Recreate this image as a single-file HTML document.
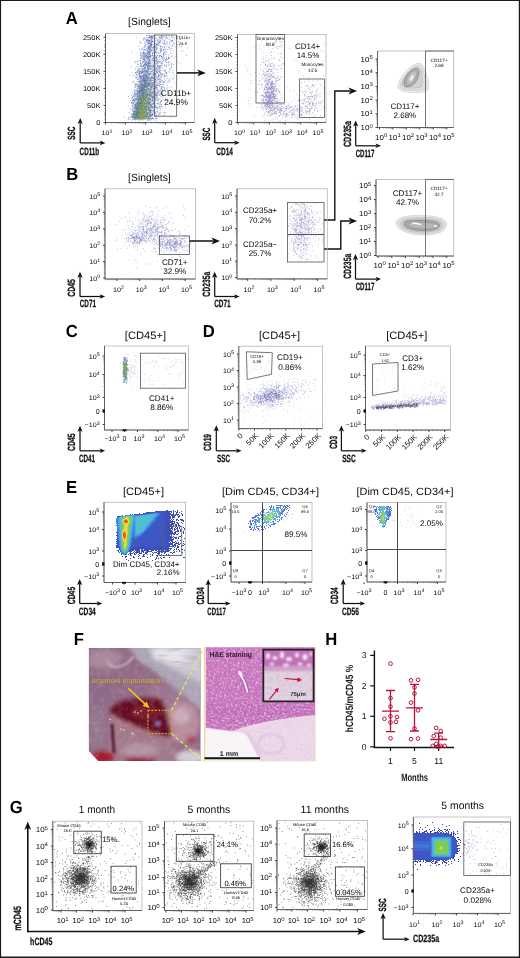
<!DOCTYPE html><html><head><meta charset="utf-8"><style>html,body{margin:0;padding:0;background:#fff}svg{display:block;will-change:transform}text{font-family:"Liberation Sans",sans-serif}</style></head><body>
<svg width="520" height="958" viewBox="0 0 520 958" text-rendering="geometricPrecision">
<defs>
<filter id="bs" x="-10%" y="-10%" width="120%" height="120%"><feGaussianBlur stdDeviation="0.35"/></filter>
<filter id="b1" x="-30%" y="-30%" width="160%" height="160%"><feGaussianBlur stdDeviation="1"/></filter>
<filter id="b2" x="-30%" y="-30%" width="160%" height="160%"><feGaussianBlur stdDeviation="2"/></filter>
<filter id="b3" x="-30%" y="-30%" width="160%" height="160%"><feGaussianBlur stdDeviation="3"/></filter>
<filter id="b5" x="-30%" y="-30%" width="160%" height="160%"><feGaussianBlur stdDeviation="5"/></filter>
<filter id="he" x="0" y="0" width="100%" height="100%"><feTurbulence type="fractalNoise" baseFrequency="0.45" numOctaves="2" seed="3"/><feColorMatrix type="matrix" values="0 0 0 0 0.92  0 0 0 0 0.66  0 0 0 0 0.9  2.4 0 0 0 -1.12"/></filter>
<filter id="hed" x="0" y="0" width="100%" height="100%"><feTurbulence type="fractalNoise" baseFrequency="0.5" numOctaves="2" seed="11"/><feColorMatrix type="matrix" values="0 0 0 0 0.56  0 0 0 0 0.22  0 0 0 0 0.6  0 3 0 0 -1.35"/></filter>
<filter id="he2" x="0" y="0" width="100%" height="100%"><feTurbulence type="fractalNoise" baseFrequency="0.5" numOctaves="2" seed="9"/><feColorMatrix type="matrix" values="0 0 0 0 0.75  0 0 0 0 0.5  0 0 0 0 0.75  0 3 0 0 -1.45"/></filter>
</defs>
<rect x="0" y="0" width="520" height="958" fill="#fff"/>
<text transform="translate(71.7,23.6) scale(0.95,1)" font-size="17.5" font-weight="bold" text-anchor="middle" fill="#000">A</text>
<text x="149.4" y="25.4" font-size="10.5" text-anchor="middle" fill="#0a0a0a" textLength="42.6" lengthAdjust="spacingAndGlyphs">[Singlets]</text>
<path d="M146 35.5h1m.5 0h1m.5 0h1m-.5 0h1m1 0h1m0 0h1m-.5 0h1m12 0h1m1.5 0h1m-21 .5h1m1 0h1m-.5 0h1m.5 0h1m.5 0h1m0 0h1m4 0h1m.5 0h1m-.5 0h1m.5 0h1m7 0h1m-23 .5h1m0 0h1m-.5 0h1m-.5 0h1m6.5 0h1m1 0h1m.5 0h1m2.5 0h1m4 0h1m.5 0h1m-24.5 .5h1m1.5 0h1m-.5 0h1m-.5 0h1m6 0h1m.5 0h1m1.5 0h1m0 0h1m-29 .5h1m9 0h1m1 0h1m-.5 0h1m0 0h1m-.5 0h1m-.5 0h1m-.5 0h1m-.5 0h1m5 0h1m2.5 0h1m3 0h1m0 0h1m1.5 0h1m1.5 0h1m-28 .5h1m2.5 0h1m-.5 0h1m.5 0h1m-.5 0h1m.5 0h1m2 0h1m3 0h1m.5 0h1m0 0h1m-.5 0h1m11.5 0h1m-32.5 .5h1m0 0h1m5 0h1m.5 0h1m0 0h1m2.5 0h1m3 0h1m-.5 0h1m4 0h1m.5 0h1m4.5 0h1m-30 .5h1m2 0h1m2.5 0h1m1.5 0h1m1 0h1m3 0h1m10 0h1m-25 .5h1m0 0h1m-.5 0h1m3 0h1m5 0h1m4 0h1m5.5 0h1m10 0h1m-.5 0h1m-38 .5h1m-.5 0h1m3.5 0h1m0 0h1m1 0h1m2 0h1m2.5 0h1m1 0h1m3 0h1m.5 0h1m6 0h1m1 0h1m-29 .5h1m-.5 0h1m-.5 0h1m-.5 0h1m-.5 0h1m0 0h1m-.5 0h1m0 0h1m0 0h1m1.5 0h1m0 0h1m1.5 0h1m1.5 0h1m9 0h1m0 0h1m0 0h1m-33.5 .5h1m5.5 0h1m-.5 0h1m0 0h1m0 0h1m-.5 0h1m0 0h1m1 0h1m4 0h1m1 0h1m.5 0h1m1.5 0h1m0 0h1m7 0h1m-28 .5h1m2.5 0h1m1.5 0h1m-.5 0h1m-.5 0h1m0 0h1m3.5 0h1m7.5 0h1m4 0h1m5.5 0h1m-33 .5h1m1 0h1m0 0h1m0 0h1m3.5 0h1m3 0h1m0 0h1m0 0h1m3 0h1m7 0h1m-33 .5h1m3 0h1m3 0h1m1.5 0h1m-.5 0h1m-.5 0h1m.5 0h1m2 0h1m2 0h1m.5 0h1m5 0h1m1.5 0h1m-29.5 .5h1m7 0h1m-.5 0h1m1 0h1m6.5 0h1m-.5 0h1m2 0h1m.5 0h1m2.5 0h1m5 0h1m-26.5 .5h1m-.5 0h1m-.5 0h1m-.5 0h1m-.5 0h1m-.5 0h1m4 0h1m.5 0h1m.5 0h1m4.5 0h1m.5 0h1m8 0h1m-35.5 .5h1m4 0h1m1 0h1m-.5 0h1m1.5 0h1m-.5 0h1m-.5 0h1m-.5 0h1m-.5 0h1m1.5 0h1m1.5 0h1m-.5 0h1m5.5 0h1m-.5 0h1m4 0h1m.5 0h1m4.5 0h1m-32 .5h1m-.5 0h1m3.5 0h1m0 0h1m-.5 0h1m3 0h1m-.5 0h1m0 0h1m7 0h1m11 0h1m-29.5 .5h1m1 0h1m-.5 0h1m-.5 0h1m.5 0h1m0 0h1m0 0h1m2.5 0h1m0 0h1m6.5 0h1m5.5 0h1m-30.5 .5h1m4 0h1m-.5 0h1m-.5 0h1m-.5 0h1m-.5 0h1m3.5 0h1m-.5 0h1m1 0h1m13 0h1m-28 .5h1m1.5 0h1m-.5 0h1m1 0h1m-.5 0h1m4 0h1m.5 0h1m10.5 0h1m1 0h1m-33.5 .5h1m5.5 0h1m2 0h1m-.5 0h1m.5 0h1m-.5 0h1m2 0h1m-.5 0h1m0 0h1m4.5 0h1m0 0h1m3.5 0h1m6 0h1m7.5 0h1m-36.5 .5h1m1 0h1m0 0h1m0 0h1m.5 0h1m.5 0h1m0 0h1m-.5 0h1m.5 0h1m3.5 0h1m1 0h1m.5 0h1m-.5 0h1m10 0h1m3.5 0h1m-38 .5h1m.5 0h1m2.5 0h1m0 0h1m-.5 0h1m0 0h1m0 0h1m.5 0h1m0 0h1m-.5 0h1m-.5 0h1m-.5 0h1m.5 0h1m6.5 0h1m3 0h1m0 0h1m-22 .5h1m-.5 0h1m0 0h1m1.5 0h1m-.5 0h1m0 0h1m-.5 0h1m1.5 0h1m2.5 0h1m26 0h1m-46 .5h1m4 0h1m0 0h1m.5 0h1m-.5 0h1m.5 0h1m4 0h1m2 0h1m1 0h1m2 0h1m5 0h1m0 0h1m-33.5 .5h1m3.5 0h1m1.5 0h1m.5 0h1m0 0h1m0 0h1m-.5 0h1m3 0h1m0 0h1m0 0h1m-.5 0h1m11.5 0h1m-29.5 .5h1m2 0h1m0 0h1m-.5 0h1m2.5 0h1m-.5 0h1m3 0h1m1 0h1m4 0h1m0 0h1m1 0h1m-.5 0h1m1 0h1m2 0h1m-28.5 .5h1m.5 0h1m2 0h1m.5 0h1m-.5 0h1m.5 0h1m0 0h1m-.5 0h1m-.5 0h1m4 0h1m3.5 0h1m3 0h1m1.5 0h1m-22.5 .5h1m2 0h1m-.5 0h1m.5 0h1m-.5 0h1m-.5 0h1m-.5 0h1m.5 0h1m0 0h1m4.5 0h1m.5 0h1m.5 0h1m9 0h1m-30.5 .5h1m3.5 0h1m1.5 0h1m6.5 0h1m1 0h1m0 0h1m8 0h1m10 0h1m1 0h1m-37.5 .5h1m-.5 0h1m0 0h1m-.5 0h1m0 0h1m4.5 0h1m4.5 0h1m3 0h1m-34 .5h1m7.5 0h1m1.5 0h1m0 0h1m3 0h1m-.5 0h1m.5 0h1m-.5 0h1m-.5 0h1m1.5 0h1m1 0h1m-.5 0h1m-.5 0h1m7.5 0h1m0 0h1m-27 .5h1m2 0h1m-.5 0h1m-.5 0h1m2 0h1m-.5 0h1m-.5 0h1m0 0h1m-.5 0h1m-.5 0h1m1.5 0h1m-.5 0h1m1 0h1m0 0h1m.5 0h1m2 0h1m2 0h1m-20.5 .5h1m-.5 0h1m0 0h1m1.5 0h1m0 0h1m-.5 0h1m.5 0h1m2 0h1m0 0h1m3 0h1m0 0h1m2.5 0h1m0 0h1m1 0h1m3 0h1m-35.5 .5h1m3.5 0h1m0 0h1m1 0h1m2 0h1m-.5 0h1m-.5 0h1m.5 0h1m-.5 0h1m2 0h1m-.5 0h1m2.5 0h1m1 0h1m4 0h1m7.5 0h1m-30.5 .5h1m-.5 0h1m0 0h1m-.5 0h1m-.5 0h1m3.5 0h1m4 0h1m-.5 0h1m-15 .5h1m1.5 0h1m-.5 0h1m.5 0h1m.5 0h1m0 0h1m-.5 0h1m-.5 0h1m-.5 0h1m0 0h1m1 0h1m10 0h1m.5 0h1m-.5 0h1m-21.5 .5h1m0 0h1m1 0h1m-.5 0h1m3.5 0h1m.5 0h1m4 0h1m.5 0h1m1.5 0h1m-.5 0h1m3.5 0h1m-29.5 .5h1m-.5 0h1m.5 0h1m0 0h1m0 0h1m0 0h1m0 0h1m-.5 0h1m-.5 0h1m2.5 0h1m.5 0h1m-.5 0h1m.5 0h1m.5 0h1m.5 0h1m-.5 0h1m2 0h1m25 0h1m-45.5 .5h1m3 0h1m-.5 0h1m-.5 0h1m1 0h1m-.5 0h1m-.5 0h1m-.5 0h1m0 0h1m0 0h1m1 0h1m2 0h1m.5 0h1m-.5 0h1m-.5 0h1m1 0h1m.5 0h1m7.5 0h1m-31.5 .5h1m1 0h1m0 0h1m0 0h1m-.5 0h1m.5 0h1m-.5 0h1m-.5 0h1m0 0h1m-.5 0h1m-.5 0h1m2 0h1m1.5 0h1m-.5 0h1m4 0h1m1 0h1m7 0h1m3.5 0h1m-36 .5h1m1.5 0h1m2 0h1m0 0h1m0 0h1m0 0h1m0 0h1m5 0h1m2.5 0h1m.5 0h1m-.5 0h1m0 0h1m2.5 0h1m1 0h1m-27.5 .5h1m0 0h1m.5 0h1m0 0h1m-.5 0h1m-.5 0h1m.5 0h1m0 0h1m.5 0h1m2 0h1m1.5 0h1m2 0h1m5 0h1m2.5 0h1m-.5 0h1m-29 .5h1m0 0h1m3.5 0h1m-.5 0h1m-.5 0h1m.5 0h1m0 0h1m1 0h1m0 0h1m-.5 0h1m-.5 0h1m.5 0h1m-.5 0h1m-.5 0h1m5 0h1m3 0h1m1 0h1m0 0h1m4 0h1m-35 .5h1m1.5 0h1m0 0h1m-.5 0h1m2 0h1m4.5 0h1m1.5 0h1m0 0h1m4.5 0h1m1.5 0h1m1 0h1m1.5 0h1m-27 .5h1m-.5 0h1m-.5 0h1m-.5 0h1m2.5 0h1m-.5 0h1m0 0h1m2 0h1m1 0h1m1.5 0h1m0 0h1m4.5 0h1m4 0h1m-26.5 .5h1m0 0h1m0 0h1m0 0h1m.5 0h1m0 0h1m-.5 0h1m2 0h1m1 0h1m1.5 0h1m2 0h1m5.5 0h1m0 0h1m-.5 0h1m-29.5 .5h1m5.5 0h1m3 0h1m-.5 0h1m0 0h1m0 0h1m0 0h1m0 0h1m7 0h1m.5 0h1m1 0h1m-.5 0h1m-26.5 .5h1m3 0h1m-.5 0h1m0 0h1m2 0h1m-.5 0h1m2.5 0h1m0 0h1m0 0h1m-.5 0h1m1 0h1m6.5 0h1m-27 .5h1m.5 0h1m1.5 0h1m1 0h1m2 0h1m.5 0h1m3 0h1m1.5 0h1m-.5 0h1m-.5 0h1m.5 0h1m4 0h1m1 0h1m0 0h1m-31.5 .5h1m.5 0h1m4 0h1m-.5 0h1m-.5 0h1m.5 0h1m.5 0h1m-.5 0h1m0 0h1m0 0h1m0 0h1m-.5 0h1m4.5 0h1m2.5 0h1m0 0h1m1 0h1m-28 .5h1m4 0h1m2 0h1m-.5 0h1m0 0h1m1 0h1m.5 0h1m.5 0h1m1.5 0h1m1.5 0h1m-.5 0h1m.5 0h1m-.5 0h1m0 0h1m0 0h1m.5 0h1m3 0h1m2 0h1m0 0h1m7.5 0h1m-32.5 .5h1m-.5 0h1m-.5 0h1m1 0h1m0 0h1m3 0h1m-.5 0h1m2 0h1m3 0h1m4 0h1m.5 0h1m1 0h1m-36 .5h1m4.5 0h1m1 0h1m1 0h1m0 0h1m1.5 0h1m-.5 0h1m-.5 0h1m-.5 0h1m0 0h1m-.5 0h1m2.5 0h1m3.5 0h1m8.5 0h1m10.5 0h1m-43.5 .5h1m2 0h1m.5 0h1m2 0h1m-.5 0h1m0 0h1m0 0h1m0 0h1m-.5 0h1m0 0h1m3 0h1m0 0h1m.5 0h1m-.5 0h1m3 0h1m0 0h1m-.5 0h1m8 0h1m-32 .5h1m1.5 0h1m1 0h1m-.5 0h1m2.5 0h1m.5 0h1m.5 0h1m.5 0h1m1.5 0h1m0 0h1m3.5 0h1m-25 .5h1m0 0h1m5 0h1m0 0h1m-.5 0h1m0 0h1m-.5 0h1m1.5 0h1m5 0h1m7.5 0h1m3.5 0h1m1.5 0h1m1 0h1m-33.5 .5h1m-.5 0h1m1.5 0h1m0 0h1m.5 0h1m-.5 0h1m0 0h1m-.5 0h1m-.5 0h1m1 0h1m.5 0h1m4 0h1m3 0h1m4 0h1m2.5 0h1m-30.5 .5h1m2 0h1m-.5 0h1m-.5 0h1m0 0h1m0 0h1m-.5 0h1m0 0h1m-.5 0h1m-.5 0h1m0 0h1m2.5 0h1m-.5 0h1m-.5 0h1m-.5 0h1m2 0h1m1 0h1m-.5 0h1m1 0h1m2.5 0h1m9.5 0h1m-36.5 .5h1m.5 0h1m-.5 0h1m2 0h1m.5 0h1m.5 0h1m-.5 0h1m-.5 0h1m0 0h1m0 0h1m0 0h1m-.5 0h1m4.5 0h1m-.5 0h1m-.5 0h1m3.5 0h1m1 0h1m1 0h1m-38.5 .5h1m5 0h1m1 0h1m1.5 0h1m-.5 0h1m.5 0h1m1 0h1m1 0h1m0 0h1m0 0h1m-.5 0h1m0 0h1m0 0h1m.5 0h1m1 0h1m1 0h1m0 0h1m1.5 0h1m4 0h1m4.5 0h1m-32.5 .5h1m1.5 0h1m1 0h1m0 0h1m1 0h1m1.5 0h1m6 0h1m1 0h1m0 0h1m10.5 0h1m-36.5 .5h1m7.5 0h1m-.5 0h1m-.5 0h1m.5 0h1m-.5 0h1m0 0h1m3.5 0h1m0 0h1m4 0h1m1 0h1m-18 .5h1m.5 0h1m1.5 0h1m.5 0h1m.5 0h1m-.5 0h1m0 0h1m.5 0h1m0 0h1m0 0h1m.5 0h1m0 0h1m.5 0h1m1.5 0h1m7 0h1m-31.5 .5h1m0 0h1m-.5 0h1m-.5 0h1m.5 0h1m-.5 0h1m-.5 0h1m0 0h1m1 0h1m-.5 0h1m-.5 0h1m1 0h1m.5 0h1m3.5 0h1m1.5 0h1m-24.5 .5h1m2 0h1m-.5 0h1m4 0h1m2 0h1m0 0h1m-.5 0h1m-.5 0h1m0 0h1m4.5 0h1m-.5 0h1m12.5 0h1m1 0h1m-30 .5h1m-.5 0h1m1 0h1m2 0h1m-.5 0h1m.5 0h1m0 0h1m1 0h1m0 0h1m1 0h1m.5 0h1m1 0h1m-22.5 .5h1m0 0h1m-.5 0h1m1.5 0h1m.5 0h1m0 0h1m0 0h1m-.5 0h1m1 0h1m-.5 0h1m1.5 0h1m1.5 0h1m-.5 0h1m1 0h1m-.5 0h1m1 0h1m0 0h1m0 0h1m2.5 0h1m0 0h1m4 0h1m-33 .5h1m3 0h1m1.5 0h1m.5 0h1m-.5 0h1m.5 0h1m4 0h1m2 0h1m3.5 0h1m3.5 0h1m7 0h1m-36 .5h1m.5 0h1m0 0h1m-.5 0h1m0 0h1m-.5 0h1m.5 0h1m-.5 0h1m.5 0h1m-.5 0h1m.5 0h1m1 0h1m1 0h1m0 0h1m2 0h1m.5 0h1m0 0h1m2.5 0h1m2 0h1m-28.5 .5h1m.5 0h1m.5 0h1m1.5 0h1m-.5 0h1m-.5 0h1m0 0h1m-.5 0h1m0 0h1m-.5 0h1m-.5 0h1m0 0h1m2 0h1m-.5 0h1m2 0h1m.5 0h1m1 0h1m0 0h1m4.5 0h1m-29.5 .5h1m.5 0h1m.5 0h1m-.5 0h1m-.5 0h1m0 0h1m-.5 0h1m-.5 0h1m-.5 0h1m1.5 0h1m-.5 0h1m.5 0h1m2 0h1m-.5 0h1m.5 0h1m3 0h1m-.5 0h1m1.5 0h1m-.5 0h1m7.5 0h1m.5 0h1m-35.5 .5h1m.5 0h1m-.5 0h1m.5 0h1m1.5 0h1m0 0h1m-.5 0h1m0 0h1m1.5 0h1m0 0h1m-.5 0h1m5 0h1m0 0h1m1 0h1m-.5 0h1m2 0h1m4.5 0h1m0 0h1m4.5 0h1m-41.5 .5h1m2 0h1m3.5 0h1m-.5 0h1m1.5 0h1m1 0h1m-.5 0h1m0 0h1m0 0h1m0 0h1m1 0h1m2.5 0h1m3 0h1m8 0h1m-31.5 .5h1m1.5 0h1m0 0h1m.5 0h1m-.5 0h1m1.5 0h1m0 0h1m2 0h1m0 0h1m-.5 0h1m4.5 0h1m-.5 0h1m-.5 0h1m2 0h1m.5 0h1m0 0h1m1.5 0h1m1 0h1m-.5 0h1m-26 .5h1m.5 0h1m1.5 0h1m1.5 0h1m-.5 0h1m.5 0h1m0 0h1m-.5 0h1m0 0h1m1 0h1m-.5 0h1m3 0h1m1 0h1m0 0h1m10.5 0h1m-38 .5h1m.5 0h1m.5 0h1m3 0h1m-.5 0h1m0 0h1m0 0h1m-.5 0h1m1.5 0h1m-.5 0h1m3 0h1m.5 0h1m-.5 0h1m-.5 0h1m4 0h1m.5 0h1m-28.5 .5h1m.5 0h1m2 0h1m0 0h1m2 0h1m-.5 0h1m0 0h1m0 0h1m-.5 0h1m-.5 0h1m-.5 0h1m-.5 0h1m-.5 0h1m0 0h1m.5 0h1m1 0h1m1 0h1m0 0h1m2 0h1m2 0h1m-.5 0h1m1 0h1m-.5 0h1m-36.5 .5h1m12.5 0h1m.5 0h1m-.5 0h1m.5 0h1m-.5 0h1m1 0h1m3.5 0h1m-.5 0h1m3.5 0h1m.5 0h1m3 0h1m1.5 0h1m-35.5 .5h1m1 0h1m4 0h1m-.5 0h1m.5 0h1m-.5 0h1m-.5 0h1m-.5 0h1m0 0h1m0 0h1m0 0h1m-.5 0h1m-.5 0h1m5 0h1m-.5 0h1m1.5 0h1m1 0h1m0 0h1m0 0h1m-.5 0h1m-21.5 .5h1m-.5 0h1m-.5 0h1m0 0h1m-.5 0h1m-.5 0h1m0 0h1m.5 0h1m-.5 0h1m-.5 0h1m0 0h1m-.5 0h1m.5 0h1m1 0h1m-.5 0h1m-.5 0h1m3 0h1m1.5 0h1m5 0h1m0 0h1m.5 0h1m6 0h1m-39 .5h1m0 0h1m1 0h1m-.5 0h1m-.5 0h1m2 0h1m-.5 0h1m-.5 0h1m-.5 0h1m.5 0h1m0 0h1m-.5 0h1m-.5 0h1m-.5 0h1m4.5 0h1m1.5 0h1m.5 0h1m1.5 0h1m0 0h1m-.5 0h1m1 0h1m-28 .5h1m2.5 0h1m1.5 0h1m0 0h1m0 0h1m.5 0h1m0 0h1m.5 0h1m1 0h1m-.5 0h1m0 0h1m-.5 0h1m-.5 0h1m1.5 0h1m1 0h1m-23.5 .5h1m0 0h1m2.5 0h1m0 0h1m-.5 0h1m-.5 0h1m0 0h1m-.5 0h1m-.5 0h1m-.5 0h1m0 0h1m2 0h1m0 0h1m-.5 0h1m0 0h1m-.5 0h1m.5 0h1m-.5 0h1m-.5 0h1m0 0h1m.5 0h1m13.5 0h1m-33 .5h1m0 0h1m0 0h1m-.5 0h1m.5 0h1m0 0h1m-.5 0h1m-.5 0h1m0 0h1m.5 0h1m-.5 0h1m2 0h1m-.5 0h1m.5 0h1m.5 0h1m4.5 0h1m6 0h1m5.5 0h1m-37 .5h1m2 0h1m2 0h1m0 0h1m-.5 0h1m-.5 0h1m-.5 0h1m-.5 0h1m-.5 0h1m0 0h1m-.5 0h1m.5 0h1m2.5 0h1m-.5 0h1m0 0h1m-.5 0h1m1 0h1m0 0h1m0 0h1m-.5 0h1m3.5 0h1m3.5 0h1m2.5 0h1m-36 .5h1m0 0h1m1.5 0h1m.5 0h1m-.5 0h1m-.5 0h1m.5 0h1m.5 0h1m-.5 0h1m2.5 0h1m3.5 0h1m0 0h1m1.5 0h1m-.5 0h1m1 0h1m-21 .5h1m-.5 0h1m.5 0h1m-.5 0h1m-.5 0h1m-.5 0h1m0 0h1m-.5 0h1m-.5 0h1m1.5 0h1m1 0h1m-.5 0h1m.5 0h1m1.5 0h1m4.5 0h1m8 0h1m-30 .5h1m0 0h1m0 0h1m-.5 0h1m-.5 0h1m-.5 0h1m-.5 0h1m-.5 0h1m-.5 0h1m-.5 0h1m-.5 0h1m-.5 0h1m-.5 0h1m0 0h1m-.5 0h1m0 0h1m0 0h1m0 0h1m-.5 0h1m.5 0h1m.5 0h1m.5 0h1m4 0h1m2 0h1m-32.5 .5h1m2 0h1m2 0h1m-.5 0h1m1.5 0h1m0 0h1m-.5 0h1m-.5 0h1m-.5 0h1m1 0h1m.5 0h1m0 0h1m0 0h1m3.5 0h1m2.5 0h1m0 0h1m.5 0h1m6 0h1m.5 0h1m-32.5 .5h1m-.5 0h1m0 0h1m.5 0h1m0 0h1m0 0h1m-.5 0h1m-.5 0h1m-.5 0h1m1 0h1m2 0h1m0 0h1m2 0h1m1.5 0h1m2 0h1m0 0h1m2 0h1m-.5 0h1m-31.5 .5h1m4 0h1m0 0h1m1.5 0h1m.5 0h1m-.5 0h1m0 0h1m-.5 0h1m-.5 0h1m-.5 0h1m.5 0h1m4.5 0h1m-.5 0h1m-.5 0h1m-.5 0h1m-.5 0h1m-.5 0h1m3.5 0h1m2.5 0h1m-.5 0h1m2 0h1m.5 0h1m-37.5 .5h1m6 0h1m0 0h1m-.5 0h1m0 0h1m2 0h1m-.5 0h1m0 0h1m.5 0h1m1.5 0h1m0 0h1m-.5 0h1m1 0h1m5 0h1m1.5 0h1m0 0h1m-26.5 .5h1m2 0h1m.5 0h1m.5 0h1m-.5 0h1m-.5 0h1m-.5 0h1m0 0h1m0 0h1m-.5 0h1m.5 0h1m-.5 0h1m0 0h1m0 0h1m-.5 0h1m1 0h1m0 0h1m.5 0h1m-.5 0h1m0 0h1m.5 0h1m13.5 0h1m-35.5 .5h1m-.5 0h1m0 0h1m-.5 0h1m1 0h1m-.5 0h1m.5 0h1m-.5 0h1m.5 0h1m-.5 0h1m0 0h1m3 0h1m0 0h1m4 0h1m-24.5 .5h1m0 0h1m1 0h1m2 0h1m-.5 0h1m0 0h1m-.5 0h1m.5 0h1m1.5 0h1m-.5 0h1m-.5 0h1m0 0h1m-.5 0h1m.5 0h1m.5 0h1m0 0h1m-.5 0h1m7.5 0h1m2 0h1m-32.5 .5h1m0 0h1m0 0h1m1.5 0h1m-.5 0h1m-.5 0h1m.5 0h1m.5 0h1m0 0h1m1.5 0h1m-.5 0h1m-.5 0h1m-.5 0h1m0 0h1m1.5 0h1m.5 0h1m.5 0h1m1.5 0h1m.5 0h1m.5 0h1m.5 0h1m.5 0h1m-29.5 .5h1m0 0h1m.5 0h1m.5 0h1m1 0h1m-.5 0h1m0 0h1m-.5 0h1m-.5 0h1m0 0h1m0 0h1m-.5 0h1m-.5 0h1m0 0h1m-.5 0h1m-.5 0h1m-.5 0h1m-.5 0h1m-.5 0h1m.5 0h1m-.5 0h1m-.5 0h1m.5 0h1m-.5 0h1m5.5 0h1m-24 .5h1m1 0h1m-.5 0h1m-.5 0h1m-.5 0h1m-.5 0h1m-.5 0h1m0 0h1m-.5 0h1m-.5 0h1m-.5 0h1m0 0h1m-.5 0h1m.5 0h1m-.5 0h1m.5 0h1m4.5 0h1m0 0h1m.5 0h1m-.5 0h1m0 0h1m7 0h1m-33 .5h1m1.5 0h1m0 0h1m0 0h1m-.5 0h1m0 0h1m-.5 0h1m-.5 0h1m0 0h1m0 0h1m-.5 0h1m-.5 0h1m-.5 0h1m-.5 0h1m1.5 0h1m1.5 0h1m0 0h1m1.5 0h1m1 0h1m1 0h1m-24 .5h1m.5 0h1m-.5 0h1m0 0h1m-.5 0h1m3.5 0h1m-.5 0h1m-.5 0h1m-.5 0h1m-.5 0h1m.5 0h1m-.5 0h1m-.5 0h1m.5 0h1m0 0h1m-.5 0h1m-.5 0h1m-.5 0h1m0 0h1m.5 0h1m0 0h1m4.5 0h1m0 0h1m.5 0h1m-30.5 .5h1m2.5 0h1m0 0h1m-.5 0h1m.5 0h1m-.5 0h1m-.5 0h1m0 0h1m-.5 0h1m0 0h1m0 0h1m0 0h1m0 0h1m2.5 0h1m-.5 0h1m2 0h1m-.5 0h1m-.5 0h1m.5 0h1m2 0h1m7 0h1m-33.5 .5h1m2.5 0h1m0 0h1m-.5 0h1m-.5 0h1m-.5 0h1m-.5 0h1m-.5 0h1m0 0h1m-.5 0h1m-.5 0h1m-.5 0h1m-.5 0h1m0 0h1m2.5 0h1m1 0h1m2.5 0h1m-.5 0h1m-.5 0h1m-.5 0h1m3.5 0h1m1 0h1m6.5 0h1m-35 .5h1m.5 0h1m0 0h1m1 0h1m0 0h1m-.5 0h1m-.5 0h1m-.5 0h1m-.5 0h1m-.5 0h1m1.5 0h1m0 0h1m1.5 0h1m2 0h1m1 0h1m3 0h1m1.5 0h1m1 0h1m1.5 0h1m-30.5 .5h1m1 0h1m-.5 0h1m0 0h1m-.5 0h1m-.5 0h1m-.5 0h1m-.5 0h1m-.5 0h1m3.5 0h1m-.5 0h1m-.5 0h1m.5 0h1m-.5 0h1m1.5 0h1m-.5 0h1m.5 0h1m-.5 0h1m4.5 0h1m-24.5 .5h1m-.5 0h1m-.5 0h1m-.5 0h1m-.5 0h1m-.5 0h1m-.5 0h1m.5 0h1m-.5 0h1m-.5 0h1m0 0h1m0 0h1m0 0h1m-.5 0h1m-.5 0h1m-.5 0h1m0 0h1m3.5 0h1m-.5 0h1m1.5 0h1m0 0h1m2.5 0h1m-28 .5h1m6 0h1m-.5 0h1m-.5 0h1m.5 0h1m-.5 0h1m-.5 0h1m-.5 0h1m-.5 0h1m2.5 0h1m0 0h1m-.5 0h1m0 0h1m1.5 0h1m-.5 0h1m-.5 0h1m5.5 0h1m2 0h1m2 0h1m-33.5 .5h1m.5 0h1m-.5 0h1m2.5 0h1m-.5 0h1m-.5 0h1m0 0h1m0 0h1m0 0h1m-.5 0h1m0 0h1m-.5 0h1m-.5 0h1m-.5 0h1m0 0h1m-.5 0h1m.5 0h1m3 0h1m1.5 0h1m-.5 0h1m-.5 0h1m1 0h1m1.5 0h1m-.5 0h1m17.5 0h1m-46.5 .5h1m0 0h1m1 0h1m0 0h1m.5 0h1m-.5 0h1m-.5 0h1m-.5 0h1m-.5 0h1m0 0h1m1 0h1m.5 0h1m4 0h1m0 0h1m0 0h1m-20.5 .5h1m1 0h1m-.5 0h1m.5 0h1m0 0h1m-.5 0h1m-.5 0h1m-.5 0h1m0 0h1m.5 0h1m-.5 0h1m2 0h1m0 0h1m-.5 0h1m0 0h1m-.5 0h1m3 0h1m3 0h1m0 0h1m-.5 0h1m-28.5 .5h1m.5 0h1m2 0h1m-.5 0h1m-.5 0h1m0 0h1m-.5 0h1m-.5 0h1m-.5 0h1m-.5 0h1m-.5 0h1m0 0h1m-.5 0h1m1 0h1m-.5 0h1m-.5 0h1m2.5 0h1m.5 0h1m1 0h1m.5 0h1m-.5 0h1m1 0h1m4 0h1m-26.5 .5h1m0 0h1m-.5 0h1m-.5 0h1m-.5 0h1m-.5 0h1m0 0h1m0 0h1m-.5 0h1m0 0h1m-.5 0h1m-.5 0h1m0 0h1m-.5 0h1m0 0h1m1 0h1m1 0h1m4 0h1m1.5 0h1m-.5 0h1m1.5 0h1m-27.5 .5h1m2 0h1m-.5 0h1m-.5 0h1m-.5 0h1m.5 0h1m-.5 0h1m.5 0h1m-.5 0h1m-.5 0h1m-.5 0h1m.5 0h1m0 0h1m0 0h1m-.5 0h1m-.5 0h1m.5 0h1m.5 0h1m0 0h1m-.5 0h1m-.5 0h1m1.5 0h1m0 0h1m10.5 0h1m-35 .5h1m1 0h1m-.5 0h1m0 0h1m1.5 0h1m0 0h1m-.5 0h1m0 0h1m-.5 0h1m.5 0h1m0 0h1m5 0h1m1.5 0h1m1 0h1m.5 0h1m.5 0h1m1 0h1m0 0h1m-31.5 .5h1m1 0h1m0 0h1m0 0h1m0 0h1m1 0h1m-.5 0h1m0 0h1m0 0h1m-.5 0h1m-.5 0h1m-.5 0h1m-.5 0h1m.5 0h1m1 0h1m.5 0h1m0 0h1m-.5 0h1m.5 0h1m2.5 0h1m0 0h1m3 0h1m-27 .5h1m1 0h1m.5 0h1m.5 0h1m-.5 0h1m-.5 0h1m-.5 0h1m0 0h1m0 0h1m0 0h1m2 0h1m-.5 0h1m2.5 0h1m1 0h1m-.5 0h1m2.5 0h1m0 0h1m10.5 0h1m-36.5 .5h1m0 0h1m0 0h1m.5 0h1m-.5 0h1m-.5 0h1m1.5 0h1m-.5 0h1m-.5 0h1m0 0h1m.5 0h1m0 0h1m-.5 0h1m-.5 0h1m-.5 0h1m-.5 0h1m-.5 0h1m-.5 0h1m0 0h1m-.5 0h1m0 0h1m0 0h1m1 0h1m-.5 0h1m-.5 0h1m-.5 0h1m3 0h1m1 0h1m0 0h1m-27.5 .5h1m.5 0h1m-.5 0h1m.5 0h1m-.5 0h1m.5 0h1m.5 0h1m-.5 0h1m-.5 0h1m-.5 0h1m.5 0h1m0 0h1m0 0h1m1 0h1m0 0h1m4.5 0h1m0 0h1m-.5 0h1m1.5 0h1m-30 .5h1m1.5 0h1m3 0h1m.5 0h1m-.5 0h1m.5 0h1m-.5 0h1m-.5 0h1m-.5 0h1m-.5 0h1m1 0h1m0 0h1m-.5 0h1m-.5 0h1m-.5 0h1m0 0h1m-.5 0h1m-.5 0h1m-.5 0h1m-.5 0h1m0 0h1m.5 0h1m.5 0h1m-.5 0h1m-.5 0h1m-.5 0h1m-.5 0h1m1.5 0h1m-26 .5h1m0 0h1m-.5 0h1m0 0h1m-.5 0h1m0 0h1m-.5 0h1m-.5 0h1m-.5 0h1m0 0h1m0 0h1m-.5 0h1m-.5 0h1m.5 0h1m.5 0h1m0 0h1m-.5 0h1m1 0h1m.5 0h1m0 0h1m0 0h1m2 0h1m-28.5 .5h1m4 0h1m.5 0h1m1.5 0h1m-.5 0h1m0 0h1m0 0h1m-.5 0h1m.5 0h1m0 0h1m0 0h1m-.5 0h1m-.5 0h1m.5 0h1m0 0h1m-.5 0h1m1 0h1m0 0h1m.5 0h1m0 0h1m2 0h1m4 0h1m-30 .5h1m0 0h1m2.5 0h1m0 0h1m.5 0h1m-.5 0h1m-.5 0h1m-.5 0h1m0 0h1m-.5 0h1m-.5 0h1m1.5 0h1m-.5 0h1m-.5 0h1m1.5 0h1m3 0h1m-.5 0h1m.5 0h1m0 0h1m3.5 0h1m1.5 0h1m-31.5 .5h1m4 0h1m-.5 0h1m0 0h1m0 0h1m-.5 0h1m.5 0h1m-.5 0h1m-.5 0h1m-.5 0h1m.5 0h1m.5 0h1m.5 0h1m-.5 0h1m-.5 0h1m-.5 0h1m2.5 0h1m0 0h1m-.5 0h1m1.5 0h1m-.5 0h1m-26 .5h1m1 0h1m1.5 0h1m0 0h1m1 0h1m0 0h1m-.5 0h1m-.5 0h1m-.5 0h1m-.5 0h1m-.5 0h1m1 0h1m-.5 0h1m1 0h1m0 0h1m1 0h1m1 0h1m.5 0h1m.5 0h1m8.5 0h1m-35 .5h1m1.5 0h1m2 0h1m1 0h1m-.5 0h1m0 0h1m-.5 0h1m1 0h1m-.5 0h1m-.5 0h1m-.5 0h1m2.5 0h1m-.5 0h1m-.5 0h1m-.5 0h1m-.5 0h1m0 0h1m.5 0h1m1 0h1m0 0h1m1.5 0h1m-24.5 .5h1m0 0h1m-.5 0h1m-.5 0h1m0 0h1m-.5 0h1m-.5 0h1m-.5 0h1m1 0h1m0 0h1m-.5 0h1m-.5 0h1m-.5 0h1m-.5 0h1m-.5 0h1m-.5 0h1m-.5 0h1m.5 0h1m4.5 0h1m1 0h1m1.5 0h1m1 0h1m2.5 0h1m-30 .5h1m1.5 0h1m1.5 0h1m-.5 0h1m0 0h1m0 0h1m-.5 0h1m-.5 0h1m-.5 0h1m.5 0h1m-.5 0h1m2 0h1m-.5 0h1m-.5 0h1m0 0h1m-.5 0h1m-.5 0h1m2.5 0h1m.5 0h1m1.5 0h1m1 0h1m5.5 0h1m-36 .5h1m.5 0h1m-.5 0h1m-.5 0h1m2 0h1m0 0h1m-.5 0h1m0 0h1m0 0h1m-.5 0h1m-.5 0h1m-.5 0h1m0 0h1m0 0h1m-.5 0h1m-.5 0h1m1.5 0h1m-.5 0h1m.5 0h1m0 0h1m-.5 0h1m0 0h1m-.5 0h1m0 0h1m1.5 0h1m1 0h1m5 0h1m1.5 0h1m-.5 0h1m-35.5 .5h1m0 0h1m-.5 0h1m0 0h1m0 0h1m.5 0h1m-.5 0h1m-.5 0h1m1 0h1m-.5 0h1m-.5 0h1m0 0h1m-.5 0h1m-.5 0h1m1 0h1m1.5 0h1m-.5 0h1m1.5 0h1m.5 0h1m-.5 0h1m2 0h1m0 0h1m3.5 0h1m2.5 0h1m1 0h1m-38 .5h1m2 0h1m.5 0h1m-.5 0h1m0 0h1m.5 0h1m-.5 0h1m-.5 0h1m1 0h1m-.5 0h1m0 0h1m0 0h1m2 0h1m0 0h1m3 0h1m0 0h1m-.5 0h1m-.5 0h1m0 0h1m-.5 0h1m-.5 0h1m2 0h1m2 0h1m0 0h1m-28.5 .5h1m4.5 0h1m0 0h1m-.5 0h1m-.5 0h1m1 0h1m1.5 0h1m0 0h1m-.5 0h1m1 0h1m-.5 0h1m8.5 0h1m.5 0h1m-31 .5h1m0 0h1m4 0h1m0 0h1m-.5 0h1m-.5 0h1m-.5 0h1m0 0h1m-.5 0h1m0 0h1m-.5 0h1m-.5 0h1m-.5 0h1m-.5 0h1m-.5 0h1m-.5 0h1m.5 0h1m.5 0h1m-.5 0h1m0 0h1m3.5 0h1m5 0h1m-30 .5h1m-.5 0h1m.5 0h1m0 0h1m1.5 0h1m-.5 0h1m.5 0h1m-.5 0h1m-.5 0h1m0 0h1m-.5 0h1m-.5 0h1m1 0h1m1 0h1m1 0h1m.5 0h1m-.5 0h1m-.5 0h1m-.5 0h1m1.5 0h1m-19.5 .5h1m0 0h1m.5 0h1m-.5 0h1m0 0h1m-.5 0h1m0 0h1m0 0h1m-.5 0h1m-.5 0h1m1 0h1m.5 0h1m-.5 0h1m0 0h1m-.5 0h1m0 0h1m.5 0h1m1 0h1m.5 0h1m-.5 0h1m2 0h1m1.5 0h1m-.5 0h1m-29.5 .5h1m0 0h1m-.5 0h1m2 0h1m-.5 0h1m0 0h1m-.5 0h1m-.5 0h1m0 0h1m-.5 0h1m.5 0h1m1.5 0h1m-.5 0h1m.5 0h1m-.5 0h1m-.5 0h1m-.5 0h1m-.5 0h1m0 0h1m.5 0h1m1.5 0h1m-.5 0h1m1 0h1m1 0h1m-27 .5h1m.5 0h1m1.5 0h1m0 0h1m0 0h1m-.5 0h1m-.5 0h1m0 0h1m-.5 0h1m-.5 0h1m0 0h1m-.5 0h1m-.5 0h1m-.5 0h1m-.5 0h1m0 0h1m0 0h1m-.5 0h1m-.5 0h1m0 0h1m0 0h1m2 0h1m-.5 0h1m-.5 0h1m0 0h1m2.5 0h1m.5 0h1m7 0h1m2 0h1m-36.5 .5h1m-.5 0h1m-.5 0h1m0 0h1m1 0h1m1 0h1m-.5 0h1m0 0h1m.5 0h1m-.5 0h1m1.5 0h1m-.5 0h1m.5 0h1m-.5 0h1m0 0h1m-.5 0h1m-.5 0h1m2 0h1m6 0h1m-.5 0h1m2.5 0h1m-32 .5h1m1.5 0h1m.5 0h1m0 0h1m-.5 0h1m-.5 0h1m0 0h1m0 0h1m0 0h1m-.5 0h1m.5 0h1m-.5 0h1m1.5 0h1m1.5 0h1m0 0h1m6.5 0h1m-27.5 .5h1m1.5 0h1m-.5 0h1m.5 0h1m-.5 0h1m0 0h1m-.5 0h1m-.5 0h1m-.5 0h1m-.5 0h1m-.5 0h1m-.5 0h1m-.5 0h1m-.5 0h1m-.5 0h1m1.5 0h1m-.5 0h1m2.5 0h1m-.5 0h1m-.5 0h1m-.5 0h1m3.5 0h1m-.5 0h1m3 0h1m-32.5 .5h1m2.5 0h1m1.5 0h1m.5 0h1m0 0h1m0 0h1m-.5 0h1m-.5 0h1m-.5 0h1m-.5 0h1m0 0h1m-.5 0h1m-.5 0h1m2 0h1m-.5 0h1m0 0h1m-.5 0h1m0 0h1m.5 0h1m.5 0h1m0 0h1m2.5 0h1m5 0h1m-29.5 .5h1m1.5 0h1m0 0h1m-.5 0h1m-.5 0h1m-.5 0h1m-.5 0h1m-.5 0h1m-.5 0h1m-.5 0h1m-.5 0h1m-.5 0h1m0 0h1m1 0h1m-.5 0h1m0 0h1m-.5 0h1m0 0h1m3.5 0h1m-.5 0h1m-.5 0h1m.5 0h1m0 0h1m3.5 0h1m.5 0h1m3.5 0h1m-32.5 .5h1m-.5 0h1m-.5 0h1m1 0h1m1 0h1m-.5 0h1m0 0h1m-.5 0h1m0 0h1m-.5 0h1m-.5 0h1m0 0h1m-.5 0h1m1 0h1m1 0h1m1 0h1m.5 0h1m0 0h1m-.5 0h1m1 0h1m4.5 0h1m-29 .5h1m1.5 0h1m-.5 0h1m0 0h1m-.5 0h1m0 0h1m1 0h1m-.5 0h1m-.5 0h1m1.5 0h1m-.5 0h1m-.5 0h1m-.5 0h1m1 0h1m-.5 0h1m-.5 0h1m-.5 0h1m0 0h1m-.5 0h1m-.5 0h1m-.5 0h1m-.5 0h1m.5 0h1m-.5 0h1m1 0h1m.5 0h1m0 0h1m-.5 0h1m-27 .5h1m0 0h1m.5 0h1m-.5 0h1m-.5 0h1m.5 0h1m-.5 0h1m0 0h1m-.5 0h1m-.5 0h1m-.5 0h1m4.5 0h1m1 0h1m-.5 0h1m0 0h1m.5 0h1m0 0h1m2 0h1m0 0h1m-.5 0h1m2 0h1m1.5 0h1m2 0h1m-36 .5h1m2.5 0h1m.5 0h1m-.5 0h1m-.5 0h1m-.5 0h1m-.5 0h1m-.5 0h1m-.5 0h1m-.5 0h1m-.5 0h1m-.5 0h1m-.5 0h1m.5 0h1m-.5 0h1m-.5 0h1m.5 0h1m0 0h1m-.5 0h1m-.5 0h1m1 0h1m-.5 0h1m2.5 0h1m-20.5 .5h1m.5 0h1m0 0h1m-.5 0h1m0 0h1m-.5 0h1m1 0h1m-.5 0h1m0 0h1m-.5 0h1m.5 0h1m1 0h1m1 0h1m.5 0h1m-.5 0h1m0 0h1m6.5 0h1m2 0h1m-31.5 .5h1m5.5 0h1m-.5 0h1m-.5 0h1m-.5 0h1m.5 0h1m-.5 0h1m-.5 0h1m-.5 0h1m-.5 0h1m1 0h1m0 0h1m.5 0h1m-.5 0h1m0 0h1m0 0h1m0 0h1m0 0h1m3 0h1m-23 .5h1m1 0h1m.5 0h1m-.5 0h1m0 0h1m.5 0h1m1 0h1m0 0h1m-.5 0h1m-.5 0h1m2 0h1m1.5 0h1m0 0h1m-.5 0h1m-.5 0h1m0 0h1m.5 0h1m-.5 0h1m-21.5 .5h1m.5 0h1m.5 0h1m0 0h1m.5 0h1m0 0h1m-.5 0h1m-.5 0h1m.5 0h1m0 0h1m0 0h1m0 0h1m-.5 0h1m3 0h1m-.5 0h1m-.5 0h1m-.5 0h1m-.5 0h1m7.5 0h1m-27 .5h1m0 0h1m0 0h1m.5 0h1m-.5 0h1m-.5 0h1m-.5 0h1m0 0h1m1.5 0h1m0 0h1m-.5 0h1m-.5 0h1m3 0h1m.5 0h1m0 0h1m.5 0h1m-.5 0h1m0 0h1m2 0h1m-25 .5h1m0 0h1m-.5 0h1m-.5 0h1m-.5 0h1m-.5 0h1m-.5 0h1m-.5 0h1m-.5 0h1m-.5 0h1m-.5 0h1m-.5 0h1m-.5 0h1m-.5 0h1m-.5 0h1m.5 0h1m-.5 0h1m.5 0h1m-.5 0h1m4 0h1m-.5 0h1m-.5 0h1m3.5 0h1m1.5 0h1m-24.5 .5h1m-.5 0h1m0 0h1m.5 0h1m0 0h1m-.5 0h1m-.5 0h1m-.5 0h1m0 0h1m-.5 0h1m0 0h1m.5 0h1m-.5 0h1m-.5 0h1m-.5 0h1m.5 0h1m-.5 0h1m2.5 0h1m.5 0h1m.5 0h1m3.5 0h1m-30 .5h1m3.5 0h1m1 0h1m-.5 0h1m-.5 0h1m-.5 0h1m-.5 0h1m-.5 0h1m0 0h1m0 0h1m-.5 0h1m.5 0h1m.5 0h1m-.5 0h1m-.5 0h1m-.5 0h1m.5 0h1m.5 0h1m-.5 0h1m-.5 0h1m.5 0h1m0 0h1m3.5 0h1m3 0h1m3 0h1m-.5 0h1m.5 0h1m-37 .5h1m3 0h1m-.5 0h1m0 0h1m-.5 0h1m-.5 0h1m-.5 0h1m-.5 0h1m-.5 0h1m-.5 0h1m-.5 0h1m0 0h1m-.5 0h1m-.5 0h1m-.5 0h1m-.5 0h1m0 0h1m-.5 0h1m-.5 0h1m-.5 0h1m-.5 0h1m0 0h1m0 0h1m-.5 0h1m2 0h1m1.5 0h1m0 0h1m.5 0h1m1.5 0h1m2 0h1m-29.5 .5h1m-.5 0h1m.5 0h1m.5 0h1m0 0h1m-.5 0h1m1 0h1m-.5 0h1m-.5 0h1m.5 0h1m-.5 0h1m3.5 0h1m0 0h1m0 0h1m0 0h1m-.5 0h1m1 0h1m1.5 0h1m3.5 0h1m-29 .5h1m.5 0h1m-.5 0h1m1.5 0h1m0 0h1m0 0h1m-.5 0h1m-.5 0h1m.5 0h1m0 0h1m.5 0h1m-.5 0h1m-.5 0h1m.5 0h1m1 0h1m-.5 0h1m1.5 0h1m1.5 0h1m1 0h1m-23 .5h1m-.5 0h1m0 0h1m-.5 0h1m-.5 0h1m-.5 0h1m-.5 0h1m0 0h1m1 0h1m0 0h1m-.5 0h1m-.5 0h1m.5 0h1m-.5 0h1m1 0h1m-.5 0h1m-.5 0h1m2.5 0h1m.5 0h1m-.5 0h1m-.5 0h1m-.5 0h1m5.5 0h1m-29 .5h1m2.5 0h1m-.5 0h1m-.5 0h1m-.5 0h1m-.5 0h1m-.5 0h1m-.5 0h1m-.5 0h1m0 0h1m-.5 0h1m-.5 0h1m1.5 0h1m-.5 0h1m-.5 0h1m.5 0h1m1 0h1m1.5 0h1m-.5 0h1m-.5 0h1m-.5 0h1m0 0h1m3 0h1m3.5 0h1m3 0h1m-32.5 .5h1m0 0h1m-.5 0h1m0 0h1m-.5 0h1m-.5 0h1m-.5 0h1m0 0h1m-.5 0h1m-.5 0h1m-.5 0h1m-.5 0h1m-.5 0h1m0 0h1m.5 0h1m2 0h1m3 0h1m-.5 0h1m0 0h1m-.5 0h1m1.5 0h1m2.5 0h1m4.5 0h1m-32.5 .5h1m-.5 0h1m-.5 0h1m0 0h1m.5 0h1m-.5 0h1m-.5 0h1m0 0h1m-.5 0h1m-.5 0h1m-.5 0h1m-.5 0h1m-.5 0h1m3.5 0h1m-.5 0h1m-.5 0h1m0 0h1m0 0h1m0 0h1m-.5 0h1m0 0h1m4 0h1m-25.5 .5h1m0 0h1m0 0h1m-.5 0h1m.5 0h1m-.5 0h1m-.5 0h1m0 0h1m-.5 0h1m-.5 0h1m.5 0h1m1 0h1m-.5 0h1m0 0h1m.5 0h1m0 0h1m.5 0h1m0 0h1m-.5 0h1m0 0h1m-.5 0h1m0 0h1m-21 .5h1m1 0h1m0 0h1m-.5 0h1m-.5 0h1m0 0h1m-.5 0h1m-.5 0h1m-.5 0h1m-.5 0h1m-.5 0h1m0 0h1m-.5 0h1m1 0h1m-.5 0h1m.5 0h1m1 0h1m1 0h1m-.5 0h1m-.5 0h1m0 0h1m1 0h1m-28.5 .5h1m6.5 0h1m0 0h1m0 0h1m.5 0h1m.5 0h1m-.5 0h1m-.5 0h1m0 0h1m.5 0h1m-.5 0h1m-.5 0h1m0 0h1m-.5 0h1m0 0h1m0 0h1m-.5 0h1m.5 0h1m0 0h1m2 0h1m.5 0h1m17.5 0h1m-43.5 .5h1m2.5 0h1m0 0h1m0 0h1m-.5 0h1m0 0h1m0 0h1m-.5 0h1m0 0h1m-.5 0h1m-.5 0h1m-.5 0h1m-.5 0h1m-.5 0h1m0 0h1m-.5 0h1m0 0h1m0 0h1m-.5 0h1m-.5 0h1m.5 0h1m2 0h1m2 0h1m2.5 0h1m0 0h1m-25 .5h1m.5 0h1m0 0h1m0 0h1m-.5 0h1m0 0h1m-.5 0h1m0 0h1m0 0h1m-.5 0h1m-.5 0h1m0 0h1m-.5 0h1m0 0h1m1 0h1m0 0h1m0 0h1m-.5 0h1m-.5 0h1m-.5 0h1m-.5 0h1m-.5 0h1m-.5 0h1m1 0h1m2 0h1m-.5 0h1m-29.5 .5h1m5 0h1m0 0h1m2 0h1m0 0h1m-.5 0h1m.5 0h1m-.5 0h1m-.5 0h1m-.5 0h1m0 0h1m-.5 0h1m.5 0h1m.5 0h1m0 0h1m0 0h1m.5 0h1m-.5 0h1m1.5 0h1m1.5 0h1m-28.5 .5h1m1 0h1m2 0h1m0 0h1m.5 0h1m0 0h1m1 0h1m5 0h1m2 0h1m2.5 0h1m-20 .5h1m2 0h1m2.5 0h1m1 0h1m6.5 0h1m0 0h1m4 0h1m-8 .5h1m2 0h1m-12 .5h1m2.5 0h1m13 0h1" stroke="#4656a6" stroke-width="0.9" stroke-opacity="0.47"/>
<path d="M151.5 41.5h1m-5 .5h1m4.5 8h1m-10 6.5h1m1 1.5h1m0 0h1m0 .5h1m-.5 0h1m3.5 2.5h1m-5.5 2h1m-2.5 .5h1m-4 1h1m1 0h1m-4 .5h1m7.5 1h1m4.5 0h1m-15 .5h1m11 .5h1m2.5 0h1m-12 .5h1m0 0h1m5 .5h1m-8.5 2.5h1m1 .5h1m2 0h1m2 .5h1m-15.5 .5h1m5.5 0h1m-.5 .5h1m5 0h1m-4.5 .5h1m-.5 0h1m-10.5 .5h1m10.5 0h1m-.5 0h1m-4 .5h1m-14 1h1m2 0h1m8 0h1m-11 .5h1m3 0h1m0 0h1m.5 0h1m-.5 .5h1m8.5 .5h1m-16.5 .5h1m-.5 .5h1m3.5 0h1m.5 0h1m.5 .5h1m2.5 0h1m-.5 0h1m-10.5 .5h1m4 0h1m8.5 0h1m-9.5 .5h1m2 0h1m-3.5 .5h1m4.5 0h1m-16.5 .5h1m2 0h1m4 0h1m1.5 0h1m-10 .5h1m3 0h1m.5 0h1m-5.5 .5h1m-3.5 .5h1m1 0h1m1 0h1m1 0h1m2.5 0h1m-4 .5h1m6.5 0h1m-9.5 .5h1m2.5 0h1m-.5 0h1m2.5 0h1m-18 .5h1m4.5 0h1m4 0h1m.5 0h1m0 0h1m-.5 0h1m0 .5h1m-7 .5h1m-.5 0h1m0 0h1m-.5 0h1m1.5 0h1m1.5 0h1m-7.5 .5h1m4 0h1m-.5 0h1m10.5 0h1m-17.5 .5h1m0 0h1m1 0h1m-.5 0h1m2.5 0h1m0 0h1m2.5 0h1m-.5 0h1m-20 .5h1m4.5 0h1m8 0h1m-8.5 .5h1m1 0h1m3.5 0h1m-11.5 .5h1m0 0h1m0 0h1m-.5 0h1m0 0h1m-.5 0h1m.5 0h1m1.5 0h1m4 0h1m0 0h1m-5 .5h1m-8.5 .5h1m2.5 0h1m3 0h1m1 0h1m-11 .5h1m2.5 0h1m-3.5 .5h1m-3 .5h1m0 0h1m0 0h1m6.5 0h1m0 0h1m-.5 0h1m.5 0h1m-15.5 .5h1m0 0h1m0 0h1m2.5 0h1m4.5 0h1m-10.5 .5h1m1 0h1m2 0h1m2.5 0h1m-13.5 .5h1m1 0h1m.5 0h1m0 0h1m1 0h1m-6 .5h1m-.5 0h1m-.5 0h1m-.5 0h1m0 0h1m3 0h1m-4.5 .5h1m-.5 0h1m1.5 0h1m-.5 0h1m2.5 0h1m0 0h1m-10.5 .5h1m3.5 0h1m4.5 0h1m.5 0h1m-.5 0h1m-10 .5h1m0 0h1m-.5 0h1m5 0h1m.5 0h1m-12 .5h1m.5 0h1m-.5 0h1m1 0h1m0 0h1m1.5 0h1m3 0h1m-15 .5h1m2 0h1m.5 0h1m0 0h1m.5 0h1m0 0h1m.5 0h1m.5 0h1m4 0h1m-.5 0h1m-13.5 .5h1m5.5 0h1m2 0h1m1 0h1m-13 .5h1m-.5 0h1m5 0h1m-.5 0h1m-8 .5h1m0 0h1m1 0h1m1.5 0h1m0 0h1m-14 .5h1m2.5 0h1m-.5 0h1m2 0h1m1.5 0h1m3.5 0h1m-16 .5h1m5 0h1m.5 0h1m7 0h1m-8.5 .5h1m-.5 0h1m-.5 0h1m0 0h1m5 0h1m2.5 0h1m-15.5 .5h1m2 0h1m-.5 0h1m1.5 0h1m3 0h1m.5 0h1m0 0h1m-.5 0h1m-12 .5h1m-.5 0h1m-.5 0h1m-.5 0h1m2 0h1m-10 .5h1m1.5 0h1m1 0h1m0 0h1m.5 0h1m0 0h1m0 0h1m4 0h1m0 0h1m-.5 0h1m-18.5 .5h1m2 0h1m0 0h1m0 0h1m0 0h1m-.5 0h1m.5 0h1m0 0h1m-.5 0h1m0 0h1m-.5 0h1m2.5 0h1m3.5 0h1m-19.5 .5h1m1.5 0h1m0 0h1m0 0h1m-.5 0h1m1 0h1m-.5 0h1m0 0h1m-.5 0h1m-.5 0h1m2 0h1m-.5 0h1m-.5 0h1m2.5 0h1m-19 .5h1m.5 0h1m3.5 0h1m-.5 0h1m.5 0h1m3.5 0h1m1.5 0h1m-12 .5h1m-.5 0h1m1 0h1m0 0h1m2.5 0h1m-7 .5h1m0 0h1m-.5 0h1m0 0h1m-.5 0h1m-.5 0h1m0 0h1m0 0h1m-.5 0h1m-9.5 .5h1m.5 0h1m1.5 0h1m-.5 0h1m0 0h1m.5 0h1m2 0h1m-8 .5h1m1.5 0h1m1.5 0h1m.5 0h1m0 0h1m-.5 0h1m4.5 0h1m-15.5 .5h1m0 0h1m-.5 0h1m0 0h1m-.5 0h1m2 0h1m0 0h1m.5 0h1m0 0h1m-13.5 .5h1m1.5 0h1m-.5 0h1m.5 0h1m2.5 0h1m3 0h1m5.5 0h1m-17 .5h1m.5 0h1m-.5 0h1m1 0h1m-.5 0h1m5 0h1m-.5 0h1m-12.5 .5h1m-.5 0h1m0 0h1m0 0h1m-.5 0h1m0 0h1m-.5 0h1m0 0h1m-.5 0h1m-.5 0h1m1 0h1m10.5 0h1m-24.5 .5h1m0 0h1m-.5 0h1m-.5 0h1m4.5 0h1m6 0h1m3 0h1m-18.5 .5h1m.5 0h1m1 0h1m3 0h1m0 0h1m-7.5 .5h1m.5 0h1m-.5 0h1m-.5 0h1m.5 0h1m-.5 0h1m0 0h1m-.5 0h1m-.5 0h1m1.5 0h1m-.5 0h1m2 0h1m1.5 0h1m.5 0h1m-20 .5h1m2 0h1m.5 0h1m-.5 0h1m0 0h1m0 0h1m3 0h1m-.5 0h1m.5 0h1m1 0h1m0 0h1m-17 .5h1m.5 0h1m0 0h1m1 0h1m-.5 0h1m-.5 0h1m-.5 0h1m.5 0h1m-.5 0h1m1 0h1m-12 .5h1m.5 0h1m-.5 0h1m0 0h1m1 0h1m-.5 0h1m-.5 0h1m2.5 0h1m-.5 0h1m-.5 0h1m-.5 0h1m0 0h1m0 0h1m-12.5 .5h1m.5 0h1m0 0h1m-.5 0h1m-.5 0h1m-.5 0h1m-.5 0h1m0 0h1m0 0h1m0 0h1m1 0h1m-.5 0h1m2 0h1m-13.5 .5h1m2.5 0h1m-.5 0h1m0 0h1m2 0h1m0 0h1m.5 0h1m-.5 0h1m6 0h1m-19 .5h1m0 0h1m.5 0h1m1.5 0h1m1.5 0h1m0 0h1m1 0h1m-.5 0h1m.5 0h1m-13.5 .5h1m1.5 0h1m1 0h1m-.5 0h1m0 0h1m-.5 0h1m0 0h1m0 0h1m-10 .5h1m-.5 0h1m0 0h1m0 0h1m-.5 0h1m0 0h1m.5 0h1m0 0h1m0 0h1m0 0h1m-.5 0h1m-14 .5h1m3 0h1m.5 0h1m0 0h1m0 0h1m1 0h1m0 0h1m-.5 0h1m0 0h1m1 0h1m0 0h1m2.5 0h1m-19 .5h1m4 0h1m-.5 0h1m-.5 0h1m-.5 0h1m1 0h1m-.5 0h1m-.5 0h1m0 0h1m-.5 0h1m-.5 0h1m-.5 0h1m2.5 0h1m4.5 0h1m-17.5 .5h1m1 0h1m0 0h1m1 0h1m-.5 0h1m0 0h1m7.5 0h1m-19 .5h1m2 0h1m1 0h1m-.5 0h1m1 0h1m-.5 0h1m-.5 0h1m-.5 0h1m1.5 0h1m-.5 0h1m-.5 0h1m.5 0h1m.5 0h1m0 0h1m-16.5 .5h1m0 0h1m1 0h1m-.5 0h1m.5 0h1m2 0h1m1 0h1m-.5 0h1m-.5 0h1m0 0h1m-14.5 .5h1m3 0h1m-.5 0h1m0 0h1m-.5 0h1m-.5 0h1m1.5 0h1m.5 0h1m-.5 0h1m0 0h1m-.5 0h1m3 0h1m-15.5 .5h1m0 0h1m2 0h1m2 0h1m-.5 0h1m-.5 0h1m3.5 0h1m-.5 0h1m-13.5 .5h1m-.5 0h1m-.5 0h1m1 0h1m-.5 0h1m0 0h1m1 0h1m-.5 0h1m.5 0h1m0 0h1m.5 0h1m1 0h1m-16.5 .5h1m-.5 0h1m-.5 0h1m.5 0h1m0 0h1m-.5 0h1m-.5 0h1m0 0h1m-.5 0h1m0 0h1m-.5 0h1m.5 0h1m-.5 0h1m5 0h1m-15.5 .5h1m.5 0h1m1.5 0h1m0 0h1m-.5 0h1m.5 0h1m0 0h1m0 0h1m-.5 0h1m2 0h1m0 0h1m-16.5 .5h1m0 0h1m1.5 0h1m.5 0h1m0 0h1m2 0h1m1 0h1m-.5 0h1m-.5 0h1m-.5 0h1m-.5 0h1m.5 0h1m0 0h1m0 0h1m-.5 0h1m2 0h1m-21.5 .5h1m3.5 0h1m0 0h1m-.5 0h1m.5 0h1m1 0h1m1 0h1m2 0h1m-.5 0h1m1 0h1m-16 .5h1m3.5 0h1m0 0h1m-.5 0h1m-.5 0h1m0 0h1m-.5 0h1m0 0h1m0 0h1m0 0h1m0 0h1m0 0h1m1 0h1m1 0h1m-.5 0h1m3.5 0h1m-24.5 .5h1m2 0h1m-.5 0h1m.5 0h1m.5 0h1m-.5 0h1m.5 0h1m.5 0h1m.5 0h1m2 0h1m-10.5 .5h1m1 0h1m-.5 0h1m.5 0h1m.5 0h1m.5 0h1m-.5 0h1m0 0h1m-.5 0h1m1.5 0h1m.5 0h1m-16.5 .5h1m0 0h1m.5 0h1m0 0h1m-.5 0h1m-.5 0h1m0 0h1m1 0h1m0 0h1m1.5 0h1m-18 .5h1m-.5 0h1m4 0h1m0 0h1m0 0h1m1.5 0h1m-.5 0h1m0 0h1m-.5 0h1m1 0h1m2.5 0h1m-12 .5h1m.5 0h1m-.5 0h1m0 0h1m-.5 0h1m-.5 0h1m0 0h1m1 0h1m-5.5 .5h1m0 0h1m-.5 0h1m.5 0h1m0 0h1m.5 0h1m3.5 0h1m3.5 0h1m-16.5 .5h1m1.5 0h1m-.5 0h1m0 0h1m1 0h1m0 0h1m7 0h1" stroke="#4a8088" stroke-width="0.9" stroke-opacity="0.5"/>
<path d="M150.5 60.5h1m-2 5h1m6 .5h1m-4 3h1m-9 4.5h1m-1 3h1m1 .5h1m.5 .5h1m-.5 .5h1m-1.5 .5h1m-4 2.5h1m-2 .5h1m-4 2h1m7 0h1m-5.5 .5h1m10 0h1m-16.5 .5h1m3.5 0h1m5.5 0h1m-5.5 1h1m1 0h1m1.5 0h1m-3 1.5h1m-6 .5h1m1 0h1m3.5 0h1m-3 .5h1m-9 .5h1m4 0h1m-5.5 .5h1m2 0h1m4 .5h1m-7.5 .5h1m1 0h1m0 0h1m-2 .5h1m3 0h1m-.5 0h1m-6 .5h1m.5 .5h1m4.5 0h1m.5 0h1m-11.5 1h1m-.5 0h1m-.5 0h1m-.5 0h1m5 .5h1m-7 .5h1m.5 0h1m4 0h1m-8.5 .5h1m.5 0h1m-.5 .5h1m-7.5 .5h1m1.5 0h1m-1 .5h1m1.5 0h1m.5 0h1m-6.5 .5h1m1.5 0h1m-.5 0h1m0 0h1m.5 0h1m0 0h1m-.5 0h1m3 0h1m-12.5 .5h1m4.5 0h1m-9.5 .5h1m3 0h1m.5 0h1m0 0h1m-3.5 .5h1m2 0h1m1 0h1m-.5 0h1m5.5 0h1m-11 .5h1m.5 0h1m-6 .5h1m2 0h1m-.5 0h1m0 0h1m4.5 0h1m-9.5 .5h1m1.5 0h1m0 0h1m1 0h1m-.5 0h1m0 0h1m-6.5 .5h1m.5 0h1m4 0h1m-12 .5h1m3 0h1m0 0h1m-.5 0h1m1 0h1m-.5 0h1m1 0h1m-11 .5h1m2 0h1m1 0h1m-.5 0h1m4.5 0h1m-9.5 .5h1m1 0h1m-.5 0h1m2.5 0h1m-5.5 .5h1m0 0h1m-.5 0h1m3 0h1m-9 .5h1m0 0h1m1 0h1m3.5 0h1m-11 .5h1m6 0h1m4.5 0h1m-7 .5h1m4.5 0h1m-7.5 .5h1m2 0h1m.5 0h1m-5.5 .5h1m-.5 0h1m-3 .5h1m.5 0h1m0 0h1m-6 .5h1m2 0h1m-.5 0h1m1 0h1m1 0h1m-8 .5h1m.5 0h1m4.5 0h1m-11 .5h1m4 0h1m1 0h1m-.5 0h1m1 0h1m0 0h1m-8 .5h1m.5 0h1m1.5 0h1m-.5 0h1m.5 0h1m1.5 0h1m0 0h1m2.5 0h1m-11 .5h1m1.5 0h1m-5 .5h1m2 0h1m0 0h1m2.5 0h1m7 0h1m-19 .5h1m0 0h1m1 0h1m-.5 0h1m.5 0h1m-.5 0h1m4.5 .5h1m-14 .5h1m-.5 0h1m2 0h1m-.5 0h1m.5 0h1m0 0h1m0 0h1m2 0h1m1 0h1m-7 .5h1m-.5 0h1m0 0h1m-.5 0h1m1 0h1m-6.5 .5h1m.5 0h1m0 0h1m-.5 0h1m-.5 0h1m2 0h1m-9.5 .5h1m-.5 0h1m1 0h1m0 0h1m.5 0h1m.5 0h1m0 0h1m-12 .5h1m2.5 0h1m.5 0h1m0 0h1m0 0h1m1.5 0h1m-.5 0h1m-.5 0h1m-9.5 .5h1m-.5 0h1m2 0h1m.5 0h1m2.5 0h1m-9.5 .5h1m.5 0h1m0 0h1m0 0h1m-.5 0h1m.5 0h1m-.5 0h1m-9 .5h1m2.5 0h1m-.5 0h1m1 0h1m1.5 0h1m.5 0h1m-.5 0h1m-8.5 .5h1m1.5 0h1m0 0h1m.5 0h1m0 0h1m0 0h1m2.5 0h1m-11.5 .5h1m0 0h1m.5 0h1m0 0h1m3.5 0h1m-.5 0h1m-13 .5h1m1.5 0h1m0 0h1m1.5 0h1m-.5 0h1m-.5 0h1m-.5 0h1m-.5 0h1m-.5 0h1m.5 0h1m0 0h1m-.5 0h1m1 0h1m-13.5 .5h1m-.5 0h1m1 0h1m-.5 0h1m-.5 0h1m-.5 0h1m-.5 0h1m-.5 0h1m0 0h1m-.5 0h1m1 0h1m-.5 0h1m.5 0h1m-8.5 .5h1m0 0h1m-.5 0h1m-.5 0h1m.5 0h1m-.5 0h1m.5 0h1m1.5 0h1m-10 .5h1m0 0h1m1 0h1m-.5 0h1m-.5 0h1m-.5 0h1m-.5 0h1m-.5 0h1m-8.5 .5h1m.5 0h1m2 0h1m0 0h1m1.5 0h1m-.5 0h1m.5 0h1m0 0h1m-11.5 .5h1m2 0h1m-.5 0h1m.5 0h1m1 0h1m-.5 0h1m4 0h1m-14.5 .5h1m-.5 0h1m.5 0h1m1.5 0h1m0 0h1m-.5 0h1m0 0h1m-.5 0h1m0 0h1m-.5 0h1m-12.5 .5h1m4.5 0h1m.5 0h1m1 0h1m-.5 0h1m-.5 0h1m1 0h1m-.5 0h1m-10.5 .5h1m1.5 0h1m-.5 0h1m0 0h1m-.5 0h1m0 0h1m-.5 0h1m5 0h1m-13 .5h1m.5 0h1m.5 0h1m0 0h1m-.5 0h1m-.5 0h1m0 0h1m-.5 0h1m0 0h1m3.5 0h1m-14 .5h1m3.5 0h1m0 0h1" stroke="#789c4c" stroke-width="0.9" stroke-opacity="0.55"/>
<path d="M142.5 88h1m0 0h1m1.5 1h1m.5 2.5h1m-4 2.5h1m-1 3h1m-4.5 .5h1m0 0h1m1.5 0h1m3.5 0h1m-2.5 .5h1m.5 .5h1m-8 .5h1m-1 .5h1m2 0h1m-3 .5h1m-4.5 .5h1m3.5 1h1m.5 0h1m-6.5 .5h1m-.5 0h1m4.5 0h1m-3.5 .5h1m2 0h1m-4.5 .5h1m.5 1h1m-3.5 .5h1m0 0h1m1.5 .5h1m.5 0h1m-8.5 .5h1m3 0h1m-.5 0h1m.5 0h1m-7.5 1h1m-.5 0h1m-.5 0h1m-2.5 .5h1m5 0h1m-4 .5h1m.5 0h1m2.5 0h1m-7 .5h1m.5 0h1m-.5 0h1m3 0h1m-8 1.5h1m2.5 0h1m-.5 0h1m1 0h1m-5 .5h1m0 0h1m-4.5 .5h1m2.5 0h1m1 0h1m1 0h1m-7.5 .5h1m3 0h1m-4 .5h1m-.5 0h1m2 0h1m-5 .5h1m1.5 0h1m4 0h1m-8 .5h1m0 .5h1m-.5 .5h1m-4.5 .5h1m0 0h1m1.5 0h1m-3.5 .5h1m2.5 0h1m0 0h1m-6 .5h1m-.5 0h1m.5 0h1m.5 0h1m1 0h1m-8 .5h1m0 0h1m-1 .5h1m.5 0h1m-2 .5h1m1 0h1m0 0h1m0 0h1m-8.5 .5h1m4 0h1m2.5 0h1m-8 .5h1m1 0h1m0 0h1m0 0h1m-.5 .5h1m-6.5 .5h1m1 0h1m-.5 0h1m-.5 0h1m0 0h1m2.5 0h1m0 0h1m-7 .5h1" stroke="#b8b040" stroke-width="0.9" stroke-opacity="0.55"/>
<rect x="105.5" y="33.6" width="89" height="88.9" fill="none" stroke="#b4b4b4" stroke-width="0.8"/>
<line x1="105.5" y1="33.6" x2="105.5" y2="122.5" stroke="#555" stroke-width="0.9" />
<line x1="105.5" y1="122.5" x2="194.5" y2="122.5" stroke="#555" stroke-width="0.9" />
<path d="M103.5 37.2h2M103.5 54.3h2M103.5 71.3h2M103.5 88.4h2M103.5 105.4h2M103.5 122.5h2M105.6 122.5v2M125.6 122.5v2M145.6 122.5v2M165.6 122.5v2M185.6 122.5v2" stroke="#333" stroke-width="0.9"/>
<path d="M104.3 45.7h1.2M104.3 62.8h1.2M104.3 79.8h1.2M104.3 96.9h1.2M104.3 114h1.2M104.3 40.6h1.2M104.3 44h1.2M104.3 47.4h1.2M104.3 50.8h1.2M104.3 57.7h1.2M104.3 61.1h1.2M104.3 64.5h1.2M104.3 67.9h1.2M104.3 74.7h1.2M104.3 78.1h1.2M104.3 81.6h1.2M104.3 85h1.2M104.3 91.8h1.2M104.3 95.2h1.2M104.3 98.6h1.2M104.3 102h1.2M104.3 108.9h1.2M104.3 112.3h1.2M104.3 115.7h1.2M104.3 119.1h1.2M111.6 122.5v1.2M115.1 122.5v1.2M117.6 122.5v1.2M119.6 122.5v1.2M121.2 122.5v1.2M122.5 122.5v1.2M123.7 122.5v1.2M124.7 122.5v1.2M131.6 122.5v1.2M135.1 122.5v1.2M137.6 122.5v1.2M139.6 122.5v1.2M141.2 122.5v1.2M142.5 122.5v1.2M143.7 122.5v1.2M144.7 122.5v1.2M151.6 122.5v1.2M155.1 122.5v1.2M157.6 122.5v1.2M159.6 122.5v1.2M161.2 122.5v1.2M162.5 122.5v1.2M163.7 122.5v1.2M164.7 122.5v1.2M171.6 122.5v1.2M175.1 122.5v1.2M177.6 122.5v1.2M179.6 122.5v1.2M181.2 122.5v1.2M182.5 122.5v1.2M183.7 122.5v1.2M184.7 122.5v1.2" stroke="#666" stroke-width="0.6"/>
<text transform="translate(100.6,39.7) scale(1.1,1)" font-size="6.9" text-anchor="end" fill="#0a0a0a">250K</text>
<text transform="translate(100.6,56.8) scale(1.1,1)" font-size="6.9" text-anchor="end" fill="#0a0a0a">200K</text>
<text transform="translate(100.6,73.8) scale(1.1,1)" font-size="6.9" text-anchor="end" fill="#0a0a0a">150K</text>
<text transform="translate(100.6,90.9) scale(1.1,1)" font-size="6.9" text-anchor="end" fill="#0a0a0a">100K</text>
<text transform="translate(100.6,107.9) scale(1.1,1)" font-size="6.9" text-anchor="end" fill="#0a0a0a">50K</text>
<text transform="translate(100.6,125) scale(1.1,1)" font-size="6.9" text-anchor="end" fill="#0a0a0a">0</text>
<text transform="translate(101.6,135.2) scale(1.08,1)" font-size="6.6" fill="#0a0a0a">10<tspan dy="-2.6" font-size="5.0">1</tspan></text>
<text transform="translate(121.6,135.2) scale(1.08,1)" font-size="6.6" fill="#0a0a0a">10<tspan dy="-2.6" font-size="5.0">2</tspan></text>
<text transform="translate(141.6,135.2) scale(1.08,1)" font-size="6.6" fill="#0a0a0a">10<tspan dy="-2.6" font-size="5.0">3</tspan></text>
<text transform="translate(161.6,135.2) scale(1.08,1)" font-size="6.6" fill="#0a0a0a">10<tspan dy="-2.6" font-size="5.0">4</tspan></text>
<text transform="translate(181.6,135.2) scale(1.08,1)" font-size="6.6" fill="#0a0a0a">10<tspan dy="-2.6" font-size="5.0">5</tspan></text>
<rect x="154.5" y="35" width="22.2" height="81.2" fill="none" stroke="#555" stroke-width="0.8"/>
<text x="183" y="39.3" font-size="4" text-anchor="middle" fill="#0a0a0a" >CD11b+</text>
<text x="183" y="45" font-size="4" text-anchor="middle" fill="#0a0a0a" >24.9</text>
<text x="176" y="95.5" font-size="8.4" text-anchor="middle" fill="#0a0a0a" >CD11b+</text>
<text x="176" y="104.9" font-size="8.4" text-anchor="middle" fill="#0a0a0a" >24.9%</text>
<line x1="177" y1="72.9" x2="199" y2="72.9" stroke="#111" stroke-width="1.5" />
<polygon points="205.8,72.9 197.3,69.5 199.4,72.9 197.3,76.3" fill="#111"/>
<line x1="80.2" y1="142.9" x2="80.2" y2="122.7" stroke="#111" stroke-width="1.25" />
<polygon points="80.2,117.9 77.6,123.9 80.2,122.6 82.8,123.9" fill="#111"/>
<line x1="80.2" y1="142.9" x2="101" y2="142.9" stroke="#111" stroke-width="1.25" />
<polygon points="105.4,142.9 99.9,140.6 101.1,142.9 99.9,145.2" fill="#111"/>
<text transform="translate(74.6,133.3) rotate(-90) scale(0.602,1)" font-size="10.5" font-weight="bold" text-anchor="middle" fill="#111" stroke="#111" stroke-width="0.25">SSC</text>
<text transform="translate(79.6,154.6) scale(0.6,1)" font-size="10.5" font-weight="bold" text-anchor="start" fill="#111" stroke="#111" stroke-width="0.25">CD11b</text>
<path d="M261 41h1m4 0h1m12.5 .5h1m1 0h1m-8 .5h1m0 0h1m-1.5 1h1m4 0h1m-12.5 1h1m27.5 0h1m-16.5 .5h1m42 0h1m-48.5 1h1m3 0h1m-23 .5h1m44.5 0h1m-26.5 .5h1m-25.5 .5h1m12.5 0h1m6.5 0h1m0 0h1m2 0h1m1 0h1m20.5 .5h1m-53.5 .5h1m20.5 .5h1m4 0h1m11 0h1m5 0h1m-36 .5h1m40.5 .5h1m18 1h1m-8 .5h1m-52 1h1m7 0h1m51.5 0h1m-53.5 .5h1m1.5 0h1m6 1h1m0 0h1m-13 .5h1m7.5 0h1m39 1h1m-53 .5h1m4.5 0h1m-9 1.5h1m16 0h1m44 0h1m-61 1h1m5 0h1m2 0h1m6.5 0h1m-9.5 .5h1m-12 .5h1m6 .5h1m8 0h1m-15.5 .5h1m3.5 0h1m10 0h1m13.5 0h1m-28 .5h1m-2 .5h1m56.5 0h1m-44.5 .5h1m-12.5 .5h1m-6.5 .5h1m-.5 0h1m-.5 0h1m6 1h1m1 0h1m9.5 0h1m-19 .5h1m3.5 0h1m-.5 0h1m11 0h1m-18 .5h1m7 0h1m-14 .5h1m6.5 0h1m6 0h1m5 0h1m-16.5 .5h1m3.5 0h1m0 0h1m6.5 0h1m-34 .5h1m19.5 0h1m.5 0h1m-.5 0h1m4 0h1m.5 0h1m3.5 0h1m-10 .5h1m0 0h1m0 0h1m-5.5 .5h1m5.5 0h1m37 0h1m-65 .5h1m64.5 .5h1m-50.5 .5h1m3.5 0h1m3.5 0h1m0 0h1m6 0h1m-.5 0h1m31 0h1m-43 .5h1m3.5 0h1m28 0h1m-45.5 .5h1m7 0h1m0 0h1m-.5 0h1m-.5 0h1m5 0h1m-30 .5h1m17.5 0h1m3 0h1m-8 .5h1m7.5 0h1m0 0h1m4.5 0h1m-12 .5h1m-.5 0h1m3 0h1m26.5 0h1m-36.5 .5h1m2.5 0h1m-.5 0h1m-.5 0h1m-.5 0h1m1 0h1m-.5 0h1m43.5 0h1m-70 .5h1m16.5 0h1m-10 .5h1m9.5 0h1m6.5 0h1m4 0h1m-11 .5h1m1 0h1m4 0h1m-16.5 .5h1m3 0h1m-.5 0h1m2 0h1m5 0h1m-4 .5h1m-20.5 .5h1m12.5 0h1m1.5 0h1m.5 0h1m.5 0h1m1 0h1m-10 .5h1m2 0h1m.5 0h1m3.5 0h1m1 0h1m3.5 0h1m-14.5 .5h1m0 0h1m4.5 0h1m-.5 0h1m-11 .5h1m2 0h1m2 0h1m0 0h1m4 0h1m29 0h1m19 0h1m-55.5 .5h1m-.5 0h1m0 0h1m1.5 0h1m3.5 0h1m-12.5 .5h1m1.5 0h1m1.5 0h1m.5 0h1m.5 0h1m5.5 0h1m0 0h1m26.5 0h1m-44 .5h1m5 0h1m0 0h1m.5 0h1m2.5 0h1m-15.5 .5h1m5 0h1m4.5 0h1m-10 .5h1m3.5 0h1m5 0h1m1 0h1m-17 .5h1m2.5 0h1m1 0h1m.5 0h1m5.5 0h1m-7.5 .5h1m0 0h1m8 0h1m-.5 0h1m-16 .5h1m-.5 0h1m1 0h1m-.5 0h1m-.5 0h1m6 0h1m2 0h1m29 0h1m-58.5 .5h1m8 0h1m5.5 0h1m1.5 0h1m6.5 0h1m.5 0h1m-.5 0h1m-20.5 .5h1m5 0h1m1 0h1m4 0h1m-.5 0h1m2 0h1m36.5 0h1m3 0h1m6.5 0h1m-61 .5h1m3 0h1m0 0h1m1 0h1m-.5 0h1m3.5 0h1m27 0h1m-40 .5h1m1.5 0h1m0 0h1m1 0h1m1 0h1m35.5 0h1m-40.5 .5h1m1 0h1m-.5 0h1m28 0h1m-36 .5h1m-.5 0h1m-.5 0h1m2.5 0h1m-.5 0h1m.5 0h1m2.5 0h1m-26 .5h1m14 0h1m0 0h1m1 0h1m1.5 0h1m0 0h1m.5 0h1m-17 .5h1m2.5 0h1m4.5 0h1m0 0h1m1 0h1m0 0h1m-.5 0h1m0 0h1m1 0h1m44 0h1m-61 .5h1m1.5 0h1m2 0h1m1.5 0h1m1.5 0h1m-.5 0h1m-.5 0h1m-.5 0h1m1 0h1m1 0h1m24 0h1m10.5 0h1m2 0h1m-49.5 .5h1m-.5 0h1m-.5 0h1m3 0h1m-.5 0h1m39 0h1m-52 .5h1m3 0h1m2 0h1m1.5 0h1m35 0h1m-.5 0h1m4.5 0h1m-.5 0h1m6.5 0h1m-57 .5h1m4 0h1m.5 0h1m1 0h1m1 0h1m2.5 0h1m26 0h1m4 0h1m-46 .5h1m3 0h1m.5 0h1m-.5 0h1m-.5 0h1m.5 0h1m1 0h1m31.5 0h1m4 0h1m-48 .5h1m-.5 0h1m.5 0h1m.5 0h1m1 0h1m-.5 0h1m-.5 0h1m.5 0h1m-.5 0h1m11 0h1m-23 .5h1m0 0h1m-.5 0h1m.5 0h1m0 0h1m1 0h1m-.5 0h1m1 0h1m-.5 0h1m26.5 0h1m8.5 0h1m-49 .5h1m3 0h1m1.5 0h1m-.5 0h1m0 0h1m-.5 0h1m0 0h1m34.5 0h1m14.5 0h1m-64.5 .5h1m3.5 0h1m2 0h1m0 0h1m1 0h1m.5 0h1m-.5 0h1m.5 0h1m0 0h1m1 0h1m31 0h1m-45 .5h1m.5 0h1m0 0h1m-.5 0h1m0 0h1m-.5 0h1m-.5 0h1m-.5 0h1m-.5 0h1m1.5 0h1m-.5 0h1m1 0h1m-.5 0h1m40 0h1m-68.5 .5h1m13.5 0h1m-.5 0h1m2 0h1m0 0h1m.5 0h1m-.5 0h1m1.5 0h1m0 0h1m1.5 0h1m.5 0h1m30.5 0h1m-44 .5h1m0 0h1m2.5 0h1m-.5 0h1m0 0h1m.5 0h1m25 0h1m-38 .5h1m.5 0h1m7 0h1m1 0h1m0 0h1m-.5 0h1m12.5 0h1m18 0h1m6.5 0h1m-50 .5h1m.5 0h1m1 0h1m0 0h1m.5 0h1m.5 0h1m2.5 0h1m15 0h1m8.5 0h1m1 0h1m5.5 0h1m-58 .5h1m11 0h1m2.5 0h1m-.5 0h1m0 0h1m-.5 0h1m2.5 0h1m1 0h1m0 0h1m-.5 0h1m21.5 0h1m2.5 0h1m5 0h1m3 0h1m-59 .5h1m5 0h1m.5 0h1m-.5 0h1m-.5 0h1m0 0h1m-.5 0h1m-.5 0h1m-.5 0h1m-.5 0h1m2 0h1m0 0h1m-.5 0h1m.5 0h1m3 0h1m-23.5 .5h1m7 0h1m-.5 0h1m-.5 0h1m1 0h1m.5 0h1m.5 0h1m-.5 0h1m-.5 0h1m37 0h1m0 0h1m5 0h1m6 0h1m-58.5 .5h1m.5 0h1m-.5 0h1m1.5 0h1m0 0h1m-.5 0h1m-.5 0h1m2.5 0h1m1.5 0h1m23 0h1m2 0h1m3.5 0h1m.5 0h1m-48 .5h1m0 0h1m.5 0h1m-.5 0h1m0 0h1m1 0h1m0 0h1m0 0h1m0 0h1m-11 .5h1m0 0h1m1 0h1m2 0h1m-.5 0h1m.5 0h1m0 0h1m3.5 0h1m26 0h1m14.5 0h1m-55 .5h1m2.5 0h1m-.5 0h1m-.5 0h1m.5 0h1m-.5 0h1m-.5 0h1m.5 0h1m-.5 0h1m-.5 0h1m20 0h1m7 0h1m6 0h1m5.5 0h1m-56.5 .5h1m3 0h1m-.5 0h1m1.5 0h1m0 0h1m-.5 0h1m1.5 0h1m-.5 0h1m.5 0h1m5.5 0h1m31.5 0h1m.5 0h1m-57 .5h1m1 0h1m-.5 0h1m-.5 0h1m1.5 0h1m0 0h1m-.5 0h1m.5 0h1m-.5 0h1m-.5 0h1m1 0h1m1 0h1m-.5 0h1m1.5 0h1m22.5 0h1m4.5 0h1m9 0h1m-55 .5h1m1 0h1m2 0h1m-.5 0h1m.5 0h1m-.5 0h1m-.5 0h1m-.5 0h1m.5 0h1m.5 0h1m-.5 0h1m30.5 0h1m6 0h1m1 0h1m3 0h1m-55 .5h1m-.5 0h1m-.5 0h1m.5 0h1m-.5 0h1m-.5 0h1m-.5 0h1m0 0h1m0 0h1m0 0h1m.5 0h1m-.5 0h1m0 0h1m-.5 0h1m0 0h1m.5 0h1m30 0h1m-.5 0h1m-.5 0h1m0 0h1m1 0h1m-.5 0h1m3 0h1m2.5 0h1m-57.5 .5h1m1 0h1m0 0h1m0 0h1m1 0h1m-.5 0h1m-.5 0h1m.5 0h1m-.5 0h1m.5 0h1m0 0h1m30.5 0h1m1.5 0h1m.5 0h1m.5 0h1m1 0h1m-67 .5h1m15.5 0h1m.5 0h1m0 0h1m-.5 0h1m-.5 0h1m0 0h1m0 0h1m-.5 0h1m0 0h1m-.5 0h1m.5 0h1m-.5 0h1m-.5 0h1m6.5 0h1m34 0h1m-66.5 .5h1m8 0h1m5.5 0h1m.5 0h1m-.5 0h1m-.5 0h1m0 0h1m1.5 0h1m1 0h1m-.5 0h1m23 0h1m7 0h1m6 0h1m-.5 0h1m-52.5 .5h1m4.5 0h1m-.5 0h1m0 0h1m0 0h1m-.5 0h1m.5 0h1m-.5 0h1m0 0h1m-.5 0h1m0 0h1m0 0h1m2.5 0h1m23 0h1m2.5 0h1m-44 .5h1m3.5 0h1m1.5 0h1m.5 0h1m3 0h1m28.5 0h1m1 0h1m0 0h1m.5 0h1m2 0h1m-52.5 .5h1m.5 0h1m-.5 0h1m0 0h1m0 0h1m-.5 0h1m.5 0h1m0 0h1m3.5 0h1m18 0h1m7 0h1m1 0h1m.5 0h1m3 0h1m4 0h1m-53.5 .5h1m-.5 0h1m0 0h1m1 0h1m-.5 0h1m1 0h1m.5 0h1m-.5 0h1m-.5 0h1m-.5 0h1m.5 0h1m25 0h1m1 0h1m-52.5 .5h1m12 0h1m4 0h1m.5 0h1m0 0h1m-.5 0h1m.5 0h1m-.5 0h1m-.5 0h1m-.5 0h1m.5 0h1m-.5 0h1m2 0h1m20 0h1m4 0h1m10 0h1m-53.5 .5h1m0 0h1m1.5 0h1m1 0h1m-.5 0h1m.5 0h1m2 0h1m1.5 0h1m.5 0h1m2 0h1m17 0h1m5.5 0h1m5.5 0h1m0 0h1m9.5 0h1m-59.5 .5h1m1 0h1m1.5 0h1m0 0h1m0 0h1m-.5 0h1m-.5 0h1m4 0h1m24 0h1m5.5 0h1m-.5 0h1m.5 0h1m10 0h1m-55 .5h1m-.5 0h1m-.5 0h1m-.5 0h1m-.5 0h1m2 0h1m0 0h1m3 0h1m1.5 0h1m11 0h1m11 0h1m1.5 0h1m6 0h1m4 0h1m1 0h1m-56.5 .5h1m1.5 0h1m-.5 0h1m-.5 0h1m2 0h1m.5 0h1m3.5 0h1m0 0h1m26.5 0h1m1.5 0h1m3 0h1m3.5 0h1m-54.5 .5h1m.5 0h1m1.5 0h1m0 0h1m2 0h1m-.5 0h1m5 0h1m3 0h1m23 0h1m2.5 0h1m3.5 0h1m5.5 0h1m0 0h1m-56 .5h1m2 0h1m1 0h1m.5 0h1m-.5 0h1m.5 0h1m1 0h1m24.5 0h1m-.5 0h1m0 0h1m5 0h1m0 0h1m1 0h1m-.5 0h1m1 0h1m2.5 0h1m-71 .5h1m13.5 0h1m.5 0h1m.5 0h1m.5 0h1m-.5 0h1m0 0h1m-.5 0h1m-.5 0h1m0 0h1m.5 0h1m2 0h1m3.5 0h1m2.5 0h1m4 0h1m20 0h1m-.5 0h1m4.5 0h1m0 0h1m-56 .5h1m3 0h1m0 0h1m-.5 0h1m-.5 0h1m-.5 0h1m-.5 0h1m2.5 0h1m7 0h1m.5 0h1m1.5 0h1m14.5 0h1m3.5 0h1m7.5 0h1m0 0h1m-49 .5h1m.5 0h1m2 0h1m0 0h1m1 0h1m.5 0h1m2.5 0h1m0 0h1m1.5 0h1m5.5 0h1m10 0h1m7.5 0h1m2 0h1m1 0h1m-51 .5h1m1 0h1m0 0h1m.5 0h1m0 0h1m1 0h1m.5 0h1m-.5 0h1m-.5 0h1m3 0h1m0 0h1m16.5 0h1m3.5 0h1m12.5 0h1m1 0h1m4 0h1m-70 .5h1m7 0h1m8.5 0h1m0 0h1m-.5 0h1m2.5 0h1m6.5 0h1m4 0h1m-.5 0h1m1 0h1m7.5 0h1m1.5 0h1m5 0h1m1 0h1m1 0h1m4 0h1m-51 .5h1m.5 0h1m-.5 0h1m.5 0h1m0 0h1m2.5 0h1m1.5 0h1m1.5 0h1m3 0h1m.5 0h1m3 0h1m2 0h1m4 0h1m-.5 0h1m8.5 0h1m0 0h1m-46 .5h1m3.5 0h1m.5 0h1m0 0h1m0 0h1m4 0h1m1.5 0h1m0 0h1m1 0h1m9.5 0h1m.5 0h1m7.5 0h1m.5 0h1m-.5 0h1m3.5 0h1m4 0h1m3.5 0h1m-60.5 .5h1m5 0h1m-.5 0h1m3.5 0h1m1 0h1m-.5 0h1m-.5 0h1m-.5 0h1m0 0h1m0 0h1m4.5 0h1m1 0h1m9 0h1m1 0h1m8.5 0h1m4 0h1m4.5 0h1m10 0h1m-59.5 .5h1m2 0h1m0 0h1m2 0h1m1.5 0h1m-.5 0h1m-.5 0h1m-.5 0h1m0 0h1m5 0h1m1 0h1m.5 0h1m-.5 0h1m2 0h1m3.5 0h1m1.5 0h1m1.5 0h1m11 0h1m2.5 0h1m-52 .5h1m7 0h1m1 0h1m-.5 0h1m6 0h1m-.5 0h1m3 0h1m-.5 0h1m1 0h1m0 0h1m2.5 0h1m3.5 0h1m2 0h1m2.5 0h1m2.5 0h1m.5 0h1m0 0h1m5 0h1m-55 .5h1m3 0h1m-.5 0h1m2.5 0h1m-.5 0h1m-.5 0h1m3 0h1m0 0h1m.5 0h1m-.5 0h1m.5 0h1m0 0h1m.5 0h1m1 0h1m2 0h1m6 0h1m2 0h1m0 0h1m1 0h1m1 0h1m6.5 0h1m0 0h1m0 0h1m-46 .5h1m.5 0h1m1.5 0h1m.5 0h1m5 0h1m0 0h1m.5 0h1m4.5 0h1m10.5 0h1m23 0h1m-59 .5h1m6 0h1m2 0h1m0 0h1m2.5 0h1m1.5 0h1m-.5 0h1m6.5 0h1m2 0h1m-.5 0h1m.5 0h1m0 0h1m2 0h1m3.5 0h1m2.5 0h1m8 0h1m-.5 0h1m-46.5 .5h1m-.5 0h1m1 0h1m0 0h1m4.5 0h1m1.5 0h1m-.5 0h1m-.5 0h1m2.5 0h1m4.5 0h1m0 0h1m3 0h1m2 0h1m0 0h1m1 0h1m6.5 0h1m-.5 0h1m6.5 0h1m-52 .5h1m3 0h1m.5 0h1m1 0h1m2 0h1m1.5 0h1m1.5 0h1m3.5 0h1m12.5 0h1m1 0h1m3 0h1m2 0h1m-43.5 .5h1m1 0h1m-.5 0h1m6 0h1m-.5 0h1m2.5 0h1m2.5 0h1m0 0h1m4.5 0h1m6 0h1m3 0h1m5 0h1m1 0h1m-.5 0h1m7 0h1m-50.5 .5h1m.5 0h1m2 0h1m.5 0h1m0 0h1m5 0h1m7.5 0h1m1.5 0h1m.5 0h1m.5 0h1m10.5 0h1m-.5 0h1m-.5 0h1m-43.5 .5h1m2 0h1m0 0h1m1 0h1m2.5 0h1m3 0h1m0 0h1m0 0h1m2.5 0h1m4.5 0h1m2.5 0h1m5.5 0h1m3.5 0h1m4.5 0h1m2 0h1m-38 .5h1m-.5 0h1m26 0h1m5.5 0h1m-41 .5h1m2.5 0h1m0 0h1m1 0h1m-.5 0h1m3.5 0h1m1.5 0h1m1.5 0h1m-.5 0h1m-.5 0h1m4.5 0h1m6.5 0h1m5 0h1m-40 .5h1m3.5 0h1m2.5 0h1m.5 0h1m6 0h1m7 0h1m2 0h1m2.5 0h1m7 0h1m4 0h1m1.5 0h1m-50 .5h1m5.5 0h1m0 0h1m-.5 0h1m.5 0h1m5.5 0h1m.5 0h1m2 0h1m.5 0h1m-.5 0h1m3.5 0h1m0 0h1m0 0h1m-.5 0h1m-.5 0h1m4 0h1m0 0h1m0 0h1m6 0h1m-41.5 .5h1m13 0h1m3.5 0h1m.5 0h1m11.5 0h1m-47.5 .5h1m13 0h1m1.5 0h1m7.5 0h1m-.5 0h1m3.5 0h1m2 0h1m.5 0h1m3 0h1m8 0h1m-.5 0h1m13 0h1m4 0h1m-52 .5h1m0 0h1m14 0h1m-24 .5h1m15 0h1m5.5 0h1m9 0h1m1.5 0h1m0 0h1m13.5 0h1m-30 .5h1m1.5 0h1m4.5 0h1m16 0h1m10 0h1m-45.5 .5h1m0 0h1m4.5 0h1m8 0h1m12.5 0h1m-9.5 .5h1m.5 .5h1m-25.5 .5h1m23.5 0h1m-22 .5h1m31.5 0h1m-38.5 .5h1m-8 .5h1m14 0h1m4.5 0h1" stroke="#6a60b0" stroke-width="0.9" stroke-opacity="0.42"/>
<rect x="237.5" y="34.5" width="88.5" height="87.9" fill="none" stroke="#b4b4b4" stroke-width="0.8"/>
<line x1="237.5" y1="34.5" x2="237.5" y2="122.4" stroke="#555" stroke-width="0.9" />
<line x1="237.5" y1="122.4" x2="326" y2="122.4" stroke="#555" stroke-width="0.9" />
<path d="M235.5 37.5h2M235.5 54.5h2M235.5 71.5h2M235.5 88.4h2M235.5 105.4h2M235.5 122.4h2M238 122.4v2M253.7 122.4v2M269.4 122.4v2M285.1 122.4v2M300.8 122.4v2M316.5 122.4v2" stroke="#333" stroke-width="0.9"/>
<path d="M236.3 40.9h1.2M236.3 44.3h1.2M236.3 47.7h1.2M236.3 51.1h1.2M236.3 57.9h1.2M236.3 61.3h1.2M236.3 64.7h1.2M236.3 68.1h1.2M236.3 74.9h1.2M236.3 78.3h1.2M236.3 81.7h1.2M236.3 85.1h1.2M236.3 91.8h1.2M236.3 95.2h1.2M236.3 98.6h1.2M236.3 102h1.2M236.3 108.8h1.2M236.3 112.2h1.2M236.3 115.6h1.2M236.3 119h1.2M242.7 122.4v1.2M245.5 122.4v1.2M247.5 122.4v1.2M249 122.4v1.2M250.2 122.4v1.2M251.3 122.4v1.2M252.2 122.4v1.2M253 122.4v1.2M258.4 122.4v1.2M261.2 122.4v1.2M263.2 122.4v1.2M264.7 122.4v1.2M265.9 122.4v1.2M267 122.4v1.2M267.9 122.4v1.2M268.7 122.4v1.2M274.1 122.4v1.2M276.9 122.4v1.2M278.9 122.4v1.2M280.4 122.4v1.2M281.6 122.4v1.2M282.7 122.4v1.2M283.6 122.4v1.2M284.4 122.4v1.2M289.8 122.4v1.2M292.6 122.4v1.2M294.6 122.4v1.2M296.1 122.4v1.2M297.3 122.4v1.2M298.4 122.4v1.2M299.3 122.4v1.2M300.1 122.4v1.2M305.5 122.4v1.2M308.3 122.4v1.2M310.3 122.4v1.2M311.8 122.4v1.2M313 122.4v1.2M314.1 122.4v1.2M315 122.4v1.2M315.8 122.4v1.2" stroke="#666" stroke-width="0.6"/>
<text transform="translate(232.6,40) scale(1.1,1)" font-size="6.9" text-anchor="end" fill="#0a0a0a">250K</text>
<text transform="translate(232.6,57) scale(1.1,1)" font-size="6.9" text-anchor="end" fill="#0a0a0a">200K</text>
<text transform="translate(232.6,74) scale(1.1,1)" font-size="6.9" text-anchor="end" fill="#0a0a0a">150K</text>
<text transform="translate(232.6,90.9) scale(1.1,1)" font-size="6.9" text-anchor="end" fill="#0a0a0a">100K</text>
<text transform="translate(232.6,107.9) scale(1.1,1)" font-size="6.9" text-anchor="end" fill="#0a0a0a">50K</text>
<text transform="translate(232.6,124.9) scale(1.1,1)" font-size="6.9" text-anchor="end" fill="#0a0a0a">0</text>
<text transform="translate(234,135.2) scale(1.08,1)" font-size="6.6" fill="#0a0a0a">10<tspan dy="-2.6" font-size="5.0">0</tspan></text>
<text transform="translate(249.7,135.2) scale(1.08,1)" font-size="6.6" fill="#0a0a0a">10<tspan dy="-2.6" font-size="5.0">1</tspan></text>
<text transform="translate(265.4,135.2) scale(1.08,1)" font-size="6.6" fill="#0a0a0a">10<tspan dy="-2.6" font-size="5.0">2</tspan></text>
<text transform="translate(281.1,135.2) scale(1.08,1)" font-size="6.6" fill="#0a0a0a">10<tspan dy="-2.6" font-size="5.0">3</tspan></text>
<text transform="translate(296.8,135.2) scale(1.08,1)" font-size="6.6" fill="#0a0a0a">10<tspan dy="-2.6" font-size="5.0">4</tspan></text>
<text transform="translate(312.5,135.2) scale(1.08,1)" font-size="6.6" fill="#0a0a0a">10<tspan dy="-2.6" font-size="5.0">5</tspan></text>
<rect x="256" y="34.5" width="28.5" height="68.5" fill="none" stroke="#555" stroke-width="0.8"/>
<rect x="299.5" y="79" width="25" height="38.5" fill="none" stroke="#555" stroke-width="0.8"/>
<text x="270.2" y="40.3" font-size="4.6" text-anchor="middle" fill="#0a0a0a" >Granulocytes</text>
<text x="270.2" y="45.8" font-size="4.6" text-anchor="middle" fill="#0a0a0a" >50.8</text>
<text x="312.5" y="66.3" font-size="4.6" text-anchor="middle" fill="#0a0a0a" >Monocytes</text>
<text x="312.5" y="71.8" font-size="4.6" text-anchor="middle" fill="#0a0a0a" >14.5</text>
<text x="307.5" y="48.8" font-size="8" text-anchor="middle" fill="#0a0a0a" >CD14+</text>
<text x="308" y="57.6" font-size="8" text-anchor="middle" fill="#0a0a0a" >14.5%</text>
<line x1="214.7" y1="142.7" x2="214.7" y2="122.5" stroke="#111" stroke-width="1.25" />
<polygon points="214.7,117.7 212.1,123.7 214.7,122.4 217.3,123.7" fill="#111"/>
<line x1="214.7" y1="142.7" x2="235.3" y2="142.7" stroke="#111" stroke-width="1.25" />
<polygon points="239.7,142.7 234.2,140.4 235.4,142.7 234.2,145" fill="#111"/>
<text transform="translate(209.9,134.2) rotate(-90) scale(0.593,1)" font-size="10.5" font-weight="bold" text-anchor="middle" fill="#111" stroke="#111" stroke-width="0.25">SSC</text>
<text transform="translate(216.3,154.7) scale(0.622,1)" font-size="10.5" font-weight="bold" text-anchor="start" fill="#111" stroke="#111" stroke-width="0.25">CD14</text>
<path d="M324 220H334.8V91H350" fill="none" stroke="#111" stroke-width="1.4"/>
<polygon points="357,91 348.5,87.6 350.6,91 348.5,94.4" fill="#111"/>
<path d="M324 249H340.8V221H350" fill="none" stroke="#111" stroke-width="1.4"/>
<polygon points="357,221 348.5,217.6 350.6,221 348.5,224.4" fill="#111"/>
<g filter="url(#bs)">
<path d="M398,88 C397,82 404,72 412,66 C417,62 422,62 424,68 C427,75 430,84 428,90 C426,93.5 402,94 398,88Z" fill="#ececec" stroke="#c4c4c4" stroke-width="0.6"/>
<path d="M400,87 C400,81 406,73 412.5,67.5 C417,64 421,64.5 422.5,69 C425,76 427,83 425.5,88.5 C422,91 403,91.5 400,87Z" fill="#e0e0e0" stroke="#b8b8b8" stroke-width="0.5"/>
<path d="M402,85.5 C402,80 407,73 413,69 C417,66.5 420.5,67 421,71 C422.5,77 423,83 421.5,86.5 C418,88.5 404.5,89 402,85.5Z" fill="#d2d2d2" stroke="#aaa" stroke-width="0.5"/>
<path d="M404,84 C404,78 408,71.5 414,68.8 C417.5,67 419.5,69.5 419,74 C418,80 414,85.5 409,86.5 C406,87 404,86.5 404,84Z" fill="#b0b0b0" stroke="#808080" stroke-width="0.7"/>
<path d="M406.5,82.5 C406.5,78 409.5,73 413.5,71 C416,70 417,72 416.5,75 C415.5,80 412.5,84 409.5,84.5 C407.5,84.8 406.5,84 406.5,82.5Z" fill="#c0c0c0" stroke="#8c8c8c" stroke-width="0.5"/>
<ellipse cx="411.8" cy="77.8" rx="1.2" ry="3.2" transform="rotate(28 411.8 77.8)" fill="#f6f6f6"/>
</g>
<rect x="377.5" y="51" width="76.2" height="76.5" fill="none" stroke="#b4b4b4" stroke-width="0.8"/>
<line x1="377.5" y1="51" x2="377.5" y2="127.5" stroke="#555" stroke-width="0.9" />
<line x1="377.5" y1="127.5" x2="453.8" y2="127.5" stroke="#555" stroke-width="0.9" />
<path d="M375.5 59h2M375.5 72.7h2M375.5 86.4h2M375.5 100.1h2M375.5 113.8h2M375.5 127.5h2M379.5 127.5v2M392.9 127.5v2M406.4 127.5v2M419.9 127.5v2M433.3 127.5v2M446.8 127.5v2" stroke="#333" stroke-width="0.9"/>
<path d="M376.3 68.6h1.2M376.3 66.2h1.2M376.3 64.5h1.2M376.3 63.1h1.2M376.3 62h1.2M376.3 61.1h1.2M376.3 60.3h1.2M376.3 59.6h1.2M376.3 82.3h1.2M376.3 79.9h1.2M376.3 78.2h1.2M376.3 76.8h1.2M376.3 75.7h1.2M376.3 74.8h1.2M376.3 74h1.2M376.3 73.3h1.2M376.3 96h1.2M376.3 93.6h1.2M376.3 91.9h1.2M376.3 90.5h1.2M376.3 89.4h1.2M376.3 88.5h1.2M376.3 87.7h1.2M376.3 87h1.2M376.3 109.7h1.2M376.3 107.3h1.2M376.3 105.6h1.2M376.3 104.2h1.2M376.3 103.1h1.2M376.3 102.2h1.2M376.3 101.4h1.2M376.3 100.7h1.2M376.3 123.4h1.2M376.3 121h1.2M376.3 119.3h1.2M376.3 117.9h1.2M376.3 116.8h1.2M376.3 115.9h1.2M376.3 115.1h1.2M376.3 114.4h1.2M383.5 127.5v1.2M385.9 127.5v1.2M387.6 127.5v1.2M388.9 127.5v1.2M390 127.5v1.2M390.9 127.5v1.2M391.6 127.5v1.2M392.3 127.5v1.2M397 127.5v1.2M399.4 127.5v1.2M401 127.5v1.2M402.4 127.5v1.2M403.4 127.5v1.2M404.3 127.5v1.2M405.1 127.5v1.2M405.8 127.5v1.2M410.4 127.5v1.2M412.8 127.5v1.2M414.5 127.5v1.2M415.8 127.5v1.2M416.9 127.5v1.2M417.8 127.5v1.2M418.5 127.5v1.2M419.2 127.5v1.2M423.9 127.5v1.2M426.3 127.5v1.2M427.9 127.5v1.2M429.3 127.5v1.2M430.3 127.5v1.2M431.2 127.5v1.2M432 127.5v1.2M432.7 127.5v1.2M437.3 127.5v1.2M439.7 127.5v1.2M441.4 127.5v1.2M442.7 127.5v1.2M443.8 127.5v1.2M444.7 127.5v1.2M445.4 127.5v1.2M446.1 127.5v1.2" stroke="#666" stroke-width="0.6"/>
<text transform="translate(360.6,61.6) scale(1.08,1)" font-size="7.3" fill="#0a0a0a">10<tspan dy="-2.6" font-size="5.5">5</tspan></text>
<text transform="translate(375.1,139.5) scale(1.08,1)" font-size="7.3" fill="#0a0a0a">10<tspan dy="-2.6" font-size="5.5">0</tspan></text>
<text transform="translate(360.6,75.3) scale(1.08,1)" font-size="7.3" fill="#0a0a0a">10<tspan dy="-2.6" font-size="5.5">4</tspan></text>
<text transform="translate(388.6,139.5) scale(1.08,1)" font-size="7.3" fill="#0a0a0a">10<tspan dy="-2.6" font-size="5.5">1</tspan></text>
<text transform="translate(360.6,89) scale(1.08,1)" font-size="7.3" fill="#0a0a0a">10<tspan dy="-2.6" font-size="5.5">3</tspan></text>
<text transform="translate(402,139.5) scale(1.08,1)" font-size="7.3" fill="#0a0a0a">10<tspan dy="-2.6" font-size="5.5">2</tspan></text>
<text transform="translate(360.6,102.7) scale(1.08,1)" font-size="7.3" fill="#0a0a0a">10<tspan dy="-2.6" font-size="5.5">2</tspan></text>
<text transform="translate(415.5,139.5) scale(1.08,1)" font-size="7.3" fill="#0a0a0a">10<tspan dy="-2.6" font-size="5.5">3</tspan></text>
<text transform="translate(360.6,116.4) scale(1.08,1)" font-size="7.3" fill="#0a0a0a">10<tspan dy="-2.6" font-size="5.5">1</tspan></text>
<text transform="translate(428.9,139.5) scale(1.08,1)" font-size="7.3" fill="#0a0a0a">10<tspan dy="-2.6" font-size="5.5">4</tspan></text>
<text transform="translate(360.6,130.1) scale(1.08,1)" font-size="7.3" fill="#0a0a0a">10<tspan dy="-2.6" font-size="5.5">0</tspan></text>
<text transform="translate(442.4,139.5) scale(1.08,1)" font-size="7.3" fill="#0a0a0a">10<tspan dy="-2.6" font-size="5.5">5</tspan></text>
<line x1="425.5" y1="51" x2="425.5" y2="127.5" stroke="#555" stroke-width="0.8" />
<line x1="425.5" y1="51" x2="453.8" y2="51" stroke="#555" stroke-width="0.8" />
<text x="439" y="61.5" font-size="4.7" text-anchor="middle" fill="#0a0a0a" >CD117+</text>
<text x="439" y="67" font-size="4.7" text-anchor="middle" fill="#0a0a0a" >2.68</text>
<text x="404.9" y="108.5" font-size="8" text-anchor="middle" fill="#0a0a0a" >CD117+</text>
<text x="404.9" y="117.7" font-size="8" text-anchor="middle" fill="#0a0a0a" >2.68%</text>
<line x1="355.7" y1="145.8" x2="355.7" y2="125.4" stroke="#111" stroke-width="1.25" />
<polygon points="355.7,120.6 353.1,126.6 355.7,125.3 358.3,126.6" fill="#111"/>
<line x1="355.7" y1="145.8" x2="376.6" y2="145.8" stroke="#111" stroke-width="1.25" />
<polygon points="381,145.8 375.5,143.5 376.7,145.8 375.5,148.1" fill="#111"/>
<text transform="translate(350.9,134) rotate(-90) scale(0.675,1)" font-size="10.5" font-weight="bold" text-anchor="middle" fill="#111" stroke="#111" stroke-width="0.25">CD235a</text>
<text transform="translate(355.7,157) scale(0.582,1)" font-size="10.5" font-weight="bold" text-anchor="start" fill="#111" stroke="#111" stroke-width="0.25">CD117</text>
<g filter="url(#bs)">
<path d="M396,223 C396,218 404,215.5 418,215.5 C432,215.5 446,217 446.5,224 C447,232 436,235 424,235 C410,235 396,230 396,223Z" fill="#ebebeb" stroke="#c4c4c4" stroke-width="0.6"/>
<path d="M398.5,223.3 C398.5,219 406,217.2 418,217.2 C431,217.2 444,218.5 444.3,224.2 C444.6,231 435,233.5 424,233.5 C411,233.5 398.5,229 398.5,223.3Z" fill="#dedede" stroke="#b4b4b4" stroke-width="0.5"/>
<path d="M401,223.6 C401,220 408,218.8 418,218.8 C430,218.8 442,220 442,224.5 C442,230 434,232 424,232 C412,232 401,228.5 401,223.6Z" fill="#cdcdcd" stroke="#a2a2a2" stroke-width="0.5"/>
<path d="M404,224 C404,221 410,220.3 418,220.3 C428,220.3 439.5,221.2 439.5,225 C439.5,229 432,230.5 424,230.5 C414,230.5 404,228 404,224Z" fill="#acacac" stroke="#7c7c7c" stroke-width="0.7"/>
<path d="M408,224.2 C408,222.5 413,221.8 419,222 C427,222.2 436,223 436,225.5 C436,228 430,228.8 423,228.8 C415,228.8 408,226.8 408,224.2Z" fill="#b8b8b8" stroke="#8a8a8a" stroke-width="0.5"/>
<path d="M412,223.4 C415,223.1 418,223.7 421,224.7" fill="none" stroke="#f6f6f6" stroke-width="1.5"/>
<ellipse cx="435.3" cy="225.9" rx="1.5" ry="1.2" fill="#f2f2f2"/>
</g>
<rect x="376" y="179.5" width="77.8" height="76.5" fill="none" stroke="#b4b4b4" stroke-width="0.8"/>
<line x1="376" y1="179.5" x2="376" y2="256" stroke="#555" stroke-width="0.9" />
<line x1="376" y1="256" x2="453.8" y2="256" stroke="#555" stroke-width="0.9" />
<path d="M374 185.5h2M374 199.5h2M374 213.5h2M374 227.5h2M374 241.5h2M374 255.5h2M378 256v2M391.8 256v2M405.5 256v2M419.2 256v2M433 256v2M446.8 256v2" stroke="#333" stroke-width="0.9"/>
<path d="M374.8 195.3h1.2M374.8 192.8h1.2M374.8 191.1h1.2M374.8 189.7h1.2M374.8 188.6h1.2M374.8 187.7h1.2M374.8 186.9h1.2M374.8 186.1h1.2M374.8 209.3h1.2M374.8 206.8h1.2M374.8 205.1h1.2M374.8 203.7h1.2M374.8 202.6h1.2M374.8 201.7h1.2M374.8 200.9h1.2M374.8 200.1h1.2M374.8 223.3h1.2M374.8 220.8h1.2M374.8 219.1h1.2M374.8 217.7h1.2M374.8 216.6h1.2M374.8 215.7h1.2M374.8 214.9h1.2M374.8 214.1h1.2M374.8 237.3h1.2M374.8 234.8h1.2M374.8 233.1h1.2M374.8 231.7h1.2M374.8 230.6h1.2M374.8 229.7h1.2M374.8 228.9h1.2M374.8 228.1h1.2M374.8 251.3h1.2M374.8 248.8h1.2M374.8 247.1h1.2M374.8 245.7h1.2M374.8 244.6h1.2M374.8 243.7h1.2M374.8 242.9h1.2M374.8 242.1h1.2M382.1 256v1.2M384.6 256v1.2M386.3 256v1.2M387.6 256v1.2M388.7 256v1.2M389.6 256v1.2M390.4 256v1.2M391.1 256v1.2M395.9 256v1.2M398.3 256v1.2M400 256v1.2M401.4 256v1.2M402.4 256v1.2M403.4 256v1.2M404.2 256v1.2M404.9 256v1.2M409.6 256v1.2M412.1 256v1.2M413.8 256v1.2M415.1 256v1.2M416.2 256v1.2M417.1 256v1.2M417.9 256v1.2M418.6 256v1.2M423.4 256v1.2M425.8 256v1.2M427.5 256v1.2M428.9 256v1.2M429.9 256v1.2M430.9 256v1.2M431.7 256v1.2M432.4 256v1.2M437.1 256v1.2M439.6 256v1.2M441.3 256v1.2M442.6 256v1.2M443.7 256v1.2M444.6 256v1.2M445.4 256v1.2M446.1 256v1.2" stroke="#666" stroke-width="0.6"/>
<text transform="translate(359.1,188.1) scale(1.08,1)" font-size="7.3" fill="#0a0a0a">10<tspan dy="-2.6" font-size="5.5">5</tspan></text>
<text transform="translate(373.6,268) scale(1.08,1)" font-size="7.3" fill="#0a0a0a">10<tspan dy="-2.6" font-size="5.5">0</tspan></text>
<text transform="translate(359.1,202.1) scale(1.08,1)" font-size="7.3" fill="#0a0a0a">10<tspan dy="-2.6" font-size="5.5">4</tspan></text>
<text transform="translate(387.4,268) scale(1.08,1)" font-size="7.3" fill="#0a0a0a">10<tspan dy="-2.6" font-size="5.5">1</tspan></text>
<text transform="translate(359.1,216.1) scale(1.08,1)" font-size="7.3" fill="#0a0a0a">10<tspan dy="-2.6" font-size="5.5">3</tspan></text>
<text transform="translate(401.1,268) scale(1.08,1)" font-size="7.3" fill="#0a0a0a">10<tspan dy="-2.6" font-size="5.5">2</tspan></text>
<text transform="translate(359.1,230.1) scale(1.08,1)" font-size="7.3" fill="#0a0a0a">10<tspan dy="-2.6" font-size="5.5">2</tspan></text>
<text transform="translate(414.9,268) scale(1.08,1)" font-size="7.3" fill="#0a0a0a">10<tspan dy="-2.6" font-size="5.5">3</tspan></text>
<text transform="translate(359.1,244.1) scale(1.08,1)" font-size="7.3" fill="#0a0a0a">10<tspan dy="-2.6" font-size="5.5">1</tspan></text>
<text transform="translate(428.6,268) scale(1.08,1)" font-size="7.3" fill="#0a0a0a">10<tspan dy="-2.6" font-size="5.5">4</tspan></text>
<text transform="translate(359.1,258.1) scale(1.08,1)" font-size="7.3" fill="#0a0a0a">10<tspan dy="-2.6" font-size="5.5">0</tspan></text>
<text transform="translate(442.4,268) scale(1.08,1)" font-size="7.3" fill="#0a0a0a">10<tspan dy="-2.6" font-size="5.5">5</tspan></text>
<line x1="425.5" y1="179.5" x2="425.5" y2="256" stroke="#555" stroke-width="0.8" />
<line x1="425.5" y1="179.5" x2="453.8" y2="179.5" stroke="#555" stroke-width="0.8" />
<text x="439" y="190" font-size="4.7" text-anchor="middle" fill="#0a0a0a" >CD117+</text>
<text x="439" y="195.5" font-size="4.7" text-anchor="middle" fill="#0a0a0a" >42.7</text>
<text x="407.5" y="196" font-size="8.2" text-anchor="middle" fill="#0a0a0a" >CD117+</text>
<text x="407.5" y="205" font-size="8.2" text-anchor="middle" fill="#0a0a0a" >42.7%</text>
<line x1="355.5" y1="279.1" x2="355.5" y2="258.9" stroke="#111" stroke-width="1.25" />
<polygon points="355.5,254.1 352.9,260.1 355.5,258.8 358.1,260.1" fill="#111"/>
<line x1="355.5" y1="279.1" x2="376.6" y2="279.1" stroke="#111" stroke-width="1.25" />
<polygon points="381,279.1 375.5,276.8 376.7,279.1 375.5,281.4" fill="#111"/>
<text transform="translate(350.7,266.3) rotate(-90) scale(0.652,1)" font-size="10.5" font-weight="bold" text-anchor="middle" fill="#111" stroke="#111" stroke-width="0.25">CD235a</text>
<text transform="translate(355.7,290.2) scale(0.582,1)" font-size="10.5" font-weight="bold" text-anchor="start" fill="#111" stroke="#111" stroke-width="0.25">CD117</text>
<text transform="translate(72.25,179.6) scale(0.95,1)" font-size="17.5" font-weight="bold" text-anchor="middle" fill="#000">B</text>
<text x="149.4" y="180.5" font-size="10.5" text-anchor="middle" fill="#0a0a0a" textLength="42.6" lengthAdjust="spacingAndGlyphs">[Singlets]</text>
<path d="M145.5 206h1m20 .5h1m15.5 0h1m-27.5 .5h1m-8 .5h1m5 .5h1m7 0h1m20 1h1m-47.5 1.5h1m19 0h1m-8 1h1m0 0h1m-14.5 .5h1m10.5 0h1m1.5 .5h1m17 0h1m-43.5 .5h1m7.5 0h1m5 0h1m-1.5 .5h1m6 0h1m18 0h1m-30.5 .5h1m13 .5h1m-9 .5h1m11.5 0h1m-6.5 .5h1m12 0h1m17.5 0h1m-47.5 .5h1m5.5 0h1m.5 0h1m1.5 0h1m1 0h1m-.5 .5h1m-25.5 .5h1m18 0h1m5.5 0h1m4 0h1m2 0h1m-28.5 .5h1m17 0h1m12.5 0h1m0 0h1m6 0h1m13 0h1m-64 .5h1m12.5 0h1m10 0h1m-4 .5h1m8.5 0h1m-13 .5h1m2.5 0h1m2 0h1m-.5 0h1m1 0h1m.5 0h1m-9.5 .5h1m7 0h1m2 0h1m1.5 0h1m-.5 0h1m5.5 0h1m0 0h1m-27 .5h1m9 0h1m2.5 0h1m9 0h1m3 0h1m-37.5 .5h1m12.5 0h1m1.5 0h1m.5 0h1m.5 0h1m4 0h1m6.5 0h1m-26 .5h1m6 0h1m1 0h1m1 0h1m1 0h1m5.5 0h1m2 0h1m5 0h1m-46 .5h1m7 0h1m1.5 0h1m15 0h1m.5 0h1m1.5 0h1m6 0h1m-25.5 .5h1m6 0h1m1 0h1m2.5 0h1m4 0h1m3 0h1m1 0h1m11.5 0h1m-.5 0h1m-21.5 .5h1m1 0h1m0 0h1m8 0h1m0 0h1m10.5 0h1m-33 .5h1m9 0h1m2.5 0h1m.5 0h1m3 0h1m2.5 0h1m4.5 0h1m3 0h1m-41 .5h1m9 0h1m3 0h1m-.5 0h1m0 0h1m.5 0h1m0 0h1m15.5 0h1m-29 .5h1m-.5 0h1m1.5 0h1m2.5 0h1m1 0h1m6 0h1m1 0h1m-.5 0h1m2 0h1m-46 .5h1m16.5 0h1m13.5 0h1m7 0h1m2 0h1m5.5 0h1m.5 0h1m-25.5 .5h1m1 0h1m2.5 0h1m1.5 0h1m2.5 0h1m0 0h1m6 0h1m-34.5 .5h1m17 0h1m4 0h1m3 0h1m6.5 0h1m-26 .5h1m0 0h1m6 0h1m0 0h1m5 0h1m0 0h1m-.5 0h1m7.5 0h1m0 0h1m23 0h1m-56 .5h1m6.5 0h1m2.5 0h1m8.5 0h1m.5 0h1m-.5 0h1m1.5 0h1m1.5 0h1m-.5 0h1m1 0h1m2 0h1m-34.5 .5h1m6 0h1m2 0h1m0 0h1m-.5 0h1m.5 0h1m.5 0h1m1 0h1m3.5 0h1m-.5 0h1m1.5 0h1m1.5 0h1m-.5 0h1m2 0h1m-27.5 .5h1m3 0h1m0 0h1m1 0h1m7 0h1m3.5 0h1m1.5 0h1m1.5 0h1m2.5 0h1m2 0h1m-39 .5h1m18.5 0h1m4 0h1m3 0h1m4 0h1m0 0h1m-20.5 .5h1m3 0h1m1.5 0h1m-.5 0h1m0 0h1m0 0h1m4 0h1m-.5 0h1m0 0h1m3 0h1m-38.5 .5h1m6.5 0h1m5 0h1m1.5 0h1m.5 0h1m-.5 0h1m2 0h1m2.5 0h1m0 0h1m1 0h1m0 0h1m1 0h1m8.5 0h1m0 0h1m0 0h1m7 0h1m-46 .5h1m11 0h1m0 0h1m-.5 0h1m1.5 0h1m1 0h1m-.5 0h1m-.5 0h1m1 0h1m3 0h1m0 0h1m-.5 0h1m-.5 0h1m-.5 0h1m6.5 0h1m1 0h1m16.5 0h1m-63 .5h1m11.5 0h1m0 0h1m1 0h1m-.5 0h1m0 0h1m2.5 0h1m2 0h1m0 0h1m3 0h1m2.5 0h1m13.5 0h1m-36 .5h1m12 0h1m1.5 0h1m0 0h1m3.5 0h1m7.5 0h1m-.5 0h1m6 0h1m.5 0h1m-38.5 .5h1m7 0h1m.5 0h1m3.5 0h1m-.5 0h1m1.5 0h1m0 0h1m1.5 0h1m0 0h1m3.5 0h1m-.5 0h1m5.5 0h1m9.5 0h1m-48 .5h1m7 0h1m1.5 0h1m2 0h1m0 0h1m-.5 0h1m4 0h1m4 0h1m1 0h1m8.5 0h1m9.5 0h1m-50 .5h1m8 0h1m1.5 0h1m1 0h1m-.5 0h1m0 0h1m.5 0h1m.5 0h1m2.5 0h1m2.5 0h1m-.5 0h1m0 0h1m-.5 0h1m0 0h1m-.5 0h1m1.5 0h1m0 0h1m-29 .5h1m2.5 0h1m3 0h1m2.5 0h1m-.5 0h1m0 0h1m.5 0h1m3 0h1m0 0h1m0 0h1m4 0h1m0 0h1m.5 0h1m2 0h1m3.5 0h1m-44.5 .5h1m2.5 0h1m3 0h1m4 0h1m0 0h1m2.5 0h1m1 0h1m1.5 0h1m2 0h1m1.5 0h1m7.5 0h1m-.5 0h1m3.5 0h1m12.5 0h1m0 0h1m-48 .5h1m1 0h1m0 0h1m4.5 0h1m-.5 0h1m3 0h1m0 0h1m1 0h1m4.5 0h1m2 0h1m6 0h1m-40 .5h1m4.5 0h1m.5 0h1m1 0h1m2 0h1m4 0h1m2.5 0h1m-.5 0h1m2.5 0h1m0 0h1m1.5 0h1m3 0h1m6 0h1m0 0h1m-37.5 .5h1m7 0h1m1.5 0h1m1 0h1m-.5 0h1m0 0h1m.5 0h1m3 0h1m1.5 0h1m4.5 0h1m4 0h1m0 0h1m6.5 0h1m8.5 0h1m-53.5 .5h1m2 0h1m.5 0h1m-.5 0h1m-.5 0h1m2.5 0h1m.5 0h1m4 0h1m4.5 0h1m6.5 0h1m.5 0h1m6 0h1m.5 0h1m18.5 0h1m3.5 0h1m-68.5 .5h1m8.5 0h1m3 0h1m7.5 0h1m1 0h1m3 0h1m.5 0h1m-.5 0h1m1.5 0h1m-.5 0h1m3 0h1m.5 0h1m9 0h1m.5 0h1m0 0h1m9.5 0h1m-54.5 .5h1m-.5 0h1m3.5 0h1m0 0h1m-.5 0h1m1 0h1m0 0h1m.5 0h1m0 0h1m1 0h1m3.5 0h1m1 0h1m0 0h1m4.5 0h1m0 0h1m2 0h1m10.5 0h1m11.5 0h1m1 0h1m.5 0h1m-58 .5h1m0 0h1m2 0h1m-.5 0h1m-.5 0h1m3.5 0h1m2 0h1m.5 0h1m2.5 0h1m-.5 0h1m0 0h1m2.5 0h1m-.5 0h1m3 0h1m.5 0h1m0 0h1m8 0h1m.5 0h1m13 0h1m-53.5 .5h1m-.5 0h1m-.5 0h1m3.5 0h1m-.5 0h1m2 0h1m-.5 0h1m-.5 0h1m1.5 0h1m4.5 0h1m6.5 0h1m4 0h1m10 0h1m-48 .5h1m-.5 0h1m3.5 0h1m-.5 0h1m-.5 0h1m-.5 0h1m-.5 0h1m.5 0h1m-.5 0h1m0 0h1m0 0h1m1 0h1m1 0h1m2 0h1m16.5 0h1m.5 0h1m1 0h1m1 0h1m3.5 0h1m1.5 0h1m7.5 0h1m-59.5 .5h1m2.5 0h1m1 0h1m-.5 0h1m-.5 0h1m0 0h1m-.5 0h1m1 0h1m-.5 0h1m0 0h1m-.5 0h1m-.5 0h1m-.5 0h1m-.5 0h1m.5 0h1m4.5 0h1m1 0h1m0 0h1m3 0h1m3 0h1m.5 0h1m2 0h1m4 0h1m6 0h1m2 0h1m1.5 0h1m8 0h1m-.5 0h1m-65.5 .5h1m1.5 0h1m2.5 0h1m1 0h1m1 0h1m0 0h1m1.5 0h1m.5 0h1m0 0h1m.5 0h1m0 0h1m1 0h1m2.5 0h1m2 0h1m1 0h1m11 0h1m7 0h1m0 0h1m0 0h1m3 0h1m1 0h1m-.5 0h1m-.5 0h1m-.5 0h1m.5 0h1m1 0h1m-70.5 .5h1m8.5 0h1m1 0h1m.5 0h1m3 0h1m.5 0h1m4.5 0h1m0 0h1m0 0h1m0 0h1m1.5 0h1m1 0h1m4.5 0h1m-.5 0h1m0 0h1m3 0h1m0 0h1m0 0h1m-.5 0h1m0 0h1m-.5 0h1m6 0h1m1.5 0h1m4 0h1m1.5 0h1m.5 0h1m-48.5 .5h1m1 0h1m-.5 0h1m2 0h1m-.5 0h1m-.5 0h1m0 0h1m10 0h1m0 0h1m4 0h1m1.5 0h1m1.5 0h1m2 0h1m1.5 0h1m-.5 0h1m3.5 0h1m0 0h1m0 0h1m5.5 0h1m-55 .5h1m4 0h1m0 0h1m3 0h1m1 0h1m2.5 0h1m2 0h1m6.5 0h1m3.5 0h1m6.5 0h1m-.5 0h1m1 0h1m-.5 0h1m0 0h1m.5 0h1m16.5 0h1m-75.5 .5h1m18 0h1m-.5 0h1m-.5 0h1m4 0h1m-.5 0h1m0 0h1m.5 0h1m.5 0h1m1 0h1m1.5 0h1m5.5 0h1m7.5 0h1m3.5 0h1m3 0h1m2 0h1m0 0h1m1.5 0h1m5 0h1m6 0h1m-66 .5h1m-.5 0h1m2 0h1m2.5 0h1m-.5 0h1m1 0h1m-.5 0h1m1 0h1m-.5 0h1m0 0h1m-.5 0h1m-.5 0h1m2 0h1m-.5 0h1m4 0h1m1 0h1m-.5 0h1m5 0h1m1.5 0h1m1.5 0h1m2.5 0h1m-.5 0h1m-.5 0h1m0 0h1m0 0h1m.5 0h1m4 0h1m0 0h1m1.5 0h1m-.5 0h1m3 0h1m-57.5 .5h1m1 0h1m8.5 0h1m7 0h1m5.5 0h1m3 0h1m1 0h1m.5 0h1m0 0h1m0 0h1m6.5 0h1m-.5 0h1m1 0h1m0 0h1m-.5 0h1m-.5 0h1m-.5 0h1m4 0h1m11.5 0h1m-69.5 .5h1m6.5 0h1m0 0h1m-.5 0h1m1.5 0h1m0 0h1m.5 0h1m-.5 0h1m1.5 0h1m10.5 0h1m8 0h1m0 0h1m2 0h1m0 0h1m-.5 0h1m1 0h1m2.5 0h1m0 0h1m1.5 0h1m1.5 0h1m0 0h1m-.5 0h1m2 0h1m-.5 0h1m4 0h1m-58 .5h1m2.5 0h1m.5 0h1m.5 0h1m5 0h1m-.5 0h1m9.5 0h1m2.5 0h1m1.5 0h1m3.5 0h1m-.5 0h1m-.5 0h1m.5 0h1m-.5 0h1m-.5 0h1m2.5 0h1m0 0h1m-.5 0h1m-.5 0h1m-.5 0h1m-.5 0h1m3 0h1m-50 .5h1m.5 0h1m1 0h1m1 0h1m1 0h1m18.5 0h1m1 0h1m5.5 0h1m1 0h1m1 0h1m.5 0h1m3 0h1m3 0h1m4.5 0h1m3.5 0h1m-59 .5h1m2.5 0h1m.5 0h1m.5 0h1m11.5 0h1m3 0h1m3 0h1m1.5 0h1m1.5 0h1m-.5 0h1m0 0h1m-.5 0h1m1 0h1m-.5 0h1m1.5 0h1m1.5 0h1m0 0h1m-.5 0h1m-.5 0h1m-.5 0h1m1 0h1m-.5 0h1m-.5 0h1m-.5 0h1m-.5 0h1m-48 .5h1m0 0h1m6 0h1m13 0h1m1 0h1m0 0h1m.5 0h1m0 0h1m-.5 0h1m-.5 0h1m2 0h1m-.5 0h1m0 0h1m1.5 0h1m-.5 0h1m-.5 0h1m2.5 0h1m-.5 0h1m-.5 0h1m-.5 0h1m.5 0h1m.5 0h1m.5 0h1m8.5 0h1m0 0h1m-31 .5h1m5.5 0h1m1 0h1m.5 0h1m1 0h1m.5 0h1m-.5 0h1m-.5 0h1m-.5 0h1m1 0h1m.5 0h1m1 0h1m-49.5 .5h1m5.5 0h1m14.5 0h1m2 0h1m4 0h1m-.5 0h1m0 0h1m0 0h1m-.5 0h1m.5 0h1m-.5 0h1m1 0h1m-.5 0h1m1 0h1m1 0h1m2 0h1m1 0h1m0 0h1m-.5 0h1m0 0h1m1 0h1m1.5 0h1m1 0h1m-59.5 .5h1m30 0h1m3 0h1m1 0h1m1 0h1m.5 0h1m-.5 0h1m0 0h1m-.5 0h1m-.5 0h1m.5 0h1m1.5 0h1m-.5 0h1m2.5 0h1m-.5 0h1m6.5 0h1m-65 .5h1m10 0h1m1 0h1m22.5 0h1m.5 0h1m.5 0h1m1.5 0h1m8 0h1m0 0h1m2 0h1m.5 0h1m2.5 0h1m-.5 0h1m1 0h1m.5 0h1m-56 .5h1m26 0h1m9.5 0h1m-.5 0h1m0 0h1m0 0h1m-.5 0h1m0 0h1m6.5 0h1m0 0h1m2 0h1m2 0h1m-27.5 .5h1m0 0h1m.5 0h1m-.5 0h1m-.5 0h1m3 0h1m2 0h1m1.5 0h1m-.5 0h1m1 0h1m3.5 0h1m-21.5 .5h1m4 0h1m1 0h1m-.5 0h1m-.5 0h1m1.5 0h1m0 0h1m-.5 0h1m0 0h1m1.5 0h1m2.5 0h1m2.5 0h1m3 0h1m-63 .5h1m7 0h1m17.5 0h1m4.5 0h1m8 0h1m4.5 0h1m0 0h1m4.5 0h1m1.5 0h1m-62.5 .5h1m21.5 0h1m10.5 0h1m-.5 0h1m5 0h1m2 0h1m1 0h1m0 0h1m2 0h1m-.5 0h1m-.5 0h1m2.5 0h1m0 0h1m12 0h1m2 0h1m-75.5 .5h1m40 0h1m5.5 0h1m2.5 0h1m9 0h1m-26 .5h1m16 0h1m.5 0h1m1.5 0h1m-.5 0h1m1 0h1m4 0h1m4 0h1m-50.5 .5h1m28 0h1m.5 0h1m1.5 0h1m0 0h1m3.5 0h1m-5 .5h1m1.5 0h1m0 0h1m-.5 0h1m-.5 0h1m6.5 0h1m-33 .5h1m8.5 0h1m11 0h1m1.5 0h1m10.5 0h1m-44 .5h1m11 0h1m2.5 0h1m9 0h1m5 0h1m12 0h1m-34.5 .5h1m7 0h1m.5 .5h1m14 0h1m-40.5 1.5h1m17 0h1m10 0h1m-13.5 .5h1m26.5 0h1m-6 1.5h1m0 1h1m-9 .5h1m-37.5 1.5h1m-7 .5h1m3.5 1h1m37 .5h1m-16 .5h1m-21.5 .5h1m9.5 2h1m2 0h1m15.5 2h1m-31 2h1" stroke="#6464b8" stroke-width="0.9" stroke-opacity="0.42"/>
<rect x="105" y="188.8" width="90.5" height="90.2" fill="none" stroke="#b4b4b4" stroke-width="0.8"/>
<line x1="105" y1="188.8" x2="105" y2="279" stroke="#555" stroke-width="0.9" />
<line x1="105" y1="279" x2="195.5" y2="279" stroke="#555" stroke-width="0.9" />
<path d="M103 196h2M103 212.4h2M103 228.8h2M103 245.2h2M103 261.6h2M103 278h2M117 279v2M139.7 279v2M162.4 279v2M185.1 279v2" stroke="#333" stroke-width="0.9"/>
<path d="M103.8 207.5h1.2M103.8 204.6h1.2M103.8 202.5h1.2M103.8 200.9h1.2M103.8 199.6h1.2M103.8 198.5h1.2M103.8 197.6h1.2M103.8 196.8h1.2M103.8 223.9h1.2M103.8 221h1.2M103.8 218.9h1.2M103.8 217.3h1.2M103.8 216h1.2M103.8 214.9h1.2M103.8 214h1.2M103.8 213.2h1.2M103.8 240.3h1.2M103.8 237.4h1.2M103.8 235.3h1.2M103.8 233.7h1.2M103.8 232.4h1.2M103.8 231.3h1.2M103.8 230.4h1.2M103.8 229.6h1.2M103.8 256.7h1.2M103.8 253.8h1.2M103.8 251.7h1.2M103.8 250.1h1.2M103.8 248.8h1.2M103.8 247.7h1.2M103.8 246.8h1.2M103.8 246h1.2M103.8 273.1h1.2M103.8 270.2h1.2M103.8 268.1h1.2M103.8 266.5h1.2M103.8 265.2h1.2M103.8 264.1h1.2M103.8 263.2h1.2M103.8 262.4h1.2M105.1 279v1.2M108 279v1.2M110.2 279v1.2M112 279v1.2M113.5 279v1.2M114.8 279v1.2M116 279v1.2M123.8 279v1.2M127.8 279v1.2M130.7 279v1.2M132.9 279v1.2M134.7 279v1.2M136.2 279v1.2M137.5 279v1.2M138.7 279v1.2M146.5 279v1.2M150.5 279v1.2M153.4 279v1.2M155.6 279v1.2M157.4 279v1.2M158.9 279v1.2M160.2 279v1.2M161.4 279v1.2M169.2 279v1.2M173.2 279v1.2M176.1 279v1.2M178.3 279v1.2M180.1 279v1.2M181.6 279v1.2M182.9 279v1.2M184.1 279v1.2" stroke="#666" stroke-width="0.6"/>
<text transform="translate(89.3,198.6) scale(1.08,1)" font-size="6.6" fill="#0a0a0a">10<tspan dy="-2.6" font-size="5.0">5</tspan></text>
<text transform="translate(89.3,215) scale(1.08,1)" font-size="6.6" fill="#0a0a0a">10<tspan dy="-2.6" font-size="5.0">4</tspan></text>
<text transform="translate(89.3,231.4) scale(1.08,1)" font-size="6.6" fill="#0a0a0a">10<tspan dy="-2.6" font-size="5.0">3</tspan></text>
<text transform="translate(89.3,247.8) scale(1.08,1)" font-size="6.6" fill="#0a0a0a">10<tspan dy="-2.6" font-size="5.0">2</tspan></text>
<text transform="translate(89.3,264.2) scale(1.08,1)" font-size="6.6" fill="#0a0a0a">10<tspan dy="-2.6" font-size="5.0">1</tspan></text>
<text transform="translate(89.3,280.6) scale(1.08,1)" font-size="6.6" fill="#0a0a0a">10<tspan dy="-2.6" font-size="5.0">0</tspan></text>
<text transform="translate(113,291.5) scale(1.08,1)" font-size="6.6" fill="#0a0a0a">10<tspan dy="-2.6" font-size="5.0">2</tspan></text>
<text transform="translate(135.7,291.5) scale(1.08,1)" font-size="6.6" fill="#0a0a0a">10<tspan dy="-2.6" font-size="5.0">3</tspan></text>
<text transform="translate(158.4,291.5) scale(1.08,1)" font-size="6.6" fill="#0a0a0a">10<tspan dy="-2.6" font-size="5.0">4</tspan></text>
<text transform="translate(181.1,291.5) scale(1.08,1)" font-size="6.6" fill="#0a0a0a">10<tspan dy="-2.6" font-size="5.0">5</tspan></text>
<rect x="159.5" y="236" width="30" height="18.5" fill="none" stroke="#555" stroke-width="0.8"/>
<text x="174.8" y="264.5" font-size="8.2" text-anchor="middle" fill="#0a0a0a" >CD71+</text>
<text x="174.8" y="273.6" font-size="8.2" text-anchor="middle" fill="#0a0a0a" >32.9%</text>
<line x1="189.5" y1="241" x2="213.2" y2="241" stroke="#111" stroke-width="1.5" />
<polygon points="220,241 211.5,237.6 213.6,241 211.5,244.4" fill="#111"/>
<line x1="80" y1="296.5" x2="80" y2="276.5" stroke="#111" stroke-width="1.25" />
<polygon points="80,271.7 77.4,277.7 80,276.4 82.6,277.7" fill="#111"/>
<line x1="80" y1="296.5" x2="100.8" y2="296.5" stroke="#111" stroke-width="1.25" />
<polygon points="105.2,296.5 99.7,294.2 100.9,296.5 99.7,298.8" fill="#111"/>
<text transform="translate(75.4,287.9) rotate(-90) scale(0.659,1)" font-size="10.5" font-weight="bold" text-anchor="middle" fill="#111" stroke="#111" stroke-width="0.25">CD45</text>
<text transform="translate(79.7,306.5) scale(0.607,1)" font-size="10.5" font-weight="bold" text-anchor="start" fill="#111" stroke="#111" stroke-width="0.25">CD71</text>
<path d="M303 203h1m-2 .5h1m12 0h1m-23.5 .5h1m1.5 0h1m-.5 0h1m-.5 0h1m0 0h1m2.5 0h1m1.5 0h1m0 0h1m-6.5 .5h1m1.5 0h1m2.5 0h1m-1 .5h1m1 0h1m-9.5 .5h1m4.5 0h1m-5.5 .5h1m.5 0h1m8.5 0h1m.5 0h1m-21.5 .5h1m15 0h1m-4.5 .5h1m0 0h1m-14.5 .5h1m9.5 0h1m-3 .5h1m5.5 0h1m-5 .5h1m2 0h1m3 0h1m-20.5 .5h1m2.5 0h1m2.5 .5h1m7 0h1m3 0h1m-15.5 .5h1m2.5 0h1m2 0h1m2 0h1m-.5 0h1m.5 0h1m4.5 0h1m-19 .5h1m11 0h1m-13.5 .5h1m1 0h1m5.5 0h1m9 0h1m-20 .5h1m1.5 0h1m8.5 0h1m-.5 0h1m1 0h1m12.5 0h1m-29.5 .5h1m1 0h1m1 0h1m4 0h1m-.5 0h1m1 0h1m1 0h1m7 0h1m2.5 0h1m-25 .5h1m13 0h1m0 0h1m2.5 0h1m-8 .5h1m12.5 0h1m-23 .5h1m4 0h1m5.5 0h1m0 0h1m3 0h1m-14.5 .5h1m-.5 0h1m.5 0h1m2.5 0h1m2 0h1m1 0h1m-.5 0h1m-14 .5h1m3.5 0h1m1 0h1m1 0h1m1.5 0h1m6 0h1m-21.5 .5h1m3.5 0h1m-10 .5h1m3.5 0h1m1.5 0h1m0 0h1m1 0h1m4 0h1m3.5 0h1m-9 .5h1m0 0h1m1 0h1m1.5 0h1m-18.5 .5h1m14 0h1m.5 0h1m-7.5 .5h1m4.5 0h1m-.5 0h1m6 0h1m0 0h1m-21 .5h1m1.5 0h1m2 0h1m1 0h1m-.5 0h1m2.5 0h1m2 0h1m0 0h1m2.5 0h1m6.5 0h1m-22 .5h1m3 0h1m1 0h1m-13 .5h1m0 0h1m6.5 0h1m2.5 0h1m0 0h1m13 0h1m-26.5 .5h1m1 0h1m-.5 0h1m2.5 0h1m0 0h1m.5 0h1m4 0h1m.5 0h1m1.5 0h1m-23.5 .5h1m5.5 0h1m2.5 0h1m.5 0h1m0 0h1m2 0h1m2.5 0h1m5 0h1m-25.5 .5h1m9 0h1m-.5 0h1m-.5 0h1m1 0h1m0 0h1m6 0h1m-3 .5h1m1 0h1m7.5 0h1m-27 .5h1m.5 0h1m-.5 0h1m-.5 0h1m2.5 0h1m.5 0h1m-.5 0h1m3 0h1m0 0h1m.5 0h1m.5 0h1m1.5 0h1m2 0h1m.5 0h1m-26 .5h1m4.5 0h1m4 0h1m1.5 0h1m2 0h1m4.5 0h1m-16.5 .5h1m8.5 0h1m1 0h1m.5 0h1m-10 .5h1m-.5 0h1m0 0h1m-.5 0h1m4.5 0h1m2.5 0h1m4 0h1m.5 0h1m-23.5 .5h1m0 0h1m1.5 0h1m.5 0h1m1.5 0h1m3.5 0h1m3.5 0h1m-24 .5h1m3 0h1m4.5 0h1m3.5 0h1m1.5 0h1m4 0h1m-21.5 .5h1m0 0h1m1.5 0h1m-.5 0h1m1.5 0h1m.5 0h1m0 0h1m0 0h1m-.5 0h1m1.5 0h1m0 0h1m2.5 0h1m4 0h1m0 0h1m6.5 0h1m-27 .5h1m7 0h1m1 0h1m-.5 0h1m2.5 0h1m3 0h1m-21 .5h1m5 0h1m1 0h1m6 0h1m2.5 0h1m2.5 0h1m-24.5 .5h1m.5 0h1m2.5 0h1m1.5 0h1m0 0h1m2 0h1m2.5 0h1m-20 .5h1m.5 0h1m5.5 0h1m-.5 0h1m.5 0h1m0 0h1m1.5 0h1m3 0h1m1 0h1m-20 .5h1m3.5 0h1m1 0h1m1 0h1m.5 0h1m.5 0h1m3.5 0h1m7 0h1m-12 .5h1m1.5 0h1m.5 0h1m0 0h1m2.5 0h1m-19 .5h1m3.5 0h1m3 0h1m-.5 0h1m6 0h1m4 0h1m-22 .5h1m7 0h1m-.5 0h1m0 0h1m1 0h1m2.5 0h1m2 0h1m-17 .5h1m1.5 0h1m5 0h1m.5 0h1m.5 0h1m1.5 0h1m0 0h1m-.5 0h1m.5 0h1m1.5 0h1m-23 .5h1m2 0h1m-.5 0h1m-.5 0h1m21 0h1m-25 .5h1m.5 0h1m1 0h1m1 0h1m5 0h1m-.5 0h1m0 0h1m.5 0h1m4.5 0h1m5.5 0h1m-28 .5h1m2 0h1m3 0h1m.5 0h1m4 0h1m1 0h1m0 0h1m.5 0h1m-17.5 .5h1m.5 0h1m8 0h1m2 0h1m4.5 0h1m-20 .5h1m.5 0h1m1 0h1m2 0h1m6 0h1m-14 .5h1m3 0h1m3.5 0h1m6.5 0h1m-22 .5h1m4 0h1m3.5 0h1m.5 0h1m5 0h1m0 0h1m9 0h1m-22.5 .5h1m-.5 0h1m0 0h1m.5 0h1m-.5 0h1m0 0h1m0 0h1m1.5 0h1m1 0h1m1.5 0h1m5.5 0h1m-23.5 .5h1m.5 0h1m4.5 0h1m7 0h1m2 0h1m1 0h1m-18 .5h1m1 0h1m1.5 0h1m1 0h1m1 0h1m0 0h1m-17 .5h1m0 0h1m18 0h1m11 0h1m-25 .5h1m0 0h1m0 0h1m-.5 .5h1m-.5 0h1m-.5 0h1m8 0h1m.5 0h1m2 0h1m2 0h1m2.5 0h1m-28.5 .5h1m3.5 0h1m-.5 0h1m2.5 0h1m0 0h1m0 0h1m-16.5 .5h1m6 0h1m2 0h1m.5 0h1m0 0h1m5 0h1m7 0h1m-27 .5h1m5.5 0h1m5 0h1m.5 0h1m-8 .5h1m.5 0h1m2.5 0h1m-8 .5h1m9.5 0h1m2.5 0h1m4 0h1m-18 .5h1m.5 0h1m2 0h1m-.5 0h1m1.5 0h1m-.5 0h1m3.5 0h1m-17.5 .5h1m4.5 0h1m1 0h1m6 0h1m-.5 0h1m10.5 0h1m-25 .5h1m4 0h1m1 0h1m1 0h1m0 0h1m.5 0h1m3 0h1m-13.5 .5h1m.5 0h1m21.5 0h1m-31.5 .5h1m3 0h1m1 0h1m1.5 0h1m4 0h1m1 0h1m10.5 0h1m-28 .5h1m11 0h1m-10.5 .5h1m1 0h1m4 0h1m-.5 0h1m2 0h1m10 0h1m6 0h1m-28.5 .5h1m-3 .5h1m0 0h1m3 0h1m.5 0h1m-11 .5h1m6 0h1m3.5 0h1m3 0h1m3.5 0h1m-19 .5h1m1.5 0h1m.5 0h1m4 0h1m-.5 0h1m-.5 0h1m.5 0h1m0 0h1m0 0h1m-11.5 .5h1m2.5 0h1m-5.5 1h1m3 0h1m-.5 0h1m-.5 0h1m0 0h1m2.5 0h1m-.5 0h1m1 0h1m0 0h1m.5 0h1m0 0h1m8 0h1m-20 .5h1m6 0h1m-.5 0h1m-14 .5h1m3.5 0h1m4.5 0h1m.5 0h1m-.5 0h1m-9 .5h1m5 0h1m8 0h1m-19.5 1h1m3 0h1m2.5 0h1m4.5 0h1m-.5 0h1m-12.5 .5h1m4 0h1m-9 .5h1m0 0h1m3.5 0h1m6 0h1m-9 .5h1m-5 .5h1m2.5 0h1m5.5 0h1m-.5 0h1m0 0h1m-11.5 .5h1m2.5 0h1m4.5 0h1m2 0h1m-.5 0h1m-17.5 .5h1m9.5 0h1m-9 .5h1m6 0h1m-.5 0h1m11.5 0h1m-20.5 .5h1m.5 0h1m-.5 .5h1m8.5 0h1m-11 .5h1m5.5 0h1m1 0h1m-16 1h1m5.5 0h1m6 0h1m-6.5 .5h1m8 .5h1m0 0h1m-10.5 .5h1m2.5 0h1m1.5 .5h1m-10 .5h1m8 0h1m-5.5 .5h1m0 0h1m11 0h1m3 0h1m-16 .5h1m-11.5 .5h1m10.5 0h1m15 .5h1m-19.5 .5h1m2.5 0h1m1.5 0h1m-4.5 .5h1m5.5 .5h1m-2.5 .5h1m-.5 0h1m12 .5h1" stroke="#6a66b0" stroke-width="0.9" stroke-opacity="0.42"/>
<rect x="237" y="188.8" width="90.3" height="90.1" fill="none" stroke="#b4b4b4" stroke-width="0.8"/>
<line x1="237" y1="188.8" x2="237" y2="278.9" stroke="#555" stroke-width="0.9" />
<line x1="237" y1="278.9" x2="327.3" y2="278.9" stroke="#555" stroke-width="0.9" />
<path d="M235 196h2M235 212.3h2M235 228.6h2M235 244.9h2M235 261.2h2M235 277.5h2M247.6 278.9v2M270.9 278.9v2M294.2 278.9v2M317.5 278.9v2" stroke="#333" stroke-width="0.9"/>
<path d="M235.8 207.4h1.2M235.8 204.5h1.2M235.8 202.5h1.2M235.8 200.9h1.2M235.8 199.6h1.2M235.8 198.5h1.2M235.8 197.6h1.2M235.8 196.7h1.2M235.8 223.7h1.2M235.8 220.8h1.2M235.8 218.8h1.2M235.8 217.2h1.2M235.8 215.9h1.2M235.8 214.8h1.2M235.8 213.9h1.2M235.8 213h1.2M235.8 240h1.2M235.8 237.1h1.2M235.8 235.1h1.2M235.8 233.5h1.2M235.8 232.2h1.2M235.8 231.1h1.2M235.8 230.2h1.2M235.8 229.3h1.2M235.8 256.3h1.2M235.8 253.4h1.2M235.8 251.4h1.2M235.8 249.8h1.2M235.8 248.5h1.2M235.8 247.4h1.2M235.8 246.5h1.2M235.8 245.6h1.2M235.8 272.6h1.2M235.8 269.7h1.2M235.8 267.7h1.2M235.8 266.1h1.2M235.8 264.8h1.2M235.8 263.7h1.2M235.8 262.8h1.2M235.8 261.9h1.2M238.3 278.9v1.2M240.6 278.9v1.2M242.4 278.9v1.2M244 278.9v1.2M245.3 278.9v1.2M246.5 278.9v1.2M254.6 278.9v1.2M258.7 278.9v1.2M261.6 278.9v1.2M263.9 278.9v1.2M265.7 278.9v1.2M267.3 278.9v1.2M268.6 278.9v1.2M269.8 278.9v1.2M277.9 278.9v1.2M282 278.9v1.2M284.9 278.9v1.2M287.2 278.9v1.2M289 278.9v1.2M290.6 278.9v1.2M291.9 278.9v1.2M293.1 278.9v1.2M301.2 278.9v1.2M305.3 278.9v1.2M308.2 278.9v1.2M310.5 278.9v1.2M312.3 278.9v1.2M313.9 278.9v1.2M315.2 278.9v1.2M316.4 278.9v1.2" stroke="#666" stroke-width="0.6"/>
<text transform="translate(221.3,198.6) scale(1.08,1)" font-size="6.6" fill="#0a0a0a">10<tspan dy="-2.6" font-size="5.0">5</tspan></text>
<text transform="translate(221.3,214.9) scale(1.08,1)" font-size="6.6" fill="#0a0a0a">10<tspan dy="-2.6" font-size="5.0">4</tspan></text>
<text transform="translate(221.3,231.2) scale(1.08,1)" font-size="6.6" fill="#0a0a0a">10<tspan dy="-2.6" font-size="5.0">3</tspan></text>
<text transform="translate(221.3,247.5) scale(1.08,1)" font-size="6.6" fill="#0a0a0a">10<tspan dy="-2.6" font-size="5.0">2</tspan></text>
<text transform="translate(221.3,263.8) scale(1.08,1)" font-size="6.6" fill="#0a0a0a">10<tspan dy="-2.6" font-size="5.0">1</tspan></text>
<text transform="translate(221.3,280.1) scale(1.08,1)" font-size="6.6" fill="#0a0a0a">10<tspan dy="-2.6" font-size="5.0">0</tspan></text>
<text transform="translate(243.6,291.5) scale(1.08,1)" font-size="6.6" fill="#0a0a0a">10<tspan dy="-2.6" font-size="5.0">2</tspan></text>
<text transform="translate(266.9,291.5) scale(1.08,1)" font-size="6.6" fill="#0a0a0a">10<tspan dy="-2.6" font-size="5.0">3</tspan></text>
<text transform="translate(290.2,291.5) scale(1.08,1)" font-size="6.6" fill="#0a0a0a">10<tspan dy="-2.6" font-size="5.0">4</tspan></text>
<text transform="translate(313.5,291.5) scale(1.08,1)" font-size="6.6" fill="#0a0a0a">10<tspan dy="-2.6" font-size="5.0">5</tspan></text>
<rect x="287.5" y="202.5" width="36.5" height="59.5" fill="none" stroke="#555" stroke-width="0.8"/>
<line x1="287.5" y1="234.5" x2="324" y2="234.5" stroke="#555" stroke-width="1.2" />
<text x="260" y="212.9" font-size="8" text-anchor="middle" fill="#0a0a0a" >CD235a+</text>
<text x="260" y="222.6" font-size="8" text-anchor="middle" fill="#0a0a0a" >70.2%</text>
<text x="260" y="246.8" font-size="8" text-anchor="middle" fill="#0a0a0a" >CD235a&#8722;</text>
<text x="260" y="256.1" font-size="8" text-anchor="middle" fill="#0a0a0a" >25.7%</text>
<line x1="214.7" y1="296.5" x2="214.7" y2="276.5" stroke="#111" stroke-width="1.25" />
<polygon points="214.7,271.7 212.1,277.7 214.7,276.4 217.3,277.7" fill="#111"/>
<line x1="214.7" y1="296.5" x2="235.3" y2="296.5" stroke="#111" stroke-width="1.25" />
<polygon points="239.7,296.5 234.2,294.2 235.4,296.5 234.2,298.8" fill="#111"/>
<text transform="translate(210.4,284.2) rotate(-90) scale(0.649,1)" font-size="10.5" font-weight="bold" text-anchor="middle" fill="#111" stroke="#111" stroke-width="0.25">CD235a</text>
<text transform="translate(214.2,306.5) scale(0.611,1)" font-size="10.5" font-weight="bold" text-anchor="start" fill="#111" stroke="#111" stroke-width="0.25">CD71</text>
<text transform="translate(71.8,337.3) scale(0.95,1)" font-size="17.5" font-weight="bold" text-anchor="middle" fill="#000">C</text>
<text x="145.4" y="338.8" font-size="10.8" text-anchor="middle" fill="#0a0a0a" textLength="41.2" lengthAdjust="spacingAndGlyphs">[CD45+]</text>
<path d="M124 357.5h1m0 0h1m-1 .5h1m.5 0h1m-4.5 1h1m0 0h1m.5 0h1m0 0h1m-3.5 .5h1m-.5 0h1m-2 .5h1m-.5 0h1m-.5 0h1m-.5 0h1m.5 0h1m-3 .5h1m0 0h1m.5 0h1m-2.5 .5h1m-3 .5h1m1 0h1m.5 0h1m-5.5 .5h1m2 0h1m-3 .5h1m1 0h1m-3 .5h1m0 0h1m0 0h1m-.5 0h1m-4 .5h1m-.5 0h1m0 0h1m-.5 0h1m0 0h1m-4.5 .5h1m-.5 0h1m.5 0h1m-.5 0h1m0 0h1m0 0h1m-4.5 .5h1m-.5 0h1m0 0h1m0 0h1m-.5 0h1m-4 .5h1m-.5 0h1m-.5 0h1m-.5 0h1m0 0h1m0 0h1m-5 .5h1m0 0h1m0 0h1m-.5 0h1m-.5 0h1m-3.5 .5h1m-.5 0h1m-.5 0h1m-.5 0h1m-.5 0h1m-2 .5h1m-.5 0h1m-3.5 .5h1m0 0h1m-.5 0h1m0 0h1m.5 0h1m-4.5 .5h1m-.5 0h1m-.5 0h1m-.5 0h1m0 0h1m-.5 0h1m-4 .5h1m0 0h1m-.5 0h1m-.5 0h1m-.5 0h1m-.5 0h1m-.5 0h1m-3.5 .5h1m-.5 0h1m-.5 0h1m-.5 0h1m0 0h1m-4 .5h1m-.5 0h1m-.5 0h1m-.5 0h1m.5 0h1m-4.5 .5h1m-.5 0h1m-.5 0h1m-.5 0h1m0 0h1m.5 0h1m0 0h1m-5.5 .5h1m-.5 0h1m0 0h1m-.5 0h1m-.5 0h1m-3.5 .5h1m0 0h1m-.5 0h1m1.5 0h1m-6 .5h1m-.5 0h1m-.5 0h1m-.5 0h1m-.5 0h1m-.5 0h1m-.5 0h1m1 0h1m-4.5 .5h1m-.5 0h1m-3 .5h1m0 0h1m-.5 0h1m.5 0h1m0 0h1m-4.5 .5h1m-.5 0h1m-.5 0h1m-.5 0h1m-.5 0h1m-.5 0h1m-4 .5h1m-.5 0h1m-.5 0h1m-.5 0h1m-.5 0h1m-.5 0h1m-2 .5h1m-.5 0h1m.5 0h1m-4.5 .5h1m0 0h1m0 0h1m1 0h1m0 0h1m-5 .5h1m-.5 0h1m-.5 0h1m-.5 0h1m-1.5 .5h1m-.5 0h1m0 0h1m-3.5 .5h1m-.5 0h1m-.5 0h1m.5 0h1m-4 .5h1m0 0h1m.5 0h1m-3 .5h1m.5 0h1m-3.5 .5h1m0 0h1m-.5 0h1m-.5 0h1m0 0h1m-.5 0h1m-.5 0h1m-3 .5h1m-.5 0h1m-1 .5h1m0 0h1m-.5 0h1m-2 .5h1m-.5 0h1m-3 .5h1m0 0h1m-.5 0h1m-2.5 .5h1m.5 0h1m-3 .5h1m1.5 0h1m0 0h1m-4 .5h1m-1.5 .5h1m-.5 .5h1m-1.5 .5h1m-.5 0h1m1 0h1m-4 .5h1m1.5 0h1" stroke="#3c6890" stroke-width="0.9" stroke-opacity="0.55"/>
<path d="M123 357.5h1m0 .5h1m-1 .5h1m-1 1h1m-.5 .5h1m-1 1h1m-2.5 .5h1m1.5 .5h1m-4 .5h1m1 0h1m-1.5 .5h1m.5 0h1m-3 .5h1m0 0h1m0 0h1m-3.5 .5h1m0 0h1m-.5 0h1m-2.5 .5h1m0 0h1m1 0h1m-2 .5h1m-2 .5h1m0 0h1m0 0h1m-3.5 .5h1m-.5 0h1m0 0h1m-2.5 .5h1m-.5 0h1m-.5 0h1m-1.5 .5h1m.5 0h1m-3 .5h1m.5 0h1m-.5 0h1m-3 .5h1m-.5 0h1m1.5 0h1m-2 .5h1m-.5 0h1m-3.5 .5h1m-.5 0h1m-.5 0h1m-.5 0h1m-1 .5h1m-.5 0h1m-3.5 .5h1m1 0h1m-1 .5h1m-.5 0h1m0 0h1m-.5 0h1m-5 .5h1m0 0h1m-.5 0h1m-.5 0h1m-2 .5h1m-.5 0h1m0 0h1m-.5 0h1m-4 .5h1m0 0h1m-.5 0h1m-.5 0h1m-.5 0h1m-.5 0h1m-3 .5h1m-.5 0h1m.5 0h1m-2.5 .5h1m.5 0h1m-2.5 .5h1m-.5 0h1m-2.5 .5h1m-.5 0h1m-.5 0h1m-2 .5h1m.5 0h1m.5 0h1m-3 .5h1m-2.5 .5h1m1 .5h1m0 0h1m-3 .5h1m0 .5h1m-1 1h1m-3 1h1m1 1h1m0 2h1" stroke="#5a9a70" stroke-width="0.9" stroke-opacity="0.6"/>
<path d="M124.5 358.5h1m-.5 4h1m-1.5 .5h1m0 0h1m-2.5 .5h1m-.5 0h1m-1 .5h1m-1 .5h1m0 0h1m-3.5 .5h1m0 0h1m0 .5h1m-1.5 .5h1m0 0h1m-2 .5h1m-.5 0h1m-2 .5h1m-.5 0h1m-.5 0h1m-3 .5h1m0 0h1m-1 .5h1m-.5 0h1m0 0h1m-2.5 1h1m-1 .5h1m0 0h1m-2 1h1m-.5 0h1m-.5 0h1m0 0h1m-2 .5h1m-2 .5h1m-.5 .5h1m-.5 0h1m-.5 0h1m-2 .5h1m-1 .5h1m-.5 0h1m-.5 0h1m-4 .5h1m1 0h1m-1.5 2h1m-.5 0h1" stroke="#b0b840" stroke-width="0.9" stroke-opacity="0.6"/>
<path d="M133.5 353h1m-7.5 1h1m0 1h1m5 .5h1m-.5 .5h1m13 .5h1m9 0h1m-17 1h1m19.5 1h1m1 0h1m2 .5h1m-39.5 .5h1m4 0h1m7 0h1m32 0h1m2 0h1m-44.5 1.5h1m16 0h1m.5 0h1m-24.5 .5h1m14.5 0h1m25.5 0h1m2.5 0h1m-40 .5h1m17.5 0h1m1 0h1m23 0h1m-57 .5h1m8 0h1m10.5 0h1m4 0h1m24 0h1m5 0h1m-46 .5h1m18 0h1m13 0h1m-47 .5h1m24 0h1m-18 .5h1m-6.5 .5h1m1.5 0h1m-.5 0h1m13.5 0h1m29.5 0h1m7 .5h1m-51 .5h1m1.5 0h1m18.5 0h1m17 0h1m-40 .5h1m24 0h1m6.5 0h1m-32.5 .5h1m38 0h1m-44 .5h1m0 0h1m38 0h1m-46.5 .5h1m5 0h1m1.5 0h1m19 0h1m16 0h1m-43.5 .5h1m2 0h1m3 0h1m29.5 0h1m0 1h1m15 0h1m-56 .5h1m2.5 0h1m-1.5 .5h1m31 0h1m4.5 0h1m-16 .5h1m-30 .5h1m2 0h1m2.5 0h1m-.5 0h1m2.5 0h1m.5 0h1m-8 .5h1m12.5 0h1m-11.5 .5h1m50 0h1m-58.5 .5h1m-.5 .5h1m2 0h1m2 0h1m-.5 0h1m.5 0h1m36.5 0h1m8.5 0h1m2 0h1m-60.5 .5h1m9 0h1m0 0h1m1.5 0h1m-5.5 .5h1m34.5 0h1m.5 0h1m8.5 0h1m-36 .5h1m32 0h1m.5 0h1m-50.5 .5h1m-1.5 .5h1m21 0h1m-21.5 1h1m5.5 0h1m-8 .5h1m2 0h1m5.5 0h1m-10.5 .5h1m5 0h1m21.5 0h1m-33 .5h1m-1.5 .5h1m21 0h1m29.5 0h1m-38 1.5h1m2 0h1m6 0h1m6 0h1m-6.5 .5h1m-24 .5h1m17.5 .5h1m-5.5 .5h1m25.5 0h1m11.5 .5h1m-55.5 .5h1m-3.5 .5h1m24.5 .5h1m-2.5 .5h1m1.5 0h1m9.5 0h1m13.5 0h1m-47 3.5h1" stroke="#8090c8" stroke-width="0.9" stroke-opacity="0.35"/>
<rect x="104.5" y="346" width="84" height="84" fill="none" stroke="#b4b4b4" stroke-width="0.8"/>
<line x1="104.5" y1="346" x2="104.5" y2="430" stroke="#555" stroke-width="0.9" />
<line x1="104.5" y1="430" x2="188.5" y2="430" stroke="#555" stroke-width="0.9" />
<path d="M102.5 356h2M102.5 374.5h2M102.5 397.5h2M102.5 411h2M102.5 424.5h2M112 430v2M124.5 430v2M137.5 430v2M158 430v2M178 430v2" stroke="#333" stroke-width="0.9"/>
<path d="M103.3 390.6h1.2M103.3 386.5h1.2M103.3 383.7h1.2M103.3 381.4h1.2M103.3 379.6h1.2M103.3 378.1h1.2M103.3 376.7h1.2M103.3 375.6h1.2M103.3 368.9h1.2M103.3 365.7h1.2M103.3 363.4h1.2M103.3 361.6h1.2M103.3 360.1h1.2M103.3 358.9h1.2M103.3 357.8h1.2M103.3 356.8h1.2M143.7 430v1.2M147.3 430v1.2M149.8 430v1.2M151.8 430v1.2M153.5 430v1.2M154.8 430v1.2M156 430v1.2M157.1 430v1.2M164 430v1.2M167.5 430v1.2M170 430v1.2M172 430v1.2M173.6 430v1.2M174.9 430v1.2M176.1 430v1.2M177.1 430v1.2" stroke="#666" stroke-width="0.6"/>
<text transform="translate(88.8,358.6) scale(1.08,1)" font-size="6.6" fill="#0a0a0a">10<tspan dy="-2.6" font-size="5.0">5</tspan></text>
<text transform="translate(88.8,377.1) scale(1.08,1)" font-size="6.6" fill="#0a0a0a">10<tspan dy="-2.6" font-size="5.0">4</tspan></text>
<text transform="translate(88.8,400.1) scale(1.08,1)" font-size="6.6" fill="#0a0a0a">10<tspan dy="-2.6" font-size="5.0">3</tspan></text>
<text x="99.7" y="413.6" font-size="7" text-anchor="end" fill="#0a0a0a" >0</text>
<rect x="102.6" y="409.3" width="2.3" height="3.4" fill="#111"/>
<rect x="122.5" y="429.3" width="4" height="1.9" fill="#111"/>
<text transform="translate(84.6,427.1) scale(1.08,1)" font-size="6.6" fill="#0a0a0a">&#8722;10<tspan dy="-2.6" font-size="5.0">3</tspan></text>
<text transform="translate(104.4,441) scale(1.08,1)" font-size="6.6" fill="#0a0a0a">&#8722;10<tspan dy="-2.6" font-size="5.0">3</tspan></text>
<text x="124.5" y="441" font-size="7" text-anchor="middle" fill="#0a0a0a" >0</text>
<text transform="translate(133.5,441) scale(1.08,1)" font-size="6.6" fill="#0a0a0a">10<tspan dy="-2.6" font-size="5.0">3</tspan></text>
<text transform="translate(154,441) scale(1.08,1)" font-size="6.6" fill="#0a0a0a">10<tspan dy="-2.6" font-size="5.0">4</tspan></text>
<text transform="translate(174,441) scale(1.08,1)" font-size="6.6" fill="#0a0a0a">10<tspan dy="-2.6" font-size="5.0">5</tspan></text>
<rect x="140.5" y="353.2" width="45" height="35" fill="none" stroke="#555" stroke-width="0.8"/>
<text x="161.7" y="400.7" font-size="8.1" text-anchor="middle" fill="#0a0a0a" >CD41+</text>
<text x="161.7" y="409.8" font-size="8.1" text-anchor="middle" fill="#0a0a0a" >8.86%</text>
<line x1="80" y1="450.8" x2="80" y2="430.6" stroke="#111" stroke-width="1.25" />
<polygon points="80,425.8 77.4,431.8 80,430.5 82.6,431.8" fill="#111"/>
<line x1="80" y1="450.8" x2="100.8" y2="450.8" stroke="#111" stroke-width="1.25" />
<polygon points="105.2,450.8 99.7,448.5 100.9,450.8 99.7,453.1" fill="#111"/>
<text transform="translate(75.2,442.2) rotate(-90) scale(0.652,1)" font-size="10.5" font-weight="bold" text-anchor="middle" fill="#111" stroke="#111" stroke-width="0.25">CD45</text>
<text transform="translate(79,461.8) scale(0.6,1)" font-size="10.5" font-weight="bold" text-anchor="start" fill="#111" stroke="#111" stroke-width="0.25">CD41</text>
<text transform="translate(208.7,337.3) scale(0.95,1)" font-size="17.5" font-weight="bold" text-anchor="middle" fill="#000">D</text>
<text x="279.6" y="338.5" font-size="10.8" text-anchor="middle" fill="#0a0a0a" textLength="41.2" lengthAdjust="spacingAndGlyphs">[CD45+]</text>
<path d="M308.5 376h1m-16 3h1m3 0h1m-9.5 .5h1m24 0h1m.5 0h1m-11 .5h1m-4 .5h1m-11.5 .5h1m-27 .5h1m2.5 0h1m5.5 .5h1m11 0h1m5.5 0h1m9.5 0h1m-27.5 .5h1m5 0h1m7 0h1m4 0h1m7.5 0h1m-31 .5h1m10 0h1m21.5 0h1m-9 .5h1m10.5 0h1m-52 .5h1m4 0h1m4 0h1m14.5 0h1m9 0h1m2.5 0h1m-42.5 .5h1m3 0h1m11.5 0h1m7 0h1m8.5 0h1m8.5 0h1m3.5 0h1m-40 .5h1m1 0h1m6.5 0h1m9.5 0h1m-18.5 .5h1m4 0h1m1 0h1m0 0h1m-.5 0h1m2.5 0h1m3.5 0h1m2.5 0h1m2.5 0h1m5 0h1m-38 .5h1m5.5 0h1m5 0h1m3.5 0h1m2.5 0h1m4 0h1m1.5 0h1m5.5 0h1m-36.5 .5h1m3 0h1m6.5 0h1m3 0h1m-.5 0h1m7.5 0h1m0 0h1m6.5 0h1m4.5 0h1m-55 .5h1m23.5 0h1m1 0h1m3 0h1m12.5 0h1m0 0h1m8.5 0h1m-35 .5h1m3 0h1m1.5 0h1m1 0h1m-.5 0h1m0 0h1m-.5 0h1m4.5 0h1m0 0h1m0 0h1m.5 0h1m8 0h1m-35.5 .5h1m.5 0h1m2.5 0h1m9 0h1m.5 0h1m5 0h1m7 0h1m.5 0h1m3.5 0h1m-49 .5h1m8.5 0h1m3 0h1m.5 0h1m0 0h1m3.5 0h1m0 0h1m3 0h1m6 0h1m.5 0h1m0 0h1m2.5 0h1m6.5 0h1m11 0h1m-53 .5h1m7 0h1m4 0h1m.5 0h1m2 0h1m1.5 0h1m12 0h1m5 0h1m-35 .5h1m2.5 0h1m2.5 0h1m2 0h1m-.5 0h1m0 0h1m-.5 0h1m1.5 0h1m6 0h1m.5 0h1m2 0h1m4 0h1m2 0h1m18 0h1m-53.5 .5h1m2.5 0h1m1 0h1m.5 0h1m2 0h1m0 0h1m-.5 0h1m-.5 0h1m3.5 0h1m3 0h1m-.5 0h1m1 0h1m15.5 0h1m0 0h1m.5 0h1m-58.5 .5h1m1.5 0h1m2 0h1m13.5 0h1m2 0h1m0 0h1m2 0h1m-.5 0h1m3 0h1m0 0h1m-.5 0h1m1 0h1m2.5 0h1m0 0h1m1 0h1m1 0h1m4 0h1m0 0h1m-.5 0h1m-37.5 .5h1m5.5 0h1m0 0h1m.5 0h1m2 0h1m-.5 0h1m1.5 0h1m-.5 0h1m1 0h1m1 0h1m3.5 0h1m6.5 0h1m7 0h1m0 0h1m2.5 0h1m-39 .5h1m0 0h1m-.5 0h1m1 0h1m.5 0h1m2.5 0h1m0 0h1m0 0h1m1.5 0h1m1 0h1m1 0h1m4 0h1m2 0h1m4 0h1m0 0h1m7.5 0h1m4 0h1m-.5 0h1m-51 .5h1m5 0h1m1 0h1m7 0h1m.5 0h1m5 0h1m1 0h1m5 0h1m1.5 0h1m-47.5 .5h1m.5 0h1m2 0h1m.5 0h1m9.5 0h1m-.5 0h1m.5 0h1m2.5 0h1m0 0h1m4 0h1m.5 0h1m1 0h1m4 0h1m.5 0h1m-.5 0h1m.5 0h1m3.5 0h1m-.5 0h1m3 0h1m6 0h1m-57 .5h1m9 0h1m3.5 0h1m1 0h1m5 0h1m.5 0h1m-.5 0h1m1.5 0h1m-.5 0h1m-.5 0h1m1.5 0h1m5.5 0h1m-43.5 .5h1m10 0h1m-.5 0h1m2 0h1m2.5 0h1m1 0h1m3 0h1m-.5 0h1m2 0h1m1 0h1m0 0h1m-.5 0h1m.5 0h1m-.5 0h1m-.5 0h1m3.5 0h1m.5 0h1m0 0h1m-.5 0h1m5 0h1m-.5 0h1m.5 0h1m-.5 0h1m.5 0h1m-.5 0h1m2 0h1m-52 .5h1m2 0h1m-.5 0h1m4 0h1m6.5 0h1m3 0h1m.5 0h1m-.5 0h1m1 0h1m-.5 0h1m0 0h1m1.5 0h1m1 0h1m0 0h1m-.5 0h1m2.5 0h1m4 0h1m1.5 0h1m12.5 0h1m.5 0h1m-54 .5h1m14 0h1m2.5 0h1m1 0h1m3.5 0h1m1.5 0h1m0 0h1m4.5 0h1m.5 0h1m5.5 0h1m-.5 0h1m-52.5 .5h1m.5 0h1m4.5 0h1m6 0h1m-.5 0h1m-.5 0h1m-.5 0h1m0 0h1m-.5 0h1m.5 0h1m-.5 0h1m2 0h1m-.5 0h1m.5 0h1m1 0h1m0 0h1m-.5 0h1m-.5 0h1m2.5 0h1m1 0h1m.5 0h1m-.5 0h1m1.5 0h1m0 0h1m-.5 0h1m11.5 0h1m-52 .5h1m7.5 0h1m3.5 0h1m0 0h1m0 0h1m2 0h1m1 0h1m1 0h1m-.5 0h1m2 0h1m2 0h1m3 0h1m2 0h1m-.5 0h1m1.5 0h1m3.5 0h1m2.5 0h1m.5 0h1m-51.5 .5h1m16.5 0h1m-.5 0h1m4 0h1m2 0h1m-.5 0h1m0 0h1m7.5 0h1m4.5 0h1m-.5 0h1m6 0h1m-45.5 .5h1m2 0h1m5.5 0h1m-.5 0h1m.5 0h1m0 0h1m.5 0h1m1.5 0h1m.5 0h1m1 0h1m2 0h1m.5 0h1m-.5 0h1m2 0h1m-.5 0h1m1.5 0h1m0 0h1m0 0h1m6.5 0h1m5 0h1m-46 .5h1m3 0h1m2 0h1m0 0h1m2.5 0h1m.5 0h1m4 0h1m0 0h1m.5 0h1m11 0h1m2 0h1m.5 0h1m20 0h1m3 0h1m-64.5 .5h1m7.5 0h1m-.5 0h1m1.5 0h1m-.5 0h1m3 0h1m1 0h1m0 0h1m5 0h1m2 0h1m1.5 0h1m.5 0h1m.5 0h1m.5 0h1m5.5 0h1m.5 0h1m-.5 0h1m0 0h1m7.5 0h1m-45 .5h1m0 0h1m.5 0h1m2 0h1m1.5 0h1m2.5 0h1m.5 0h1m0 0h1m1 0h1m2.5 0h1m7 0h1m1 0h1m1 0h1m2 0h1m3 0h1m6.5 0h1m-57 .5h1m2 0h1m6 0h1m1.5 0h1m3 0h1m.5 0h1m0 0h1m-.5 0h1m-.5 0h1m2.5 0h1m2 0h1m0 0h1m5 0h1m1 0h1m.5 0h1m0 0h1m2.5 0h1m14.5 0h1m-61.5 .5h1m2.5 0h1m2 0h1m0 0h1m1 0h1m2.5 0h1m3.5 0h1m0 0h1m0 0h1m-.5 0h1m1.5 0h1m3.5 0h1m2.5 0h1m2.5 0h1m7.5 0h1m-.5 0h1m-30.5 .5h1m-.5 0h1m2 0h1m8 0h1m-.5 0h1m.5 0h1m-.5 0h1m-.5 0h1m5.5 0h1m0 0h1m1 0h1m2 0h1m13.5 0h1m-53.5 .5h1m1 0h1m6.5 0h1m3 0h1m1.5 0h1m3.5 0h1m6 0h1m1.5 0h1m-33 .5h1m7 0h1m.5 0h1m3 0h1m.5 0h1m3 0h1m0 0h1m1.5 0h1m5 0h1m1 0h1m1.5 0h1m-.5 0h1m13.5 0h1m-44.5 .5h1m3 0h1m5 0h1m0 0h1m.5 0h1m.5 0h1m1.5 0h1m0 0h1m.5 0h1m3.5 0h1m1.5 0h1m9 0h1m-37 .5h1m-.5 0h1m5 0h1m0 0h1m5.5 0h1m4 0h1m.5 0h1m0 0h1m12 0h1m-30.5 .5h1m3.5 0h1m3 0h1m-.5 0h1m7.5 0h1m2.5 0h1m4 0h1m-.5 0h1m4 0h1m4 0h1m.5 0h1m-51 .5h1m1 0h1m2.5 0h1m7.5 0h1m2 0h1m1 0h1m0 0h1m0 0h1m4.5 0h1m-.5 0h1m4.5 0h1m0 0h1m.5 0h1m.5 0h1m2 0h1m9 0h1m-39.5 .5h1m0 0h1m-.5 0h1m1.5 0h1m3 0h1m1.5 0h1m8 0h1m13 0h1m-31.5 .5h1m3.5 0h1m2 0h1m-.5 0h1m4.5 0h1m12.5 0h1m-41 .5h1m13.5 0h1m2 0h1m6.5 0h1m4 0h1m9 0h1m-20.5 .5h1m4 0h1m2 0h1m3 0h1m3 0h1m0 0h1m2.5 0h1m-35 .5h1m3.5 0h1m1 0h1m4 0h1m8 0h1m1 0h1m1 0h1m3.5 0h1m-29.5 .5h1m0 0h1m4 0h1m1.5 0h1m3.5 0h1m10.5 0h1m16 0h1m-46.5 .5h1m7 0h1m6 0h1m7.5 0h1m1.5 0h1m22.5 0h1m-23 .5h1m.5 0h1m-.5 0h1m6 0h1m-38 .5h1m0 0h1m24.5 0h1m4 0h1m-18 .5h1m-15 .5h1m5 0h1m15 0h1m2 0h1m5.5 .5h1m-3.5 .5h1m25 0h1m-32 1h1m-27.5 .5h1m21.5 0h1m-18.5 .5h1m15 0h1m24 0h1m-40 .5h1m-6 .5h1m18.5 4.5h1" stroke="#7070c0" stroke-width="0.9" stroke-opacity="0.38"/>
<path d="M276 387h1m-1.5 1.5h1m-10 1h1m1 0h1m8.5 0h1m6 .5h1m4.5 0h1m-17 .5h1m-18 .5h1m6 0h1m9.5 0h1m4 0h1m-21.5 .5h1m9 0h1m0 0h1m1.5 0h1m-13 .5h1m1 0h1m7 0h1m.5 0h1m0 0h1m4.5 0h1m.5 0h1m-.5 0h1m0 0h1m1.5 0h1m-15 .5h1m-.5 0h1m-.5 0h1m6 0h1m2.5 0h1m-15.5 .5h1m0 0h1m-.5 0h1m1 0h1m0 0h1m1.5 0h1m-.5 0h1m2.5 0h1m3 0h1m-20.5 .5h1m0 0h1m3.5 0h1m-.5 0h1m4.5 0h1m-.5 0h1m.5 0h1m-23.5 .5h1m10 0h1m3.5 0h1m2.5 0h1m-.5 0h1m-.5 0h1m1 0h1m-.5 0h1m6 0h1m2.5 0h1m-24 .5h1m-.5 0h1m2 0h1m.5 0h1m1.5 0h1m1.5 0h1m3 0h1m0 0h1m11 0h1m-28 .5h1m0 0h1m0 0h1m2 0h1m5 0h1m0 0h1m.5 0h1m-.5 0h1m-19 .5h1m1.5 0h1m.5 0h1m2 0h1m0 0h1m-.5 0h1m1.5 0h1m-.5 0h1m1.5 0h1m-.5 0h1m0 0h1m-.5 0h1m0 0h1m1 0h1m-.5 0h1m-26 .5h1m4.5 0h1m.5 0h1m1.5 0h1m1.5 0h1m0 0h1m5.5 0h1m.5 0h1m-.5 0h1m2.5 0h1m1.5 0h1m3.5 0h1m-27.5 .5h1m3 0h1m2 0h1m.5 0h1m.5 0h1m.5 0h1m-.5 0h1m1.5 0h1m3 0h1m-.5 0h1m.5 0h1m-21 .5h1m1 0h1m.5 0h1m-.5 0h1m-.5 0h1m.5 0h1m1.5 0h1m0 0h1m2.5 0h1m.5 0h1m0 0h1m0 0h1m0 0h1m-.5 0h1m0 0h1m-33 .5h1m-.5 0h1m9 0h1m6.5 0h1m-.5 0h1m1.5 0h1m-.5 0h1m0 0h1m0 0h1m.5 0h1m0 0h1m1 0h1m0 0h1m.5 0h1m4 0h1m-.5 0h1m4 0h1m-30 .5h1m.5 0h1m0 0h1m1 0h1m.5 0h1m1.5 0h1m-.5 0h1m2.5 0h1m2 0h1m0 0h1m.5 0h1m-.5 0h1m10.5 0h1m1.5 0h1m-35 .5h1m6.5 0h1m7 0h1m1.5 0h1m-.5 0h1m4.5 0h1m2.5 0h1m-28.5 .5h1m1 0h1m4 0h1m-.5 0h1m3 0h1m0 0h1m7 0h1m.5 0h1m-27.5 .5h1m0 0h1m4.5 0h1m.5 0h1m4.5 0h1m-.5 0h1m1.5 0h1m0 0h1m1.5 0h1m3 0h1m.5 0h1m1.5 0h1m-21 .5h1m3 0h1m-.5 0h1m-.5 0h1m1.5 0h1m3 0h1m-8.5 .5h1m-.5 0h1m2.5 0h1m0 0h1m6.5 0h1m-12 .5h1m1 0h1m1 0h1m.5 0h1m-.5 0h1m-15.5 .5h1m.5 0h1m0 0h1m.5 0h1m-.5 0h1m7.5 0h1m-.5 0h1m-15 .5h1m10.5 0h1m-15.5 .5h1m5.5 0h1m.5 0h1m10 0h1m-16.5 .5h1m1.5 0h1m5.5 .5h1m12.5 0h1m-32.5 .5h1m12.5 0h1m0 0h1m9.5 0h1m-4 .5h1m-.5 .5h1m-10.5 .5h1m-6.5 .5h1" stroke="#5a58a8" stroke-width="0.9" stroke-opacity="0.42"/>
<path d="M254.5 352h1m11 0h1m-21 .5h1m10.5 1h1m-9.5 1h1m6.5 .5h1m3.5 1h1m-3.5 .5h1m-4.5 1h1m2.5 1.5h1m-.5 .5h1m-2 1h1m10 0h1m-9.5 .5h1m6 0h1m-1 1.5h1m-14 1h1m-9 1h1m6 1h1m10.5 .5h1m-6.5 1h1m-5.5 2.5h1m7.5 1h1m3.5 0h1m-19.5 1.5h1m9.5 1.5h1m1 0h1m-14.5 1h1m18.5 0h1" stroke="#8888cc" stroke-width="0.9" stroke-opacity="0.3"/>
<path d="M256.5 352.5h1m32.5 2h1m1 1h1m-41 1.5h1m33.5 .5h1m16.5 1h1m-14 3.5h1m-31 5.5h1m2.5 1h1m16 0h1m-29 .5h1m6 0h1m-9.5 1h1m7 1h1m31.5 .5h1m-20.5 1.5h1m4 2h1m-24.5 1.5h1m24.5 0h1m-31.5 3.5h1m33 1h1m12.5 0h1m-52.5 2h1m2.5 1.5h1m15 1.5h1m8 .5h1m39.5 0h1m-71 2h1m74.5 2h1m-16.5 2h1m-34 2.5h1m-16.5 1h1m-10.5 1h1m-3.5 1h1m34.5 0h1m16 2h1m-4 3.5h1m-18.5 1h1m21 .5h1m-30 1h1m-3 .5h1m3.5 1.5h1m11 1.5h1m-1.5 .5h1m4 2.5h1m-35 .5h1m56 1h1m7.5 0h1m-52 .5h1m-26 2.5h1m55 2.5h1m-35.5 1h1m-.5 1h1m27 0h1m3.5 0h1m-49.5 .5h1m11.5 1h1m41 0h1m-11 1h1m19 0h1" stroke="#9090cc" stroke-width="0.9" stroke-opacity="0.3"/>
<rect x="238.8" y="346.2" width="83.8" height="82.4" fill="none" stroke="#b4b4b4" stroke-width="0.8"/>
<line x1="238.8" y1="346.2" x2="238.8" y2="428.6" stroke="#555" stroke-width="0.9" />
<line x1="238.8" y1="428.6" x2="322.5" y2="428.6" stroke="#555" stroke-width="0.9" />
<path d="M236.8 354h2M236.8 370.5h2M236.8 387h2M236.8 403.5h2M236.8 420h2M238.9 428.6v2M254.5 428.6v2M270.1 428.6v2M285.8 428.6v2M301.4 428.6v2M317 428.6v2" stroke="#333" stroke-width="0.9"/>
<path d="M237.6 365.5h1.2M237.6 362.6h1.2M237.6 360.6h1.2M237.6 359h1.2M237.6 357.7h1.2M237.6 356.6h1.2M237.6 355.6h1.2M237.6 354.8h1.2M237.6 382h1.2M237.6 379.1h1.2M237.6 377.1h1.2M237.6 375.5h1.2M237.6 374.2h1.2M237.6 373.1h1.2M237.6 372.1h1.2M237.6 371.3h1.2M237.6 398.5h1.2M237.6 395.6h1.2M237.6 393.6h1.2M237.6 392h1.2M237.6 390.7h1.2M237.6 389.6h1.2M237.6 388.6h1.2M237.6 387.8h1.2M237.6 415h1.2M237.6 412.1h1.2M237.6 410.1h1.2M237.6 408.5h1.2M237.6 407.2h1.2M237.6 406.1h1.2M237.6 405.1h1.2M237.6 404.3h1.2M237.6 428.6h1.2M237.6 426.6h1.2M237.6 425h1.2M237.6 423.7h1.2M237.6 422.6h1.2M237.6 421.6h1.2M237.6 420.8h1.2M242.8 428.6v1.2M246.7 428.6v1.2M250.6 428.6v1.2M258.4 428.6v1.2M262.3 428.6v1.2M266.2 428.6v1.2M274 428.6v1.2M277.9 428.6v1.2M281.8 428.6v1.2M289.6 428.6v1.2M293.5 428.6v1.2M297.4 428.6v1.2M305.2 428.6v1.2M309.1 428.6v1.2M313 428.6v1.2" stroke="#666" stroke-width="0.6"/>
<text transform="translate(223,356.6) scale(1.08,1)" font-size="6.6" fill="#0a0a0a">10<tspan dy="-2.6" font-size="5.0">5</tspan></text>
<text transform="translate(223,373.1) scale(1.08,1)" font-size="6.6" fill="#0a0a0a">10<tspan dy="-2.6" font-size="5.0">4</tspan></text>
<text transform="translate(223,389.6) scale(1.08,1)" font-size="6.6" fill="#0a0a0a">10<tspan dy="-2.6" font-size="5.0">3</tspan></text>
<text transform="translate(223,406.1) scale(1.08,1)" font-size="6.6" fill="#0a0a0a">10<tspan dy="-2.6" font-size="5.0">2</tspan></text>
<text transform="translate(223,422.6) scale(1.08,1)" font-size="6.6" fill="#0a0a0a">10<tspan dy="-2.6" font-size="5.0">1</tspan></text>
<text transform="translate(243.2,436.2) rotate(-45)" font-size="7.7" text-anchor="end" fill="#0a0a0a">0</text>
<text transform="translate(258.8,436.2) rotate(-45)" font-size="7.7" text-anchor="end" fill="#0a0a0a">50K</text>
<text transform="translate(274.4,436.2) rotate(-45)" font-size="7.7" text-anchor="end" fill="#0a0a0a">100K</text>
<text transform="translate(290.1,436.2) rotate(-45)" font-size="7.7" text-anchor="end" fill="#0a0a0a">150K</text>
<text transform="translate(305.7,436.2) rotate(-45)" font-size="7.7" text-anchor="end" fill="#0a0a0a">200K</text>
<text transform="translate(321.3,436.2) rotate(-45)" font-size="7.7" text-anchor="end" fill="#0a0a0a">250K</text>
<polygon points="246.4,351.8 272.3,352.7 271.5,374.3 247.2,379.5" fill="none" stroke="#555" stroke-width="0.8"/>
<text x="257" y="357.5" font-size="4.3" text-anchor="middle" fill="#0a0a0a" >CD19+</text>
<text x="257" y="362.8" font-size="4.3" text-anchor="middle" fill="#0a0a0a" >0.86</text>
<text x="289.9" y="360.2" font-size="8.2" text-anchor="middle" fill="#0a0a0a" >CD19+</text>
<text x="289.9" y="369.7" font-size="8.2" text-anchor="middle" fill="#0a0a0a" >0.86%</text>
<line x1="216.3" y1="450.8" x2="216.3" y2="430.1" stroke="#111" stroke-width="1.25" />
<polygon points="216.3,425.3 213.7,431.3 216.3,430 218.9,431.3" fill="#111"/>
<line x1="216.3" y1="450.8" x2="237.2" y2="450.8" stroke="#111" stroke-width="1.25" />
<polygon points="241.6,450.8 236.1,448.5 237.3,450.8 236.1,453.1" fill="#111"/>
<text transform="translate(211.3,442.4) rotate(-90) scale(0.626,1)" font-size="10.5" font-weight="bold" text-anchor="middle" fill="#111" stroke="#111" stroke-width="0.25">CD19</text>
<text transform="translate(217.1,462.3) scale(0.602,1)" font-size="10.5" font-weight="bold" text-anchor="start" fill="#111" stroke="#111" stroke-width="0.25">SSC</text>
<text x="406.8" y="338.5" font-size="10.8" text-anchor="middle" fill="#0a0a0a" textLength="41.2" lengthAdjust="spacingAndGlyphs">[CD45+]</text>
<path d="M441 391h1m2 1.5h1m-14 .5h1m11.5 0h1m-31 2h1m2 0h1m17.5 0h1m6 0h1m1 0h1m-37.5 .5h1m21.5 0h1m8.5 0h1m-10.5 .5h1m2.5 0h1m-.5 0h1m2.5 0h1m0 0h1m3.5 0h1m1.5 0h1m-25 .5h1m3 0h1m2.5 0h1m-.5 0h1m14.5 0h1m-18.5 .5h1m3 0h1m5.5 0h1m2 0h1m3.5 0h1m-41.5 .5h1m5 0h1m10 0h1m1.5 0h1m1.5 0h1m.5 0h1m.5 0h1m1 0h1m1 0h1m5 0h1m-33 .5h1m1 0h1m8.5 0h1m7.5 0h1m3.5 0h1m-.5 0h1m8.5 0h1m-.5 0h1m-28 .5h1m4 0h1m3 0h1m2.5 0h1m1 0h1m5 0h1m-40 .5h1m13.5 0h1m2 0h1m8.5 0h1m1 0h1m2 0h1m3 0h1m5 0h1m-.5 0h1m1.5 0h1m-.5 0h1m-32 .5h1m1.5 0h1m4 0h1m2.5 0h1m.5 0h1m2 0h1m-.5 0h1m0 0h1m2.5 0h1m1 0h1m-.5 0h1m-.5 0h1m.5 0h1m1 0h1m-34 .5h1m2 0h1m1 0h1m.5 0h1m4.5 0h1m0 0h1m0 0h1m1 0h1m-.5 0h1m1 0h1m4 0h1m2 0h1m1 0h1m1.5 0h1m1.5 0h1m-.5 0h1m-.5 0h1m0 0h1m1 0h1m-.5 0h1m-.5 0h1m-52.5 .5h1m12.5 0h1m0 0h1m3 0h1m.5 0h1m0 0h1m1 0h1m0 0h1m3.5 0h1m1.5 0h1m4 0h1m.5 0h1m-.5 0h1m0 0h1m1 0h1m-.5 0h1m3.5 0h1m1 0h1m0 0h1m0 0h1m0 0h1m-50 .5h1m-.5 0h1m-.5 0h1m5 0h1m1.5 0h1m2.5 0h1m3.5 0h1m2.5 0h1m1 0h1m.5 0h1m1 0h1m.5 0h1m0 0h1m7.5 0h1m1 0h1m0 0h1m-.5 0h1m1.5 0h1m-59.5 .5h1m2.5 0h1m14 0h1m1 0h1m-.5 0h1m2 0h1m-.5 0h1m2 0h1m0 0h1m.5 0h1m.5 0h1m-.5 0h1m0 0h1m-.5 0h1m-.5 0h1m6 0h1m0 0h1m0 0h1m-.5 0h1m6.5 0h1m1 0h1m.5 0h1m0 0h1m3.5 0h1m0 0h1m3 0h1m-57 .5h1m2 0h1m6.5 0h1m-.5 0h1m1 0h1m4 0h1m.5 0h1m1 0h1m3.5 0h1m2 0h1m5 0h1m2 0h1m1.5 0h1m1.5 0h1m-.5 0h1m2 0h1m0 0h1m0 0h1m.5 0h1m0 0h1m0 0h1m1.5 0h1m-63.5 .5h1m3 0h1m9.5 0h1m-.5 0h1m-.5 0h1m3.5 0h1m1.5 0h1m1 0h1m2.5 0h1m0 0h1m0 0h1m3 0h1m1 0h1m-.5 0h1m-.5 0h1m.5 0h1m0 0h1m1 0h1m0 0h1m1 0h1m0 0h1m-.5 0h1m.5 0h1m5.5 0h1m1.5 0h1m-.5 0h1m-.5 0h1m-.5 0h1m2.5 0h1m-.5 0h1m-60.5 .5h1m.5 0h1m18.5 0h1m2 0h1m0 0h1m0 0h1m0 0h1m1 0h1m1.5 0h1m1.5 0h1m0 0h1m0 0h1m-.5 0h1m0 0h1m1 0h1m.5 0h1m-.5 0h1m.5 0h1m-.5 0h1m-.5 0h1m0 0h1m3.5 0h1m.5 0h1m0 0h1m1.5 0h1m-.5 0h1m-.5 0h1m0 0h1m-.5 0h1m0 0h1m-64 .5h1m11.5 0h1m1.5 0h1m3 0h1m0 0h1m1 0h1m1 0h1m-.5 0h1m-.5 0h1m0 0h1m0 0h1m0 0h1m1.5 0h1m0 0h1m3 0h1m0 0h1m-.5 0h1m1 0h1m1 0h1m1 0h1m0 0h1m2 0h1m-.5 0h1m.5 0h1m0 0h1m-.5 0h1m.5 0h1m1 0h1m0 0h1m0 0h1m1 0h1m2.5 0h1m.5 0h1m-60.5 .5h1m.5 0h1m2.5 0h1m0 0h1m0 0h1m1 0h1m0 0h1m.5 0h1m.5 0h1m2 0h1m.5 0h1m3.5 0h1m-.5 0h1m-.5 0h1m.5 0h1m2 0h1m4.5 0h1m1 0h1m1 0h1m0 0h1m1 0h1m0 0h1m-.5 0h1m1 0h1m1 0h1m3 0h1m3.5 0h1m0 0h1m4 0h1m-.5 0h1m.5 0h1m-.5 0h1m-.5 0h1m-70.5 .5h1m-.5 0h1m5 0h1m-.5 0h1m1 0h1m0 0h1m-.5 0h1m0 0h1m1.5 0h1m-.5 0h1m3 0h1m4.5 0h1m0 0h1m3 0h1m-.5 0h1m-.5 0h1m-.5 0h1m2 0h1m0 0h1m1 0h1m-.5 0h1m-.5 0h1m-.5 0h1m1 0h1m1 0h1m.5 0h1m3 0h1m1.5 0h1m-.5 0h1m.5 0h1m-.5 0h1m-.5 0h1m2.5 0h1m.5 0h1m.5 0h1m.5 0h1m-60.5 .5h1m1 0h1m1.5 0h1m1 0h1m1 0h1m3 0h1m0 0h1m1 0h1m1 0h1m3 0h1m0 0h1m-.5 0h1m-.5 0h1m3 0h1m0 0h1m0 0h1m-.5 0h1m0 0h1m1 0h1m.5 0h1m-.5 0h1m-.5 0h1m.5 0h1m.5 0h1m.5 0h1m8.5 0h1m1.5 0h1m4.5 0h1m0 0h1m-61 .5h1m2.5 0h1m1.5 0h1m-.5 0h1m0 0h1m-.5 0h1m.5 0h1m.5 0h1m-.5 0h1m1 0h1m1 0h1m-.5 0h1m0 0h1m-.5 0h1m0 0h1m-.5 0h1m-.5 0h1m1.5 0h1m0 0h1m-.5 0h1m.5 0h1m-.5 0h1m-.5 0h1m0 0h1m-.5 0h1m3.5 0h1m0 0h1m1.5 0h1m0 0h1m2.5 0h1m0 0h1m-.5 0h1m4 0h1m9 0h1m-61.5 .5h1m.5 0h1m1.5 0h1m1 0h1m.5 0h1m-.5 0h1m1 0h1m1.5 0h1m-.5 0h1m-.5 0h1m.5 0h1m.5 0h1m-.5 0h1m-.5 0h1m2 0h1m.5 0h1m0 0h1m-.5 0h1m3.5 0h1m1 0h1m-.5 0h1m-.5 0h1m0 0h1m0 0h1m-.5 0h1m-.5 0h1m2 0h1m-.5 0h1m0 0h1m2.5 0h1m1 0h1m1 0h1m-47 .5h1m.5 0h1m-.5 0h1m-.5 0h1m.5 0h1m0 0h1m.5 0h1m-.5 0h1m.5 0h1m2 0h1m2 0h1m-.5 0h1m1 0h1m2.5 0h1m-.5 0h1m-.5 0h1m-.5 0h1m0 0h1m0 0h1m1 0h1m0 0h1m1 0h1m-.5 0h1m3.5 0h1m1 0h1m1.5 0h1m-.5 0h1m4 0h1m.5 0h1m4.5 0h1m-51.5 .5h1m1.5 0h1m-.5 0h1m.5 0h1m-.5 0h1m0 0h1m.5 0h1m.5 0h1m-.5 0h1m-.5 0h1m1 0h1m0 0h1m-.5 0h1m3.5 0h1m0 0h1m-.5 0h1m5 0h1m.5 0h1m1 0h1m-31 .5h1m-.5 0h1m0 0h1m0 0h1m.5 0h1m0 0h1m-.5 0h1m-.5 0h1m-.5 0h1m1.5 0h1m-.5 0h1m-.5 0h1m0 0h1m-.5 0h1m0 0h1m-.5 0h1m-.5 0h1m-.5 0h1m1.5 0h1m0 0h1m-.5 0h1m6 0h1m3.5 0h1m2 0h1m5 0h1m-39.5 .5h1m0 0h1m0 0h1m0 0h1m1 0h1m0 0h1m1 0h1m-.5 0h1m1.5 0h1m.5 0h1m-.5 0h1m3.5 0h1m.5 0h1m0 0h1m21.5 0h1m-42.5 .5h1m-.5 0h1m-.5 0h1m-.5 0h1m1.5 0h1m0 0h1m-.5 0h1m1.5 0h1m2 0h1m4.5 0h1m.5 0h1m1.5 0h1m-20 .5h1m-.5 0h1m3 0h1m14.5 0h1m-22 .5h1m4 0h1" stroke="#7a78c4" stroke-width="0.9" stroke-opacity="0.38"/>
<path d="M408 403h1m4.5 0h1m1.5 0h1m-16.5 .5h1m-.5 0h1m11 0h1m-.5 0h1m1.5 0h1m-21 .5h1m5.5 0h1m4.5 0h1m2 0h1m2 0h1m.5 0h1m-.5 0h1m-.5 0h1m-.5 0h1m-18.5 .5h1m0 0h1m1.5 0h1m2 0h1m.5 0h1m-.5 0h1m-.5 0h1m-.5 0h1m2.5 0h1m-.5 0h1m-.5 0h1m-.5 0h1m1 0h1m1 0h1m-36.5 .5h1m2.5 0h1m4.5 0h1m4.5 0h1m-.5 0h1m-.5 0h1m1 0h1m1 0h1m-.5 0h1m0 0h1m-.5 0h1m.5 0h1m0 0h1m0 0h1m2.5 0h1m0 0h1m-.5 0h1m2 0h1m-.5 0h1m-39.5 .5h1m4.5 0h1m4.5 0h1m.5 0h1m-.5 0h1m-.5 0h1m-.5 0h1m.5 0h1m2 0h1m0 0h1m1 0h1m0 0h1m0 0h1m0 0h1m1 0h1m0 0h1m-.5 0h1m2.5 0h1m-.5 0h1m-.5 0h1m.5 0h1m1.5 0h1m.5 0h1m-38 .5h1m3 0h1m1.5 0h1m1 0h1m-.5 0h1m-.5 0h1m1 0h1m1 0h1m-.5 0h1m.5 0h1m-.5 0h1m-.5 0h1m1 0h1m-.5 0h1m0 0h1m-.5 0h1m0 0h1m-.5 0h1m-.5 0h1m0 0h1m-.5 0h1m-.5 0h1m0 0h1m.5 0h1m-.5 0h1m-.5 0h1m-.5 0h1m-.5 0h1m-.5 0h1m-.5 0h1m-.5 0h1m0 0h1m-.5 0h1m.5 0h1m.5 0h1m0 0h1m.5 0h1m-.5 0h1m0 0h1m-42 .5h1m0 0h1m2 0h1m1 0h1m0 0h1m.5 0h1m0 0h1m-.5 0h1m.5 0h1m-.5 0h1m-.5 0h1m-.5 0h1m-.5 0h1m.5 0h1m-.5 0h1m0 0h1m.5 0h1m-.5 0h1m.5 0h1m-.5 0h1m-.5 0h1m0 0h1m-.5 0h1m0 0h1m4.5 0h1m0 0h1m.5 0h1m1.5 0h1m-.5 0h1m-.5 0h1m-.5 0h1m-.5 0h1m0 0h1m1 0h1m-40.5 .5h1m0 0h1m0 0h1m0 0h1m-.5 0h1m-.5 0h1m0 0h1m-.5 0h1m0 0h1m0 0h1m0 0h1m-.5 0h1m-.5 0h1m-.5 0h1m0 0h1m1 0h1m0 0h1m-.5 0h1m0 0h1m-.5 0h1m-.5 0h1m3.5 0h1m.5 0h1m0 0h1m1 0h1m2.5 0h1m3.5 0h1m-.5 0h1m-.5 0h1m2.5 0h1m.5 0h1m-40.5 .5h1m-.5 0h1m-.5 0h1m.5 0h1m1 0h1m0 0h1m-.5 0h1m0 0h1m.5 0h1m-.5 0h1m-.5 0h1m-.5 0h1m-.5 0h1m-.5 0h1m1 0h1m0 0h1m-.5 0h1m2 0h1m2.5 0h1m-.5 0h1m0 0h1m2.5 0h1m11.5 0h1m-39 .5h1m-.5 0h1m0 0h1m-.5 0h1m-.5 0h1m0 0h1m-.5 0h1m1.5 0h1m-.5 0h1m0 0h1m-.5 0h1m.5 0h1m-.5 0h1m1 0h1m-.5 0h1m-.5 0h1m0 0h1m-.5 0h1m1.5 0h1m4.5 0h1m1.5 0h1m-.5 0h1m-27.5 .5h1m-.5 0h1m-.5 0h1m2.5 0h1m2 0h1m-.5 0h1m-.5 0h1m4 0h1m-.5 0h1m.5 0h1m5 0h1m.5 0h1m-23.5 .5h1m.5 0h1m1.5 0h1m1.5 0h1m-.5 0h1m-3.5 .5h1" stroke="#3a3a50" stroke-width="0.9" stroke-opacity="0.45"/>
<path d="M398 364h1m-5.5 3h1m-20.5 .5h1m17.5 2.5h1m-1.5 1.5h1m-9.5 .5h1m-11 1.5h1m6.5 0h1m2.5 2.5h1m.5 2.5h1m-9.5 .5h1m-1 .5h1m6.5 1h1m-9 1h1m15 1h1m-10 .5h1m10 3h1m1.5 0h1m-9.5 .5h1m-16 2h1m1.5 0h1m16.5 0h1m-2.5 2.5h1m-16.5 1h1m19.5 1.5h1" stroke="#9090c8" stroke-width="0.9" stroke-opacity="0.3"/>
<path d="M447 381h1m-45 1h1m26.5 0h1m4 1h1m1.5 0h1m-14.5 .5h1m11 .5h1m-23.5 .5h1m12.5 0h1m7.5 .5h1m-33.5 .5h1m17.5 0h1m8 0h1m2 1h1m5.5 0h1m2.5 0h1m-2.5 .5h1m.5 .5h1m-19.5 .5h1m-24.5 .5h1m.5 .5h1m19 0h1m16.5 0h1m.5 0h1m-3.5 .5h1m0 2h1m-11.5 1.5h1m-28.5 .5h1m8 1h1m-8 1h1m10.5 1h1m-15 .5h1m21.5 .5h1m-9.5 .5h1m28 0h1m-31 2h1m-4 .5h1m33 .5h1m-3.5 1h1m-20 1.5h1" stroke="#9090c8" stroke-width="0.9" stroke-opacity="0.3"/>
<rect x="365.5" y="346" width="85" height="84" fill="none" stroke="#b4b4b4" stroke-width="0.8"/>
<line x1="365.5" y1="346" x2="365.5" y2="430" stroke="#555" stroke-width="0.9" />
<line x1="365.5" y1="430" x2="450.5" y2="430" stroke="#555" stroke-width="0.9" />
<path d="M363.5 355h2M363.5 375.5h2M363.5 397.5h2M363.5 411h2M363.5 424.5h2M365.7 430v2M381.5 430v2M397.3 430v2M413.1 430v2M428.9 430v2M444.7 430v2" stroke="#333" stroke-width="0.9"/>
<path d="M364.3 390.9h1.2M364.3 387h1.2M364.3 384.3h1.2M364.3 382.1h1.2M364.3 380.4h1.2M364.3 378.9h1.2M364.3 377.6h1.2M364.3 376.5h1.2M364.3 369.3h1.2M364.3 365.7h1.2M364.3 363.2h1.2M364.3 361.2h1.2M364.3 359.5h1.2M364.3 358.2h1.2M364.3 357h1.2M364.3 355.9h1.2M369.6 430v1.2M373.6 430v1.2M377.6 430v1.2M385.4 430v1.2M389.4 430v1.2M393.3 430v1.2M401.2 430v1.2M405.2 430v1.2M409.1 430v1.2M417.1 430v1.2M421 430v1.2M424.9 430v1.2M432.9 430v1.2M436.8 430v1.2M440.8 430v1.2" stroke="#666" stroke-width="0.6"/>
<text transform="translate(349.8,357.6) scale(1.08,1)" font-size="6.6" fill="#0a0a0a">10<tspan dy="-2.6" font-size="5.0">5</tspan></text>
<text transform="translate(349.8,378.1) scale(1.08,1)" font-size="6.6" fill="#0a0a0a">10<tspan dy="-2.6" font-size="5.0">4</tspan></text>
<text transform="translate(349.8,400.1) scale(1.08,1)" font-size="6.6" fill="#0a0a0a">10<tspan dy="-2.6" font-size="5.0">3</tspan></text>
<text x="360.7" y="413.6" font-size="7" text-anchor="end" fill="#0a0a0a" >0</text>
<rect x="363.6" y="409.3" width="2.3" height="3.4" fill="#111"/>
<text transform="translate(345.6,427.1) scale(1.08,1)" font-size="6.6" fill="#0a0a0a">&#8722;10<tspan dy="-2.6" font-size="5.0">3</tspan></text>
<text transform="translate(370,437.5) rotate(-45)" font-size="7.7" text-anchor="end" fill="#0a0a0a">0</text>
<text transform="translate(385.8,437.5) rotate(-45)" font-size="7.7" text-anchor="end" fill="#0a0a0a">50K</text>
<text transform="translate(401.6,437.5) rotate(-45)" font-size="7.7" text-anchor="end" fill="#0a0a0a">100K</text>
<text transform="translate(417.4,437.5) rotate(-45)" font-size="7.7" text-anchor="end" fill="#0a0a0a">150K</text>
<text transform="translate(433.2,437.5) rotate(-45)" font-size="7.7" text-anchor="end" fill="#0a0a0a">200K</text>
<text transform="translate(449,437.5) rotate(-45)" font-size="7.7" text-anchor="end" fill="#0a0a0a">250K</text>
<polygon points="372.5,364 398,362.5 398,391 372.5,395.5" fill="none" stroke="#555" stroke-width="0.8"/>
<text x="385" y="356" font-size="4" text-anchor="middle" fill="#0a0a0a" >CD3+</text>
<text x="385" y="361.5" font-size="4" text-anchor="middle" fill="#0a0a0a" >1.62</text>
<text x="412.7" y="360.5" font-size="8.1" text-anchor="middle" fill="#0a0a0a" >CD3+</text>
<text x="412.7" y="370" font-size="8.1" text-anchor="middle" fill="#0a0a0a" >1.62%</text>
<line x1="341.4" y1="450.8" x2="341.4" y2="430.4" stroke="#111" stroke-width="1.25" />
<polygon points="341.4,425.6 338.8,431.6 341.4,430.3 344,431.6" fill="#111"/>
<line x1="341.4" y1="450.8" x2="362.3" y2="450.8" stroke="#111" stroke-width="1.25" />
<polygon points="366.7,450.8 361.2,448.5 362.4,450.8 361.2,453.1" fill="#111"/>
<text transform="translate(336.9,442.4) rotate(-90) scale(0.614,1)" font-size="10.5" font-weight="bold" text-anchor="middle" fill="#111" stroke="#111" stroke-width="0.25">CD3</text>
<text transform="translate(342.2,462.3) scale(0.625,1)" font-size="10.5" font-weight="bold" text-anchor="start" fill="#111" stroke="#111" stroke-width="0.25">SSC</text>
<text transform="translate(71.5,492.8) scale(0.95,1)" font-size="17.5" font-weight="bold" text-anchor="middle" fill="#000">E</text>
<text x="143.5" y="494.8" font-size="10.8" text-anchor="middle" fill="#0a0a0a" textLength="41.2" lengthAdjust="spacingAndGlyphs">[CD45+]</text>
<path d="M173 510.5h1m3 0h1m3 1h1m-1 2h1m0 1h1m-1 1h1m-2 4h1m0 0h1m-2 1h1m0 0h1m0 0h1m-1 1h1m-3 1h1m0 1h1m0 4h1m0 1h1m-1 1h1m-2 2h1m-1 1h1m-1 1h1m-3 2h1m2 3h1m-2 3h1m-1 2h1m0 1h1m-3 1h1m0 0h1m-3 1h1m-1 3h1m0 0h1m-4 1h1m4 0h1m-6 1h1m-61 1h1m62 0h1m-7 3h1m3 0h1m-59 1h1m2 0h1m0 0h1m6 0h1m4 0h1m3 0h1m0 0h1m0 0h1m5 0h1m6 0h1m-33 1h1m7 0h1m0 0h1m12 0h1m8 0h1m3 0h1m2 0h1m0 0h1m4 0h1m13 0h1m0 0h1m-55 1h1m7 0h1m1 0h1m15 0h1m1 0h1m2 0h1m-36 1h1m28 0h1m-28 1h1m23 0h1" stroke="#28309c" stroke-width="1.0" stroke-opacity="0.92"/>
<path d="M166 510.5h1m0 0h1m-13 1h1m0 0h1m18 0h1m1 0h1m-32 1h1m0 0h1m0 0h1m27 0h1m0 0h1m1 0h1m-41 1h1m36 0h1m-47 1h1m1 0h1m42 0h1m0 0h1m0 0h1m0 0h1m-57 1h1m51 0h1m0 0h1m1 0h1m1 0h1m-63 1h1m56 0h1m3 0h1m0 0h1m-6 1h1m3 0h1m-3 2h1m0 0h1m2 0h1m-5 1h1m1 0h1m-5 1h1m-1 1h1m1 0h1m0 0h1m-4 1h1m2 0h1m0 0h1m-4 1h1m0 0h1m1 0h1m-63 1h1m58 0h1m0 0h1m1 0h1m0 0h1m-4 1h1m3 0h1m-6 1h1m1 0h1m1 0h1m-6 1h1m1 0h1m0 0h1m1 0h1m-6 1h1m0 0h1m1 0h1m2 0h1m-7 1h1m2 0h1m0 0h1m1 0h1m-6 1h1m0 0h1m0 0h1m0 0h1m1 0h1m-65 1h1m57 0h1m0 0h1m-2 1h1m0 0h1m2 0h1m-5 1h1m1 0h1m0 0h1m-62 1h1m62 1h1m0 0h1m-7 1h1m0 0h1m0 0h1m1 0h1m-4 1h1m0 0h1m1 0h1m-63 1h1m60 1h1m2 0h1m-65 1h1m58 0h1m-2 1h1m1 0h1m1 0h1m-63 1h1m58 0h1m0 0h1m0 0h1m0 0h1m1 0h1m-7 1h1m0 0h1m2 0h1m0 0h1m-64 1h1m57 0h1m0 0h1m1 0h1m-62 1h1m58 0h1m1 0h1m0 0h1m-63 1h1m57 0h1m2 0h1m0 0h1m-60 1h1m56 0h1m-58 1h1m54 0h1m1 0h1m1 0h1m-62 1h1m0 0h1m54 0h1m-56 1h1m1 0h1m47 0h1m5 0h1m1 0h1m-47 1h1m2 0h1m1 0h1m0 0h1m0 0h1m0 0h1m0 0h1m1 0h1m1 0h1m1 0h1m0 0h1m0 0h1m4 0h1m1 0h1m0 0h1m0 0h1m1 0h1m0 0h1m1 0h1m0 0h1m1 0h1m0 0h1m4 0h1m0 0h1m1 0h1m0 0h1m-54 1h1m7 0h1m0 0h1m0 0h1m0 0h1m1 0h1m1 0h1m2 0h1m0 0h1m0 0h1m3 0h1m0 0h1m6 0h1m3 0h1m0 0h1m0 0h1m4 0h1m7 0h1m-52 1h1m4 0h1m1 0h1m1 0h1m3 0h1m0 0h1m2 0h1m4 0h1m0 0h1m2 0h1m2 0h1m1 0h1m5 0h1m2 0h1m4 0h1m1 0h1m-39 1h1m0 0h1m7 0h1m3 0h1m8 0h1m3 0h1m0 0h1m2 0h1m2 0h1m4 0h1m0 0h1" stroke="#2938a8" stroke-width="1.0" stroke-opacity="0.92"/>
<path d="M157 511.5h1m0 0h1m6 0h1m0 0h1m0 0h1m0 0h1m0 0h1m0 0h1m0 0h1m1 0h1m-25 1h1m0 0h1m14 0h1m0 0h1m0 0h1m0 0h1m0 0h1m1 0h1m1 0h1m-9 1h1m0 0h1m0 0h1m0 0h1m0 0h1m0 0h1m2 0h1m-40 1h1m0 0h1m29 0h1m0 0h1m0 0h1m0 0h1m0 0h1m0 0h1m0 0h1m0 0h1m0 0h1m-9 1h1m0 0h1m0 0h1m0 0h1m0 0h1m1 0h1m0 0h1m0 0h1m-56 1h1m0 0h1m45 0h1m0 0h1m0 0h1m0 0h1m0 0h1m0 0h1m1 0h1m0 0h1m-9 1h1m0 0h1m0 0h1m0 0h1m0 0h1m0 0h1m1 0h1m0 0h1m-9 1h1m0 0h1m0 0h1m0 0h1m0 0h1m0 0h1m1 0h1m-8 1h1m0 0h1m0 0h1m0 0h1m0 0h1m1 0h1m1 0h1m-9 1h1m0 0h1m0 0h1m0 0h1m0 0h1m0 0h1m1 0h1m-8 1h1m0 0h1m0 0h1m0 0h1m0 0h1m0 0h1m0 0h1m0 0h1m0 0h1m-9 1h1m0 0h1m0 0h1m0 0h1m0 0h1m0 0h1m0 0h1m0 0h1m-8 1h1m0 0h1m0 0h1m0 0h1m0 0h1m1 0h1m0 0h1m0 0h1m-9 1h1m0 0h1m0 0h1m0 0h1m0 0h1m0 0h1m0 0h1m0 0h1m0 0h1m-9 1h1m0 0h1m0 0h1m0 0h1m0 0h1m0 0h1m0 0h1m1 0h1m-9 1h1m0 0h1m0 0h1m0 0h1m0 0h1m0 0h1m0 0h1m0 0h1m0 0h1m-9 1h1m0 0h1m0 0h1m0 0h1m0 0h1m1 0h1m0 0h1m-8 1h1m0 0h1m0 0h1m0 0h1m0 0h1m0 0h1m0 0h1m0 0h1m-8 1h1m0 0h1m0 0h1m0 0h1m0 0h1m0 0h1m1 0h1m-8 1h1m0 0h1m0 0h1m0 0h1m0 0h1m0 0h1m0 0h1m-7 1h1m0 0h1m0 0h1m0 0h1m0 0h1m0 0h1m0 0h1m0 0h1m-8 1h1m0 0h1m0 0h1m0 0h1m0 0h1m0 0h1m0 0h1m0 0h1m-8 1h1m0 0h1m0 0h1m0 0h1m0 0h1m0 0h1m0 0h1m0 0h1m0 0h1m-9 1h1m0 0h1m0 0h1m0 0h1m0 0h1m0 0h1m0 0h1m1 0h1m-9 1h1m0 0h1m0 0h1m0 0h1m0 0h1m1 0h1m-7 1h1m0 0h1m0 0h1m0 0h1m0 0h1m0 0h1m0 0h1m1 0h1m-9 1h1m0 0h1m0 0h1m0 0h1m0 0h1m0 0h1m0 0h1m0 0h1m-8 1h1m0 0h1m0 0h1m0 0h1m0 0h1m0 0h1m0 0h1m1 0h1m-9 1h1m0 0h1m0 0h1m0 0h1m0 0h1m0 0h1m0 0h1m0 0h1m0 0h1m-9 1h1m0 0h1m0 0h1m0 0h1m0 0h1m0 0h1m0 0h1m0 0h1m-8 1h1m0 0h1m0 0h1m0 0h1m0 0h1m1 0h1m0 0h1m-8 1h1m0 0h1m0 0h1m0 0h1m1 0h1m1 0h1m0 0h1m-9 1h1m0 0h1m0 0h1m0 0h1m0 0h1m0 0h1m0 0h1m0 0h1m-8 1h1m0 0h1m0 0h1m0 0h1m0 0h1m0 0h1m0 0h1m0 0h1m-8 1h1m0 0h1m0 0h1m0 0h1m0 0h1m2 0h1m0 0h1m-9 1h1m0 0h1m0 0h1m0 0h1m0 0h1m0 0h1m0 0h1m0 0h1m0 0h1m-57 1h1m0 0h1m0 0h1m10 0h1m0 0h1m0 0h1m0 0h1m0 0h1m0 0h1m0 0h1m0 0h1m0 0h1m0 0h1m0 0h1m0 0h1m0 0h1m0 0h1m0 0h1m0 0h1m0 0h1m0 0h1m0 0h1m0 0h1m0 0h1m0 0h1m0 0h1m0 0h1m0 0h1m0 0h1m0 0h1m0 0h1m0 0h1m0 0h1m0 0h1m0 0h1m0 0h1m0 0h1m0 0h1m0 0h1m0 0h1m0 0h1m0 0h1m-39 1h1m0 0h1m0 0h1m0 0h1m0 0h1m0 0h1m0 0h1m0 0h1m0 0h1m0 0h1m0 0h1m0 0h1m0 0h1m0 0h1m0 0h1m0 0h1m0 0h1m0 0h1m0 0h1m0 0h1m0 0h1m0 0h1m0 0h1m0 0h1m0 0h1m0 0h1m0 0h1m0 0h1m0 0h1m0 0h1m0 0h1m0 0h1m0 0h1m0 0h1m0 0h1m0 0h1m0 0h1m0 0h1m0 0h1m0 0h1m0 0h1m0 0h1m-42 1h1m0 0h1m0 0h1m0 0h1m0 0h1m0 0h1m0 0h1m0 0h1m0 0h1m0 0h1m1 0h1m0 0h1m1 0h1m0 0h1m0 0h1m0 0h1m0 0h1m0 0h1m0 0h1m0 0h1m0 0h1m0 0h1m0 0h1m0 0h1m0 0h1m0 0h1m0 0h1m0 0h1m0 0h1m0 0h1m0 0h1m0 0h1m0 0h1m0 0h1m0 0h1m0 0h1m0 0h1m1 0h1m-42 1h1m0 0h1m0 0h1m0 0h1m0 0h1m1 0h1m0 0h1m0 0h1m0 0h1m0 0h1m1 0h1m0 0h1m0 0h1m0 0h1m0 0h1m0 0h1m0 0h1m0 0h1m2 0h1m0 0h1m0 0h1m1 0h1m0 0h1m1 0h1m0 0h1m1 0h1m0 0h1m0 0h1m1 0h1m0 0h1m0 0h1m0 0h1m0 0h1m-41 1h1m0 0h1m0 0h1m2 0h1m1 0h1m0 0h1m0 0h1m0 0h1m1 0h1m0 0h1m0 0h1m2 0h1m0 0h1m0 0h1m0 0h1m0 0h1m0 0h1m5 0h1m0 0h1m0 0h1m0 0h1m0 0h1m0 0h1m0 0h1m0 0h1m0 0h1m0 0h1m0 0h1" stroke="#2b40b4" stroke-width="1.0" stroke-opacity="0.92"/>
<path d="M159 511.5h1m0 0h1m0 0h1m0 0h1m0 0h1m0 0h1m-14 1h1m0 0h1m0 0h1m7 0h1m0 0h1m0 0h1m0 0h1m-22 1h1m0 0h1m0 0h1m0 0h1m14 0h1m0 0h1m0 0h1m0 0h1m-29 1h1m0 0h1m0 0h1m21 0h1m0 0h1m0 0h1m0 0h1m0 0h1m-5 1h1m0 0h1m0 0h1m0 0h1m0 0h1m-6 1h1m0 0h1m0 0h1m0 0h1m0 0h1m0 0h1m-7 1h1m0 0h1m0 0h1m0 0h1m0 0h1m0 0h1m0 0h1m-8 1h1m0 0h1m0 0h1m0 0h1m0 0h1m0 0h1m0 0h1m0 0h1m-9 1h1m0 0h1m0 0h1m0 0h1m0 0h1m0 0h1m0 0h1m0 0h1m0 0h1m-9 1h1m0 0h1m0 0h1m0 0h1m0 0h1m0 0h1m0 0h1m0 0h1m0 0h1m-10 1h1m0 0h1m0 0h1m0 0h1m0 0h1m0 0h1m0 0h1m0 0h1m0 0h1m0 0h1m-11 1h1m0 0h1m0 0h1m0 0h1m0 0h1m0 0h1m0 0h1m0 0h1m0 0h1m0 0h1m0 0h1m-12 1h1m0 0h1m0 0h1m0 0h1m0 0h1m0 0h1m0 0h1m0 0h1m0 0h1m0 0h1m0 0h1m0 0h1m-13 1h1m0 0h1m0 0h1m0 0h1m0 0h1m0 0h1m0 0h1m0 0h1m0 0h1m0 0h1m0 0h1m0 0h1m0 0h1m-13 1h1m0 0h1m0 0h1m0 0h1m0 0h1m0 0h1m0 0h1m0 0h1m0 0h1m0 0h1m0 0h1m0 0h1m0 0h1m-14 1h1m0 0h1m0 0h1m0 0h1m0 0h1m0 0h1m0 0h1m0 0h1m0 0h1m0 0h1m0 0h1m0 0h1m0 0h1m0 0h1m-15 1h1m0 0h1m0 0h1m0 0h1m0 0h1m0 0h1m0 0h1m0 0h1m0 0h1m0 0h1m0 0h1m0 0h1m0 0h1m0 0h1m0 0h1m-16 1h1m0 0h1m0 0h1m0 0h1m0 0h1m0 0h1m0 0h1m0 0h1m0 0h1m0 0h1m0 0h1m0 0h1m0 0h1m0 0h1m0 0h1m0 0h1m-17 1h1m0 0h1m0 0h1m0 0h1m0 0h1m0 0h1m0 0h1m0 0h1m0 0h1m0 0h1m0 0h1m0 0h1m0 0h1m0 0h1m0 0h1m0 0h1m0 0h1m-18 1h1m0 0h1m0 0h1m0 0h1m0 0h1m0 0h1m0 0h1m0 0h1m0 0h1m0 0h1m0 0h1m0 0h1m0 0h1m0 0h1m0 0h1m0 0h1m0 0h1m0 0h1m-19 1h1m0 0h1m0 0h1m0 0h1m0 0h1m0 0h1m0 0h1m0 0h1m0 0h1m0 0h1m0 0h1m0 0h1m0 0h1m0 0h1m0 0h1m0 0h1m0 0h1m0 0h1m0 0h1m-48 1h1m27 0h1m0 0h1m0 0h1m0 0h1m0 0h1m0 0h1m0 0h1m0 0h1m0 0h1m0 0h1m0 0h1m0 0h1m0 0h1m0 0h1m0 0h1m0 0h1m0 0h1m0 0h1m0 0h1m0 0h1m-48 1h1m26 0h1m0 0h1m0 0h1m0 0h1m0 0h1m0 0h1m0 0h1m0 0h1m0 0h1m0 0h1m0 0h1m0 0h1m0 0h1m0 0h1m0 0h1m0 0h1m0 0h1m0 0h1m0 0h1m0 0h1m0 0h1m-48 1h1m25 0h1m0 0h1m0 0h1m0 0h1m0 0h1m0 0h1m0 0h1m0 0h1m0 0h1m0 0h1m0 0h1m0 0h1m0 0h1m0 0h1m0 0h1m0 0h1m0 0h1m0 0h1m0 0h1m0 0h1m0 0h1m0 0h1m-48 1h1m24 0h1m0 0h1m0 0h1m0 0h1m0 0h1m0 0h1m0 0h1m0 0h1m0 0h1m0 0h1m0 0h1m0 0h1m0 0h1m0 0h1m0 0h1m0 0h1m0 0h1m0 0h1m0 0h1m0 0h1m0 0h1m0 0h1m0 0h1m-48 1h1m23 0h1m0 0h1m0 0h1m0 0h1m0 0h1m0 0h1m0 0h1m0 0h1m0 0h1m0 0h1m0 0h1m0 0h1m0 0h1m0 0h1m0 0h1m0 0h1m0 0h1m0 0h1m0 0h1m0 0h1m0 0h1m0 0h1m0 0h1m0 0h1m-48 1h1m22 0h1m0 0h1m0 0h1m0 0h1m0 0h1m0 0h1m0 0h1m0 0h1m0 0h1m0 0h1m0 0h1m0 0h1m0 0h1m0 0h1m0 0h1m0 0h1m0 0h1m0 0h1m0 0h1m0 0h1m0 0h1m0 0h1m0 0h1m0 0h1m0 0h1m-48 1h1m14 0h1m5 0h1m0 0h1m0 0h1m0 0h1m0 0h1m0 0h1m0 0h1m0 0h1m0 0h1m0 0h1m0 0h1m0 0h1m0 0h1m0 0h1m0 0h1m0 0h1m0 0h1m0 0h1m0 0h1m0 0h1m0 0h1m0 0h1m0 0h1m0 0h1m0 0h1m0 0h1m0 0h1m-48 1h1m14 0h1m0 0h1m2 0h1m0 0h1m0 0h1m0 0h1m0 0h1m0 0h1m0 0h1m0 0h1m0 0h1m0 0h1m0 0h1m0 0h1m0 0h1m0 0h1m0 0h1m0 0h1m0 0h1m0 0h1m0 0h1m0 0h1m0 0h1m0 0h1m0 0h1m0 0h1m0 0h1m0 0h1m0 0h1m0 0h1m0 0h1m-48 1h1m0 0h1m13 0h1m0 0h1m0 0h1m0 0h1m0 0h1m0 0h1m0 0h1m0 0h1m0 0h1m0 0h1m0 0h1m0 0h1m0 0h1m0 0h1m0 0h1m0 0h1m0 0h1m0 0h1m0 0h1m0 0h1m0 0h1m0 0h1m0 0h1m0 0h1m0 0h1m0 0h1m0 0h1m0 0h1m0 0h1m0 0h1m0 0h1m0 0h1m0 0h1m-48 1h1m0 0h1m13 0h1m0 0h1m0 0h1m0 0h1m0 0h1m0 0h1m0 0h1m0 0h1m0 0h1m0 0h1m0 0h1m0 0h1m0 0h1m0 0h1m0 0h1m0 0h1m0 0h1m0 0h1m0 0h1m0 0h1m0 0h1m0 0h1m0 0h1m0 0h1m0 0h1m0 0h1m0 0h1m0 0h1m0 0h1m0 0h1m0 0h1m0 0h1m0 0h1m-48 1h1m0 0h1m13 0h1m0 0h1m0 0h1m0 0h1m0 0h1m0 0h1m0 0h1m0 0h1m0 0h1m0 0h1m0 0h1m0 0h1m0 0h1m0 0h1m0 0h1m0 0h1m0 0h1m0 0h1m0 0h1m0 0h1m0 0h1m0 0h1m0 0h1m0 0h1m0 0h1m0 0h1m0 0h1m0 0h1m0 0h1m0 0h1m0 0h1m0 0h1m0 0h1m-48 1h1m0 0h1m12 0h1m0 0h1m0 0h1m0 0h1m0 0h1m0 0h1m0 0h1m0 0h1m0 0h1m0 0h1m0 0h1m0 0h1m0 0h1m0 0h1m0 0h1m0 0h1m0 0h1m0 0h1m0 0h1m0 0h1m0 0h1m0 0h1m0 0h1m0 0h1m0 0h1m0 0h1m0 0h1m0 0h1m0 0h1m0 0h1m0 0h1m0 0h1m0 0h1m0 0h1m-48 1h1m0 0h1m12 0h1m0 0h1m0 0h1m0 0h1m0 0h1m0 0h1m0 0h1m0 0h1m0 0h1m0 0h1m0 0h1m0 0h1m0 0h1m0 0h1m0 0h1m0 0h1m0 0h1m0 0h1m0 0h1m0 0h1m0 0h1m0 0h1m0 0h1m0 0h1m0 0h1m0 0h1m0 0h1m0 0h1m0 0h1m0 0h1m0 0h1m0 0h1m0 0h1m0 0h1m-48 1h1m0 0h1m12 0h1m0 0h1m0 0h1m0 0h1m0 0h1m0 0h1m0 0h1m0 0h1m0 0h1m0 0h1m0 0h1m0 0h1m0 0h1m0 0h1m0 0h1m0 0h1m0 0h1m0 0h1m0 0h1m0 0h1m0 0h1m0 0h1m0 0h1m0 0h1m0 0h1m0 0h1m0 0h1m0 0h1m0 0h1m0 0h1m0 0h1m0 0h1m0 0h1m0 0h1m-48 1h1m0 0h1m12 0h1m0 0h1m0 0h1m0 0h1m0 0h1m0 0h1m0 0h1m0 0h1m0 0h1m0 0h1m0 0h1m0 0h1m0 0h1m0 0h1m0 0h1m0 0h1m0 0h1m0 0h1m0 0h1m0 0h1m0 0h1m0 0h1m0 0h1m0 0h1m0 0h1m0 0h1m0 0h1m0 0h1m0 0h1m0 0h1m0 0h1m0 0h1m0 0h1m0 0h1" stroke="#2c4ac0" stroke-width="1.0" stroke-opacity="0.92"/>
<path d="M154 512.5h1m0 0h1m0 0h1m0 0h1m0 0h1m0 0h1m0 0h1m-14 1h1m0 0h1m0 0h1m10 0h1m-22 1h1m0 0h1m0 0h1m17 0h1m-1 1h1m-2 1h1m-2 1h1m-2 1h1m-2 1h1m-1 1h1m-2 1h1m-2 1h1m-2 1h1m-2 1h1m-1 1h1m-2 1h1m-2 1h1m-2 1h1m-2 1h1m-2 1h1m-2 1h1m-2 1h1m-2 1h1m-2 1h1m-2 1h1m-9 1h1m5 0h1m0 0h1m-8 1h1m4 0h1m0 0h1m-7 1h1m0 0h1m1 0h1m0 0h1m-4 1h1m0 0h1" stroke="#2e5aca" stroke-width="1.0" stroke-opacity="0.92"/>
<path d="M150 513.5h1m0 0h1m7 0h1m-18 1h1m0 0h1m0 0h1m13 1h1m-2 1h1m-2 1h1m-2 1h1m-2 2h1m-2 1h1m-2 1h1m-2 1h1m-2 2h1m-2 1h1m-2 1h1m-2 1h1m-2 1h1m-2 1h1m-2 1h1m-2 1h1m-2 1h1m-10 1h1m7 0h1m-9 1h1m6 0h1m-3 1h1m-5 1h1m0 0h1m0 0h1m0 0h1m-3 1h1" stroke="#306ad4" stroke-width="1.0" stroke-opacity="0.92"/>
<path d="M152 513.5h1m0 0h1m0 0h1m2 0h1m0 0h1m-14 1h1m0 0h1m11 0h1m-34 1h1m0 0h1m7 0h1m0 0h1m0 0h1m0 0h1m0 0h1m18 0h1m-38 1h1m35 0h1m-40 1h1m0 0h1m36 0h1m-40 1h1m0 0h1m36 0h1m-39 1h1m0 0h1m36 0h1m-39 1h1m0 0h1m35 0h1m-38 1h1m0 0h1m34 0h1m-37 1h1m0 0h1m16 0h1m16 0h1m-36 1h1m0 0h1m16 0h1m15 0h1m-34 1h1m16 0h1m15 0h1m-34 1h1m16 0h1m14 0h1m-33 1h1m16 0h1m13 0h1m-32 1h1m15 0h1m0 0h1m12 0h1m-31 1h1m0 0h1m14 0h1m0 0h1m11 0h1m-30 1h1m0 0h1m14 0h1m0 0h1m-18 1h1m0 0h1m14 0h1m0 0h1m-18 1h1m0 0h1m14 0h1m0 0h1m-17 1h1m13 0h1m0 0h1m0 0h1m7 0h1m-25 1h1m13 0h1m0 0h1m0 0h1m6 0h1m-24 1h1m13 0h1m1 0h1m5 0h1m-23 1h1m13 0h1m1 0h1m3 0h1m0 0h1m-22 1h1m13 0h1m1 0h1m0 0h1m0 0h1m0 0h1m-20 1h1m12 0h1m0 0h1m-15 1h1m12 0h1m-14 1h1m0 0h1m11 0h1m-13 1h1m11 0h1m-13 1h1m11 0h1m-13 1h1m10 0h1m0 0h1m-13 1h1m10 0h1m-12 1h1m10 0h1m-12 1h1m10 0h1m-12 1h1m10 0h1m-2 1h1m-10 1h1m8 0h1m-10 1h1m8 0h1m-10 1h1m7 0h1m-8 1h1m6 0h1m-8 1h1m5 0h1m-6 1h1m3 0h1m-4 1h1m0 0h1m0 0h1" stroke="#327cdc" stroke-width="1.0" stroke-opacity="0.92"/>
<path d="M155 513.5h1m0 0h1m-10 1h1m0 0h1m0 0h1m7 0h1m-31 1h1m0 0h1m0 0h1m0 0h1m0 0h1m0 0h1m0 0h1m5 0h1m0 0h1m0 0h1m14 0h1m-36 1h1m0 0h1m11 0h1m0 0h1m19 0h1m-37 1h1m14 0h1m19 0h1m-37 1h1m15 0h1m18 0h1m-36 1h1m15 0h1m18 0h1m-36 1h1m15 0h1m17 0h1m-35 1h1m14 0h1m0 0h1m16 0h1m-34 1h1m14 0h1m16 0h1m-33 1h1m14 0h1m15 0h1m-32 1h1m14 0h1m15 0h1m-32 1h1m14 0h1m14 0h1m-31 1h1m13 0h1m0 0h1m13 0h1m-30 1h1m0 0h1m12 0h1m13 0h1m-28 1h1m12 0h1m12 0h1m-27 1h1m12 0h1m12 0h1m-27 1h1m12 0h1m11 0h1m-26 1h1m12 0h1m10 0h1m-25 1h1m11 0h1m9 0h1m-23 1h1m11 0h1m8 0h1m-22 1h1m11 0h1m3 0h1m3 0h1m-21 1h1m11 0h1m3 0h1m0 0h1m0 0h1m-19 1h1m11 0h1m-13 1h1m-1 1h1m10 0h1m-1 1h1m-11 1h1m9 0h1m-11 1h1m9 0h1m-11 1h1m-1 1h1m8 0h1m-10 1h1m8 0h1m-10 1h1m8 0h1m-10 1h1m8 0h1m-10 1h1m7 1h1m-8 1h1m6 0h1m-8 1h1m0 1h1m4 0h1m-6 1h1m3 0h1m-4 1h1m0 0h1m0 0h1" stroke="#3692e0" stroke-width="1.0" stroke-opacity="0.92"/>
<path d="M150 514.5h1m0 0h1m0 0h1m0 0h1m1 0h1m0 0h1m-15 1h1m0 0h1m0 0h1m0 0h1m8 0h1m0 0h1m-33 1h1m9 0h1m2 0h1m0 0h1m0 0h1m15 0h1m-35 1h1m12 0h1m1 0h1m17 0h1m-35 1h1m13 0h1m1 0h1m16 0h1m-34 1h1m13 0h1m1 0h1m15 0h1m0 0h1m-34 1h1m13 0h1m1 0h1m14 0h1m0 0h1m-33 1h1m12 0h1m2 0h1m14 0h1m-32 1h1m12 0h1m2 0h1m13 0h1m-31 1h1m12 0h1m2 0h1m12 0h1m-30 1h1m12 0h1m2 0h1m11 0h1m0 0h1m-30 1h1m12 0h1m2 0h1m10 0h1m0 0h1m-29 1h1m15 0h1m10 0h1m-16 1h1m3 0h1m9 0h1m-15 1h1m3 0h1m8 0h1m-25 1h1m10 0h1m3 0h1m7 0h1m0 0h1m-25 1h1m10 0h1m3 0h1m6 0h1m0 0h1m-24 1h1m10 0h1m3 0h1m5 0h1m0 0h1m-23 1h1m14 0h1m3 0h1m0 0h1m-21 1h1m14 0h1m0 0h1m0 0h1m0 0h1m0 0h1m-20 1h1m9 0h1m5 0h1m0 0h1m0 0h1m-19 1h1m9 0h1m-11 1h1m9 0h1m-11 1h1m9 0h1m-11 1h1m-1 1h1m8 1h1m-1 1h1m-1 1h1m-9 4h1m6 0h1m-8 1h1m6 0h1m-8 1h1m5 1h1m-6 1h1m4 0h1m-2 1h1m-4 1h1m0 0h1m0 0h1" stroke="#3aa8e4" stroke-width="1.0" stroke-opacity="0.92"/>
<path d="M154 514.5h1m-9 1h1m0 0h1m0 0h1m0 0h1m0 0h1m0 0h1m0 0h1m0 0h1m-30 1h1m7 0h1m6 0h1m0 0h1m0 0h1m0 0h1m0 0h1m0 0h1m0 0h1m0 0h1m0 0h1m0 0h1m0 0h1m0 0h1m0 0h1m0 0h1m0 0h1m-33 1h1m10 0h1m3 0h1m0 0h1m0 0h1m0 0h1m0 0h1m0 0h1m0 0h1m0 0h1m0 0h1m0 0h1m0 0h1m0 0h1m0 0h1m0 0h1m0 0h1m0 0h1m0 0h1m-33 1h1m11 0h1m3 0h1m0 0h1m0 0h1m0 0h1m0 0h1m0 0h1m0 0h1m0 0h1m0 0h1m0 0h1m0 0h1m0 0h1m0 0h1m0 0h1m0 0h1m0 0h1m-32 1h1m11 0h1m3 0h1m0 0h1m0 0h1m0 0h1m0 0h1m0 0h1m0 0h1m0 0h1m0 0h1m0 0h1m0 0h1m0 0h1m0 0h1m0 0h1m0 0h1m-31 1h1m11 0h1m3 0h1m0 0h1m0 0h1m0 0h1m0 0h1m0 0h1m0 0h1m0 0h1m0 0h1m0 0h1m0 0h1m0 0h1m0 0h1m0 0h1m-30 1h1m15 0h1m0 0h1m0 0h1m0 0h1m0 0h1m0 0h1m0 0h1m0 0h1m0 0h1m0 0h1m0 0h1m0 0h1m0 0h1m0 0h1m-30 1h1m10 0h1m4 0h1m0 0h1m0 0h1m0 0h1m0 0h1m0 0h1m0 0h1m0 0h1m0 0h1m0 0h1m0 0h1m0 0h1m0 0h1m-29 1h1m10 0h1m4 0h1m0 0h1m0 0h1m0 0h1m0 0h1m0 0h1m0 0h1m0 0h1m0 0h1m0 0h1m0 0h1m0 0h1m-28 1h1m10 0h1m4 0h1m0 0h1m0 0h1m0 0h1m0 0h1m0 0h1m0 0h1m0 0h1m0 0h1m0 0h1m0 0h1m-27 1h1m10 0h1m4 0h1m0 0h1m0 0h1m0 0h1m0 0h1m0 0h1m0 0h1m0 0h1m0 0h1m0 0h1m-26 1h1m10 0h1m4 0h1m0 0h1m0 0h1m0 0h1m0 0h1m0 0h1m0 0h1m0 0h1m0 0h1m0 0h1m-26 1h1m15 0h1m0 0h1m0 0h1m0 0h1m0 0h1m0 0h1m0 0h1m0 0h1m0 0h1m-25 1h1m15 0h1m0 0h1m0 0h1m0 0h1m0 0h1m0 0h1m0 0h1m0 0h1m-14 1h1m5 0h1m0 0h1m0 0h1m0 0h1m0 0h1m0 0h1m0 0h1m-13 1h1m5 0h1m0 0h1m0 0h1m0 0h1m0 0h1m0 0h1m-12 1h1m5 0h1m0 0h1m0 0h1m0 0h1m0 0h1m-11 1h1m5 0h1m0 0h1m0 0h1m-9 1h1m-2 3h1m-9 1h1m7 0h1m-9 1h1m7 0h1m-9 1h1m7 0h1m-9 1h1m-1 1h1m-1 1h1m-1 1h1m6 0h1m-8 1h1m6 0h1m-8 1h1m6 0h1m-2 3h1m-6 1h1m3 1h1m-4 1h1m1 0h1" stroke="#42b8cc" stroke-width="1.0" stroke-opacity="0.92"/>
<path d="M125 516.5h1m5 0h1m-1 1h1m-1 1h1m-1 1h1m-1 1h1m-11 1h1m9 0h1m-11 1h1m-1 1h1m-1 1h1m-1 1h1m8 0h1m-10 1h1m8 0h1m-10 1h1m8 0h1m-10 1h1m8 0h1m-10 1h1m-1 1h1m-1 1h1m-1 1h1m7 0h1m-9 1h1m7 0h1m-9 1h1m7 0h1m-9 1h1m7 0h1m-9 1h1m6 4h1m-1 1h1m-1 1h1m-2 5h1m-6 1h1m0 2h1m0 1h1" stroke="#50c199" stroke-width="1.0" stroke-opacity="0.92"/>
<path d="M126 516.5h1m0 0h1m0 0h1m0 0h1m0 0h1m-9 1h1m-2 1h1m-1 1h1m8 0h1m-10 1h1m8 0h1m-1 1h1m-1 1h1m-1 1h1m-1 1h1m-2 4h1m-1 1h1m-1 1h1m-1 1h1m-2 5h1m-1 1h1m-1 1h1m-1 1h1m-7 1h1m-1 1h1m-1 1h1m-1 1h1m-1 1h1m4 0h1m-6 1h1m4 0h1m-6 1h1m4 0h1m-6 1h1m0 2h1m2 0h1m-3 1h1m0 0h1" stroke="#5ec86f" stroke-width="1.0" stroke-opacity="0.92"/>
<path d="M123 517.5h1m6 0h1m-9 1h1m7 0h1m-9 1h1m-1 4h1m6 0h1m-8 1h1m6 0h1m-8 1h1m6 0h1m-8 1h1m6 0h1m-8 1h1m6 0h1m-8 1h1m-1 1h1m5 2h1m-1 1h1m-1 1h1m-1 1h1m-1 1h1m-2 6h1m-1 1h1m-1 1h1m-5 5h1m2 0h1m-3 1h1m0 0h1" stroke="#6bc855" stroke-width="1.0" stroke-opacity="0.92"/>
<path d="M124 517.5h1m4 0h1m-7 1h1m5 0h1m-1 1h1m-7 5h1m-1 1h1m4 0h1m-6 1h1m4 0h1m-6 1h1m4 0h1m-6 1h1m4 0h1m-1 1h1m-1 1h1m-2 5h1m-1 1h1m-1 1h1m-1 1h1m-1 1h1m-1 1h1m-5 2h1m-1 1h1m-1 1h1m-1 1h1m-1 1h1m2 0h1m-4 1h1m2 0h1m-2 1h1" stroke="#78c83c" stroke-width="1.0" stroke-opacity="0.92"/>
<path d="M125 517.5h1m2 0h1m-5 1h1m3 0h1m-1 1h1m-7 1h1m6 0h1m-8 1h1m6 0h1m-8 1h1m6 0h1m-7 1h1m4 0h1m-1 1h1m-2 3h1m-1 1h1m-5 1h1m3 0h1m-6 1h1m4 0h1m-6 1h1m4 0h1m-1 1h1m-1 1h1m-1 1h1m-6 5h1m3 0h1m-4 1h1m2 0h1m-4 1h1m2 0h1m-1 1h1m-1 1h1m-1 1h1m-1 1h1m-2 2h1m-2 1h1" stroke="#b5d536" stroke-width="1.0" stroke-opacity="0.92"/>
<path d="M126 517.5h1m0 0h1m-3 1h1m0 0h1m0 0h1m-5 1h1m0 0h1m2 0h1m-5 1h1m4 0h1m-1 1h1m-6 1h1m4 0h1m-5 1h1m0 0h1m0 0h1m0 0h1m-4 1h1m0 0h1m0 0h1m0 0h1m-4 1h1m0 0h1m0 0h1m0 0h1m-4 1h1m0 0h1m0 0h1m0 0h1m-4 1h1m0 0h1m0 0h1m-3 1h1m0 0h1m0 0h1m-3 1h1m0 0h1m0 0h1m-4 1h1m0 0h1m0 0h1m0 0h1m-4 1h1m1 0h1m0 0h1m-5 1h1m3 0h1m-5 1h1m3 0h1m-5 1h1m3 0h1m-5 1h1m3 0h1m-5 1h1m3 0h1m-5 1h1m3 0h1m-5 1h1m3 0h1m-4 1h1m1 0h1m-2 1h1m0 0h1m-2 1h1m0 0h1m-2 1h1m0 0h1m-2 1h1m0 0h1m-2 1h1m0 0h1m-2 1h1m0 0h1m-2 1h1m0 0h1m-2 1h1" stroke="#e7d530" stroke-width="1.0" stroke-opacity="0.92"/>
<path d="M125 519.5h1m0 0h1m0 1h1m-5 1h1m0 1h1m2 0h1m-4 9h1m-2 1h1m1 0h1m-1 1h1m-3 4h1m1 0h1m-3 1h1m0 0h1m0 0h1m-2 1h1" stroke="#ee9a29" stroke-width="1.0" stroke-opacity="0.92"/>
<path d="M124 520.5h1m0 0h1m0 0h1m-3 1h1m0 0h1m0 0h1m0 0h1m-3 1h1m0 0h1m-3 10h1m-2 1h1m0 0h1m-2 1h1m0 0h1m0 0h1m-3 1h1m0 0h1m0 0h1m-3 1h1m0 0h1m0 0h1m-2 1h1" stroke="#e6491e" stroke-width="1.0" stroke-opacity="0.92"/>
<rect x="104" y="502.3" width="81.6" height="80.2" fill="none" stroke="#b4b4b4" stroke-width="0.8"/>
<line x1="104" y1="502.3" x2="104" y2="582.5" stroke="#555" stroke-width="0.9" />
<line x1="104" y1="582.5" x2="185.6" y2="582.5" stroke="#555" stroke-width="0.9" />
<path d="M102 512h2M102 529.5h2M102 551h2M102 564h2M102 576h2M112.5 582.5v2M124 582.5v2M135 582.5v2M157.5 582.5v2M176 582.5v2" stroke="#333" stroke-width="0.9"/>
<path d="M102.8 544.5h1.2M102.8 540.7h1.2M102.8 538.1h1.2M102.8 536h1.2M102.8 534.3h1.2M102.8 532.8h1.2M102.8 531.6h1.2M102.8 530.5h1.2M102.8 524.2h1.2M102.8 521.2h1.2M102.8 519h1.2M102.8 517.3h1.2M102.8 515.9h1.2M102.8 514.7h1.2M102.8 513.7h1.2M102.8 512.8h1.2M141.8 582.5v1.2M145.7 582.5v1.2M148.5 582.5v1.2M150.7 582.5v1.2M152.5 582.5v1.2M154 582.5v1.2M155.3 582.5v1.2M156.5 582.5v1.2M163.1 582.5v1.2M166.3 582.5v1.2M168.6 582.5v1.2M170.4 582.5v1.2M171.9 582.5v1.2M173.1 582.5v1.2M174.2 582.5v1.2M175.2 582.5v1.2" stroke="#666" stroke-width="0.6"/>
<text transform="translate(88.3,514.6) scale(1.08,1)" font-size="6.6" fill="#0a0a0a">10<tspan dy="-2.6" font-size="5.0">5</tspan></text>
<text transform="translate(88.3,532.1) scale(1.08,1)" font-size="6.6" fill="#0a0a0a">10<tspan dy="-2.6" font-size="5.0">4</tspan></text>
<text transform="translate(88.3,553.6) scale(1.08,1)" font-size="6.6" fill="#0a0a0a">10<tspan dy="-2.6" font-size="5.0">3</tspan></text>
<text x="99.2" y="566.6" font-size="7" text-anchor="end" fill="#0a0a0a" >0</text>
<rect x="102.1" y="562.3" width="2.3" height="3.4" fill="#111"/>
<rect x="122" y="581.8" width="4" height="1.9" fill="#111"/>
<text transform="translate(84.1,578.6) scale(1.08,1)" font-size="6.6" fill="#0a0a0a">&#8722;10<tspan dy="-2.6" font-size="5.0">3</tspan></text>
<text transform="translate(104.9,594.5) scale(1.08,1)" font-size="6.6" fill="#0a0a0a">&#8722;10<tspan dy="-2.6" font-size="5.0">3</tspan></text>
<text x="124" y="594.5" font-size="7" text-anchor="middle" fill="#0a0a0a" >0</text>
<text transform="translate(131,594.5) scale(1.08,1)" font-size="6.6" fill="#0a0a0a">10<tspan dy="-2.6" font-size="5.0">3</tspan></text>
<text transform="translate(153.5,594.5) scale(1.08,1)" font-size="6.6" fill="#0a0a0a">10<tspan dy="-2.6" font-size="5.0">4</tspan></text>
<text transform="translate(172,594.5) scale(1.08,1)" font-size="6.6" fill="#0a0a0a">10<tspan dy="-2.6" font-size="5.0">5</tspan></text>
<polygon points="165,526.2 181.7,526.2 181.7,555.5 159,555.5" fill="none" stroke="#555" stroke-width="0.8"/>
<text x="179.5" y="566.5" font-size="8" text-anchor="end" fill="#0a0a0a" >Dim CD45, CD34+</text>
<text x="179.5" y="575.3" font-size="8" text-anchor="end" fill="#0a0a0a" >2.16%</text>
<line x1="79.7" y1="603.5" x2="79.7" y2="583.9" stroke="#111" stroke-width="1.25" />
<polygon points="79.7,579.1 77.1,585.1 79.7,583.8 82.3,585.1" fill="#111"/>
<line x1="79.7" y1="603.5" x2="97.9" y2="603.5" stroke="#111" stroke-width="1.25" />
<polygon points="102.3,603.5 96.8,601.2 98,603.5 96.8,605.8" fill="#111"/>
<text transform="translate(75.2,595.5) rotate(-90) scale(0.644,1)" font-size="10.5" font-weight="bold" text-anchor="middle" fill="#111" stroke="#111" stroke-width="0.25">CD45</text>
<text transform="translate(78.8,614.7) scale(0.633,1)" font-size="10.5" font-weight="bold" text-anchor="start" fill="#111" stroke="#111" stroke-width="0.25">CD34</text>
<text x="270.5" y="495" font-size="10.5" text-anchor="middle" fill="#0a0a0a" textLength="97" lengthAdjust="spacingAndGlyphs">[Dim CD45, CD34+]</text>
<path d="M271 505.5h1m14 0h1m0 0h1m1 0h1m-21 1h1m17 0h1m0 0h1m0 1h1m-27 2h1m24 1h1m-2 2h1m-31 1h1m28 1h1m-32 1h1m-2 1h1m30 0h1m-34 1h1m0 0h1m-2 1h1m0 0h1m-4 2h1m1 0h1m-4 1h1m0 0h1m-1 1h1m-3 1h1m1 0h1m0 0h1m-2 1h1m0 0h1m22 0h1m-24 1h1m-3 1h1m0 0h1m19 0h1m-22 1h1m0 0h1m1 0h1m15 0h1m-18 1h1m2 0h1m10 0h1m-16 1h1m0 0h1m1 0h1m1 0h1m2 0h1m2 0h1m0 0h1m0 0h1m-11 1h1m5 0h1" stroke="#2c4ac0" stroke-width="1.0" stroke-opacity="0.8"/>
<path d="M276 505.5h1m0 0h1m0 0h1m0 0h1m0 0h1m0 0h1m0 0h1m1 0h1m-14 1h1m1 0h1m6 0h1m2 0h1m0 0h1m0 0h1m-16 1h1m0 0h1m1 0h1m9 0h1m1 0h1m0 0h1m-17 1h1m13 0h1m0 0h1m1 0h1m-24 1h1m1 0h1m17 0h1m1 0h1m-24 1h1m20 0h1m-24 1h1m0 0h1m0 0h1m-4 1h1m1 0h1m0 0h1m-4 1h1m-3 1h1m1 0h1m21 0h1m-27 1h1m0 0h1m0 0h1m0 0h1m24 0h1m-30 1h1m0 0h1m-3 1h1m0 0h1m1 0h1m23 0h1m0 0h1m-2 1h1m-28 1h1m0 0h1m21 0h1m1 0h1m1 0h1m-29 1h1m25 0h1m-28 1h1m1 0h1m22 0h1m0 0h1m-6 1h1m-21 1h1m19 0h1m0 0h1m0 0h1m-5 1h1m0 0h1m0 0h1m-20 1h1m11 0h1m2 0h1m0 0h1m-17 1h1m1 0h1m5 0h1m1 0h1m-11 1h1m1 0h1m4 0h1m2 0h1m-8 1h1m0 0h1" stroke="#2e5aca" stroke-width="1.0" stroke-opacity="0.8"/>
<path d="M276 507.5h1m0 0h1m0 0h1m0 0h1m0 0h1m-8 1h1m6 0h1m1 0h1m-14 1h1m0 0h1m0 0h1m9 0h1m1 0h1m-2 1h1m0 0h1m-2 1h1m0 0h1m-2 1h1m-21 1h1m18 0h1m0 0h1m-22 1h1m18 1h1m-2 1h1m-22 1h1m20 0h1m-24 2h1m-2 1h1m0 0h1m18 0h1m-21 1h1m17 0h1m-20 1h1m0 0h1m0 0h1m-2 1h1m-1 1h1m0 0h1m11 0h1m-9 1h1m1 0h1m-6 1h1m0 0h1m0 0h1m1 0h1" stroke="#306ad4" stroke-width="1.0" stroke-opacity="0.8"/>
<path d="M276 508.5h1m0 0h1m0 0h1m-7 1h1m0 0h1m0 0h1m1 0h1m1 0h1m-9 1h1m10 0h1m-14 1h1m12 0h1m-16 1h1m13 0h1m0 0h1m-2 1h1m-18 1h1m15 0h1m0 0h1m-20 1h1m0 0h1m15 1h1m-2 1h1m-20 1h1m0 0h1m-2 1h1m15 0h1m0 0h1m-19 1h1m0 0h1m-2 1h1m0 0h1m13 0h1m-15 1h1m11 0h1m-5 1h1m-5 1h1" stroke="#327cdc" stroke-width="1.0" stroke-opacity="0.8"/>
<path d="M272 510.5h1m1 0h1m1 0h1m0 0h1m0 0h1m-1 1h1m0 0h1m-13 1h1m11 0h1m-15 1h1m13 0h1m-16 1h1m13 0h1m-16 1h1m-2 1h1m14 0h1m-17 1h1m14 0h1m-17 1h1m14 0h1m-17 1h1m13 0h1m-15 1h1m-1 1h1m-1 1h1m7 0h1m0 0h1m-7 1h1m0 0h1" stroke="#3692e0" stroke-width="1.0" stroke-opacity="0.8"/>
<path d="M272 511.5h1m3 0h1m0 0h1m-10 1h1m0 0h1m7 0h1m0 0h1m-1 1h1m-15 2h1m-2 1h1m12 0h1m-15 1h1m11 1h1m-14 1h1m8 1h1m-3 1h1m0 0h1m-8 1h1m0 0h1m0 0h1m0 0h1m0 0h1" stroke="#3aa8e4" stroke-width="1.0" stroke-opacity="0.8"/>
<path d="M273 511.5h1m0 0h1m0 0h1m0 2h1m-1 1h1m-12 1h1m10 0h1m-2 1h1m-13 1h1m-2 1h1m10 0h1m-12 1h1m8 0h1m-10 1h1m-1 1h1m1 0h1m0 0h1m0 0h1m0 0h1" stroke="#42b8cc" stroke-width="1.0" stroke-opacity="0.8"/>
<path d="M271 512.5h1m0 0h1m2 0h1m-1 1h1m-9 1h1m7 1h1m-2 1h1m-11 1h1m8 0h1m-11 1h1m8 0h1m-10 1h1m6 0h1m-7 1h1m0 0h1m1 0h1m0 0h1" stroke="#50c199" stroke-width="1.0" stroke-opacity="0.8"/>
<path d="M270 513.5h1m0 0h1m0 0h1m0 0h1m0 0h1m-7 1h1m5 0h1m-8 1h1m6 0h1m-10 1h1m7 0h1m-2 1h1m-9 1h1m-1 1h1m0 0h1m2 0h1m0 0h1" stroke="#5ec86f" stroke-width="1.0" stroke-opacity="0.8"/>
<path d="M269 514.5h1m0 0h1m1 0h1m0 0h1m-6 1h1m4 0h1m-8 1h1m5 0h1m-8 1h1m5 0h1m-7 1h1m3 0h1m0 0h1m-5 1h1m0 0h1" stroke="#6bc855" stroke-width="1.0" stroke-opacity="0.8"/>
<path d="M269 515.5h1m0 0h1m0 0h1m0 0h1m-6 1h1m-2 1h1m0 0h1m2 0h1m-5 1h1m0 0h1m0 0h1" stroke="#78c83c" stroke-width="1.0" stroke-opacity="0.8"/>
<path d="M268 516.5h1m0 0h1m0 0h1m-3 1h1m0 0h1" stroke="#b5d536" stroke-width="1.0" stroke-opacity="0.8"/>
<path d="M298.5 503h1m-31 .5h1m22.5 .5h1m-5 1h1m-10.5 .5h1m2.5 0h1m-13 1.5h1m9 0h1m-9 2h1m9 .5h1m1 .5h1m-14.5 .5h1m3 1h1m-6 .5h1m8.5 0h1m-16 .5h1m10 0h1m5 0h1m-20 .5h1m0 0h1m5 0h1m15 .5h1m.5 0h1m5.5 .5h1m-27.5 .5h1m20 0h1m2.5 0h1m-22.5 .5h1m8.5 .5h1m8 0h1m-23.5 .5h1m8 0h1m-14.5 .5h1m5.5 .5h1m-5.5 .5h1m14 .5h1m12 0h1m-12 .5h1m6 .5h1m-23.5 1h1m6 0h1m10 0h1m-28.5 1h1m17.5 0h1m3.5 1h1m-15 .5h1m6 0h1m.5 0h1m11.5 .5h1m-25 .5h1m-3 1h1m-10 .5h1m3.5 .5h1m6 0h1m4.5 .5h1m-4.5 .5h1m-7.5 3.5h1m-23.5 1.5h1m31 .5h1m-23.5 .5h1" stroke="#8080c8" stroke-width="0.9" stroke-opacity="0.4"/>
<rect x="231" y="502.5" width="81" height="79.5" fill="none" stroke="#b4b4b4" stroke-width="0.8"/>
<line x1="231" y1="502.5" x2="231" y2="582" stroke="#555" stroke-width="0.9" />
<line x1="231" y1="582" x2="312" y2="582" stroke="#555" stroke-width="0.9" />
<path d="M229 510h2M229 529h2M229 551h2M229 563h2M229 576h2M239 582v2M250 582v2M262.5 582v2M286 582v2M305 582v2" stroke="#333" stroke-width="0.9"/>
<path d="M229.8 544.4h1.2M229.8 540.5h1.2M229.8 537.8h1.2M229.8 535.6h1.2M229.8 533.9h1.2M229.8 532.4h1.2M229.8 531.1h1.2M229.8 530h1.2M229.8 523.3h1.2M229.8 519.9h1.2M229.8 517.6h1.2M229.8 515.7h1.2M229.8 514.2h1.2M229.8 512.9h1.2M229.8 511.8h1.2M229.8 510.9h1.2M269.6 582v1.2M273.7 582v1.2M276.6 582v1.2M278.9 582v1.2M280.8 582v1.2M282.4 582v1.2M283.7 582v1.2M284.9 582v1.2M291.7 582v1.2M295.1 582v1.2M297.4 582v1.2M299.3 582v1.2M300.8 582v1.2M302.1 582v1.2M303.2 582v1.2M304.1 582v1.2" stroke="#666" stroke-width="0.6"/>
<line x1="262.5" y1="502.5" x2="262.5" y2="582" stroke="#333" stroke-width="0.9" />
<line x1="231" y1="550.5" x2="312" y2="550.5" stroke="#333" stroke-width="0.9" />
<text transform="translate(215.3,512.6) scale(1.08,1)" font-size="6.6" fill="#0a0a0a">10<tspan dy="-2.6" font-size="5.0">5</tspan></text>
<text transform="translate(215.3,531.6) scale(1.08,1)" font-size="6.6" fill="#0a0a0a">10<tspan dy="-2.6" font-size="5.0">4</tspan></text>
<text transform="translate(215.3,553.6) scale(1.08,1)" font-size="6.6" fill="#0a0a0a">10<tspan dy="-2.6" font-size="5.0">3</tspan></text>
<text x="226.2" y="565.6" font-size="7" text-anchor="end" fill="#0a0a0a" >0</text>
<rect x="229.1" y="561.3" width="2.3" height="3.4" fill="#111"/>
<rect x="248" y="581.3" width="4" height="1.9" fill="#111"/>
<text transform="translate(211.1,578.6) scale(1.08,1)" font-size="6.6" fill="#0a0a0a">&#8722;10<tspan dy="-2.6" font-size="5.0">3</tspan></text>
<text transform="translate(231.4,594.5) scale(1.08,1)" font-size="6.6" fill="#0a0a0a">&#8722;10<tspan dy="-2.6" font-size="5.0">3</tspan></text>
<text x="250" y="594.5" font-size="7" text-anchor="middle" fill="#0a0a0a" >0</text>
<text transform="translate(258.5,594.5) scale(1.08,1)" font-size="6.6" fill="#0a0a0a">10<tspan dy="-2.6" font-size="5.0">3</tspan></text>
<text transform="translate(282,594.5) scale(1.08,1)" font-size="6.6" fill="#0a0a0a">10<tspan dy="-2.6" font-size="5.0">4</tspan></text>
<text transform="translate(301,594.5) scale(1.08,1)" font-size="6.6" fill="#0a0a0a">10<tspan dy="-2.6" font-size="5.0">5</tspan></text>
<text x="235.5" y="507.5" font-size="4" text-anchor="middle" fill="#0a0a0a" >Q5</text>
<text x="235.5" y="513" font-size="4" text-anchor="middle" fill="#0a0a0a" >10.5</text>
<text x="305" y="507.5" font-size="4" text-anchor="middle" fill="#0a0a0a" >Q6</text>
<text x="305" y="513" font-size="4" text-anchor="middle" fill="#0a0a0a" >89.5</text>
<text x="235.5" y="572" font-size="4" text-anchor="middle" fill="#0a0a0a" >Q8</text>
<text x="235.5" y="577.5" font-size="4" text-anchor="middle" fill="#0a0a0a" >0</text>
<text x="305" y="572" font-size="4" text-anchor="middle" fill="#0a0a0a" >Q7</text>
<text x="305" y="577.5" font-size="4" text-anchor="middle" fill="#0a0a0a" >0</text>
<text x="307.5" y="536.5" font-size="8.1" text-anchor="end" fill="#0a0a0a" >89.5%</text>
<line x1="208.2" y1="603.5" x2="208.2" y2="584" stroke="#111" stroke-width="1.25" />
<polygon points="208.2,579.2 205.6,585.2 208.2,583.9 210.8,585.2" fill="#111"/>
<line x1="208.2" y1="603.5" x2="226.2" y2="603.5" stroke="#111" stroke-width="1.25" />
<polygon points="230.6,603.5 225.1,601.2 226.3,603.5 225.1,605.8" fill="#111"/>
<text transform="translate(204.4,595.9) rotate(-90) scale(0.637,1)" font-size="10.5" font-weight="bold" text-anchor="middle" fill="#111" stroke="#111" stroke-width="0.25">CD34</text>
<text transform="translate(207.3,615) scale(0.576,1)" font-size="10.5" font-weight="bold" text-anchor="start" fill="#111" stroke="#111" stroke-width="0.25">CD117</text>
<text x="405" y="495" font-size="10.5" text-anchor="middle" fill="#0a0a0a" textLength="97" lengthAdjust="spacingAndGlyphs">[Dim CD45, CD34+]</text>
<path d="M374 506.5h1m0 0h1m14 0h1m-1 1h1m0 1h1m-18 1h1m0 0h1m14 0h1m-16 1h1m15 0h1m-17 1h1m14 0h1m-1 1h1m-16 1h1m13 0h1m0 0h1m-16 1h1m13 0h1m0 0h1m-2 1h1m0 0h1m-15 1h1m12 0h1m-13 1h1m10 0h1m-1 1h1m-12 1h1m10 0h1m-5 7h1" stroke="#2e5aca" stroke-width="1.0" stroke-opacity="0.85"/>
<path d="M376 507.5h1m12 0h1m-14 1h1m12 0h1m-14 1h1m12 0h1m-14 1h1m12 0h1m-14 1h1m11 0h1m0 0h1m-13 1h1m10 0h1m0 0h1m-13 1h1m10 0h1m-1 1h1m-12 1h1m10 0h1m-1 1h1m-11 1h1m-1 1h1m8 0h1m-1 1h1m-2 2h1m-8 1h1m5 2h1" stroke="#306ad4" stroke-width="1.0" stroke-opacity="0.85"/>
<path d="M377 506.5h1m9 0h1m0 0h1m-11 1h1m8 0h1m0 0h1m-2 1h1m-10 1h1m8 0h1m0 0h1m-2 1h1m-1 1h1m-1 1h1m-1 1h1m-10 1h1m8 0h1m-1 1h1m-10 1h1m8 0h1m-2 3h1m-8 1h1m6 0h1m-2 3h1m-2 2h1m-3 1h1" stroke="#327cdc" stroke-width="1.0" stroke-opacity="0.85"/>
<path d="M379 506.5h1m6 0h1m-8 1h1m6 0h1m-8 1h1m6 0h1m-8 1h1m6 0h1m-8 1h1m6 0h1m-1 1h1m-8 1h1m6 0h1m-8 1h1m6 0h1m-8 1h1m6 0h1m-1 1h1m-8 1h1m-1 1h1m6 0h1m-8 1h1m6 0h1m-7 4h1m4 0h1" stroke="#3692e0" stroke-width="1.0" stroke-opacity="0.85"/>
<path d="M380 506.5h1m-1 1h1m4 0h1m-6 1h1m4 0h1m-6 1h1m-1 1h1m-1 1h1m4 0h1m-1 1h1m-1 8h1m-6 1h1m4 0h1m-5 2h1m0 2h1m0 2h1" stroke="#3aa8e4" stroke-width="1.0" stroke-opacity="0.85"/>
<path d="M381 506.5h1m0 0h1m0 0h1m0 0h1m-4 1h1m2 0h1m-4 1h1m2 0h1m-4 1h1m2 0h1m-4 1h1m-2 2h1m4 1h1m-1 1h1m-1 3h1m-1 1h1m-6 2h1m0 2h1m2 0h1m-1 1h1m-2 3h1" stroke="#42b8cc" stroke-width="1.0" stroke-opacity="0.85"/>
<path d="M382 507.5h1m0 0h1m-2 1h1m0 0h1m-2 1h1m0 0h1m-2 1h1m0 0h1m-3 2h1m2 0h1m-1 1h1m-5 2h1m-1 1h1m-1 1h1m-1 1h1m0 3h1m2 0h1m-3 2h1m0 2h1" stroke="#50c199" stroke-width="1.0" stroke-opacity="0.85"/>
<path d="M382 511.5h1m0 0h1m-2 1h1m0 0h1m-3 1h1m-1 1h1m2 0h1m-1 1h1m-1 1h1m-1 1h1m-1 1h1m-1 1h1m-4 1h1m2 0h1m-3 2h1m0 1h1m-1 1h1" stroke="#5ec86f" stroke-width="1.0" stroke-opacity="0.85"/>
<path d="M382 513.5h1m0 0h1m-3 2h1m-1 1h1m-1 2h1m-1 1h1m0 2h1m0 1h1" stroke="#6bc855" stroke-width="1.0" stroke-opacity="0.85"/>
<path d="M382 514.5h1m0 0h1m-1 1h1m-3 2h1m0 3h1m0 0h1m-1 1h1" stroke="#78c83c" stroke-width="1.0" stroke-opacity="0.85"/>
<path d="M382 515.5h1m-1 1h1m0 0h1m-2 1h1m0 0h1m-2 1h1m0 0h1m-2 1h1m0 0h1" stroke="#b5d536" stroke-width="1.0" stroke-opacity="0.85"/>
<path d="M386.5 507.5h1m-6.5 .5h1m-9.5 .5h1m9 0h1m1 0h1m2.5 0h1m-3.5 .5h1m-3 .5h1m6.5 .5h1m-13.5 .5h1m-.5 0h1m2 0h1m4.5 0h1m-12 .5h1m2.5 0h1m7 .5h1m-13 1h1m-.5 0h1m8 0h1m0 .5h1m-8.5 1h1m2 0h1m2.5 0h1m0 0h1m-9.5 .5h1m-8 .5h1m7.5 0h1m5 .5h1m-5.5 .5h1m1 0h1m2.5 0h1m-4.5 .5h1m.5 0h1m5.5 0h1m1.5 0h1m-11.5 .5h1m5 0h1m6.5 .5h1m-18 .5h1m1 0h1m-1 .5h1m1 0h1m0 0h1m-11 .5h1m4.5 0h1m6 0h1m4.5 0h1m-15.5 .5h1m1 0h1m0 0h1m3.5 .5h1m7.5 0h1m-11 .5h1m9.5 0h1m-11.5 .5h1m6.5 0h1m0 0h1m.5 0h1m2 0h1m-26 1h1m27 0h1m-18.5 .5h1m-4.5 .5h1m8 0h1m-5.5 1h1m-8 .5h1m2.5 0h1m-2.5 2h1" stroke="#a090d0" stroke-width="0.9" stroke-opacity="0.4"/>
<path d="M405.5 505.5h1m-.5 .5h1m2 0h1m-1 1.5h1m11.5 0h1m-17.5 .5h1m2.5 0h1m1.5 1.5h1m-7.5 1h1m-1 1h1m-6.5 .5h1m11.5 .5h1m6 0h1m-10.5 2h1m-9 .5h1m5 0h1m4 0h1m-3.5 1h1m1 0h1m-.5 1h1m8.5 1h1m-12.5 1h1m-4 1.5h1m0 0h1m3 0h1m2.5 .5h1m-5 1h1m.5 1h1m-12.5 .5h1m13 1.5h1m-15 .5h1m-3 1h1m23.5 0h1m-20 .5h1m0 .5h1" stroke="#a0a0d8" stroke-width="0.9" stroke-opacity="0.35"/>
<rect x="367" y="502.5" width="79" height="79.5" fill="none" stroke="#b4b4b4" stroke-width="0.8"/>
<line x1="367" y1="502.5" x2="367" y2="582" stroke="#555" stroke-width="0.9" />
<line x1="367" y1="582" x2="446" y2="582" stroke="#555" stroke-width="0.9" />
<path d="M365 509.5h2M365 529.5h2M365 550.5h2M365 563h2M365 576h2M364 582v2M385.5 582v2M397.5 582v2M417.5 582v2M437.5 582v2" stroke="#333" stroke-width="0.9"/>
<path d="M365.8 544.2h1.2M365.8 540.5h1.2M365.8 537.9h1.2M365.8 535.8h1.2M365.8 534.2h1.2M365.8 532.8h1.2M365.8 531.5h1.2M365.8 530.5h1.2M365.8 523.5h1.2M365.8 520h1.2M365.8 517.5h1.2M365.8 515.5h1.2M365.8 513.9h1.2M365.8 512.6h1.2M365.8 511.4h1.2M365.8 510.4h1.2M403.5 582v1.2M407 582v1.2M409.5 582v1.2M411.5 582v1.2M413.1 582v1.2M414.4 582v1.2M415.6 582v1.2M416.6 582v1.2M423.5 582v1.2M427 582v1.2M429.5 582v1.2M431.5 582v1.2M433.1 582v1.2M434.4 582v1.2M435.6 582v1.2M436.6 582v1.2" stroke="#666" stroke-width="0.6"/>
<line x1="397.5" y1="502.5" x2="397.5" y2="582" stroke="#333" stroke-width="0.9" />
<line x1="367" y1="549.5" x2="446" y2="549.5" stroke="#333" stroke-width="0.9" />
<text transform="translate(351.3,512.1) scale(1.08,1)" font-size="6.6" fill="#0a0a0a">10<tspan dy="-2.6" font-size="5.0">5</tspan></text>
<text transform="translate(351.3,532.1) scale(1.08,1)" font-size="6.6" fill="#0a0a0a">10<tspan dy="-2.6" font-size="5.0">4</tspan></text>
<text transform="translate(351.3,553.1) scale(1.08,1)" font-size="6.6" fill="#0a0a0a">10<tspan dy="-2.6" font-size="5.0">3</tspan></text>
<text x="362.2" y="565.6" font-size="7" text-anchor="end" fill="#0a0a0a" >0</text>
<rect x="365.1" y="561.3" width="2.3" height="3.4" fill="#111"/>
<rect x="383.5" y="581.3" width="4" height="1.9" fill="#111"/>
<text transform="translate(347.1,578.6) scale(1.08,1)" font-size="6.6" fill="#0a0a0a">&#8722;10<tspan dy="-2.6" font-size="5.0">3</tspan></text>
<text transform="translate(356.4,594.5) scale(1.08,1)" font-size="6.6" fill="#0a0a0a">&#8722;10<tspan dy="-2.6" font-size="5.0">3</tspan></text>
<text x="385.5" y="594.5" font-size="7" text-anchor="middle" fill="#0a0a0a" >0</text>
<text transform="translate(393.5,594.5) scale(1.08,1)" font-size="6.6" fill="#0a0a0a">10<tspan dy="-2.6" font-size="5.0">3</tspan></text>
<text transform="translate(413.5,594.5) scale(1.08,1)" font-size="6.6" fill="#0a0a0a">10<tspan dy="-2.6" font-size="5.0">4</tspan></text>
<text transform="translate(433.5,594.5) scale(1.08,1)" font-size="6.6" fill="#0a0a0a">10<tspan dy="-2.6" font-size="5.0">5</tspan></text>
<text x="371.5" y="507.5" font-size="4" text-anchor="middle" fill="#0a0a0a" >Q1</text>
<text x="371.5" y="513" font-size="4" text-anchor="middle" fill="#0a0a0a" >98.0</text>
<text x="439" y="507.5" font-size="4" text-anchor="middle" fill="#0a0a0a" >Q2</text>
<text x="439" y="513" font-size="4" text-anchor="middle" fill="#0a0a0a" >2.05</text>
<text x="371.5" y="572" font-size="4" text-anchor="middle" fill="#0a0a0a" >Q4</text>
<text x="371.5" y="577.5" font-size="4" text-anchor="middle" fill="#0a0a0a" >0</text>
<text x="439" y="572" font-size="4" text-anchor="middle" fill="#0a0a0a" >Q3</text>
<text x="439" y="577.5" font-size="4" text-anchor="middle" fill="#0a0a0a" >0</text>
<text x="443" y="525.5" font-size="8.1" text-anchor="end" fill="#0a0a0a" >2.05%</text>
<line x1="343.2" y1="603.5" x2="343.2" y2="583.9" stroke="#111" stroke-width="1.25" />
<polygon points="343.2,579.1 340.6,585.1 343.2,583.8 345.8,585.1" fill="#111"/>
<line x1="343.2" y1="603.5" x2="360.9" y2="603.5" stroke="#111" stroke-width="1.25" />
<polygon points="365.3,603.5 359.8,601.2 361,603.5 359.8,605.8" fill="#111"/>
<text transform="translate(337.9,595.7) rotate(-90) scale(0.626,1)" font-size="10.5" font-weight="bold" text-anchor="middle" fill="#111" stroke="#111" stroke-width="0.25">CD34</text>
<text transform="translate(342,614.7) scale(0.633,1)" font-size="10.5" font-weight="bold" text-anchor="start" fill="#111" stroke="#111" stroke-width="0.25">CD56</text>
<text transform="translate(78.9,644.6) scale(0.95,1)" font-size="17.5" font-weight="bold" text-anchor="middle" fill="#000">F</text>
<defs><clipPath id="cphoto"><rect x="88.9" y="648" width="111.6" height="113"/></clipPath><clipPath id="che"><rect x="205.5" y="647.3" width="109.8" height="113.7"/></clipPath><filter id="fur" x="0" y="0" width="100%" height="100%"><feTurbulence type="fractalNoise" baseFrequency="0.06 0.4" numOctaves="2" seed="4"/><feColorMatrix type="matrix" values="0 0 0 0 0.45  0 0 0 0 0.42  0 0 0 0 0.52  3 0 0 0 -1.3"/><feComposite operator="in" in2="SourceGraphic"/></filter><filter id="ph" x="0" y="0" width="100%" height="100%"><feTurbulence type="fractalNoise" baseFrequency="0.18" numOctaves="3" seed="21"/><feColorMatrix type="matrix" values="0 0 0 0 0.85  0 0 0 0 0.75  0 0 0 0 0.85  2.4 0 0 0 -1.1"/></filter><filter id="pn" x="0" y="0" width="100%" height="100%"><feTurbulence type="fractalNoise" baseFrequency="0.3" numOctaves="2" seed="2"/><feColorMatrix type="matrix" values="0 0 0 0 0.5  0 0 0 0 0.35  0 0 0 0 0.45  0 0 0 -1.2 0.7"/></filter></defs>
<g clip-path="url(#cphoto)">
<rect x="88" y="647" width="114" height="116" fill="#936b86"/>
<g filter="url(#b3)">
<ellipse cx="104" cy="659" rx="17" ry="10" fill="#a88a9e"/>
<ellipse cx="100" cy="690" rx="12" ry="16" fill="#8e6a8a"/>
<ellipse cx="97" cy="728" rx="9" ry="22" fill="#93788e"/>
<ellipse cx="172" cy="694" rx="26" ry="12" fill="#9c7690"/>
</g>
<g filter="url(#b2)">
<polygon points="128,646 203,646 203,712 190,700 170,684 150,668 138,660" fill="#aca4b4"/>
<polygon points="146,646 203,646 203,684 188,676 168,666 154,656" fill="#cfccd4"/>
<ellipse cx="172" cy="655" rx="20" ry="8" fill="#e6e4e8"/>
<ellipse cx="182" cy="722" rx="18" ry="21" fill="#b88c9c"/>
<ellipse cx="181" cy="716" rx="9" ry="8" fill="#ccaab8"/>
<path d="M110,720 C130,730 155,741 174,744 L178,763 L108,763 Z" fill="#a27a8c"/>
<ellipse cx="140" cy="750" rx="18" ry="7" fill="#b493a2"/>
<path d="M109,714 C111,706 118,701 130,699.5 C145,698 156,697.5 161,700 C166,708 170,722 172,737 C160,738 145,733 132,726 C122,721 114,718 109,714Z" fill="#640e24"/>
<ellipse cx="145" cy="712" rx="14" ry="7" fill="#7c1a2e"/>
<path d="M109,716 C125,724 150,737 172,740" fill="none" stroke="#b27a8a" stroke-width="4"/>
<ellipse cx="104" cy="757" rx="12" ry="6" fill="#a61c30"/>
<ellipse cx="140" cy="761" rx="16" ry="4" fill="#8c1c30"/>
<ellipse cx="190" cy="757" rx="14" ry="7" fill="#d2ced6"/>
<ellipse cx="191" cy="739" rx="4" ry="3" fill="#b42436"/>
</g>
<polygon points="128,646 203,646 203,712 190,700 170,684 150,668 138,660" fill="#fff" filter="url(#fur)" opacity="0.55"/>
<rect x="88" y="647" width="114" height="116" filter="url(#ph)" opacity="0.16"/>
<g filter="url(#b1)">
<path d="M108,663 Q112,669 122,666 Q129,663 133,657" fill="none" stroke="#cdbccd" stroke-width="1.6"/>
<path d="M112,724 L114,753" stroke="#4a0c1c" stroke-width="2.6"/>
<ellipse cx="157.8" cy="723.6" rx="3.6" ry="3.2" fill="#80609c"/>
</g>
<circle cx="110" cy="719.5" r="0.8" fill="#f0e0ea"/>
<circle cx="121" cy="729" r="0.8" fill="#f0e0ea"/>
<circle cx="124" cy="730" r="0.8" fill="#f0e0ea"/>
<circle cx="132" cy="733" r="0.8" fill="#f0e0ea"/>
<circle cx="133" cy="734" r="0.8" fill="#f0e0ea"/>
<circle cx="135" cy="712" r="0.8" fill="#f0e0ea"/>
<circle cx="138" cy="713" r="0.8" fill="#f0e0ea"/>
<circle cx="141" cy="711" r="0.8" fill="#f0e0ea"/>
<circle cx="148" cy="716" r="0.8" fill="#f0e0ea"/>
<polygon points="88,750 99,762 88,762" fill="#fff"/>
</g>
<text x="91.2" y="683" font-size="7.4" fill="#e8cc50" stroke="#6a4a30" stroke-width="0.25" stroke-opacity="0.5" textLength="71.8" lengthAdjust="spacingAndGlyphs">organoid implantation</text>
<line x1="128.3" y1="688.3" x2="146" y2="704.8" stroke="#f0c020" stroke-width="1.6"/>
<polygon points="149.6,708.2 142.6,705.8 146.8,701.4" fill="#f0c020"/>
<rect x="148" y="710.4" width="23.5" height="23.1" fill="none" stroke="#e0a020" stroke-width="1.1" stroke-dasharray="2,1.4"/>
<line x1="171.5" y1="710.4" x2="204" y2="648" stroke="#ece860" stroke-width="1.2" stroke-dasharray="3.6,2.2"/>
<line x1="171.5" y1="733.5" x2="203.5" y2="761" stroke="#ece860" stroke-width="1.2" stroke-dasharray="3.6,2.2"/>
<g clip-path="url(#che)">
<rect x="203" y="647" width="114" height="116" fill="#c872b8"/><rect x="203" y="705" width="114" height="25" fill="#b05aa8" opacity="0.35" filter="url(#b3)"/>
<rect x="203" y="647" width="114" height="116" filter="url(#he)"/>
<rect x="203" y="647" width="114" height="116" filter="url(#hed)"/>
<path d="M203,727 Q220,730 232,731 Q245,726 265,722 Q290,717 317,715 L317,763 L203,763Z" fill="#ecdaea"/>
<path d="M203,727 Q220,730 232,731 Q245,726 265,722 Q290,717 317,715 L317,763 L203,763Z" fill="#fff" filter="url(#he2)" opacity="0.6"/>
<path d="M203,728 Q222,731 233,732 Q246,731 250,740 Q254,752 262,763 L203,763Z" fill="#f8f4f8"/>
<path d="M246,731 Q252,742 262,760" fill="none" stroke="#d8b8d4" stroke-width="1.2" filter="url(#b1)"/>
<ellipse cx="271" cy="744" rx="13" ry="10" fill="none" stroke="#d8b4d2" stroke-width="1.2" filter="url(#b1)"/>
<path d="M239,671 Q241,677 244,681 Q246,686 247.5,692" fill="none" stroke="#a858a4" stroke-width="3.6" filter="url(#bs)"/>
<path d="M239,671 Q241,677 244,681 Q246,686 247.5,692" fill="none" stroke="#f6eef6" stroke-width="2" filter="url(#bs)"/><ellipse cx="240.5" cy="674" rx="1.8" ry="3" transform="rotate(-25 240.5 674)" fill="#f8f2f8"/>
</g>
<rect x="203.2" y="647.3" width="2.3" height="114.5" fill="#fbfaf0"/><rect x="204" y="647.3" width="1" height="114.5" fill="#e6e28c"/><path d="M205.5 761.4H315.6V647.3" fill="none" stroke="#f4f2cc" stroke-width="0.9"/>
<rect x="262.5" y="648.8" width="51.9" height="53.4" fill="#e2d2e2"/>
<rect x="262.5" y="648.8" width="51.9" height="19" fill="#c070b8"/><rect x="262.5" y="666" width="51.9" height="5" fill="#d0a0cc" filter="url(#b1)"/>
<g filter="url(#b1)">
<ellipse cx="268" cy="656" rx="2" ry="3" fill="#f6eef6"/>
<ellipse cx="275" cy="658" rx="2.5" ry="2" fill="#f6eef6"/>
<ellipse cx="282" cy="655" rx="2" ry="3.5" fill="#f6eef6"/>
<ellipse cx="289" cy="659" rx="3" ry="2" fill="#f6eef6"/>
<ellipse cx="297" cy="655" rx="2" ry="2.5" fill="#f6eef6"/>
<ellipse cx="305" cy="657" rx="2.5" ry="3" fill="#f6eef6"/>
<ellipse cx="311" cy="654" rx="1.5" ry="2" fill="#f6eef6"/>
<ellipse cx="272" cy="664" rx="2" ry="1.5" fill="#f6eef6"/>
<ellipse cx="286" cy="665" rx="3" ry="1.5" fill="#f6eef6"/>
<ellipse cx="300" cy="664" rx="2.5" ry="1.5" fill="#f6eef6"/>
<ellipse cx="309" cy="665" rx="2" ry="1.5" fill="#f6eef6"/>
</g>
<rect x="262.5" y="669" width="51.9" height="33" filter="url(#pn)" opacity="0.6"/>
<rect x="263.3" y="649.6" width="50.3" height="51.8" fill="none" stroke="#2a1a2a" stroke-width="1.8"/>
<line x1="284.4" y1="678.5" x2="298.5" y2="679.7" stroke="#c8143c" stroke-width="1.2"/>
<polygon points="302,680 297.5,677.3 297.3,682.3" fill="#c8143c"/>
<line x1="269.4" y1="699.4" x2="276.5" y2="690.6" stroke="#c8143c" stroke-width="1.2"/>
<polygon points="278.8,687.8 274.3,689.6 277.9,692.5" fill="#c8143c"/>
<text x="298" y="695.7" font-size="6" font-weight="bold" text-anchor="middle" fill="#333">75&#956;m</text>
<text x="209.5" y="657.3" font-size="7.4" font-weight="bold" fill="#2a1a2c" textLength="42.5" lengthAdjust="spacingAndGlyphs">H&amp;E staining</text>
<line x1="204.6" y1="758.2" x2="260" y2="758.2" stroke="#111" stroke-width="2"/>
<text x="229" y="755.8" font-size="7" font-weight="bold" text-anchor="middle" fill="#222">1 mm</text>
<text transform="translate(331.2,644.6) scale(0.95,1)" font-size="17.5" font-weight="bold" text-anchor="middle" fill="#000">H</text>
<path d="M374.4 650.6V747.5H454" fill="none" stroke="#111" stroke-width="1.4"/>
<line x1="370.2" y1="746.8" x2="374.4" y2="746.8" stroke="#111" stroke-width="1.2" />
<text x="366.5" y="749.8" font-size="8.6" text-anchor="end" fill="#111" >0</text>
<line x1="370.2" y1="716.3" x2="374.4" y2="716.3" stroke="#111" stroke-width="1.2" />
<text x="366.5" y="719.3" font-size="8.6" text-anchor="end" fill="#111" >1</text>
<line x1="370.2" y1="685.9" x2="374.4" y2="685.9" stroke="#111" stroke-width="1.2" />
<text x="366.5" y="688.9" font-size="8.6" text-anchor="end" fill="#111" >2</text>
<line x1="370.2" y1="655.4" x2="374.4" y2="655.4" stroke="#111" stroke-width="1.2" />
<text x="366.5" y="658.4" font-size="8.6" text-anchor="end" fill="#111" >3</text>
<line x1="390.5" y1="747.5" x2="390.5" y2="751" stroke="#111" stroke-width="1.2" />
<text x="390.5" y="764.2" font-size="8.6" text-anchor="middle" fill="#111" >1</text>
<line x1="414.5" y1="747.5" x2="414.5" y2="751" stroke="#111" stroke-width="1.2" />
<text x="414.5" y="764.2" font-size="8.6" text-anchor="middle" fill="#111" >5</text>
<line x1="438.7" y1="747.5" x2="438.7" y2="751" stroke="#111" stroke-width="1.2" />
<text x="438.7" y="764.2" font-size="8.6" text-anchor="middle" fill="#111" >11</text>
<text transform="translate(401.2,781.3) scale(0.718,1)" font-size="10.5" font-weight="bold" text-anchor="start" fill="#1a1a1a" stroke="#1a1a1a" stroke-width="0">Months</text>
<text transform="translate(353.2,698.5) rotate(-90) scale(0.797,1)" font-size="10.5" font-weight="bold" text-anchor="middle" fill="#1a1a1a" stroke="#1a1a1a" stroke-width="0">hCD45/mCD45 %</text>
<path d="M382.0 711.2h17M390.5 690.5V731.6M386.0 690.5h9M386.0 731.6h9" stroke="#b8143c" stroke-width="1.3" fill="none"/>
<circle cx="390.5" cy="663.7" r="1.85" fill="none" stroke="#b8143c" stroke-width="1"/>
<circle cx="390.5" cy="698.1" r="1.85" fill="none" stroke="#b8143c" stroke-width="1"/>
<circle cx="390.5" cy="706.6" r="1.85" fill="none" stroke="#b8143c" stroke-width="1"/>
<circle cx="384.5" cy="718.8" r="1.85" fill="none" stroke="#b8143c" stroke-width="1"/>
<circle cx="390.5" cy="716.3" r="1.85" fill="none" stroke="#b8143c" stroke-width="1"/>
<circle cx="397" cy="717" r="1.85" fill="none" stroke="#b8143c" stroke-width="1"/>
<circle cx="390.5" cy="722.4" r="1.85" fill="none" stroke="#b8143c" stroke-width="1"/>
<circle cx="396" cy="721.8" r="1.85" fill="none" stroke="#b8143c" stroke-width="1"/>
<circle cx="390.5" cy="738.3" r="1.85" fill="none" stroke="#b8143c" stroke-width="1"/>
<path d="M406.0 707.8h17M414.5 684.4V731M410.0 684.4h9M410.0 731h9" stroke="#b8143c" stroke-width="1.3" fill="none"/>
<circle cx="411" cy="680.4" r="1.85" fill="none" stroke="#b8143c" stroke-width="1"/>
<circle cx="418" cy="679.8" r="1.85" fill="none" stroke="#b8143c" stroke-width="1"/>
<circle cx="414.5" cy="687.4" r="1.85" fill="none" stroke="#b8143c" stroke-width="1"/>
<circle cx="414.5" cy="693.5" r="1.85" fill="none" stroke="#b8143c" stroke-width="1"/>
<circle cx="411" cy="702.6" r="1.85" fill="none" stroke="#b8143c" stroke-width="1"/>
<circle cx="418" cy="710.3" r="1.85" fill="none" stroke="#b8143c" stroke-width="1"/>
<circle cx="414.5" cy="728.5" r="1.85" fill="none" stroke="#b8143c" stroke-width="1"/>
<circle cx="411" cy="739.2" r="1.85" fill="none" stroke="#b8143c" stroke-width="1"/>
<circle cx="418" cy="738.6" r="1.85" fill="none" stroke="#b8143c" stroke-width="1"/>
<path d="M430.2 739.5h17M438.7 733.1V746.2M434.2 733.1h9M434.2 746.2h9" stroke="#b8143c" stroke-width="1.3" fill="none"/>
<circle cx="436.2" cy="727.9" r="1.85" fill="none" stroke="#b8143c" stroke-width="1"/>
<circle cx="440.7" cy="731" r="1.85" fill="none" stroke="#b8143c" stroke-width="1"/>
<circle cx="433.7" cy="736.1" r="1.85" fill="none" stroke="#b8143c" stroke-width="1"/>
<circle cx="440.7" cy="737.7" r="1.85" fill="none" stroke="#b8143c" stroke-width="1"/>
<circle cx="436.2" cy="743.8" r="1.85" fill="none" stroke="#b8143c" stroke-width="1"/>
<circle cx="432.7" cy="745.9" r="1.85" fill="none" stroke="#b8143c" stroke-width="1"/>
<circle cx="440.7" cy="745.9" r="1.85" fill="none" stroke="#b8143c" stroke-width="1"/>
<circle cx="444.7" cy="745.9" r="1.85" fill="none" stroke="#b8143c" stroke-width="1"/>
<circle cx="437.7" cy="746.8" r="1.85" fill="none" stroke="#b8143c" stroke-width="1"/>
<text transform="translate(16.25,812.6) scale(0.95,1)" font-size="17.5" font-weight="bold" text-anchor="middle" fill="#000">G</text>
<path d="M27.8 932.2V826" fill="none" stroke="#111" stroke-width="1.6"/>
<polygon points="27.8,821.4 24.4,830 27.8,827.8 31.2,830" fill="#111"/>
<path d="M27 931.5H360" fill="none" stroke="#111" stroke-width="1.6"/>
<polygon points="365.8,931.5 357.2,928.1 359.4,931.5 357.2,934.9" fill="#111"/>
<text transform="translate(20.9,918.4) rotate(-90) scale(0.685,1)" font-size="10.5" font-weight="bold" text-anchor="middle" fill="#111" stroke="#111" stroke-width="0.25">mCD45</text>
<text transform="translate(30.1,945.2) scale(0.668,1)" font-size="10.5" font-weight="bold" text-anchor="start" fill="#111" stroke="#111" stroke-width="0.25">hCD45</text>
<text x="96.9" y="813.3" font-size="10.5" text-anchor="middle" fill="#0a0a0a" textLength="36.3" lengthAdjust="spacingAndGlyphs">1 month</text>
<path d="M54.5 822.5h1m21 0h1m10.5 0h1m-24.5 .5h1m74 0h1m-53 .5h1m22.5 0h1m9 0h1m-28.5 .5h1m12 0h1m-34 .5h1m-11 1.5h1m26 0h1m16.5 .5h1m-10.5 .5h1m-25.5 1h1m45.5 0h1m14 0h1m-57.5 .5h1m39 .5h1m4 0h1m-68.5 .5h1m66.5 0h1m8 .5h1m-68.5 .5h1m2.5 .5h1m51.5 0h1m2.5 .5h1m-35 .5h1m-14.5 1h1m7 0h1m.5 0h1m36 0h1m-36.5 .5h1m-12.5 .5h1m7 0h1m6 0h1m-10 .5h1m2.5 0h1m8.5 0h1m39 0h1m-45.5 .5h1m-22.5 .5h1m23 0h1m35.5 0h1m-51.5 .5h1m9.5 0h1m8 0h1m-12 .5h1m.5 0h1m5.5 0h1m7 0h1m2 0h1m-50 .5h1m26.5 0h1m2.5 0h1m6 0h1m2.5 0h1m31.5 0h1m-72 .5h1m18.5 0h1m6 0h1m-.5 0h1m0 0h1m3 0h1m-13.5 .5h1m2 0h1m1 0h1m1 0h1m0 0h1m2.5 0h1m0 0h1m18 0h1m-30 .5h1m0 0h1m-.5 0h1m.5 0h1m-.5 0h1m0 0h1m-.5 0h1m3 0h1m-9.5 .5h1m1.5 0h1m.5 0h1m-.5 0h1m-.5 0h1m.5 0h1m1 0h1m-29 .5h1m15 0h1m4.5 0h1m-.5 0h1m-.5 0h1m0 0h1m1 0h1m0 0h1m.5 0h1m2 0h1m-37.5 .5h1m18.5 0h1m1 0h1m0 0h1m3 0h1m-.5 0h1m0 0h1m1.5 0h1m-.5 0h1m0 0h1m.5 0h1m3 0h1m13.5 0h1m22.5 0h1m-52 .5h1m-.5 0h1m0 0h1m3 0h1m-.5 0h1m-.5 0h1m1 0h1m-11 .5h1m.5 0h1m0 0h1m.5 0h1m1 0h1m-.5 0h1m-.5 0h1m2.5 0h1m.5 0h1m2.5 0h1m-27 .5h1m2 0h1m-.5 0h1m2.5 0h1m4 0h1m0 0h1m.5 0h1m0 0h1m-.5 0h1m-.5 0h1m-.5 0h1m0 0h1m-.5 0h1m0 0h1m-.5 0h1m-.5 0h1m2 0h1m.5 0h1m19.5 0h1m.5 0h1m-38 .5h1m-.5 0h1m0 0h1m1 0h1m.5 0h1m-.5 0h1m-.5 0h1m-.5 0h1m-.5 0h1m-.5 0h1m0 0h1m-.5 0h1m-.5 0h1m-.5 0h1m0 0h1m5 0h1m-22 .5h1m6 0h1m.5 0h1m-.5 0h1m.5 0h1m1 0h1m-.5 0h1m0 0h1m-.5 0h1m-.5 0h1m0 0h1m0 0h1m-19.5 .5h1m2 0h1m2.5 0h1m.5 0h1m-.5 0h1m0 0h1m-.5 0h1m-.5 0h1m-.5 0h1m-.5 0h1m0 0h1m0 0h1m-.5 0h1m0 0h1m-.5 0h1m-.5 0h1m0 0h1m1 0h1m43 0h1m-63 .5h1m6 0h1m0 0h1m-.5 0h1m-.5 0h1m0 0h1m-.5 0h1m-.5 0h1m-.5 0h1m-.5 0h1m-.5 0h1m-.5 0h1m0 0h1m-.5 0h1m-.5 0h1m-.5 0h1m0 0h1m1.5 0h1m-14 .5h1m-.5 0h1m0 0h1m-.5 0h1m-.5 0h1m-.5 0h1m-.5 0h1m0 0h1m-.5 0h1m-.5 0h1m-.5 0h1m-.5 0h1m-.5 0h1m-.5 0h1m0 0h1m0 0h1m-.5 0h1m0 0h1m-.5 0h1m.5 0h1m42 0h1m-65 .5h1m3 0h1m.5 0h1m.5 0h1m3 0h1m-.5 0h1m-.5 0h1m-.5 0h1m-.5 0h1m-.5 0h1m-.5 0h1m-.5 0h1m-.5 0h1m-.5 0h1m-.5 0h1m-.5 0h1m0 0h1m2.5 0h1m.5 0h1m-23.5 .5h1m2.5 0h1m-.5 0h1m2 0h1m.5 0h1m-.5 0h1m.5 0h1m-.5 0h1m1 0h1m-.5 0h1m-.5 0h1m-.5 0h1m-.5 0h1m-.5 0h1m-.5 0h1m.5 0h1m-.5 0h1m-.5 0h1m-17.5 .5h1m0 0h1m-.5 0h1m.5 0h1m-.5 0h1m2 0h1m2 0h1m-.5 0h1m-.5 0h1m-.5 0h1m0 0h1m-.5 0h1m-.5 0h1m-.5 0h1m-.5 0h1m-.5 0h1m-.5 0h1m.5 0h1m-.5 0h1m1 0h1m24.5 0h1m5 0h1m-47 .5h1m1.5 0h1m0 0h1m-.5 0h1m-.5 0h1m-.5 0h1m-.5 0h1m-.5 0h1m-.5 0h1m-.5 0h1m-.5 0h1m-.5 0h1m-.5 0h1m0 0h1m-.5 0h1m0 0h1m-.5 0h1m-.5 0h1m.5 0h1m41 0h1m-57.5 .5h1m-.5 0h1m1.5 0h1m3 0h1m0 0h1m-.5 0h1m-.5 0h1m0 0h1m0 0h1m0 0h1m1 0h1m-11.5 .5h1m1 0h1m-.5 0h1m-.5 0h1m0 0h1m-.5 0h1m-.5 0h1m-.5 0h1m-.5 0h1m1.5 0h1m-.5 0h1m0 0h1m.5 0h1m6 0h1m11 0h1m-34.5 .5h1m-.5 0h1m0 0h1m-.5 0h1m1.5 0h1m-.5 0h1m0 0h1m0 0h1m-.5 0h1m-.5 0h1m-.5 0h1m0 0h1m0 0h1m2.5 0h1m-.5 0h1m3.5 0h1m-30.5 .5h1m13 0h1m-.5 0h1m-.5 0h1m-.5 0h1m0 0h1m-.5 0h1m-.5 0h1m-.5 0h1m0 0h1m-.5 0h1m-.5 0h1m.5 0h1m0 0h1m6.5 0h1m-22.5 .5h1m1.5 0h1m3.5 0h1m.5 0h1m-.5 0h1m1 0h1m-.5 0h1m-.5 0h1m0 0h1m-.5 0h1m2 0h1m-.5 0h1m34.5 0h1m-66.5 .5h1m15 0h1m.5 0h1m0 0h1m.5 0h1m0 0h1m-.5 0h1m-.5 0h1m0 0h1m.5 0h1m-.5 0h1m0 0h1m-.5 0h1m1.5 0h1m13.5 0h1m-56.5 .5h1m21.5 0h1m1 0h1m-.5 0h1m2.5 0h1m3.5 0h1m0 0h1m0 0h1m0 0h1m5 0h1m-23.5 .5h1m10 0h1m0 0h1m.5 0h1m1 0h1m.5 0h1m0 0h1m-17 .5h1m1.5 0h1m1 0h1m3.5 0h1m1.5 0h1m-.5 0h1m1.5 0h1m21 0h1m-34.5 .5h1m2 0h1m0 0h1m-.5 0h1m1.5 0h1m0 0h1m1 0h1m0 0h1m0 0h1m-.5 0h1m-.5 0h1m24.5 0h1m-61 .5h1m22 0h1m0 0h1m1.5 0h1m2.5 0h1m0 0h1m1 0h1m1 0h1m-.5 0h1m1 0h1m14.5 0h1m-45 .5h1m21.5 0h1m1.5 0h1m7.5 0h1m-25.5 .5h1m2.5 0h1m7.5 0h1m1.5 0h1m1 0h1m-.5 0h1m2.5 0h1m-34.5 1h1m21 0h1m6 0h1m23.5 0h1m18.5 0h1m-80 .5h1m33.5 0h1m33 0h1m9 .5h1m-35.5 .5h1m-34 1h1m0 0h1m1.5 0h1m5 0h1m14 0h1m1 0h1m-7 .5h1m-.5 0h1m2.5 0h1m0 0h1m2.5 0h1m-40.5 .5h1m28 0h1m1.5 0h1m-.5 0h1m-.5 0h1m1.5 0h1m46 0h1m-66 .5h1m13 0h1m-.5 0h1m43.5 0h1m-55.5 .5h1m7.5 0h1m1 0h1m-.5 0h1m-11.5 .5h1m4.5 0h1m5 0h1m19 0h1m-44.5 .5h1m14.5 0h1m-.5 0h1m-12 .5h1m-.5 0h1m13.5 0h1m.5 0h1m44.5 0h1m-72.5 .5h1m6 0h1m14.5 0h1m-.5 0h1m43.5 0h1m-47.5 .5h1m8.5 0h1m-23 .5h1m7 0h1m6.5 0h1m.5 0h1m38 0h1m-41.5 .5h1m.5 0h1m-.5 0h1m.5 0h1m14 0h1m-50.5 .5h1m9 0h1m4 0h1m1.5 0h1m-9 .5h1m7 0h1m-.5 0h1m1 0h1m2.5 0h1m7 0h1m-17 .5h1m2 0h1m8 0h1m-.5 0h1m3 0h1m3 0h1m-33 .5h1m12 0h1m1.5 0h1m0 0h1m5.5 0h1m0 0h1m1 0h1m3 0h1m15.5 0h1m6 0h1m11.5 0h1m-64 .5h1m15 0h1m4 0h1m-.5 0h1m2.5 0h1m12 0h1m-34.5 .5h1m9 .5h1m-.5 0h1m3 0h1m.5 0h1m8 0h1m-21 .5h1m-.5 0h1m0 0h1m4 0h1m1 0h1m-26 .5h1m14.5 0h1m4 0h1m.5 0h1m-.5 0h1m2 0h1m6.5 0h1m0 0h1m0 0h1m-26.5 .5h1m0 0h1m7.5 0h1m-.5 0h1m3.5 0h1m8 0h1m3 0h1m-24.5 .5h1m3.5 0h1m2 0h1m2 0h1m0 0h1m3 0h1m-.5 0h1m-.5 0h1m1.5 0h1m6.5 0h1m-.5 0h1m-26 .5h1m1 0h1m-.5 0h1m-.5 0h1m2 0h1m2.5 0h1m0 0h1m0 0h1m0 0h1m3 0h1m23 0h1m18 0h1m-60 .5h1m2 0h1m0 0h1m2.5 0h1m.5 0h1m1.5 0h1m0 0h1m2.5 0h1m-25 .5h1m3 0h1m2 0h1m.5 0h1m0 0h1m-.5 0h1m1 0h1m.5 0h1m0 0h1m0 0h1m.5 0h1m.5 0h1m0 0h1m0 0h1m-.5 0h1m0 0h1m-.5 0h1m1 0h1m4 0h1m-30.5 .5h1m10 0h1m.5 0h1m0 0h1m-.5 0h1m-.5 0h1m0 0h1m-.5 0h1m-.5 0h1m-.5 0h1m.5 0h1m0 0h1m-.5 0h1m-.5 0h1m-.5 0h1m-.5 0h1m0 0h1m0 0h1m1 0h1m4 0h1m0 0h1m32 0h1m-55.5 .5h1m1 0h1m0 0h1m-.5 0h1m-.5 0h1m1 0h1m.5 0h1m0 0h1m2 0h1m-.5 0h1m-.5 0h1m1 0h1m1 0h1m-25 .5h1m6.5 0h1m1.5 0h1m.5 0h1m1.5 0h1m-.5 0h1m0 0h1m-.5 0h1m-.5 0h1m-.5 0h1m-.5 0h1m-.5 0h1m-.5 0h1m-.5 0h1m-.5 0h1m1.5 0h1m-19.5 .5h1m-.5 0h1m-.5 0h1m1 0h1m0 0h1m2 0h1m-.5 0h1m0 0h1m0 0h1m3 0h1m-.5 0h1m0 0h1m1 0h1m0 0h1m2.5 0h1m.5 0h1m4.5 0h1m-.5 0h1m5.5 0h1m7.5 0h1m-51 .5h1m3 0h1m.5 0h1m2 0h1m-.5 0h1m-.5 0h1m-.5 0h1m0 0h1m.5 0h1m-.5 0h1m0 0h1m-.5 0h1m0 0h1m0 0h1m0 0h1m0 0h1m.5 0h1m.5 0h1m1.5 0h1m40.5 0h1m-70.5 .5h1m8.5 0h1m4 0h1m.5 0h1m-.5 0h1m.5 0h1m-.5 0h1m0 0h1m0 0h1m-.5 0h1m1 0h1m1 0h1m1 0h1m-.5 0h1m1 0h1m-.5 0h1m20.5 0h1m9 0h1m-55 .5h1m-.5 0h1m0 0h1m1 0h1m0 0h1m2 0h1m0 0h1m-.5 0h1m0 0h1m-.5 0h1m0 0h1m1.5 0h1m-.5 0h1m0 0h1m-.5 0h1m-.5 0h1m0 0h1m-.5 0h1m-.5 0h1m-.5 0h1m.5 0h1m-.5 0h1m0 0h1m0 0h1m.5 0h1m6 0h1m-44 .5h1m2 0h1m4.5 0h1m.5 0h1m3 0h1m.5 0h1m2.5 0h1m0 0h1m-.5 0h1m0 0h1m0 0h1m0 0h1m0 0h1m.5 0h1m.5 0h1m-.5 0h1m1 0h1m0 0h1m0 0h1m.5 0h1m.5 0h1m22.5 0h1m15 0h1m-75 .5h1m11.5 0h1m0 0h1m1 0h1m2 0h1m0 0h1m.5 0h1m0 0h1m1 0h1m-.5 0h1m-.5 0h1m-.5 0h1m.5 0h1m2.5 0h1m-.5 0h1m-.5 0h1m0 0h1m-.5 0h1m30.5 0h1m-57.5 .5h1m.5 0h1m0 0h1m-.5 0h1m3.5 0h1m1 0h1m-.5 0h1m-.5 0h1m1 0h1m-.5 0h1m0 0h1m-.5 0h1m-.5 0h1m-.5 0h1m-.5 0h1m-.5 0h1m0 0h1m0 0h1m-.5 0h1m-.5 0h1m-.5 0h1m-.5 0h1m-.5 0h1m1 0h1m0 0h1m3 0h1m1 0h1m2.5 0h1m-32 .5h1m-.5 0h1m1.5 0h1m0 0h1m.5 0h1m-.5 0h1m-.5 0h1m-.5 0h1m0 0h1m0 0h1m2 0h1m0 0h1m-.5 0h1m-.5 0h1m0 0h1m-.5 0h1m-.5 0h1m-.5 0h1m-.5 0h1m-.5 0h1m0 0h1m0 0h1m-.5 0h1m.5 0h1m-25.5 .5h1m5.5 0h1m1.5 0h1m1 0h1m-.5 0h1m-.5 0h1m-.5 0h1m0 0h1m.5 0h1m0 0h1m-.5 0h1m-.5 0h1m-.5 0h1m0 0h1m.5 0h1m-.5 0h1m-.5 0h1m-.5 0h1m-.5 0h1m0 0h1m0 0h1m6.5 0h1m-33.5 .5h1m.5 0h1m.5 0h1m0 0h1m0 0h1m2.5 0h1m2 0h1m0 0h1m-.5 0h1m-.5 0h1m-.5 0h1m-.5 0h1m-.5 0h1m.5 0h1m-.5 0h1m-.5 0h1m-.5 0h1m-.5 0h1m-.5 0h1m-.5 0h1m0 0h1m-.5 0h1m-.5 0h1m0 0h1m.5 0h1m.5 0h1m3 0h1m3.5 0h1m11 0h1m-51 .5h1m5.5 0h1m1.5 0h1m3.5 0h1m-.5 0h1m2 0h1m-.5 0h1m-.5 0h1m0 0h1m-.5 0h1m-.5 0h1m0 0h1m-.5 0h1m-.5 0h1m0 0h1m-.5 0h1m-.5 0h1m0 0h1m-.5 0h1m-.5 0h1m-.5 0h1m-.5 0h1m-.5 0h1m-.5 0h1m.5 0h1m1 0h1m7.5 0h1m2 0h1m23 0h1m-64.5 .5h1m2 0h1m-.5 0h1m3.5 0h1m0 0h1m-.5 0h1m-.5 0h1m0 0h1m0 0h1m0 0h1m-.5 0h1m-.5 0h1m0 0h1m-.5 0h1m-.5 0h1m-.5 0h1m-.5 0h1m-.5 0h1m-.5 0h1m-.5 0h1m-.5 0h1m-.5 0h1m0 0h1m-.5 0h1m-.5 0h1m-.5 0h1m-.5 0h1m-.5 0h1m-.5 0h1m1.5 0h1m.5 0h1m1 0h1m0 0h1m0 0h1m-34 .5h1m3.5 0h1m4.5 0h1m-.5 0h1m1 0h1m0 0h1m.5 0h1m-.5 0h1m-.5 0h1m-.5 0h1m0 0h1m-.5 0h1m-.5 0h1m-.5 0h1m-.5 0h1m-.5 0h1m-.5 0h1m-.5 0h1m-.5 0h1m-.5 0h1m0 0h1m0 0h1m.5 0h1m-.5 0h1m0 0h1m-.5 0h1m-.5 0h1m-.5 0h1m.5 0h1m1 0h1m-24.5 .5h1m-.5 0h1m3 0h1m-.5 0h1m0 0h1m0 0h1m0 0h1m-.5 0h1m-.5 0h1m-.5 0h1m-.5 0h1m-.5 0h1m-.5 0h1m-.5 0h1m-.5 0h1m-.5 0h1m-.5 0h1m-.5 0h1m-.5 0h1m-.5 0h1m-.5 0h1m-.5 0h1m-.5 0h1m-.5 0h1m-.5 0h1m-.5 0h1m-.5 0h1m-.5 0h1m1.5 0h1m0 0h1m2.5 0h1m-.5 0h1m16 0h1m1.5 0h1m-50 .5h1m.5 0h1m4 0h1m-.5 0h1m0 0h1m-.5 0h1m-.5 0h1m0 0h1m0 0h1m-.5 0h1m0 0h1m.5 0h1m-.5 0h1m0 0h1m-.5 0h1m-.5 0h1m-.5 0h1m-.5 0h1m-.5 0h1m-.5 0h1m-.5 0h1m-.5 0h1m.5 0h1m-.5 0h1m0 0h1m2.5 0h1m29 0h1m-60 .5h1m-.5 0h1m0 0h1m1.5 0h1m.5 0h1m-.5 0h1m2 0h1m-.5 0h1m-.5 0h1m-.5 0h1m0 0h1m-.5 0h1m0 0h1m1 0h1m-.5 0h1m-.5 0h1m-.5 0h1m-.5 0h1m-.5 0h1m-.5 0h1m0 0h1m-.5 0h1m-.5 0h1m-.5 0h1m-.5 0h1m-.5 0h1m-.5 0h1m-.5 0h1m0 0h1m.5 0h1m-.5 0h1m-.5 0h1m-.5 0h1m.5 0h1m1.5 0h1m4.5 0h1m-32.5 .5h1m.5 0h1m0 0h1m.5 0h1m-.5 0h1m-.5 0h1m1 0h1m0 0h1m0 0h1m-.5 0h1m0 0h1m-.5 0h1m-.5 0h1m0 0h1m-.5 0h1m-.5 0h1m-.5 0h1m-.5 0h1m-.5 0h1m-.5 0h1m-.5 0h1m0 0h1m0 0h1m1.5 0h1m-.5 0h1m1.5 0h1m.5 0h1m2.5 0h1m-.5 0h1m28 0h1m-63.5 .5h1m2 0h1m0 0h1m1 0h1m1.5 0h1m-.5 0h1m-.5 0h1m-.5 0h1m-.5 0h1m-.5 0h1m1 0h1m-.5 0h1m-.5 0h1m-.5 0h1m-.5 0h1m-.5 0h1m0 0h1m-.5 0h1m-.5 0h1m-.5 0h1m-.5 0h1m-.5 0h1m-.5 0h1m1.5 0h1m-.5 0h1m0 0h1m-.5 0h1m0 0h1m0 0h1m-.5 0h1m.5 0h1m1 0h1m5.5 0h1m-41 .5h1m3.5 0h1m3 0h1m2.5 0h1m.5 0h1m-.5 0h1m-.5 0h1m-.5 0h1m1.5 0h1m0 0h1m-.5 0h1m-.5 0h1m-.5 0h1m-.5 0h1m-.5 0h1m-.5 0h1m0 0h1m-.5 0h1m-.5 0h1m-.5 0h1m-.5 0h1m-.5 0h1m-.5 0h1m-.5 0h1m-.5 0h1m-.5 0h1m-.5 0h1m-.5 0h1m2 0h1m-.5 0h1m1 0h1m1.5 0h1m-28.5 .5h1m2 0h1m1 0h1m.5 0h1m-.5 0h1m0 0h1m-.5 0h1m-.5 0h1m-.5 0h1m0 0h1m-.5 0h1m-.5 0h1m-.5 0h1m-.5 0h1m-.5 0h1m-.5 0h1m0 0h1m-.5 0h1m-.5 0h1m-.5 0h1m-.5 0h1m0 0h1m-.5 0h1m-.5 0h1m-.5 0h1m.5 0h1m-.5 0h1m1 0h1m0 0h1m2 0h1m23 0h1m-52 .5h1m-.5 0h1m0 0h1m3 0h1m.5 0h1m-.5 0h1m-.5 0h1m0 0h1m-.5 0h1m-.5 0h1m-.5 0h1m-.5 0h1m-.5 0h1m-.5 0h1m.5 0h1m-.5 0h1m-.5 0h1m-.5 0h1m-.5 0h1m0 0h1m.5 0h1m-.5 0h1m-.5 0h1m-.5 0h1m-.5 0h1m-.5 0h1m3.5 0h1m1 0h1m-34.5 .5h1m-.5 0h1m1.5 0h1m2.5 0h1m-.5 0h1m3 0h1m0 0h1m0 0h1m.5 0h1m-.5 0h1m0 0h1m-.5 0h1m-.5 0h1m-.5 0h1m0 0h1m0 0h1m-.5 0h1m-.5 0h1m0 0h1m-.5 0h1m-.5 0h1m-.5 0h1m-.5 0h1m0 0h1m-.5 0h1m0 0h1m-.5 0h1m1 0h1m2 0h1m-.5 0h1m-.5 0h1m.5 0h1m0 0h1m30.5 0h1m10.5 0h1m-77 .5h1m1 0h1m-.5 0h1m2 0h1m2.5 0h1m.5 0h1m0 0h1m-.5 0h1m0 0h1m-.5 0h1m-.5 0h1m1.5 0h1m-.5 0h1m-.5 0h1m-.5 0h1m-.5 0h1m-.5 0h1m-.5 0h1m-.5 0h1m-.5 0h1m-.5 0h1m-.5 0h1m-.5 0h1m.5 0h1m.5 0h1m4 0h1m2 0h1m-42 .5h1m4.5 0h1m0 0h1m3.5 0h1m0 0h1m-.5 0h1m2 0h1m-.5 0h1m2 0h1m-.5 0h1m0 0h1m-.5 0h1m0 0h1m0 0h1m0 0h1m-.5 0h1m-.5 0h1m.5 0h1m-.5 0h1m-.5 0h1m0 0h1m-.5 0h1m-.5 0h1m-.5 0h1m.5 0h1m-.5 0h1m0 0h1m-.5 0h1m-.5 0h1m-.5 0h1m-.5 0h1m.5 0h1m39 0h1m-71 .5h1m1 0h1m3 0h1m2 0h1m1.5 0h1m0 0h1m0 0h1m-.5 0h1m-.5 0h1m-.5 0h1m0 0h1m-.5 0h1m-.5 0h1m0 0h1m-.5 0h1m-.5 0h1m-.5 0h1m0 0h1m-.5 0h1m0 0h1m0 0h1m0 0h1m-.5 0h1m-.5 0h1m.5 0h1m4.5 0h1m6.5 0h1m-39 .5h1m4 0h1m-.5 0h1m1.5 0h1m-.5 0h1m-.5 0h1m-.5 0h1m0 0h1m1 0h1m-.5 0h1m0 0h1m-.5 0h1m-.5 0h1m-.5 0h1m-.5 0h1m-.5 0h1m-.5 0h1m-.5 0h1m-.5 0h1m.5 0h1m-.5 0h1m-.5 0h1m-.5 0h1m-.5 0h1m0 0h1m0 0h1m0 0h1m.5 0h1m4.5 0h1m8 0h1m-40.5 .5h1m7.5 0h1m-.5 0h1m-.5 0h1m1 0h1m-.5 0h1m0 0h1m-.5 0h1m.5 0h1m0 0h1m0 0h1m-.5 0h1m-.5 0h1m1 0h1m-.5 0h1m.5 0h1m0 0h1m0 0h1m0 0h1m1.5 0h1m0 0h1m-.5 0h1m1.5 0h1m-30 .5h1m1 0h1m1.5 0h1m-.5 0h1m-.5 0h1m0 0h1m2.5 0h1m0 0h1m-.5 0h1m-.5 0h1m0 0h1m-.5 0h1m0 0h1m-.5 0h1m-.5 0h1m-.5 0h1m0 0h1m.5 0h1m0 0h1m1 0h1m12 0h1m36.5 0h1m-78.5 .5h1m4 0h1m-.5 0h1m0 0h1m5 0h1m-.5 0h1m-.5 0h1m0 0h1m-.5 0h1m-.5 0h1m0 0h1m0 0h1m0 0h1m-.5 0h1m0 0h1m-.5 0h1m2 0h1m1.5 0h1m-.5 0h1m-.5 0h1m4.5 0h1m-32.5 .5h1m8.5 0h1m.5 0h1m1.5 0h1m-.5 0h1m0 0h1m1 0h1m1 0h1m1 0h1m-.5 0h1m1.5 0h1m0 0h1m3.5 0h1m8 0h1m-41 .5h1m8 0h1m.5 0h1m.5 0h1m.5 0h1m-.5 0h1m4.5 0h1m1 0h1m1 0h1m.5 0h1m-.5 0h1m1.5 0h1m3.5 0h1m-26 .5h1m.5 0h1m-.5 0h1m2.5 0h1m-.5 0h1m-.5 0h1m0 0h1m2.5 0h1m-.5 0h1m1.5 0h1m-.5 0h1m0 0h1m0 0h1m1.5 0h1m0 0h1m1.5 0h1m4 0h1m-29.5 .5h1m.5 0h1m1.5 0h1m1.5 0h1m-.5 0h1m0 0h1m-.5 0h1m1 0h1m3 0h1m-.5 0h1m.5 0h1m0 0h1m0 0h1m1.5 0h1m2 0h1m0 0h1m14.5 0h1m-43.5 .5h1m1 0h1m3.5 0h1m-.5 0h1m1.5 0h1m-.5 0h1m0 0h1m.5 0h1m-.5 0h1m1.5 0h1m.5 0h1m-.5 0h1m.5 0h1m0 0h1m2 0h1m.5 0h1m.5 0h1m4.5 0h1m.5 0h1m4.5 0h1m-42.5 .5h1m4 0h1m0 0h1m1 0h1m-.5 0h1m3 0h1m0 0h1m5 0h1m.5 0h1m-.5 0h1m4.5 0h1m-18.5 .5h1m6.5 0h1m.5 0h1m0 0h1m2 0h1m.5 0h1m0 0h1m1 0h1m2.5 0h1m4.5 0h1m5 0h1m20 0h1m-62.5 .5h1m2 0h1m1.5 0h1m.5 0h1m5 0h1m-.5 0h1m-.5 0h1m-.5 0h1m1 0h1m4 0h1m1 0h1m7.5 0h1m19 0h1m17 0h1m-72.5 .5h1m5 0h1m3 0h1m.5 0h1m-.5 0h1m2 0h1m7 0h1m-.5 0h1m.5 0h1m0 0h1m-15 .5h1m0 0h1m-.5 0h1m-.5 0h1m0 0h1m1 0h1m-.5 0h1m5 0h1m-.5 0h1m4.5 0h1m6.5 0h1m-38.5 .5h1m10 0h1m4 0h1m1 0h1m0 0h1m1.5 0h1m-.5 0h1m-.5 0h1m5.5 0h1m-27 .5h1m2.5 0h1m4.5 0h1m3 0h1m.5 0h1m4.5 0h1m0 0h1m5 0h1m.5 0h1m2 0h1m4.5 0h1m-40 .5h1m1 0h1m5.5 0h1m-.5 0h1m2 0h1m-.5 0h1m.5 0h1m0 0h1m1 0h1m7 0h1m4 0h1m1 0h1m15 0h1m3 0h1m-48 .5h1m7.5 0h1m1.5 0h1m0 0h1m-.5 0h1m-.5 0h1m0 0h1m0 0h1m-.5 0h1m1 0h1m5 0h1m10 0h1m6 0h1m-45.5 .5h1m3 0h1m.5 0h1m-.5 0h1m2 0h1m3 0h1m3.5 0h1m.5 0h1m.5 0h1m1 0h1m6 0h1m13 0h1m-50.5 .5h1m6 0h1m1 0h1m4.5 0h1m0 0h1m0 0h1m-.5 0h1m5.5 0h1m0 0h1m1 0h1m5 0h1m30.5 0h1m2 0h1m-67.5 .5h1m7.5 0h1m4.5 0h1m5.5 0h1m2 0h1m-14 .5h1m3.5 0h1m1 0h1m0 0h1m1.5 0h1m-.5 0h1m9 0h1m24 0h1m1.5 0h1m-43.5 .5h1m4 0h1m2 0h1m-.5 0h1m0 0h1m43.5 0h1m-63.5 .5h1m3 0h1m31.5 0h1m-40.5 .5h1m22 0h1m6.5 0h1m-20.5 .5h1m4 0h1m8 0h1m2 0h1m-.5 0h1m30 0h1m-44 .5h1m12 0h1m28 0h1m-36.5 .5h1m-3 .5h1m3.5 0h1m2.5 0h1m10.5 0h1m25.5 0h1m-65.5 .5h1m5.5 0h1m14 0h1m3.5 0h1m3 0h1m-27.5 .5h1m6 0h1m47 0h1m-44.5 .5h1m30.5 0h1m-38.5 .5h1m0 0h1m49 0h1m-12 .5h1m-50.5 .5h1m0 0h1m17 0h1m1 0h1m-17 .5h1m11 .5h1m19.5 0h1m-2 .5h1m-46.5 .5h1m41 0h1m25.5 0h1m11.5 0h1m-56 .5h1m3 0h1m-6.5 .5h1m-16.5 2h1m.5 0h1m7.5 .5h1m-20 1h1m49.5 0h1m19 .5h1m4.5 .5h1m-64.5 .5h1m59.5 0h1m-62.5 .5h1m23 .5h1m38 0h1m-70.5 .5h1m60.5 0h1m-36 .5h1" stroke="#161616" stroke-width="0.9" stroke-opacity="0.48"/>
<g filter="url(#b1)"><ellipse cx="80.5" cy="877.5" rx="3.375" ry="3.6" fill="#222" opacity="0.45"/><ellipse cx="89" cy="844.5" rx="2.25" ry="2.0" fill="#000" opacity="0.7"/></g>
<rect x="52.8" y="821.2" width="89.2" height="89.2" fill="none" stroke="#b4b4b4" stroke-width="0.8"/>
<line x1="52.8" y1="821.2" x2="52.8" y2="910.5" stroke="#555" stroke-width="0.9" />
<line x1="52.8" y1="910.5" x2="142" y2="910.5" stroke="#555" stroke-width="0.9" />
<path d="M50.8 829.5h2M50.8 846h2M50.8 862.5h2M50.8 879h2M50.8 894.5h2M50.8 910h2M61 910.5v2M76.5 910.5v2M92.5 910.5v2M108.8 910.5v2M125 910.5v2" stroke="#333" stroke-width="0.9"/>
<path d="M51.6 841h1.2M51.6 838.1h1.2M51.6 836.1h1.2M51.6 834.5h1.2M51.6 833.2h1.2M51.6 832.1h1.2M51.6 831.1h1.2M51.6 830.3h1.2M51.6 857.5h1.2M51.6 854.6h1.2M51.6 852.6h1.2M51.6 851h1.2M51.6 849.7h1.2M51.6 848.6h1.2M51.6 847.6h1.2M51.6 846.8h1.2M51.6 874h1.2M51.6 871.1h1.2M51.6 869.1h1.2M51.6 867.5h1.2M51.6 866.2h1.2M51.6 865.1h1.2M51.6 864.1h1.2M51.6 863.3h1.2M51.6 889.8h1.2M51.6 887.1h1.2M51.6 885.2h1.2M51.6 883.7h1.2M51.6 882.4h1.2M51.6 881.4h1.2M51.6 880.5h1.2M51.6 879.7h1.2M51.6 905.3h1.2M51.6 902.6h1.2M51.6 900.7h1.2M51.6 899.2h1.2M51.6 897.9h1.2M51.6 896.9h1.2M51.6 896h1.2M51.6 895.2h1.2M52.9 910.5v1.2M54.8 910.5v1.2M56.3 910.5v1.2M57.6 910.5v1.2M58.6 910.5v1.2M59.5 910.5v1.2M60.3 910.5v1.2M65.7 910.5v1.2M68.4 910.5v1.2M70.3 910.5v1.2M71.8 910.5v1.2M73.1 910.5v1.2M74.1 910.5v1.2M75 910.5v1.2M75.8 910.5v1.2M81.3 910.5v1.2M84.1 910.5v1.2M86.1 910.5v1.2M87.7 910.5v1.2M89 910.5v1.2M90 910.5v1.2M90.9 910.5v1.2M91.8 910.5v1.2M97.4 910.5v1.2M100.3 910.5v1.2M102.3 910.5v1.2M103.9 910.5v1.2M105.1 910.5v1.2M106.2 910.5v1.2M107.2 910.5v1.2M108 910.5v1.2M113.6 910.5v1.2M116.5 910.5v1.2M118.5 910.5v1.2M120.1 910.5v1.2M121.4 910.5v1.2M122.5 910.5v1.2M123.4 910.5v1.2M124.3 910.5v1.2" stroke="#666" stroke-width="0.6"/>
<text transform="translate(35.7,832.1) scale(1.08,1)" font-size="7.4" fill="#0a0a0a">10<tspan dy="-2.6" font-size="5.6">5</tspan></text>
<text transform="translate(35.7,848.6) scale(1.08,1)" font-size="7.4" fill="#0a0a0a">10<tspan dy="-2.6" font-size="5.6">4</tspan></text>
<text transform="translate(35.7,865.1) scale(1.08,1)" font-size="7.4" fill="#0a0a0a">10<tspan dy="-2.6" font-size="5.6">3</tspan></text>
<text transform="translate(35.7,881.6) scale(1.08,1)" font-size="7.4" fill="#0a0a0a">10<tspan dy="-2.6" font-size="5.6">2</tspan></text>
<text transform="translate(35.7,897.1) scale(1.08,1)" font-size="7.4" fill="#0a0a0a">10<tspan dy="-2.6" font-size="5.6">1</tspan></text>
<text transform="translate(35.7,912.6) scale(1.08,1)" font-size="7.4" fill="#0a0a0a">10<tspan dy="-2.6" font-size="5.6">0</tspan></text>
<text transform="translate(56.7,923.3) scale(1.08,1)" font-size="7.2" fill="#0a0a0a">10<tspan dy="-2.6" font-size="5.5">1</tspan></text>
<text transform="translate(72.2,923.3) scale(1.08,1)" font-size="7.2" fill="#0a0a0a">10<tspan dy="-2.6" font-size="5.5">2</tspan></text>
<text transform="translate(88.2,923.3) scale(1.08,1)" font-size="7.2" fill="#0a0a0a">10<tspan dy="-2.6" font-size="5.5">3</tspan></text>
<text transform="translate(104.4,923.3) scale(1.08,1)" font-size="7.2" fill="#0a0a0a">10<tspan dy="-2.6" font-size="5.5">4</tspan></text>
<text transform="translate(120.7,923.3) scale(1.08,1)" font-size="7.2" fill="#0a0a0a">10<tspan dy="-2.6" font-size="5.5">5</tspan></text>
<rect x="73.8" y="831.2" width="27.5" height="22.5" fill="none" stroke="#444" stroke-width="0.9"/>
<rect x="111" y="866.2" width="25.2" height="26.8" fill="none" stroke="#444" stroke-width="0.9"/>
<text x="69" y="826.8" font-size="4" text-anchor="middle" fill="#0a0a0a" >Mouse CD45</text>
<text x="67.5" y="832.3" font-size="4" text-anchor="middle" fill="#0a0a0a" >15.0</text>
<text x="102.2" y="842" font-size="7.5" text-anchor="start" fill="#0a0a0a" >15%</text>
<text x="112.6" y="890.5" font-size="7.6" text-anchor="start" fill="#0a0a0a" >0.24%</text>
<text x="124" y="899.8" font-size="4" text-anchor="middle" fill="#0a0a0a" >Human CD45</text>
<text x="124" y="905" font-size="4" text-anchor="middle" fill="#0a0a0a" >0.24</text>
<text x="208.9" y="813.3" font-size="10.5" text-anchor="middle" fill="#0a0a0a" textLength="42.7" lengthAdjust="spacingAndGlyphs">5 months</text>
<path d="M188 822.5h1m2.5 0h1m14.5 0h1m22.5 0h1m-58 .5h1m16.5 0h1m10 0h1m22 0h1m10 1.5h1m-6.5 1h1m8 0h1m2.5 .5h1m-49.5 .5h1m24 .5h1m-27.5 .5h1m42 0h1m-29.5 .5h1m31 0h1m-54.5 .5h1m15 0h1m-13 .5h1m13 1h1m-30 1.5h1m66.5 0h1m-14 1.5h1m2 .5h1m-66.5 .5h1m18 0h1m-15 1.5h1m10 0h1m29.5 0h1m23.5 0h1m-49 .5h1m22.5 0h1m2.5 0h1m.5 0h1m-21 .5h1m15.5 0h1m30 0h1m-51.5 .5h1m24.5 .5h1m18 0h1m-43 .5h1m5.5 0h1m-11 .5h1m.5 0h1m2 0h1m11.5 0h1m28 0h1m-50 .5h1m18.5 0h1m40 0h1m-82 .5h1m19 0h1m1 0h1m42 0h1m1.5 0h1m-47 .5h1m-8 .5h1m7.5 0h1m3.5 0h1m16.5 0h1m5.5 0h1m-17.5 .5h1m-19 .5h1m6 0h1m14.5 0h1m17 0h1m-35.5 .5h1m14.5 0h1m-.5 0h1m-24 .5h1m9.5 0h1m2.5 0h1m1 0h1m-.5 0h1m-.5 0h1m4 0h1m-44.5 .5h1m27.5 0h1m1 0h1m5.5 0h1m1.5 0h1m0 0h1m-29 .5h1m1.5 0h1m15 0h1m0 0h1m6.5 0h1m19.5 0h1m.5 0h1m-41 .5h1m.5 0h1m4.5 0h1m2 0h1m6 0h1m.5 0h1m4.5 0h1m28.5 0h1m-60.5 .5h1m6.5 0h1m.5 0h1m1 0h1m0 0h1m.5 0h1m0 0h1m.5 0h1m5.5 0h1m32 0h1m-42 .5h1m-.5 0h1m2 0h1m1 0h1m8.5 0h1m-.5 0h1m35 0h1m-54 .5h1m1.5 0h1m-.5 0h1m.5 0h1m-.5 0h1m1.5 0h1m2.5 0h1m21 0h1m-42.5 .5h1m6.5 0h1m1.5 0h1m.5 0h1m-.5 0h1m0 0h1m0 0h1m-.5 0h1m-.5 0h1m-.5 0h1m0 0h1m-.5 0h1m46.5 0h1m-57 .5h1m1.5 0h1m-.5 0h1m.5 0h1m-.5 0h1m-.5 0h1m-.5 0h1m2 0h1m.5 0h1m3 0h1m-23 .5h1m5 0h1m.5 0h1m-.5 0h1m-.5 0h1m2 0h1m-.5 0h1m.5 0h1m-.5 0h1m-.5 0h1m0 0h1m-.5 0h1m1 0h1m.5 0h1m12 0h1m-37 .5h1m3.5 0h1m1.5 0h1m0 0h1m1 0h1m2.5 0h1m.5 0h1m1 0h1m0 0h1m0 0h1m-.5 0h1m2.5 0h1m17.5 0h1m-54 .5h1m4.5 0h1m10.5 0h1m4 0h1m-.5 0h1m-.5 0h1m1 0h1m-.5 0h1m-.5 0h1m-.5 0h1m.5 0h1m-.5 0h1m-.5 0h1m0 0h1m1.5 0h1m2.5 0h1m2.5 0h1m1.5 0h1m-35 .5h1m.5 0h1m2 0h1m8 0h1m.5 0h1m-.5 0h1m.5 0h1m.5 0h1m-.5 0h1m1 0h1m0 0h1m1.5 0h1m.5 0h1m33.5 0h1m-67 .5h1m11.5 0h1m5 0h1m0 0h1m-.5 0h1m0 0h1m-.5 0h1m-.5 0h1m-.5 0h1m-.5 0h1m-.5 0h1m-.5 0h1m-.5 0h1m-.5 0h1m0 0h1m-.5 0h1m-.5 0h1m-.5 0h1m-.5 0h1m-.5 0h1m1.5 0h1m-.5 0h1m32.5 0h1m-72.5 .5h1m16 0h1m5 0h1m.5 0h1m.5 0h1m0 0h1m0 0h1m0 0h1m-.5 0h1m-.5 0h1m-.5 0h1m0 0h1m-.5 0h1m-.5 0h1m-.5 0h1m-.5 0h1m-.5 0h1m1.5 0h1m-.5 0h1m-33.5 .5h1m14.5 0h1m5.5 0h1m-.5 0h1m0 0h1m-.5 0h1m-.5 0h1m-.5 0h1m-.5 0h1m-.5 0h1m-.5 0h1m-.5 0h1m0 0h1m-.5 0h1m.5 0h1m-.5 0h1m1 0h1m-22 .5h1m4.5 0h1m5 0h1m-.5 0h1m-.5 0h1m-.5 0h1m.5 0h1m-.5 0h1m0 0h1m0 0h1m0 0h1m-.5 0h1m2 0h1m0 0h1m37.5 0h1m-62.5 .5h1m6.5 0h1m1 0h1m.5 0h1m-.5 0h1m-.5 0h1m-.5 0h1m-.5 0h1m-.5 0h1m-.5 0h1m-.5 0h1m-.5 0h1m-.5 0h1m-.5 0h1m1 0h1m.5 0h1m-.5 0h1m1.5 0h1m4.5 0h1m14 0h1m-33.5 .5h1m-.5 0h1m0 0h1m-.5 0h1m-.5 0h1m-.5 0h1m-.5 0h1m-.5 0h1m-.5 0h1m0 0h1m-.5 0h1m-.5 0h1m-.5 0h1m5 0h1m.5 0h1m-30.5 .5h1m3.5 0h1m7.5 0h1m.5 0h1m0 0h1m1 0h1m-.5 0h1m.5 0h1m-.5 0h1m0 0h1m-.5 0h1m-.5 0h1m-.5 0h1m0 0h1m-.5 0h1m-.5 0h1m-.5 0h1m2.5 0h1m0 0h1m16 0h1m19 0h1m-61.5 .5h1m3 0h1m0 0h1m0 0h1m.5 0h1m2 0h1m-.5 0h1m-.5 0h1m-.5 0h1m-.5 0h1m-.5 0h1m-.5 0h1m-.5 0h1m-.5 0h1m-.5 0h1m0 0h1m-.5 0h1m-.5 0h1m0 0h1m-.5 0h1m-.5 0h1m3 0h1m1 0h1m-22 .5h1m3 0h1m-.5 0h1m2 0h1m0 0h1m-.5 0h1m-.5 0h1m-.5 0h1m-.5 0h1m1 0h1m0 0h1m-.5 0h1m1.5 0h1m4.5 0h1m16 0h1m6.5 0h1m-62 .5h1m8.5 0h1m3.5 0h1m2.5 0h1m1 0h1m0 0h1m-.5 0h1m1.5 0h1m-.5 0h1m-.5 0h1m-.5 0h1m0 0h1m-.5 0h1m-.5 0h1m0 0h1m.5 0h1m-.5 0h1m2.5 0h1m-26.5 .5h1m5 0h1m3 0h1m0 0h1m0 0h1m-.5 0h1m-.5 0h1m-.5 0h1m-.5 0h1m-.5 0h1m.5 0h1m4 0h1m0 0h1m-15 .5h1m2 0h1m0 0h1m0 0h1m1.5 0h1m-.5 0h1m.5 0h1m0 0h1m0 0h1m-.5 0h1m-.5 0h1m.5 0h1m.5 0h1m-.5 0h1m5 0h1m-23.5 .5h1m3.5 0h1m1.5 0h1m-.5 0h1m-.5 0h1m-.5 0h1m-.5 0h1m0 0h1m2.5 0h1m-.5 0h1m1 0h1m-24.5 .5h1m3 0h1m4 0h1m.5 0h1m-.5 0h1m.5 0h1m.5 0h1m1.5 0h1m.5 0h1m-.5 0h1m.5 0h1m.5 0h1m0 0h1m-.5 0h1m-22.5 .5h1m4.5 0h1m0 0h1m1 0h1m-.5 0h1m2 0h1m.5 0h1m-.5 0h1m-.5 0h1m-.5 0h1m.5 0h1m1.5 0h1m-.5 0h1m5.5 0h1m37.5 0h1m-60 .5h1m-.5 0h1m-.5 0h1m2.5 0h1m0 0h1m4 0h1m0 0h1m0 0h1m.5 0h1m-36.5 .5h1m19 0h1m4.5 0h1m1.5 0h1m0 0h1m1 0h1m-.5 0h1m4 0h1m-18.5 .5h1m3.5 0h1m.5 0h1m2.5 0h1m6 0h1m-15.5 .5h1m4 0h1m-.5 0h1m.5 0h1m-.5 0h1m-.5 0h1m2.5 0h1m19 0h1m-27.5 .5h1m5.5 0h1m-23 .5h1m16 0h1m0 0h1m9.5 0h1m2.5 0h1m-19 .5h1m0 0h1m0 0h1m-.5 0h1m.5 0h1m2.5 0h1m18 0h1m17.5 0h1m-57 .5h1m5.5 0h1m1 0h1m0 0h1m4 0h1m-.5 0h1m-.5 0h1m20 0h1m-51 .5h1m41.5 0h1m26.5 0h1m-63 .5h1m2.5 0h1m9.5 0h1m21 0h1m-33.5 .5h1m2.5 0h1m28.5 0h1m1 0h1m4 0h1m6 0h1m10 0h1m-69.5 .5h1m12.5 0h1m.5 0h1m17.5 0h1m8 0h1m1.5 0h1m1 0h1m-17 .5h1m12 0h1m.5 0h1m1.5 0h1m1.5 0h1m-44.5 .5h1m3.5 0h1m0 0h1m27.5 0h1m-.5 0h1m2 0h1m2 0h1m5.5 0h1m-49.5 .5h1m26 0h1m1 0h1m8.5 0h1m-.5 0h1m22 0h1m-61.5 .5h1m2 0h1m6.5 0h1m.5 0h1m0 0h1m-.5 0h1m19.5 0h1m-.5 0h1m2.5 0h1m0 0h1m5 0h1m-53.5 .5h1m11.5 0h1m16.5 0h1m3.5 0h1m2 0h1m1 0h1m1 0h1m.5 0h1m-43.5 .5h1m21 0h1m2 0h1m11.5 0h1m-.5 0h1m3.5 0h1m-.5 0h1m.5 0h1m0 0h1m.5 0h1m-28.5 .5h1m.5 0h1m18.5 0h1m1.5 0h1m1 0h1m-36.5 .5h1m7 0h1m1 0h1m-.5 0h1m14 0h1m2 0h1m.5 0h1m-.5 0h1m.5 0h1m.5 0h1m1.5 0h1m25 0h1m-56 .5h1m.5 0h1m11.5 0h1m8 0h1m-.5 0h1m.5 0h1m-.5 0h1m2.5 0h1m-35 .5h1m8 0h1m-.5 0h1m1 0h1m4 0h1m4 0h1m0 0h1m6 0h1m30 0h1m-73 .5h1m10.5 0h1m2.5 0h1m4 0h1m0 0h1m-.5 0h1m-.5 0h1m11.5 0h1m3 0h1m-.5 0h1m0 0h1m.5 0h1m-38.5 .5h1m9 0h1m6 0h1m2.5 0h1m1.5 0h1m4.5 0h1m2.5 0h1m1.5 0h1m-28.5 .5h1m6 0h1m4.5 0h1m1.5 0h1m2 0h1m7 0h1m1.5 0h1m-36.5 .5h1m10 0h1m0 0h1m4 0h1m2 0h1m9 0h1m1 0h1m-.5 0h1m-.5 0h1m.5 0h1m-.5 0h1m6 0h1m31 0h1m-74 .5h1m-.5 0h1m-.5 0h1m17 0h1m3.5 0h1m-.5 0h1m4 0h1m24.5 0h1m10.5 0h1m-69 .5h1m5.5 0h1m10 0h1m-.5 0h1m-.5 0h1m-.5 0h1m2.5 0h1m2.5 0h1m.5 0h1m.5 0h1m-.5 0h1m3 0h1m.5 0h1m-26.5 .5h1m.5 0h1m4 0h1m4 0h1m0 0h1m.5 0h1m2.5 0h1m0 0h1m0 0h1m.5 0h1m0 0h1m0 0h1m1 0h1m-.5 0h1m-37 .5h1m0 0h1m0 0h1m5 0h1m2.5 0h1m-.5 0h1m-.5 0h1m.5 0h1m3.5 0h1m1 0h1m.5 0h1m4.5 0h1m-.5 0h1m0 0h1m1.5 0h1m1 0h1m0 0h1m1 0h1m-43 .5h1m8.5 0h1m-.5 0h1m5.5 0h1m6.5 0h1m-.5 0h1m-.5 0h1m3 0h1m3 0h1m1 0h1m0 0h1m-.5 0h1m1.5 0h1m-.5 0h1m-37.5 .5h1m6 0h1m4.5 0h1m2.5 0h1m-.5 0h1m0 0h1m0 0h1m-.5 0h1m-.5 0h1m0 0h1m1 0h1m-.5 0h1m-.5 0h1m0 0h1m-.5 0h1m0 0h1m1 0h1m0 0h1m2 0h1m1.5 0h1m0 0h1m-29 .5h1m2 0h1m2.5 0h1m0 0h1m.5 0h1m-.5 0h1m-.5 0h1m-.5 0h1m1 0h1m-.5 0h1m2 0h1m0 0h1m0 0h1m1 0h1m1.5 0h1m-.5 0h1m.5 0h1m-.5 0h1m2 0h1m6 0h1m-45 .5h1m7.5 0h1m.5 0h1m.5 0h1m0 0h1m0 0h1m-.5 0h1m-.5 0h1m1.5 0h1m4.5 0h1m-.5 0h1m1.5 0h1m0 0h1m.5 0h1m1.5 0h1m-.5 0h1m-.5 0h1m.5 0h1m-29.5 .5h1m8 0h1m4.5 0h1m-.5 0h1m2 0h1m0 0h1m1.5 0h1m.5 0h1m1 0h1m-.5 0h1m.5 0h1m0 0h1m0 0h1m-.5 0h1m2 0h1m.5 0h1m43.5 0h1m-77.5 .5h1m2.5 0h1m0 0h1m4 0h1m.5 0h1m-.5 0h1m2.5 0h1m-.5 0h1m1 0h1m1 0h1m-.5 0h1m-.5 0h1m-.5 0h1m-.5 0h1m.5 0h1m1 0h1m0 0h1m1.5 0h1m-.5 0h1m0 0h1m1 0h1m2 0h1m-31.5 .5h1m0 0h1m1 0h1m0 0h1m-.5 0h1m-.5 0h1m0 0h1m-.5 0h1m.5 0h1m.5 0h1m1 0h1m-.5 0h1m-.5 0h1m-.5 0h1m0 0h1m-.5 0h1m-.5 0h1m.5 0h1m-.5 0h1m4 0h1m.5 0h1m3 0h1m0 0h1m-31 .5h1m.5 0h1m2.5 0h1m1.5 0h1m0 0h1m-.5 0h1m.5 0h1m-.5 0h1m-.5 0h1m-.5 0h1m.5 0h1m1 0h1m-.5 0h1m-.5 0h1m-.5 0h1m-.5 0h1m-.5 0h1m-.5 0h1m1 0h1m.5 0h1m.5 0h1m-.5 0h1m.5 0h1m-.5 0h1m1 0h1m28.5 0h1m-67 .5h1m3.5 0h1m4 0h1m-.5 0h1m1 0h1m-.5 0h1m.5 0h1m1 0h1m1 0h1m-.5 0h1m-.5 0h1m1 0h1m-.5 0h1m1.5 0h1m-.5 0h1m-.5 0h1m-.5 0h1m-.5 0h1m0 0h1m.5 0h1m-.5 0h1m1 0h1m5 0h1m3 0h1m-.5 0h1m23.5 0h1m15.5 0h1m-75 .5h1m2.5 0h1m1 0h1m0 0h1m-.5 0h1m-.5 0h1m-.5 0h1m-.5 0h1m-.5 0h1m-.5 0h1m-.5 0h1m2 0h1m-.5 0h1m-.5 0h1m-.5 0h1m-.5 0h1m-.5 0h1m-.5 0h1m1 0h1m-.5 0h1m-.5 0h1m.5 0h1m-.5 0h1m0 0h1m-.5 0h1m0 0h1m-36 .5h1m3.5 0h1m.5 0h1m1 0h1m-.5 0h1m-.5 0h1m1.5 0h1m0 0h1m.5 0h1m.5 0h1m1 0h1m0 0h1m-.5 0h1m-.5 0h1m0 0h1m-.5 0h1m0 0h1m0 0h1m-.5 0h1m-.5 0h1m0 0h1m0 0h1m0 0h1m.5 0h1m-.5 0h1m-.5 0h1m-.5 0h1m-.5 0h1m-.5 0h1m-.5 0h1m1 0h1m-.5 0h1m3.5 0h1m1.5 0h1m4 0h1m-44 .5h1m11.5 0h1m1.5 0h1m1 0h1m-.5 0h1m0 0h1m-.5 0h1m-.5 0h1m0 0h1m0 0h1m-.5 0h1m-.5 0h1m0 0h1m0 0h1m-.5 0h1m-.5 0h1m-.5 0h1m-.5 0h1m-.5 0h1m-.5 0h1m-.5 0h1m-.5 0h1m-.5 0h1m-.5 0h1m-.5 0h1m0 0h1m6 0h1m1 0h1m-41.5 .5h1m2.5 0h1m3 0h1m.5 0h1m.5 0h1m1 0h1m.5 0h1m0 0h1m0 0h1m0 0h1m-.5 0h1m-.5 0h1m-.5 0h1m-.5 0h1m1 0h1m0 0h1m-.5 0h1m0 0h1m-.5 0h1m-.5 0h1m-.5 0h1m-.5 0h1m-.5 0h1m.5 0h1m0 0h1m-.5 0h1m0 0h1m-.5 0h1m-.5 0h1m.5 0h1m.5 0h1m1.5 0h1m-.5 0h1m-.5 0h1m0 0h1m9 0h1m-52 .5h1m6.5 0h1m.5 0h1m4 0h1m-.5 0h1m.5 0h1m-.5 0h1m-.5 0h1m-.5 0h1m0 0h1m-.5 0h1m0 0h1m-.5 0h1m-.5 0h1m-.5 0h1m-.5 0h1m-.5 0h1m-.5 0h1m0 0h1m-.5 0h1m0 0h1m0 0h1m-.5 0h1m-.5 0h1m-.5 0h1m-.5 0h1m-.5 0h1m-.5 0h1m-.5 0h1m-.5 0h1m-.5 0h1m-.5 0h1m-.5 0h1m0 0h1m1 0h1m7.5 0h1m2 0h1m21.5 0h1m-65 .5h1m0 0h1m2 0h1m0 0h1m.5 0h1m2 0h1m-.5 0h1m.5 0h1m-.5 0h1m1 0h1m-.5 0h1m0 0h1m0 0h1m-.5 0h1m0 0h1m-.5 0h1m-.5 0h1m-.5 0h1m-.5 0h1m-.5 0h1m-.5 0h1m1 0h1m-.5 0h1m-.5 0h1m-.5 0h1m-.5 0h1m-.5 0h1m0 0h1m-.5 0h1m0 0h1m.5 0h1m-.5 0h1m2 0h1m-28 .5h1m0 0h1m1 0h1m-.5 0h1m3 0h1m-.5 0h1m0 0h1m-.5 0h1m-.5 0h1m.5 0h1m-.5 0h1m-.5 0h1m-.5 0h1m-.5 0h1m-.5 0h1m-.5 0h1m.5 0h1m-.5 0h1m-.5 0h1m0 0h1m-.5 0h1m-.5 0h1m-.5 0h1m.5 0h1m-.5 0h1m1.5 0h1m.5 0h1m37 0h1m-61.5 .5h1m-.5 0h1m-.5 0h1m-.5 0h1m-.5 0h1m0 0h1m-.5 0h1m-.5 0h1m0 0h1m-.5 0h1m-.5 0h1m-.5 0h1m0 0h1m-.5 0h1m-.5 0h1m-.5 0h1m-.5 0h1m-.5 0h1m-.5 0h1m-.5 0h1m-.5 0h1m0 0h1m-.5 0h1m.5 0h1m1 0h1m0 0h1m3.5 0h1m-.5 0h1m1.5 0h1m4 0h1m-42 .5h1m3 0h1m4.5 0h1m-.5 0h1m-.5 0h1m3 0h1m1.5 0h1m0 0h1m-.5 0h1m0 0h1m-.5 0h1m-.5 0h1m-.5 0h1m-.5 0h1m-.5 0h1m0 0h1m-.5 0h1m-.5 0h1m-.5 0h1m-.5 0h1m-.5 0h1m-.5 0h1m-.5 0h1m-.5 0h1m1.5 0h1m.5 0h1m1 0h1m3 0h1m5 0h1m-35.5 .5h1m.5 0h1m1 0h1m1.5 0h1m.5 0h1m0 0h1m-.5 0h1m0 0h1m-.5 0h1m-.5 0h1m-.5 0h1m-.5 0h1m-.5 0h1m-.5 0h1m-.5 0h1m-.5 0h1m0 0h1m-.5 0h1m-.5 0h1m-.5 0h1m0 0h1m-.5 0h1m.5 0h1m-.5 0h1m-.5 0h1m-.5 0h1m1.5 0h1m.5 0h1m1 0h1m48.5 0h1m-85.5 .5h1m6.5 0h1m2 0h1m-.5 0h1m3.5 0h1m.5 0h1m.5 0h1m-.5 0h1m0 0h1m-.5 0h1m-.5 0h1m-.5 0h1m-.5 0h1m.5 0h1m-.5 0h1m.5 0h1m0 0h1m0 0h1m-.5 0h1m-.5 0h1m2.5 0h1m0 0h1m1 0h1m2 0h1m2 0h1m-34.5 .5h1m1.5 0h1m-.5 0h1m-.5 0h1m0 0h1m2 0h1m0 0h1m-.5 0h1m-.5 0h1m-.5 0h1m0 0h1m-.5 0h1m-.5 0h1m-.5 0h1m-.5 0h1m0 0h1m-.5 0h1m-.5 0h1m-.5 0h1m.5 0h1m1 0h1m0 0h1m-.5 0h1m-.5 0h1m.5 0h1m1.5 0h1m1.5 0h1m31 0h1m-60 .5h1m-.5 0h1m.5 0h1m.5 0h1m-.5 0h1m0 0h1m-.5 0h1m.5 0h1m0 0h1m-.5 0h1m0 0h1m0 0h1m-.5 0h1m-.5 0h1m-.5 0h1m1 0h1m0 0h1m.5 0h1m-.5 0h1m0 0h1m-.5 0h1m-.5 0h1m-.5 0h1m-.5 0h1m-.5 0h1m.5 0h1m.5 0h1m0 0h1m1.5 0h1m1 0h1m7.5 0h1m21.5 0h1m-64.5 .5h1m5.5 0h1m0 0h1m1 0h1m0 0h1m1 0h1m-.5 0h1m-.5 0h1m-.5 0h1m-.5 0h1m0 0h1m-.5 0h1m-.5 0h1m-.5 0h1m-.5 0h1m-.5 0h1m-.5 0h1m-.5 0h1m-.5 0h1m-.5 0h1m-.5 0h1m-.5 0h1m0 0h1m0 0h1m1.5 0h1m1 0h1m0 0h1m5.5 0h1m33.5 0h1m-78 .5h1m1 0h1m3.5 0h1m2.5 0h1m1.5 0h1m.5 0h1m2 0h1m.5 0h1m0 0h1m-.5 0h1m-.5 0h1m.5 0h1m-.5 0h1m-.5 0h1m-.5 0h1m-.5 0h1m-.5 0h1m0 0h1m-.5 0h1m-.5 0h1m-.5 0h1m-.5 0h1m-.5 0h1m-.5 0h1m-.5 0h1m-.5 0h1m-.5 0h1m-.5 0h1m.5 0h1m-.5 0h1m-.5 0h1m0 0h1m0 0h1m-.5 0h1m-.5 0h1m2 0h1m1.5 0h1m1.5 0h1m2.5 0h1m2 0h1m35 0h1m-85 .5h1m9.5 0h1m-.5 0h1m-.5 0h1m.5 0h1m-.5 0h1m-.5 0h1m-.5 0h1m-.5 0h1m.5 0h1m-.5 0h1m0 0h1m-.5 0h1m0 0h1m-.5 0h1m-.5 0h1m-.5 0h1m-.5 0h1m-.5 0h1m-.5 0h1m-.5 0h1m-.5 0h1m-.5 0h1m-.5 0h1m0 0h1m-.5 0h1m-.5 0h1m-.5 0h1m-.5 0h1m-.5 0h1m-.5 0h1m7 0h1m34.5 0h1m-70 .5h1m5 0h1m1.5 0h1m1 0h1m-.5 0h1m1 0h1m0 0h1m-.5 0h1m-.5 0h1m-.5 0h1m-.5 0h1m0 0h1m0 0h1m-.5 0h1m-.5 0h1m0 0h1m-.5 0h1m-.5 0h1m-.5 0h1m-.5 0h1m-.5 0h1m-.5 0h1m-.5 0h1m0 0h1m-.5 0h1m.5 0h1m1 0h1m1 0h1m-.5 0h1m-31.5 .5h1m5 0h1m.5 0h1m.5 0h1m.5 0h1m-.5 0h1m-.5 0h1m-.5 0h1m0 0h1m-.5 0h1m-.5 0h1m0 0h1m-.5 0h1m-.5 0h1m0 0h1m-.5 0h1m-.5 0h1m-.5 0h1m-.5 0h1m-.5 0h1m-.5 0h1m-.5 0h1m-.5 0h1m-.5 0h1m-.5 0h1m-.5 0h1m0 0h1m-.5 0h1m0 0h1m-.5 0h1m-.5 0h1m-.5 0h1m0 0h1m1.5 0h1m1 0h1m10.5 0h1m-42.5 .5h1m4 0h1m0 0h1m0 0h1m2.5 0h1m-.5 0h1m-.5 0h1m-.5 0h1m-.5 0h1m0 0h1m-.5 0h1m-.5 0h1m-.5 0h1m0 0h1m-.5 0h1m-.5 0h1m-.5 0h1m-.5 0h1m0 0h1m0 0h1m.5 0h1m-.5 0h1m0 0h1m1.5 0h1m3 0h1m7 0h1m-37.5 .5h1m3 0h1m.5 0h1m-.5 0h1m-.5 0h1m1.5 0h1m-.5 0h1m-.5 0h1m-.5 0h1m.5 0h1m-.5 0h1m-.5 0h1m.5 0h1m-.5 0h1m.5 0h1m-.5 0h1m-.5 0h1m-.5 0h1m-.5 0h1m0 0h1m0 0h1m0 0h1m-.5 0h1m-.5 0h1m.5 0h1m13 0h1m-37 .5h1m0 0h1m2 0h1m2.5 0h1m-.5 0h1m.5 0h1m-.5 0h1m-.5 0h1m-.5 0h1m.5 0h1m0 0h1m-.5 0h1m-.5 0h1m-.5 0h1m-.5 0h1m0 0h1m.5 0h1m3.5 0h1m1 0h1m-.5 0h1m-.5 0h1m-.5 0h1m6 0h1m-45 .5h1m7 0h1m-.5 0h1m0 0h1m4 0h1m1 0h1m-.5 0h1m0 0h1m-.5 0h1m0 0h1m1.5 0h1m.5 0h1m0 0h1m-.5 0h1m-.5 0h1m1 0h1m0 0h1m-.5 0h1m-.5 0h1m-.5 0h1m0 0h1m1 0h1m5.5 0h1m-35 .5h1m-.5 0h1m.5 0h1m2 0h1m.5 0h1m1.5 0h1m1 0h1m1 0h1m0 0h1m-.5 0h1m-.5 0h1m-.5 0h1m-.5 0h1m-.5 0h1m.5 0h1m-.5 0h1m-.5 0h1m-.5 0h1m0 0h1m-.5 0h1m-.5 0h1m-.5 0h1m-.5 0h1m-.5 0h1m.5 0h1m1 0h1m.5 0h1m0 0h1m-.5 0h1m-29 .5h1m0 0h1m-.5 0h1m3.5 0h1m2 0h1m.5 0h1m.5 0h1m-.5 0h1m0 0h1m-.5 0h1m-.5 0h1m-.5 0h1m-.5 0h1m-.5 0h1m-.5 0h1m-.5 0h1m1 0h1m-.5 0h1m0 0h1m-.5 0h1m0 0h1m0 0h1m1 0h1m1 0h1m2.5 0h1m-35.5 .5h1m12.5 0h1m.5 0h1m1 0h1m.5 0h1m0 0h1m0 0h1m0 0h1m-.5 0h1m-.5 0h1m-.5 0h1m-.5 0h1m1 0h1m.5 0h1m.5 0h1m1 0h1m0 0h1m-.5 0h1m-.5 0h1m0 0h1m1 0h1m-32.5 .5h1m6 0h1m1 0h1m2 0h1m.5 0h1m0 0h1m1 0h1m1 0h1m1.5 0h1m-.5 0h1m1.5 0h1m1.5 0h1m2.5 0h1m3 0h1m34.5 0h1m-68.5 .5h1m.5 0h1m2 0h1m1 0h1m0 0h1m1 0h1m2 0h1m-.5 0h1m0 0h1m-.5 0h1m0 0h1m0 0h1m-.5 0h1m-.5 0h1m.5 0h1m-.5 0h1m.5 0h1m1 0h1m1 0h1m-30 .5h1m2.5 0h1m2 0h1m2 0h1m-.5 0h1m1.5 0h1m-.5 0h1m0 0h1m1.5 0h1m-.5 0h1m-.5 0h1m-.5 0h1m-.5 0h1m-.5 0h1m-.5 0h1m-.5 0h1m0 0h1m-.5 0h1m-.5 0h1m.5 0h1m1 0h1m-.5 0h1m1.5 0h1m10.5 0h1m6.5 0h1m7.5 0h1m-53.5 .5h1m-.5 0h1m1 0h1m3.5 0h1m.5 0h1m-.5 0h1m-.5 0h1m0 0h1m0 0h1m2 0h1m0 0h1m-.5 0h1m.5 0h1m1 0h1m0 0h1m0 0h1m.5 0h1m.5 0h1m.5 0h1m0 0h1m-30 .5h1m1 0h1m5 0h1m1.5 0h1m0 0h1m0 0h1m-.5 0h1m-.5 0h1m-.5 0h1m-.5 0h1m5 0h1m3.5 0h1m1 0h1m22.5 0h1m-55.5 .5h1m1 0h1m4 0h1m.5 0h1m2 0h1m0 0h1m-.5 0h1m1 0h1m1.5 0h1m.5 0h1m1 0h1m1 0h1m.5 0h1m1 0h1m0 0h1m1 0h1m0 0h1m0 0h1m-19 .5h1m2 0h1m0 0h1m7 0h1m-.5 0h1m13.5 0h1m-36 .5h1m3.5 0h1m8 0h1m2 0h1m1 0h1m0 0h1m3.5 0h1m-.5 0h1m-.5 0h1m1.5 0h1m8.5 0h1m26 0h1m-67 .5h1m3 0h1m1.5 0h1m1 0h1m0 0h1m1 0h1m0 0h1m3 0h1m-.5 0h1m1 0h1m.5 0h1m2.5 0h1m-.5 0h1m-27 .5h1m-.5 0h1m7 0h1m-.5 0h1m.5 0h1m4.5 0h1m-.5 0h1m1 0h1m0 0h1m2.5 0h1m4 0h1m-21 .5h1m.5 0h1m.5 0h1m-.5 0h1m-.5 0h1m0 0h1m.5 0h1m-.5 0h1m0 0h1m5 0h1m0 0h1m4.5 0h1m1 0h1m0 0h1m2 0h1m29 0h1m7 0h1m-73.5 .5h1m7.5 0h1m5.5 0h1m-.5 0h1m2 0h1m2 0h1m3.5 0h1m.5 0h1m2 0h1m-.5 0h1m23 0h1m-52 .5h1m4 0h1m1.5 0h1m8 0h1m-.5 0h1m-.5 0h1m.5 0h1m.5 0h1m0 0h1m2.5 0h1m-22.5 .5h1m1 0h1m5 0h1m7 0h1m0 0h1m9 0h1m-36 .5h1m7.5 0h1m2 0h1m1.5 0h1m-.5 0h1m1.5 0h1m3 0h1m4 0h1m1 0h1m-.5 0h1m-24 .5h1m3 0h1m1 0h1m2.5 0h1m.5 0h1m.5 0h1m10 0h1m2.5 0h1m6.5 0h1m.5 0h1m32 0h1m-64.5 .5h1m0 0h1m5 0h1m.5 0h1m.5 0h1m-.5 0h1m7.5 0h1m10.5 0h1m-42 .5h1m19 0h1m1.5 0h1m26 0h1m14 0h1m-60 .5h1m3.5 0h1m1 0h1m4.5 0h1m1.5 0h1m-.5 0h1m16.5 0h1m34.5 0h1m-60.5 .5h1m.5 0h1m.5 0h1m2 0h1m8.5 0h1m1 0h1m-33 .5h1m12.5 0h1m2.5 0h1m4.5 0h1m6.5 0h1m7 0h1m19 0h1m19.5 0h1m-67 .5h1m3 0h1m-.5 0h1m0 0h1m-.5 0h1m1.5 0h1m61.5 0h1m-82 .5h1m4 0h1m10 0h1m-.5 0h1m2.5 0h1m1.5 0h1m3.5 0h1m-18.5 .5h1m10.5 0h1m5.5 0h1m42.5 0h1m-58 .5h1m3 0h1m-9.5 .5h1m.5 0h1m50.5 0h1m3 0h1m-47 .5h1m17 0h1m14.5 0h1m-38.5 .5h1m0 0h1m1.5 0h1m-3.5 .5h1m35.5 0h1m-59.5 .5h1m18 0h1m2.5 0h1m14 0h1m-32 .5h1m8 0h1m7 0h1m.5 0h1m16 0h1m20 0h1m5.5 0h1m-51 .5h1m47 0h1m13.5 0h1m-50.5 .5h1m24 0h1m-60.5 .5h1m67 0h1m-37 1h1m49 0h1m-76.5 .5h1m24.5 0h1m-6.5 .5h1m50.5 0h1m-68 .5h1m72 0h1m-44 .5h1m35 .5h1m-39 .5h1m-26.5 .5h1m48 0h1" stroke="#161616" stroke-width="0.9" stroke-opacity="0.48"/>
<g filter="url(#b1)"><ellipse cx="189.5" cy="881.5" rx="3.825" ry="3.825" fill="#222" opacity="0.45"/><ellipse cx="198.5" cy="850.8" rx="2.7" ry="2.4000000000000004" fill="#000" opacity="0.7"/></g>
<rect x="164.5" y="821.2" width="89.2" height="89.2" fill="none" stroke="#b4b4b4" stroke-width="0.8"/>
<line x1="164.5" y1="821.2" x2="164.5" y2="910.5" stroke="#555" stroke-width="0.9" />
<line x1="164.5" y1="910.5" x2="253.8" y2="910.5" stroke="#555" stroke-width="0.9" />
<path d="M162.5 828h2M162.5 844.5h2M162.5 860.8h2M162.5 877.5h2M162.5 892.5h2M162.5 907.5h2M166 910.5v2M181.5 910.5v2M197 910.5v2M212.5 910.5v2M229 910.5v2M246 910.5v2" stroke="#333" stroke-width="0.9"/>
<path d="M163.3 839.5h1.2M163.3 836.6h1.2M163.3 834.6h1.2M163.3 833h1.2M163.3 831.7h1.2M163.3 830.6h1.2M163.3 829.6h1.2M163.3 828.8h1.2M163.3 855.9h1.2M163.3 853h1.2M163.3 851h1.2M163.3 849.4h1.2M163.3 848.1h1.2M163.3 847h1.2M163.3 846.1h1.2M163.3 845.2h1.2M163.3 872.5h1.2M163.3 869.5h1.2M163.3 867.4h1.2M163.3 865.8h1.2M163.3 864.5h1.2M163.3 863.3h1.2M163.3 862.4h1.2M163.3 861.5h1.2M163.3 888h1.2M163.3 885.3h1.2M163.3 883.5h1.2M163.3 882h1.2M163.3 880.8h1.2M163.3 879.8h1.2M163.3 879h1.2M163.3 878.2h1.2M163.3 903h1.2M163.3 900.3h1.2M163.3 898.5h1.2M163.3 897h1.2M163.3 895.8h1.2M163.3 894.8h1.2M163.3 894h1.2M163.3 893.2h1.2M165.3 910.5v1.2M170.7 910.5v1.2M173.4 910.5v1.2M175.3 910.5v1.2M176.8 910.5v1.2M178.1 910.5v1.2M179.1 910.5v1.2M180 910.5v1.2M180.8 910.5v1.2M186.2 910.5v1.2M188.9 910.5v1.2M190.8 910.5v1.2M192.3 910.5v1.2M193.6 910.5v1.2M194.6 910.5v1.2M195.5 910.5v1.2M196.3 910.5v1.2M201.7 910.5v1.2M204.4 910.5v1.2M206.3 910.5v1.2M207.8 910.5v1.2M209.1 910.5v1.2M210.1 910.5v1.2M211 910.5v1.2M211.8 910.5v1.2M217.5 910.5v1.2M220.4 910.5v1.2M222.4 910.5v1.2M224 910.5v1.2M225.3 910.5v1.2M226.4 910.5v1.2M227.4 910.5v1.2M228.2 910.5v1.2M234.1 910.5v1.2M237.1 910.5v1.2M239.2 910.5v1.2M240.9 910.5v1.2M242.2 910.5v1.2M243.4 910.5v1.2M244.4 910.5v1.2M245.2 910.5v1.2" stroke="#666" stroke-width="0.6"/>
<text transform="translate(147.4,830.6) scale(1.08,1)" font-size="7.4" fill="#0a0a0a">10<tspan dy="-2.6" font-size="5.6">5</tspan></text>
<text transform="translate(147.4,847.1) scale(1.08,1)" font-size="7.4" fill="#0a0a0a">10<tspan dy="-2.6" font-size="5.6">4</tspan></text>
<text transform="translate(147.4,863.4) scale(1.08,1)" font-size="7.4" fill="#0a0a0a">10<tspan dy="-2.6" font-size="5.6">3</tspan></text>
<text transform="translate(147.4,880.1) scale(1.08,1)" font-size="7.4" fill="#0a0a0a">10<tspan dy="-2.6" font-size="5.6">2</tspan></text>
<text transform="translate(147.4,895.1) scale(1.08,1)" font-size="7.4" fill="#0a0a0a">10<tspan dy="-2.6" font-size="5.6">1</tspan></text>
<text transform="translate(147.4,910.1) scale(1.08,1)" font-size="7.4" fill="#0a0a0a">10<tspan dy="-2.6" font-size="5.6">0</tspan></text>
<text transform="translate(161.7,923.3) scale(1.08,1)" font-size="7.2" fill="#0a0a0a">10<tspan dy="-2.6" font-size="5.5">0</tspan></text>
<text transform="translate(177.2,923.3) scale(1.08,1)" font-size="7.2" fill="#0a0a0a">10<tspan dy="-2.6" font-size="5.5">1</tspan></text>
<text transform="translate(192.7,923.3) scale(1.08,1)" font-size="7.2" fill="#0a0a0a">10<tspan dy="-2.6" font-size="5.5">2</tspan></text>
<text transform="translate(208.2,923.3) scale(1.08,1)" font-size="7.2" fill="#0a0a0a">10<tspan dy="-2.6" font-size="5.5">3</tspan></text>
<text transform="translate(224.7,923.3) scale(1.08,1)" font-size="7.2" fill="#0a0a0a">10<tspan dy="-2.6" font-size="5.5">4</tspan></text>
<text transform="translate(241.7,923.3) scale(1.08,1)" font-size="7.2" fill="#0a0a0a">10<tspan dy="-2.6" font-size="5.5">5</tspan></text>
<rect x="176.3" y="834.4" width="37.5" height="26.9" fill="none" stroke="#444" stroke-width="0.9"/>
<rect x="220.6" y="863.8" width="30.7" height="23.9" fill="none" stroke="#444" stroke-width="0.9"/>
<text x="194.6" y="826.2" font-size="4" text-anchor="middle" fill="#0a0a0a" >Mouse CD45</text>
<text x="194.6" y="831.5" font-size="4" text-anchor="middle" fill="#0a0a0a" >24.1</text>
<text x="216.7" y="847.3" font-size="7.5" text-anchor="start" fill="#0a0a0a" >24.1%</text>
<text x="224.4" y="885.6" font-size="7.6" text-anchor="start" fill="#0a0a0a" >0.46%</text>
<text x="236" y="893.5" font-size="4" text-anchor="middle" fill="#0a0a0a" >Human CD45</text>
<text x="236" y="898.7" font-size="4" text-anchor="middle" fill="#0a0a0a" >0.46</text>
<text x="324.8" y="813.3" font-size="10.5" text-anchor="middle" fill="#0a0a0a" textLength="48.5" lengthAdjust="spacingAndGlyphs">11 months</text>
<path d="M284.5 822h1m30.5 .5h1m-38.5 1h1m17.5 0h1m41 0h1m18 0h1m-46 1h1m-5 .5h1m-23.5 1h1m19.5 0h1m41.5 0h1m-2.5 1h1m-50 .5h1m56.5 .5h1m-78.5 .5h1m9 0h1m33.5 0h1m-37 .5h1m57 0h1m-32 .5h1m-24.5 .5h1m54 0h1m18 1h1m-84 .5h1m22.5 .5h1m3 0h1m27.5 0h1m9.5 .5h1m-44 1h1m16.5 1h1m20.5 0h1m-20.5 .5h1m-11 1h1m23 0h1m-43 .5h1m38 0h1m19.5 0h1m-38.5 .5h1m13 0h1m27.5 0h1m-65 .5h1m12 .5h1m5.5 0h1m1.5 0h1m6.5 0h1m-5.5 .5h1m2 0h1m27 0h1m3 0h1m-46 .5h1m0 0h1m0 0h1m2 0h1m0 0h1m1.5 .5h1m40 0h1m-48.5 .5h1m5.5 0h1m6 0h1m36 0h1m-57 .5h1m1.5 0h1m0 0h1m6.5 0h1m9.5 0h1m-16 .5h1m4 0h1m2.5 0h1m-.5 0h1m-.5 0h1m1.5 0h1m-.5 0h1m-13 .5h1m0 0h1m2 0h1m2 0h1m20.5 0h1m3.5 0h1m-33 .5h1m1.5 0h1m-.5 0h1m3 0h1m.5 0h1m0 0h1m25.5 0h1m-44 .5h1m6.5 0h1m0 0h1m1.5 0h1m0 0h1m0 0h1m-.5 0h1m4 0h1m-22.5 .5h1m4 0h1m3 0h1m0 0h1m1 0h1m-.5 0h1m-.5 0h1m0 0h1m3 0h1m-.5 0h1m2 0h1m13.5 0h1m-59 .5h1m27 0h1m0 0h1m.5 0h1m.5 0h1m-.5 0h1m0 0h1m1 0h1m-.5 0h1m1 0h1m-.5 0h1m-.5 0h1m-.5 0h1m-.5 0h1m1.5 0h1m-15.5 .5h1m1.5 0h1m1 0h1m.5 0h1m-.5 0h1m0 0h1m0 0h1m-.5 0h1m-.5 0h1m-.5 0h1m0 0h1m-.5 0h1m4.5 0h1m-52.5 .5h1m27.5 0h1m3.5 0h1m.5 0h1m0 0h1m-.5 0h1m-.5 0h1m2.5 0h1m-.5 0h1m-.5 0h1m-.5 0h1m0 0h1m-.5 0h1m-.5 0h1m0 0h1m-.5 0h1m-.5 0h1m-.5 0h1m-.5 0h1m-.5 0h1m-.5 0h1m-18.5 .5h1m4.5 0h1m2 0h1m.5 0h1m-.5 0h1m-.5 0h1m-.5 0h1m-.5 0h1m0 0h1m-.5 0h1m0 0h1m0 0h1m-.5 0h1m-.5 0h1m0 0h1m0 0h1m-22.5 .5h1m10 0h1m-.5 0h1m-.5 0h1m-.5 0h1m-.5 0h1m-.5 0h1m-.5 0h1m-.5 0h1m-.5 0h1m-.5 0h1m-.5 0h1m-.5 0h1m-.5 0h1m0 0h1m0 0h1m.5 0h1m0 0h1m-14 .5h1m2.5 0h1m.5 0h1m-.5 0h1m-.5 0h1m-.5 0h1m-.5 0h1m-.5 0h1m-.5 0h1m-.5 0h1m-.5 0h1m-.5 0h1m0 0h1m0 0h1m0 0h1m-.5 0h1m1 0h1m23 0h1m-39 .5h1m0 0h1m-.5 0h1m0 0h1m-.5 0h1m-.5 0h1m-.5 0h1m-.5 0h1m-.5 0h1m-.5 0h1m-.5 0h1m-.5 0h1m-.5 0h1m-.5 0h1m-.5 0h1m-.5 0h1m-.5 0h1m-.5 0h1m0 0h1m-.5 0h1m-.5 0h1m12 0h1m-27.5 .5h1m.5 0h1m.5 0h1m.5 0h1m0 0h1m-.5 0h1m-.5 0h1m-.5 0h1m-.5 0h1m-.5 0h1m-.5 0h1m-.5 0h1m0 0h1m-.5 0h1m-.5 0h1m0 0h1m-.5 0h1m-.5 0h1m0 0h1m1.5 0h1m15.5 0h1m-38.5 .5h1m3.5 0h1m-.5 0h1m-.5 0h1m.5 0h1m1 0h1m-.5 0h1m0 0h1m.5 0h1m0 0h1m-.5 0h1m-.5 0h1m-.5 0h1m-.5 0h1m-.5 0h1m-.5 0h1m-.5 0h1m3.5 0h1m-37 .5h1m21.5 0h1m0 0h1m0 0h1m-.5 0h1m-.5 0h1m-.5 0h1m-.5 0h1m-.5 0h1m-.5 0h1m-.5 0h1m-.5 0h1m-.5 0h1m-.5 0h1m-.5 0h1m0 0h1m-.5 0h1m.5 0h1m.5 0h1m0 0h1m-29 .5h1m7.5 0h1m1 0h1m.5 0h1m-.5 0h1m1.5 0h1m.5 0h1m-.5 0h1m-.5 0h1m-.5 0h1m-.5 0h1m-.5 0h1m-.5 0h1m-.5 0h1m-.5 0h1m-.5 0h1m-.5 0h1m-.5 0h1m-.5 0h1m-.5 0h1m0 0h1m.5 0h1m0 0h1m-22 .5h1m1 0h1m3.5 0h1m4.5 0h1m-.5 0h1m-.5 0h1m0 0h1m-.5 0h1m-.5 0h1m-.5 0h1m-.5 0h1m-.5 0h1m-.5 0h1m-.5 0h1m-.5 0h1m1 0h1m-.5 0h1m-.5 0h1m11 0h1m22 0h1m-51.5 .5h1m3 0h1m2 0h1m-.5 0h1m-.5 0h1m-.5 0h1m-.5 0h1m-.5 0h1m-.5 0h1m-.5 0h1m2.5 0h1m.5 0h1m30 0h1m-49.5 .5h1m3 0h1m2.5 0h1m-.5 0h1m-.5 0h1m0 0h1m-.5 0h1m-.5 0h1m-.5 0h1m-.5 0h1m-.5 0h1m-.5 0h1m3 0h1m-17 .5h1m3.5 0h1m.5 0h1m0 0h1m-.5 0h1m-.5 0h1m-.5 0h1m0 0h1m-.5 0h1m-.5 0h1m0 0h1m-.5 0h1m1 0h1m-.5 0h1m3.5 0h1m3.5 0h1m-30 .5h1m9.5 0h1m1.5 0h1m-.5 0h1m3 0h1m-.5 0h1m-.5 0h1m-.5 0h1m3 0h1m-18.5 .5h1m6 0h1m-.5 0h1m.5 0h1m0 0h1m-.5 0h1m.5 0h1m1.5 0h1m.5 0h1m-.5 0h1m26.5 0h1m-56 .5h1m12 0h1m3.5 0h1m2.5 0h1m1.5 0h1m-.5 0h1m-7 .5h1m1.5 0h1m-.5 0h1m-.5 0h1m4 0h1m2 0h1m11 0h1m-26.5 .5h1m1.5 0h1m2 0h1m1.5 0h1m0 0h1m.5 0h1m-.5 0h1m-.5 0h1m-.5 0h1m-31.5 .5h1m15.5 0h1m4.5 0h1m2.5 0h1m2.5 0h1m-13.5 .5h1m.5 0h1m12 0h1m5 0h1m-27 .5h1m3.5 0h1m2 0h1m10.5 0h1m6.5 0h1m-14.5 .5h1m1 0h1m.5 0h1m0 0h1m1.5 0h1m-.5 0h1m19 0h1m-64 .5h1m29.5 0h1m.5 0h1m4.5 0h1m3.5 0h1m6.5 0h1m-13.5 .5h1m.5 0h1m9 0h1m-10.5 .5h1m1 0h1m6.5 0h1m-14 .5h1m.5 0h1m1.5 0h1m.5 0h1m-.5 0h1m34 0h1m-75.5 .5h1m34.5 0h1m-.5 0h1m27.5 0h1m-.5 0h1m.5 0h1m-65 .5h1m10 .5h1m21.5 0h1m18 0h1m-39 .5h1m.5 0h1m8 0h1m5 0h1m0 0h1m2.5 0h1m-.5 0h1m34 0h1m-53 .5h1m10.5 0h1m0 .5h1m1.5 0h1m22 0h1m-49 .5h1m16.5 0h1m2.5 0h1m.5 0h1m1 0h1m-7 .5h1m2 0h1m8 0h1m26.5 0h1m-41 .5h1m3 0h1m42.5 0h1m-61.5 .5h1m0 0h1m12.5 0h1m-32 .5h1m8 0h1m10.5 0h1m22.5 0h1m4 0h1m4.5 0h1m1 0h1m.5 0h1m-37 .5h1m6 0h1m2 0h1m3.5 0h1m-9 .5h1m3 0h1m-.5 0h1m-31.5 .5h1m3 0h1m5.5 0h1m2.5 0h1m12 0h1m1.5 0h1m-.5 0h1m.5 0h1m-8.5 .5h1m2.5 0h1m12 0h1m-40.5 .5h1m11 0h1m9.5 0h1m.5 0h1m.5 0h1m1 0h1m0 0h1m-15 .5h1m1.5 0h1m6 0h1m-10.5 .5h1m5 0h1m.5 .5h1m2 0h1m2 0h1m-14 .5h1m1.5 0h1m1 0h1m0 0h1m.5 0h1m-.5 0h1m3.5 0h1m-.5 0h1m20.5 0h1m0 0h1m19 0h1m-73.5 .5h1m11.5 0h1m6.5 0h1m6 0h1m1 0h1m20 0h1m-44 .5h1m.5 0h1m13 0h1m2.5 0h1m0 0h1m14 0h1m-35.5 .5h1m3.5 0h1m1 0h1m0 0h1m3.5 0h1m3 0h1m0 0h1m-17.5 .5h1m10 0h1m5 0h1m5 0h1m-.5 0h1m-23 .5h1m.5 0h1m1.5 0h1m3.5 0h1m2.5 0h1m-.5 0h1m-.5 0h1m-.5 0h1m.5 0h1m1 0h1m1.5 0h1m7.5 0h1m-31 .5h1m4 0h1m0 0h1m-.5 0h1m.5 0h1m4.5 0h1m2.5 0h1m-.5 0h1m38.5 0h1m-54.5 .5h1m2.5 0h1m4 0h1m.5 0h1m-.5 0h1m3.5 0h1m4.5 0h1m24.5 0h1m-51 .5h1m5 0h1m0 0h1m.5 0h1m1.5 0h1m3.5 0h1m-.5 0h1m2 0h1m-.5 0h1m3.5 0h1m-.5 0h1m-20 .5h1m-.5 0h1m4 0h1m1 0h1m1 0h1m0 0h1m0 0h1m-10 .5h1m1 0h1m-.5 0h1m1 0h1m.5 0h1m3.5 0h1m-.5 0h1m5.5 0h1m31.5 0h1m11.5 0h1m-67 .5h1m-.5 0h1m4 0h1m0 0h1m.5 0h1m5 0h1m1 0h1m9.5 0h1m-30 .5h1m0 0h1m-.5 0h1m3.5 0h1m1.5 0h1m1 0h1m-.5 0h1m.5 0h1m1 0h1m.5 0h1m-.5 0h1m0 0h1m.5 0h1m1 0h1m12 0h1m-36.5 .5h1m-.5 0h1m0 0h1m4.5 0h1m1.5 0h1m0 0h1m-.5 0h1m-.5 0h1m0 0h1m0 0h1m-.5 0h1m0 0h1m0 0h1m.5 0h1m-.5 0h1m-.5 0h1m11.5 0h1m3 0h1m26 0h1m-73 .5h1m12 0h1m0 0h1m0 0h1m2 0h1m0 0h1m0 0h1m2 0h1m-.5 0h1m.5 0h1m0 0h1m-.5 0h1m4 0h1m9.5 0h1m-51 .5h1m11 0h1m7 0h1m-.5 0h1m4 0h1m-.5 0h1m1.5 0h1m0 0h1m1 0h1m-.5 0h1m1 0h1m0 0h1m1 0h1m7 0h1m-30.5 .5h1m6 0h1m2 0h1m0 0h1m.5 0h1m3 0h1m0 0h1m.5 0h1m-.5 0h1m0 0h1m0 0h1m-.5 0h1m.5 0h1m.5 0h1m-.5 0h1m9 0h1m11.5 0h1m13.5 0h1m-79 .5h1m17.5 0h1m2 0h1m2 0h1m0 0h1m1 0h1m-.5 0h1m-.5 0h1m-.5 0h1m-.5 0h1m3 0h1m-.5 0h1m-.5 0h1m.5 0h1m-.5 0h1m.5 0h1m-.5 0h1m5.5 0h1m0 0h1m37.5 0h1m-74 .5h1m3 0h1m6 0h1m.5 0h1m.5 0h1m0 0h1m.5 0h1m.5 0h1m-.5 0h1m-.5 0h1m-.5 0h1m-.5 0h1m-.5 0h1m-.5 0h1m-.5 0h1m1 0h1m-.5 0h1m1 0h1m-.5 0h1m0 0h1m.5 0h1m1 0h1m22 0h1m-44 .5h1m1 0h1m1 0h1m.5 0h1m-.5 0h1m0 0h1m.5 0h1m-.5 0h1m-.5 0h1m-.5 0h1m0 0h1m-.5 0h1m.5 0h1m-.5 0h1m.5 0h1m0 0h1m3.5 0h1m3.5 0h1m-33.5 .5h1m1.5 0h1m-.5 0h1m6.5 0h1m0 0h1m1 0h1m-.5 0h1m-.5 0h1m-.5 0h1m-.5 0h1m-.5 0h1m1 0h1m.5 0h1m-.5 0h1m-.5 0h1m0 0h1m1.5 0h1m0 0h1m1 0h1m43.5 0h1m-78 .5h1m1 0h1m7 0h1m5 0h1m-.5 0h1m-.5 0h1m0 0h1m3.5 0h1m-.5 0h1m0 0h1m-.5 0h1m-.5 0h1m.5 0h1m-.5 0h1m1 0h1m2.5 0h1m1.5 0h1m-.5 0h1m-41 .5h1m5 0h1m-.5 0h1m1.5 0h1m1.5 0h1m2.5 0h1m2.5 0h1m0 0h1m-.5 0h1m-.5 0h1m-.5 0h1m-.5 0h1m0 0h1m-.5 0h1m-.5 0h1m-.5 0h1m.5 0h1m3.5 0h1m0 0h1m-.5 0h1m-.5 0h1m.5 0h1m0 0h1m0 0h1m.5 0h1m-.5 0h1m1.5 0h1m42 0h1m-79 .5h1m1.5 0h1m-.5 0h1m2 0h1m.5 0h1m1.5 0h1m-.5 0h1m1 0h1m-.5 0h1m-.5 0h1m0 0h1m1 0h1m-.5 0h1m2 0h1m-.5 0h1m1 0h1m-.5 0h1m-.5 0h1m-.5 0h1m-.5 0h1m-.5 0h1m1 0h1m0 0h1m-.5 0h1m-.5 0h1m-.5 0h1m-.5 0h1m2 0h1m.5 0h1m-40 .5h1m8.5 0h1m1.5 0h1m-.5 0h1m0 0h1m0 0h1m1 0h1m0 0h1m-.5 0h1m0 0h1m-.5 0h1m0 0h1m-.5 0h1m0 0h1m-.5 0h1m.5 0h1m-.5 0h1m-.5 0h1m-.5 0h1m-.5 0h1m-.5 0h1m0 0h1m0 0h1m-.5 0h1m-.5 0h1m2 0h1m-.5 0h1m5.5 0h1m18 0h1m-56 .5h1m10 0h1m2.5 0h1m0 0h1m-.5 0h1m-.5 0h1m0 0h1m-.5 0h1m-.5 0h1m-.5 0h1m-.5 0h1m-.5 0h1m-.5 0h1m-.5 0h1m-.5 0h1m-.5 0h1m-.5 0h1m-.5 0h1m-.5 0h1m-.5 0h1m-.5 0h1m-.5 0h1m-.5 0h1m-.5 0h1m0 0h1m0 0h1m-.5 0h1m0 0h1m0 0h1m-.5 0h1m-.5 0h1m1 0h1m1 0h1m7 0h1m2 0h1m-41 .5h1m.5 0h1m0 0h1m0 0h1m1 0h1m-.5 0h1m-.5 0h1m0 0h1m.5 0h1m.5 0h1m-.5 0h1m-.5 0h1m1.5 0h1m0 0h1m-.5 0h1m-.5 0h1m-.5 0h1m-.5 0h1m0 0h1m-.5 0h1m0 0h1m.5 0h1m-.5 0h1m.5 0h1m0 0h1m-.5 0h1m1.5 0h1m-.5 0h1m3.5 0h1m24 0h1m-49 .5h1m-.5 0h1m0 0h1m-.5 0h1m-.5 0h1m-.5 0h1m-.5 0h1m-.5 0h1m-.5 0h1m.5 0h1m-.5 0h1m-.5 0h1m-.5 0h1m-.5 0h1m-.5 0h1m-.5 0h1m0 0h1m-.5 0h1m-.5 0h1m.5 0h1m-.5 0h1m2 0h1m-.5 0h1m1 0h1m3 0h1m15 0h1m4 0h1m-62.5 .5h1m2.5 0h1m11 0h1m0 0h1m-.5 0h1m-.5 0h1m0 0h1m.5 0h1m-.5 0h1m-.5 0h1m-.5 0h1m-.5 0h1m-.5 0h1m-.5 0h1m-.5 0h1m-.5 0h1m-.5 0h1m-.5 0h1m-.5 0h1m0 0h1m.5 0h1m-.5 0h1m-.5 0h1m-.5 0h1m0 0h1m0 0h1m3 0h1m.5 0h1m2 0h1m0 0h1m.5 0h1m-32 .5h1m4 0h1m0 0h1m-.5 0h1m-.5 0h1m-.5 0h1m-.5 0h1m-.5 0h1m-.5 0h1m-.5 0h1m-.5 0h1m-.5 0h1m-.5 0h1m0 0h1m0 0h1m-.5 0h1m0 0h1m-.5 0h1m-.5 0h1m-.5 0h1m-.5 0h1m-.5 0h1m-.5 0h1m0 0h1m-.5 0h1m-.5 0h1m.5 0h1m-.5 0h1m0 0h1m0 0h1m.5 0h1m-.5 0h1m0 0h1m.5 0h1m25 0h1m-68 .5h1m8 0h1m-.5 0h1m.5 0h1m.5 0h1m.5 0h1m-.5 0h1m0 0h1m-.5 0h1m0 0h1m-.5 0h1m-.5 0h1m.5 0h1m-.5 0h1m-.5 0h1m-.5 0h1m-.5 0h1m-.5 0h1m-.5 0h1m0 0h1m-.5 0h1m-.5 0h1m-.5 0h1m-.5 0h1m-.5 0h1m-.5 0h1m-.5 0h1m-.5 0h1m0 0h1m-.5 0h1m-.5 0h1m0 0h1m.5 0h1m-.5 0h1m-.5 0h1m-.5 0h1m.5 0h1m1 0h1m0 0h1m2 0h1m-.5 0h1m-38 .5h1m10 0h1m1.5 0h1m0 0h1m-.5 0h1m-.5 0h1m0 0h1m.5 0h1m-.5 0h1m-.5 0h1m-.5 0h1m-.5 0h1m-.5 0h1m-.5 0h1m-.5 0h1m-.5 0h1m-.5 0h1m-.5 0h1m-.5 0h1m0 0h1m-.5 0h1m-.5 0h1m.5 0h1m.5 0h1m.5 0h1m9 0h1m16 0h1m-62.5 .5h1m6 0h1m9.5 0h1m-.5 0h1m-.5 0h1m-.5 0h1m1.5 0h1m-.5 0h1m-.5 0h1m-.5 0h1m-.5 0h1m-.5 0h1m-.5 0h1m0 0h1m-.5 0h1m-.5 0h1m-.5 0h1m-.5 0h1m-.5 0h1m-.5 0h1m-.5 0h1m.5 0h1m-.5 0h1m-.5 0h1m-.5 0h1m-.5 0h1m-.5 0h1m.5 0h1m.5 0h1m5.5 0h1m5 0h1m25 0h1m-72 .5h1m.5 0h1m0 0h1m6 0h1m2.5 0h1m-.5 0h1m0 0h1m.5 0h1m-.5 0h1m0 0h1m-.5 0h1m-.5 0h1m-.5 0h1m1 0h1m-.5 0h1m-.5 0h1m-.5 0h1m-.5 0h1m-.5 0h1m-.5 0h1m-.5 0h1m1.5 0h1m-.5 0h1m-.5 0h1m-.5 0h1m0 0h1m1 0h1m0 0h1m3.5 0h1m37.5 0h1m-78 .5h1m5.5 0h1m.5 0h1m2.5 0h1m-.5 0h1m1.5 0h1m1.5 0h1m.5 0h1m1 0h1m-.5 0h1m-.5 0h1m-.5 0h1m-.5 0h1m-.5 0h1m-.5 0h1m-.5 0h1m0 0h1m-.5 0h1m-.5 0h1m-.5 0h1m-.5 0h1m-.5 0h1m-.5 0h1m-.5 0h1m-.5 0h1m-.5 0h1m0 0h1m-.5 0h1m0 0h1m5 0h1m4 0h1m-37.5 .5h1m2.5 0h1m2.5 0h1m1.5 0h1m-.5 0h1m-.5 0h1m0 0h1m.5 0h1m-.5 0h1m-.5 0h1m-.5 0h1m-.5 0h1m-.5 0h1m-.5 0h1m-.5 0h1m-.5 0h1m0 0h1m-.5 0h1m-.5 0h1m-.5 0h1m0 0h1m-.5 0h1m-.5 0h1m0 0h1m0 0h1m0 0h1m1.5 0h1m.5 0h1m.5 0h1m.5 0h1m-.5 0h1m10.5 0h1m25.5 0h1m-77.5 .5h1m9.5 0h1m.5 0h1m0 0h1m-.5 0h1m.5 0h1m0 0h1m-.5 0h1m1 0h1m-.5 0h1m-.5 0h1m-.5 0h1m-.5 0h1m0 0h1m-.5 0h1m.5 0h1m-.5 0h1m1 0h1m-.5 0h1m-.5 0h1m0 0h1m-.5 0h1m-.5 0h1m-.5 0h1m.5 0h1m-.5 0h1m0 0h1m.5 0h1m0 0h1m2.5 0h1m0 0h1m0 0h1m15 0h1m1 0h1m0 0h1m1 0h1m-51.5 .5h1m1 0h1m-.5 0h1m1 0h1m.5 0h1m-.5 0h1m-.5 0h1m1.5 0h1m-.5 0h1m0 0h1m-.5 0h1m-.5 0h1m-.5 0h1m1 0h1m.5 0h1m-.5 0h1m-.5 0h1m0 0h1m.5 0h1m-.5 0h1m19 0h1m-37.5 .5h1m0 0h1m3 0h1m-.5 0h1m.5 0h1m-.5 0h1m-.5 0h1m0 0h1m-.5 0h1m-.5 0h1m-.5 0h1m-.5 0h1m0 0h1m-.5 0h1m-.5 0h1m-.5 0h1m0 0h1m-.5 0h1m0 0h1m-.5 0h1m-.5 0h1m3 0h1m1.5 0h1m0 0h1m4 0h1m-40.5 .5h1m3 0h1m4.5 0h1m1.5 0h1m0 0h1m-.5 0h1m-.5 0h1m0 0h1m-.5 0h1m-.5 0h1m-.5 0h1m0 0h1m-.5 0h1m-.5 0h1m0 0h1m-.5 0h1m0 0h1m-.5 0h1m0 0h1m-.5 0h1m0 0h1m-.5 0h1m.5 0h1m-.5 0h1m.5 0h1m-.5 0h1m-.5 0h1m.5 0h1m2 0h1m.5 0h1m-39 .5h1m4 0h1m5 0h1m-.5 0h1m3.5 0h1m0 0h1m-.5 0h1m-.5 0h1m-.5 0h1m-.5 0h1m-.5 0h1m-.5 0h1m0 0h1m-.5 0h1m-.5 0h1m0 0h1m-.5 0h1m-.5 0h1m-.5 0h1m0 0h1m-.5 0h1m-.5 0h1m-.5 0h1m-.5 0h1m0 0h1m.5 0h1m1 0h1m-.5 0h1m-.5 0h1m0 0h1m6.5 0h1m-34.5 .5h1m5 0h1m-.5 0h1m0 0h1m-.5 0h1m2 0h1m0 0h1m.5 0h1m0 0h1m0 0h1m-.5 0h1m-.5 0h1m-.5 0h1m0 0h1m0 0h1m.5 0h1m-.5 0h1m-.5 0h1m0 0h1m1 0h1m1.5 0h1m-.5 0h1m3 0h1m19 0h1m-57 .5h1m-.5 0h1m1.5 0h1m6.5 0h1m2.5 0h1m2.5 0h1m.5 0h1m-.5 0h1m-.5 0h1m-.5 0h1m-.5 0h1m0 0h1m-.5 0h1m0 0h1m.5 0h1m-.5 0h1m4 0h1m34 0h1m-77.5 .5h1m13.5 0h1m-.5 0h1m1.5 0h1m1 0h1m.5 0h1m.5 0h1m-.5 0h1m.5 0h1m0 0h1m2.5 0h1m-.5 0h1m-.5 0h1m-.5 0h1m0 0h1m-.5 0h1m.5 0h1m0 0h1m.5 0h1m-.5 0h1m.5 0h1m.5 0h1m.5 0h1m2.5 0h1m-26.5 .5h1m1.5 0h1m-.5 0h1m-.5 0h1m1 0h1m1.5 0h1m-.5 0h1m-.5 0h1m1 0h1m-.5 0h1m0 0h1m-.5 0h1m1 0h1m0 0h1m-.5 0h1m0 0h1m-.5 0h1m-.5 0h1m-.5 0h1m1.5 0h1m-.5 0h1m-.5 0h1m2 0h1m1 0h1m2.5 0h1m0 0h1m18 0h1m8 0h1m-67.5 .5h1m3 0h1m1.5 0h1m0 0h1m2 0h1m-.5 0h1m.5 0h1m-.5 0h1m0 0h1m-.5 0h1m.5 0h1m0 0h1m-.5 0h1m.5 0h1m-.5 0h1m.5 0h1m0 0h1m.5 0h1m1 0h1m-.5 0h1m-.5 0h1m-.5 0h1m-.5 0h1m.5 0h1m4.5 0h1m14 0h1m-48.5 .5h1m7.5 0h1m0 0h1m-.5 0h1m-.5 0h1m-.5 0h1m0 0h1m0 0h1m-.5 0h1m-.5 0h1m0 0h1m-.5 0h1m1 0h1m-.5 0h1m.5 0h1m-.5 0h1m-.5 0h1m-.5 0h1m1 0h1m4.5 0h1m7 0h1m11 0h1m-49 .5h1m5 0h1m0 0h1m.5 0h1m-.5 0h1m0 0h1m.5 0h1m2 0h1m-.5 0h1m-.5 0h1m-.5 0h1m-.5 0h1m0 0h1m-.5 0h1m-.5 0h1m-.5 0h1m-.5 0h1m0 0h1m-.5 0h1m2.5 0h1m0 0h1m.5 0h1m11.5 0h1m29.5 0h1m-82.5 .5h1m0 0h1m-.5 0h1m10.5 0h1m2 0h1m1.5 0h1m0 0h1m.5 0h1m0 0h1m-.5 0h1m.5 0h1m0 0h1m-.5 0h1m0 0h1m0 0h1m0 0h1m1 0h1m2 0h1m-.5 0h1m5 0h1m23 0h1m-60.5 .5h1m6.5 0h1m0 0h1m2 0h1m.5 0h1m2.5 0h1m3.5 0h1m-.5 0h1m-.5 0h1m0 0h1m0 0h1m1.5 0h1m0 0h1m-.5 0h1m5 0h1m2.5 0h1m39 0h1m-71 .5h1m2 0h1m-.5 0h1m-.5 0h1m-.5 0h1m2 0h1m1 0h1m1 0h1m-.5 0h1m0 0h1m-.5 0h1m-.5 0h1m1.5 0h1m1.5 0h1m0 0h1m-.5 0h1m27 0h1m19.5 0h1m-82.5 .5h1m12 0h1m2 0h1m.5 0h1m0 0h1m1 0h1m0 0h1m0 0h1m1 0h1m.5 0h1m0 0h1m.5 0h1m0 0h1m0 0h1m0 0h1m0 0h1m-.5 0h1m.5 0h1m2 0h1m-.5 0h1m9.5 0h1m13 0h1m-55 .5h1m9.5 0h1m4 0h1m.5 0h1m0 0h1m.5 0h1m-.5 0h1m2 0h1m-.5 0h1m0 0h1m-.5 0h1m0 0h1m0 0h1m3 0h1m1.5 0h1m6 0h1m14.5 0h1m-49 .5h1m.5 0h1m4.5 0h1m2 0h1m-.5 0h1m-.5 0h1m-.5 0h1m0 0h1m1.5 0h1m2 0h1m7 0h1m-28 .5h1m4 0h1m0 0h1m1 0h1m-.5 0h1m0 0h1m-.5 0h1m1 0h1m0 0h1m1.5 0h1m-.5 0h1m-.5 0h1m7 0h1m8 0h1m-42 .5h1m10 0h1m1.5 0h1m0 0h1m3 0h1m-.5 0h1m0 0h1m-.5 0h1m8.5 0h1m-41 .5h1m17.5 0h1m2 0h1m2 0h1m2 0h1m.5 0h1m.5 0h1m-.5 0h1m2 0h1m2 0h1m.5 0h1m-.5 0h1m7 0h1m-28.5 .5h1m.5 0h1m1 0h1m3.5 0h1m.5 0h1m1.5 0h1m1 0h1m3 0h1m0 0h1m3 0h1m-24 .5h1m5.5 0h1m.5 0h1m2 0h1m-.5 0h1m0 0h1m-19 .5h1m-.5 0h1m0 0h1m0 0h1m2.5 0h1m-.5 0h1m3 0h1m-.5 0h1m.5 0h1m2.5 0h1m10 0h1m18 0h1m-42.5 .5h1m.5 0h1m7 0h1m0 0h1m0 0h1m.5 0h1m-.5 0h1m1 0h1m1.5 0h1m43.5 0h1m-70.5 .5h1m11.5 0h1m-.5 0h1m2 0h1m1.5 0h1m-.5 0h1m2 0h1m0 0h1m0 0h1m0 0h1m0 0h1m0 0h1m4.5 0h1m-24 .5h1m6 0h1m1.5 0h1m6 0h1m3.5 0h1m9 0h1m19 0h1m-57.5 .5h1m1.5 0h1m15.5 0h1m4.5 0h1m0 0h1m5.5 0h1m17.5 0h1m15.5 0h1m-80 .5h1m3 0h1m13.5 0h1m2.5 0h1m-.5 0h1m1.5 0h1m.5 0h1m1 0h1m12 0h1m-42.5 .5h1m4 0h1m1 0h1m7 0h1m7 0h1m4 0h1m1.5 0h1m.5 0h1m9 0h1m6.5 0h1m9.5 0h1m19.5 0h1m-66.5 .5h1m7 0h1m4 0h1m9.5 0h1m-14 .5h1m.5 0h1m3 0h1m0 0h1m1 0h1m6.5 0h1m23 0h1m-61.5 .5h1m11 0h1m7 0h1m14 0h1m-23 .5h1m.5 0h1m0 0h1m2.5 0h1m-.5 0h1m4.5 0h1m1.5 0h1m-21 .5h1m1 0h1m3.5 0h1m37 0h1m-60 .5h1m16.5 0h1m3.5 0h1m0 0h1m3 0h1m15.5 0h1m-15 .5h1m9 0h1m-21.5 .5h1m2 0h1m2.5 0h1m41 0h1m-38 .5h1m0 0h1m5.5 0h1m1 0h1m6 0h1m-51 .5h1m22.5 0h1m12.5 0h1m24 0h1m-37.5 .5h1m8 0h1m7.5 0h1m-21 .5h1m4.5 0h1m0 0h1m9 0h1m18.5 .5h1m15.5 0h1m-73 1h1m20.5 0h1m3.5 0h1m8 0h1m-35 .5h1m8.5 0h1m16 .5h1m26 .5h1m-23.5 .5h1" stroke="#161616" stroke-width="0.9" stroke-opacity="0.48"/>
<g filter="url(#b1)"><ellipse cx="310" cy="882.5" rx="3.6" ry="4.05" fill="#222" opacity="0.45"/><ellipse cx="321.5" cy="847" rx="2.025" ry="1.8" fill="#000" opacity="0.7"/></g>
<rect x="277" y="820.5" width="90.5" height="89" fill="none" stroke="#b4b4b4" stroke-width="0.8"/>
<line x1="277" y1="820.5" x2="277" y2="909.5" stroke="#555" stroke-width="0.9" />
<line x1="277" y1="909.5" x2="367.5" y2="909.5" stroke="#555" stroke-width="0.9" />
<path d="M275 828h2M275 844.2h2M275 860.5h2M275 877h2M275 892.5h2M275 907.5h2M277 909.5v2M292 909.5v2M307.5 909.5v2M323.7 909.5v2M340 909.5v2M357.5 909.5v2" stroke="#333" stroke-width="0.9"/>
<path d="M275.8 839.3h1.2M275.8 836.5h1.2M275.8 834.4h1.2M275.8 832.9h1.2M275.8 831.6h1.2M275.8 830.5h1.2M275.8 829.6h1.2M275.8 828.7h1.2M275.8 855.6h1.2M275.8 852.7h1.2M275.8 850.7h1.2M275.8 849.1h1.2M275.8 847.8h1.2M275.8 846.7h1.2M275.8 845.8h1.2M275.8 844.9h1.2M275.8 872h1.2M275.8 869.1h1.2M275.8 867.1h1.2M275.8 865.5h1.2M275.8 864.2h1.2M275.8 863.1h1.2M275.8 862.1h1.2M275.8 861.3h1.2M275.8 887.8h1.2M275.8 885.1h1.2M275.8 883.2h1.2M275.8 881.7h1.2M275.8 880.4h1.2M275.8 879.4h1.2M275.8 878.5h1.2M275.8 877.7h1.2M275.8 903h1.2M275.8 900.3h1.2M275.8 898.5h1.2M275.8 897h1.2M275.8 895.8h1.2M275.8 894.8h1.2M275.8 894h1.2M275.8 893.2h1.2M281.5 909.5v1.2M284.2 909.5v1.2M286 909.5v1.2M287.5 909.5v1.2M288.7 909.5v1.2M289.7 909.5v1.2M290.5 909.5v1.2M291.3 909.5v1.2M296.7 909.5v1.2M299.4 909.5v1.2M301.3 909.5v1.2M302.8 909.5v1.2M304.1 909.5v1.2M305.1 909.5v1.2M306 909.5v1.2M306.8 909.5v1.2M312.4 909.5v1.2M315.2 909.5v1.2M317.3 909.5v1.2M318.8 909.5v1.2M320.1 909.5v1.2M321.2 909.5v1.2M322.1 909.5v1.2M323 909.5v1.2M328.6 909.5v1.2M331.5 909.5v1.2M333.5 909.5v1.2M335.1 909.5v1.2M336.4 909.5v1.2M337.5 909.5v1.2M338.4 909.5v1.2M339.3 909.5v1.2M345.3 909.5v1.2M348.3 909.5v1.2M350.5 909.5v1.2M352.2 909.5v1.2M353.6 909.5v1.2M354.8 909.5v1.2M355.8 909.5v1.2M356.7 909.5v1.2" stroke="#666" stroke-width="0.6"/>
<text transform="translate(259.9,830.6) scale(1.08,1)" font-size="7.4" fill="#0a0a0a">10<tspan dy="-2.6" font-size="5.6">5</tspan></text>
<text transform="translate(259.9,846.8) scale(1.08,1)" font-size="7.4" fill="#0a0a0a">10<tspan dy="-2.6" font-size="5.6">4</tspan></text>
<text transform="translate(259.9,863.1) scale(1.08,1)" font-size="7.4" fill="#0a0a0a">10<tspan dy="-2.6" font-size="5.6">3</tspan></text>
<text transform="translate(259.9,879.6) scale(1.08,1)" font-size="7.4" fill="#0a0a0a">10<tspan dy="-2.6" font-size="5.6">2</tspan></text>
<text transform="translate(259.9,895.1) scale(1.08,1)" font-size="7.4" fill="#0a0a0a">10<tspan dy="-2.6" font-size="5.6">1</tspan></text>
<text transform="translate(259.9,910.1) scale(1.08,1)" font-size="7.4" fill="#0a0a0a">10<tspan dy="-2.6" font-size="5.6">0</tspan></text>
<text transform="translate(272.7,923.3) scale(1.08,1)" font-size="7.2" fill="#0a0a0a">10<tspan dy="-2.6" font-size="5.5">0</tspan></text>
<text transform="translate(287.7,923.3) scale(1.08,1)" font-size="7.2" fill="#0a0a0a">10<tspan dy="-2.6" font-size="5.5">1</tspan></text>
<text transform="translate(303.2,923.3) scale(1.08,1)" font-size="7.2" fill="#0a0a0a">10<tspan dy="-2.6" font-size="5.5">2</tspan></text>
<text transform="translate(319.4,923.3) scale(1.08,1)" font-size="7.2" fill="#0a0a0a">10<tspan dy="-2.6" font-size="5.5">3</tspan></text>
<text transform="translate(335.7,923.3) scale(1.08,1)" font-size="7.2" fill="#0a0a0a">10<tspan dy="-2.6" font-size="5.5">4</tspan></text>
<text transform="translate(353.2,923.3) scale(1.08,1)" font-size="7.2" fill="#0a0a0a">10<tspan dy="-2.6" font-size="5.5">5</tspan></text>
<rect x="304.2" y="834" width="26.3" height="22.5" fill="none" stroke="#444" stroke-width="0.9"/>
<rect x="335.4" y="866.9" width="29" height="29.4" fill="none" stroke="#444" stroke-width="0.9"/>
<text x="304.6" y="825.8" font-size="4" text-anchor="middle" fill="#0a0a0a" >Mouse CD45</text>
<text x="305" y="831" font-size="4" text-anchor="middle" fill="#0a0a0a" >16.6</text>
<text x="332" y="847.3" font-size="7.5" text-anchor="start" fill="#0a0a0a" >16.6%</text>
<text x="336" y="895.2" font-size="7.6" text-anchor="start" fill="#0a0a0a" >0.045%</text>
<text x="348.3" y="900.3" font-size="4" text-anchor="middle" fill="#0a0a0a" >Human CD45</text>
<text x="348.3" y="905.5" font-size="4" text-anchor="middle" fill="#0a0a0a" >0.045</text>
<text x="462.7" y="808.7" font-size="10.5" text-anchor="middle" fill="#0a0a0a" textLength="42.7" lengthAdjust="spacingAndGlyphs">5 months</text>
<path d="M432 822.5h1m-14 1h1m22 1h1m-16 1h1m21 0h1m-4 1h1m-27 1h1m4 0h1m8 0h1m3 1h1m-20 1h1m2 0h1m6 0h1m4 0h1m4 0h1m4 0h1m0 0h1m1 0h1m1 0h1m-24 1h1m5 0h1m1 0h1m3 0h1m1 0h1m0 0h1m4 0h1m0 0h1m5 1h1m3 0h1m-5 1h1m-1 1h1m0 0h1m2 0h1m-3 1h1m1 3h1m0 0h1m-1 2h1m0 0h1m0 1h1m-1 2h1m2 1h1m0 1h1m-6 1h1m-1 3h1m-1 2h1m3 3h1m-4 3h1m-7 3h1m3 0h1m-5 1h1m-4 1h1m6 0h1m-42 1h1m7 0h1m5 0h1m3 0h1m0 0h1m0 0h1m4 0h1m1 0h1m0 0h1m0 0h1m-15 1h1m1 0h1m0 0h1m6 0h1m3 0h1m4 0h1m-37 1h1m4 0h1m17 0h1m0 0h1m8 0h1m-29 1h1m9 0h1m5 0h1m8 0h1m-29 4h1" stroke="#28309c" stroke-width="1.0" stroke-opacity="0.92"/>
<path d="M416 831.5h1m2 0h1m4 0h1m0 0h1m0 0h1m3 0h1m0 0h1m5 0h1m1 0h1m2 0h1m2 0h1m2 0h1m-33 1h1m0 0h1m1 0h1m2 0h1m0 0h1m0 0h1m2 0h1m2 0h1m3 0h1m0 0h1m0 0h1m0 0h1m0 0h1m1 0h1m0 0h1m1 0h1m2 0h1m1 0h1m2 0h1m-4 1h1m2 0h1m-1 1h1m1 0h1m-1 1h1m-1 1h1m0 1h1m0 1h1m0 2h1m0 1h1m0 2h1m-2 2h1m0 0h1m-2 3h1m0 0h1m-2 1h1m-1 1h1m-1 1h1m0 0h1m-3 1h1m-1 1h1m0 0h1m-4 2h1m-2 1h1m0 0h1m-3 1h1m0 0h1m-2 1h1m0 0h1m-6 1h1m1 0h1m-36 1h1m2 0h1m1 0h1m2 0h1m1 0h1m0 0h1m0 0h1m0 0h1m0 0h1m0 0h1m0 0h1m1 0h1m2 0h1m0 0h1m0 0h1m0 0h1m2 0h1m0 0h1m1 0h1m0 0h1m-33 1h1m0 0h1m0 0h1m0 0h1m1 0h1m0 0h1m2 0h1m2 0h1m0 0h1m0 0h1m0 0h1m0 0h1m1 0h1m0 0h1m1 0h1m0 0h1m6 0h1m0 0h1m3 0h1" stroke="#2938a8" stroke-width="1.0" stroke-opacity="0.92"/>
<path d="M414 833.5h1m0 0h1m0 0h1m0 0h1m0 0h1m0 0h1m0 0h1m0 0h1m0 0h1m0 0h1m0 0h1m0 0h1m0 0h1m0 0h1m0 0h1m0 0h1m0 0h1m0 0h1m0 0h1m0 0h1m0 0h1m0 0h1m0 0h1m0 0h1m0 0h1m0 0h1m0 0h1m0 0h1m0 0h1m0 0h1m0 0h1m0 0h1m0 0h1m0 0h1m-34 1h1m0 0h1m0 0h1m0 0h1m0 0h1m0 0h1m0 0h1m0 0h1m0 0h1m0 0h1m0 0h1m0 0h1m0 0h1m0 0h1m0 0h1m0 0h1m0 0h1m0 0h1m0 0h1m0 0h1m0 0h1m0 0h1m0 0h1m0 0h1m0 0h1m0 0h1m0 0h1m0 0h1m0 0h1m0 0h1m0 0h1m0 0h1m0 0h1m0 0h1m0 0h1m0 0h1m0 0h1m-37 1h1m0 0h1m0 0h1m0 0h1m0 0h1m0 0h1m0 0h1m0 0h1m0 0h1m0 0h1m0 0h1m0 0h1m0 0h1m0 0h1m0 0h1m0 0h1m0 0h1m0 0h1m0 0h1m0 0h1m0 0h1m0 0h1m0 0h1m0 0h1m0 0h1m0 0h1m0 0h1m0 0h1m0 0h1m0 0h1m0 0h1m0 0h1m0 0h1m0 0h1m0 0h1m0 0h1m0 0h1m0 0h1m-38 1h1m0 0h1m0 0h1m0 0h1m0 0h1m0 0h1m0 0h1m0 0h1m0 0h1m0 0h1m0 0h1m0 0h1m0 0h1m0 0h1m0 0h1m0 0h1m0 0h1m0 0h1m19 0h1m0 0h1m-39 1h1m0 0h1m0 0h1m0 0h1m0 0h1m0 0h1m0 0h1m0 0h1m0 0h1m0 0h1m0 0h1m0 0h1m0 0h1m0 0h1m0 0h1m0 0h1m0 0h1m21 0h1m0 0h1m-40 1h1m0 0h1m0 0h1m0 0h1m0 0h1m0 0h1m0 0h1m0 0h1m0 0h1m0 0h1m0 0h1m0 0h1m0 0h1m0 0h1m0 0h1m0 0h1m22 0h1m0 0h1m0 0h1m-41 1h1m0 0h1m0 0h1m0 0h1m0 0h1m0 0h1m0 0h1m0 0h1m0 0h1m0 0h1m0 0h1m0 0h1m0 0h1m0 0h1m0 0h1m0 0h1m22 0h1m0 0h1m0 0h1m0 0h1m-42 1h1m0 0h1m0 0h1m0 0h1m0 0h1m0 0h1m0 0h1m0 0h1m0 0h1m0 0h1m0 0h1m0 0h1m0 0h1m0 0h1m0 0h1m0 0h1m22 0h1m0 0h1m0 0h1m0 0h1m-4 1h1m0 0h1m0 0h1m0 0h1m0 0h1m-5 1h1m0 0h1m0 0h1m0 0h1m0 0h1m-5 1h1m0 0h1m0 0h1m0 0h1m0 0h1m-5 1h1m0 0h1m0 0h1m0 0h1m0 0h1m-5 1h1m0 0h1m0 0h1m0 0h1m0 0h1m-5 1h1m0 0h1m0 0h1m0 0h1m0 0h1m0 0h1m-6 1h1m0 0h1m0 0h1m0 0h1m0 0h1m-5 1h1m0 0h1m0 0h1m0 0h1m0 0h1m-5 1h1m0 0h1m0 0h1m0 0h1m0 0h1m-5 1h1m0 0h1m0 0h1m0 0h1m0 0h1m-43 1h1m0 0h1m0 0h1m0 0h1m0 0h1m0 0h1m0 0h1m0 0h1m0 0h1m0 0h1m0 0h1m0 0h1m0 0h1m0 0h1m0 0h1m0 0h1m22 0h1m0 0h1m0 0h1m0 0h1m0 0h1m-43 1h1m0 0h1m0 0h1m0 0h1m0 0h1m0 0h1m0 0h1m0 0h1m0 0h1m0 0h1m0 0h1m0 0h1m0 0h1m0 0h1m0 0h1m0 0h1m22 0h1m0 0h1m0 0h1m0 0h1m-42 1h1m0 0h1m0 0h1m0 0h1m0 0h1m0 0h1m0 0h1m0 0h1m0 0h1m0 0h1m0 0h1m0 0h1m0 0h1m0 0h1m0 0h1m0 0h1m22 0h1m0 0h1m0 0h1m0 0h1m-42 1h1m0 0h1m0 0h1m0 0h1m0 0h1m0 0h1m0 0h1m0 0h1m0 0h1m0 0h1m0 0h1m0 0h1m0 0h1m0 0h1m0 0h1m0 0h1m22 0h1m0 0h1m0 0h1m-41 1h1m0 0h1m0 0h1m0 0h1m0 0h1m0 0h1m0 0h1m0 0h1m0 0h1m0 0h1m0 0h1m0 0h1m0 0h1m0 0h1m0 0h1m0 0h1m22 0h1m0 0h1m-40 1h1m0 0h1m0 0h1m0 0h1m0 0h1m0 0h1m0 0h1m0 0h1m0 0h1m0 0h1m0 0h1m0 0h1m0 0h1m0 0h1m0 0h1m0 0h1m0 0h1m21 0h1m-39 1h1m0 0h1m0 0h1m0 0h1m0 0h1m0 0h1m0 0h1m0 0h1m0 0h1m0 0h1m0 0h1m0 0h1m0 0h1m0 0h1m0 0h1m0 0h1m0 0h1m0 0h1m19 0h1m-38 1h1m0 0h1m0 0h1m0 0h1m0 0h1m0 0h1m0 0h1m0 0h1m0 0h1m0 0h1m0 0h1m0 0h1m0 0h1m0 0h1m0 0h1m0 0h1m0 0h1m0 0h1m0 0h1m0 0h1m0 0h1m0 0h1m0 0h1m0 0h1m0 0h1m0 0h1m0 0h1m0 0h1m0 0h1m0 0h1m0 0h1m0 0h1m0 0h1m0 0h1m0 0h1m0 0h1m0 0h1m-37 1h1m0 0h1m0 0h1m0 0h1m0 0h1m0 0h1m0 0h1m0 0h1m0 0h1m0 0h1m0 0h1m0 0h1m0 0h1m0 0h1m0 0h1m0 0h1m0 0h1m0 0h1m0 0h1m0 0h1m0 0h1m0 0h1m0 0h1m0 0h1m0 0h1m0 0h1m0 0h1m0 0h1m0 0h1m0 0h1m0 0h1m0 0h1m0 0h1m0 0h1" stroke="#2c4ac0" stroke-width="1.0" stroke-opacity="0.92"/>
<path d="M432 836.5h1m0 0h1m0 0h1m0 0h1m0 0h1m0 0h1m0 0h1m0 0h1m0 0h1m0 0h1m0 0h1m0 0h1m0 0h1m0 0h1m0 0h1m0 0h1m0 0h1m0 0h1m0 0h1m0 1h1m-22 1h1m-1 1h1m-1 1h1m-17 1h1m0 0h1m0 0h1m0 0h1m0 0h1m0 0h1m0 0h1m0 0h1m0 0h1m0 0h1m0 0h1m0 0h1m0 0h1m0 0h1m0 0h1m0 0h1m0 0h1m-17 1h1m0 0h1m0 0h1m0 0h1m0 0h1m0 0h1m0 0h1m0 0h1m0 0h1m0 0h1m0 0h1m0 0h1m0 0h1m0 0h1m0 0h1m0 0h1m0 0h1m-17 1h1m0 0h1m0 0h1m0 0h1m0 0h1m0 0h1m0 0h1m0 0h1m0 0h1m0 0h1m0 0h1m0 0h1m0 0h1m0 0h1m0 0h1m0 0h1m0 0h1m-2 1h1m0 0h1m-1 1h1m-1 1h1m-2 1h1m0 0h1m-17 1h1m0 0h1m0 0h1m0 0h1m0 0h1m0 0h1m0 0h1m0 0h1m0 0h1m0 0h1m0 0h1m0 0h1m0 0h1m0 0h1m0 0h1m0 0h1m0 0h1m-17 1h1m0 0h1m0 0h1m0 0h1m0 0h1m0 0h1m0 0h1m0 0h1m0 0h1m0 0h1m0 0h1m0 0h1m0 0h1m0 0h1m0 0h1m0 0h1m0 0h1m-17 1h1m0 0h1m0 0h1m0 0h1m0 0h1m0 0h1m0 0h1m0 0h1m0 0h1m0 0h1m0 0h1m0 0h1m0 0h1m0 0h1m0 0h1m0 0h1m0 0h1m-1 1h1m-1 1h1m-1 1h1m-1 1h1m-1 1h1m20 1h1m-20 1h1m0 0h1m0 0h1m0 0h1m0 0h1m0 0h1m0 0h1m0 0h1m0 0h1m0 0h1m0 0h1m0 0h1m0 0h1m0 0h1m0 0h1m0 0h1m0 0h1m0 0h1m0 0h1" stroke="#2e5aca" stroke-width="1.0" stroke-opacity="0.92"/>
<path d="M431 837.5h1m19 1h1m-1 1h1m-1 1h1m-1 1h1m-1 1h1m-1 1h1m-38 1h1m0 0h1m0 0h1m0 0h1m0 0h1m0 0h1m0 0h1m0 0h1m0 0h1m0 0h1m0 0h1m0 0h1m0 0h1m0 0h1m0 0h1m22 0h1m-38 1h1m0 0h1m0 0h1m0 0h1m0 0h1m0 0h1m0 0h1m0 0h1m0 0h1m0 0h1m0 0h1m0 0h1m0 0h1m0 0h1m0 0h1m0 0h1m21 0h1m-38 1h1m0 0h1m0 0h1m0 0h1m0 0h1m0 0h1m0 0h1m0 0h1m0 0h1m0 0h1m0 0h1m0 0h1m0 0h1m0 0h1m0 0h1m0 0h1m21 0h1m-38 1h1m0 0h1m0 0h1m0 0h1m0 0h1m0 0h1m0 0h1m0 0h1m0 0h1m0 0h1m0 0h1m0 0h1m0 0h1m0 0h1m0 0h1m22 0h1m-1 1h1m-1 1h1m-1 1h1m-1 1h1m-1 1h1m-1 1h1m-1 1h1m-1 1h1m-21 1h1" stroke="#306ad4" stroke-width="1.0" stroke-opacity="0.92"/>
<path d="M450 837.5h1m-20 1h1m-1 1h1m-1 1h1m-1 1h1m-1 1h1m-1 1h1m-1 1h1m-1 1h1m-1 1h1m-1 1h1m-1 1h1m-1 1h1m-1 1h1m-1 1h1m-1 1h1m-1 1h1m-1 1h1m-1 1h1m18 1h1" stroke="#327cdc" stroke-width="1.0" stroke-opacity="0.92"/>
<path d="M432 837.5h1m0 0h1m0 0h1m0 0h1m0 0h1m0 0h1m0 0h1m0 0h1m0 0h1m0 0h1m0 0h1m0 0h1m0 0h1m0 0h1m0 0h1m0 0h1m0 0h1m0 0h1m0 1h1m-1 1h1m-1 1h1m-1 1h1m-1 1h1m-1 1h1m-1 1h1m-1 1h1m-1 1h1m-1 1h1m-1 1h1m-1 1h1m-1 1h1m-1 1h1m-1 1h1m-1 1h1m-1 1h1m-1 1h1m-19 1h1m0 0h1m0 0h1m0 0h1m0 0h1m0 0h1m0 0h1m0 0h1m0 0h1m0 0h1m0 0h1m0 0h1m0 0h1m0 0h1m0 0h1m0 0h1m0 0h1m0 0h1" stroke="#3692e0" stroke-width="1.0" stroke-opacity="0.92"/>
<path d="M432 838.5h1m0 0h1m0 0h1m0 0h1m0 0h1m0 0h1m0 0h1m0 0h1m0 0h1m0 0h1m0 0h1m0 0h1m0 0h1m0 0h1m0 0h1m0 0h1m0 0h1m0 0h1m-18 1h1m0 0h1m0 0h1m13 0h1m0 0h1m-18 1h1m0 0h1m15 0h1m-18 1h1m0 0h1m15 0h1m-18 1h1m0 0h1m15 0h1m-18 1h1m0 0h1m15 0h1m-18 1h1m0 0h1m15 0h1m-18 1h1m0 0h1m15 0h1m-18 1h1m0 0h1m15 0h1m-18 1h1m0 0h1m15 0h1m-18 1h1m0 0h1m15 0h1m-18 1h1m0 0h1m15 0h1m-18 1h1m0 0h1m15 0h1m-18 1h1m0 0h1m15 0h1m-18 1h1m0 0h1m15 0h1m-18 1h1m0 0h1m15 0h1m-18 1h1m0 0h1m15 0h1m-18 1h1m0 0h1m0 0h1m0 0h1m0 0h1m0 0h1m0 0h1m0 0h1m0 0h1m0 0h1m0 0h1m0 0h1m0 0h1m0 0h1m0 0h1m0 0h1m0 0h1m0 0h1" stroke="#3aa8e4" stroke-width="1.0" stroke-opacity="0.92"/>
<path d="M435 839.5h1m0 0h1m0 0h1m0 0h1m0 0h1m0 0h1m0 0h1m0 0h1m0 0h1m0 0h1m0 0h1m0 0h1m0 0h1m-14 1h1m13 0h1m-15 14h1m13 0h1" stroke="#42b8cc" stroke-width="1.0" stroke-opacity="0.92"/>
<path d="M434 841.5h1m13 0h1m-15 1h1m13 0h1m-15 1h1m13 0h1m-15 1h1m13 0h1m-15 1h1m13 0h1m-15 1h1m13 0h1m-15 1h1m13 0h1m-15 1h1m13 0h1m-15 1h1m13 0h1m-15 1h1m13 0h1m-15 1h1m13 0h1m-15 1h1m13 0h1m-15 1h1m13 0h1m-14 1h1m0 0h1m0 0h1m0 0h1m0 0h1m0 0h1m0 0h1m0 0h1m0 0h1m0 0h1m0 0h1m0 0h1m0 0h1" stroke="#50c199" stroke-width="1.0" stroke-opacity="0.92"/>
<path d="M435 840.5h1m0 0h1m0 0h1m0 0h1m0 0h1m0 0h1m0 0h1m0 0h1m0 0h1m0 0h1m0 0h1m0 0h1m0 0h1m-13 13h1m11 0h1" stroke="#5ec86f" stroke-width="1.0" stroke-opacity="0.92"/>
<path d="M435 841.5h1m0 0h1m0 0h1m0 0h1m0 0h1m0 0h1m0 0h1m0 0h1m0 0h1m0 0h1m0 0h1m0 0h1m0 0h1m-13 1h1m0 0h1m0 0h1m0 0h1m0 0h1m0 0h1m0 0h1m0 0h1m0 0h1m0 0h1m0 0h1m0 0h1m0 0h1m-13 1h1m0 0h1m0 0h1m0 0h1m0 0h1m0 0h1m0 0h1m0 0h1m0 0h1m0 0h1m0 0h1m0 0h1m0 0h1m-13 1h1m0 0h1m0 0h1m0 0h1m4 0h1m0 0h1m0 0h1m0 0h1m0 0h1m-13 1h1m0 0h1m0 0h1m6 0h1m0 0h1m0 0h1m0 0h1m-13 1h1m0 0h1m8 0h1m0 0h1m0 0h1m-13 1h1m0 0h1m8 0h1m0 0h1m0 0h1m-13 1h1m0 0h1m8 0h1m0 0h1m0 0h1m-13 1h1m0 0h1m8 0h1m0 0h1m0 0h1m-13 1h1m0 0h1m0 0h1m6 0h1m0 0h1m0 0h1m0 0h1m-13 1h1m0 0h1m0 0h1m0 0h1m4 0h1m0 0h1m0 0h1m0 0h1m0 0h1m-13 1h1m0 0h1m0 0h1m0 0h1m0 0h1m0 0h1m0 0h1m0 0h1m0 0h1m0 0h1m0 0h1m0 0h1m0 0h1m-12 1h1m0 0h1m0 0h1m0 0h1m0 0h1m0 0h1m0 0h1m0 0h1m0 0h1m0 0h1m0 0h1" stroke="#6bc855" stroke-width="1.0" stroke-opacity="0.92"/>
<path d="M439 844.5h1m0 0h1m0 0h1m0 0h1m-5 1h1m0 0h1m0 0h1m0 0h1m0 0h1m0 0h1m-7 1h1m0 0h1m0 0h1m2 0h1m0 0h1m0 0h1m-8 1h1m0 0h1m4 0h1m0 0h1m-8 1h1m0 0h1m4 0h1m0 0h1m-8 1h1m0 0h1m0 0h1m2 0h1m0 0h1m0 0h1m-7 1h1m0 0h1m0 0h1m0 0h1m0 0h1m0 0h1m-5 1h1m0 0h1m0 0h1m0 0h1" stroke="#78c83c" stroke-width="1.0" stroke-opacity="0.92"/>
<path d="M440 846.5h1m0 0h1m-3 1h1m0 0h1m0 0h1m0 0h1m-4 1h1m0 0h1m0 0h1m0 0h1m-3 1h1m0 0h1" stroke="#b5d536" stroke-width="1.0" stroke-opacity="0.92"/>
<path d="M477 822.5h1m23 2h1m-36 .5h1m9 2.5h1m2 0h1m22.5 1.5h1m4 .5h1m-15.5 .5h1m-28.5 1h1m4.5 0h1m-6.5 .5h1m20.5 0h1m9 0h1m-27 .5h1m27.5 0h1m-29.5 1.5h1m34 0h1m-39 1h1m3 1h1m1.5 0h1m-5 .5h1m2.5 0h1m1 1.5h1m18.5 0h1m-16.5 .5h1m-12.5 1.5h1m-.5 0h1m2.5 0h1m-7 .5h1m-2.5 .5h1m7.5 0h1m18.5 0h1m-27.5 .5h1m5 .5h1m2.5 0h1m10.5 0h1m-23.5 .5h1m1 .5h1m0 0h1m7.5 0h1m0 0h1m2 0h1m-13.5 .5h1m-.5 0h1m16.5 0h1m3 0h1m-23.5 1h1m1 0h1m.5 0h1m.5 0h1m21 0h1m-31 1h1m8.5 0h1m-11 .5h1m0 .5h1m2.5 0h1m1.5 0h1m3 0h1m-7.5 .5h1m2 0h1m12 0h1m-21.5 1h1m3.5 0h1m3 0h1m-9 .5h1m1.5 0h1m-2 .5h1m2 0h1m2 0h1m10.5 0h1m6.5 0h1m3 0h1m-32.5 .5h1m22 0h1m-19 .5h1m7 0h1m-6.5 .5h1m27 0h1m7 0h1m-40 .5h1m8 0h1m-8.5 1h1m-6.5 .5h1m2 0h1m-.5 0h1m-1.5 .5h1m25.5 0h1m-25 .5h1m-4.5 .5h1m6.5 .5h1m-8.5 1h1m-3.5 .5h1m8 .5h1m-4.5 .5h1m25 0h1m-.5 0h1m-27 1h1m14 0h1m5.5 1h1m17 0h1m-36.5 .5h1m8 0h1m-10.5 .5h1m12 0h1m-23 1h1m32.5 1h1m-12 1h1m-17.5 1h1m3.5 0h1m20 0h1m-.5 .5h1m9 0h1m-10 2.5h1m7.5 .5h1m-4.5 1h1m-35 1h1m14 1h1m25 0h1m-18.5 .5h1m-20 .5h1m-10 2h1m23 0h1m-18.5 .5h1m14 0h1m17 0h1m-19 .5h1m10 0h1m-8.5 .5h1" stroke="#6060c0" stroke-width="0.9" stroke-opacity="0.4"/>
<rect x="413.4" y="817" width="97.1" height="96.4" fill="none" stroke="#b4b4b4" stroke-width="0.8"/>
<line x1="413.4" y1="817" x2="413.4" y2="913.4" stroke="#555" stroke-width="0.9" />
<line x1="413.4" y1="913.4" x2="510.5" y2="913.4" stroke="#555" stroke-width="0.9" />
<path d="M411.4 825h2M411.4 848.8h2M411.4 875h2M411.4 891h2M411.4 907.5h2M413 913.4v2M435.5 913.4v2M456.5 913.4v2M477.5 913.4v2M498 913.4v2" stroke="#333" stroke-width="0.9"/>
<path d="M412.2 867.1h1.2M412.2 862.5h1.2M412.2 859.2h1.2M412.2 856.7h1.2M412.2 854.6h1.2M412.2 852.8h1.2M412.2 851.3h1.2M412.2 850h1.2M412.2 841.6h1.2M412.2 837.4h1.2M412.2 834.5h1.2M412.2 832.1h1.2M412.2 830.3h1.2M412.2 828.7h1.2M412.2 827.3h1.2M412.2 826.1h1.2M419.8 913.4v1.2M423.7 913.4v1.2M426.5 913.4v1.2M428.7 913.4v1.2M430.5 913.4v1.2M432 913.4v1.2M433.3 913.4v1.2M434.5 913.4v1.2M441.8 913.4v1.2M445.5 913.4v1.2M448.1 913.4v1.2M450.2 913.4v1.2M451.8 913.4v1.2M453.2 913.4v1.2M454.5 913.4v1.2M455.5 913.4v1.2M462.8 913.4v1.2M466.5 913.4v1.2M469.1 913.4v1.2M471.2 913.4v1.2M472.8 913.4v1.2M474.2 913.4v1.2M475.5 913.4v1.2M476.5 913.4v1.2M483.7 913.4v1.2M487.3 913.4v1.2M489.8 913.4v1.2M491.8 913.4v1.2M493.5 913.4v1.2M494.8 913.4v1.2M496 913.4v1.2M497.1 913.4v1.2" stroke="#666" stroke-width="0.6"/>
<text transform="translate(397.7,827.6) scale(1.08,1)" font-size="6.6" fill="#0a0a0a">10<tspan dy="-2.6" font-size="5.0">5</tspan></text>
<text transform="translate(397.7,851.4) scale(1.08,1)" font-size="6.6" fill="#0a0a0a">10<tspan dy="-2.6" font-size="5.0">4</tspan></text>
<text transform="translate(397.7,877.6) scale(1.08,1)" font-size="6.6" fill="#0a0a0a">10<tspan dy="-2.6" font-size="5.0">3</tspan></text>
<text x="408.6" y="893.6" font-size="7" text-anchor="end" fill="#0a0a0a" >0</text>
<rect x="411.5" y="889.3" width="2.3" height="3.4" fill="#111"/>
<text transform="translate(393.5,910.1) scale(1.08,1)" font-size="6.6" fill="#0a0a0a">&#8722;10<tspan dy="-2.6" font-size="5.0">3</tspan></text>
<text transform="translate(409,926.8) scale(1.08,1)" font-size="6.6" fill="#0a0a0a">10<tspan dy="-2.6" font-size="5.0">1</tspan></text>
<text transform="translate(431.5,926.8) scale(1.08,1)" font-size="6.6" fill="#0a0a0a">10<tspan dy="-2.6" font-size="5.0">2</tspan></text>
<text transform="translate(452.5,926.8) scale(1.08,1)" font-size="6.6" fill="#0a0a0a">10<tspan dy="-2.6" font-size="5.0">3</tspan></text>
<text transform="translate(473.5,926.8) scale(1.08,1)" font-size="6.6" fill="#0a0a0a">10<tspan dy="-2.6" font-size="5.0">4</tspan></text>
<text transform="translate(494,926.8) scale(1.08,1)" font-size="6.6" fill="#0a0a0a">10<tspan dy="-2.6" font-size="5.0">5</tspan></text>
<rect x="463.8" y="822" width="46.8" height="53.5" fill="none" stroke="#555" stroke-width="0.8"/>
<text x="485.5" y="866" font-size="4" text-anchor="middle" fill="#0a0a0a" >CD235a</text>
<text x="485.5" y="871.5" font-size="4" text-anchor="middle" fill="#0a0a0a" >0.028</text>
<text x="477.5" y="892.5" font-size="8.2" text-anchor="middle" fill="#0a0a0a" >CD235a+</text>
<text x="477.5" y="902.5" font-size="8.2" text-anchor="middle" fill="#0a0a0a" >0.028%</text>
<line x1="383.1" y1="939.2" x2="383.1" y2="917.8" stroke="#111" stroke-width="1.25" />
<polygon points="383.1,913 380.5,919 383.1,917.7 385.7,919" fill="#111"/>
<line x1="383.1" y1="939.2" x2="405.3" y2="939.2" stroke="#111" stroke-width="1.25" />
<polygon points="409.7,939.2 404.2,936.9 405.4,939.2 404.2,941.5" fill="#111"/>
<text transform="translate(386.2,905) rotate(-90) scale(0.602,1)" font-size="10.5" font-weight="bold" text-anchor="middle" fill="#111" stroke="#111" stroke-width="0.25">SSC</text>
<text transform="translate(413,942.3) scale(0.68,1)" font-size="10.5" font-weight="bold" text-anchor="start" fill="#111" stroke="#111" stroke-width="0.25">CD235a</text>
<path d="M0 0H520V958H0Z M1.1 1.1V956.4H518.8V1.1Z" fill="#1a1a1a" fill-rule="evenodd"/>
</svg></body></html>
